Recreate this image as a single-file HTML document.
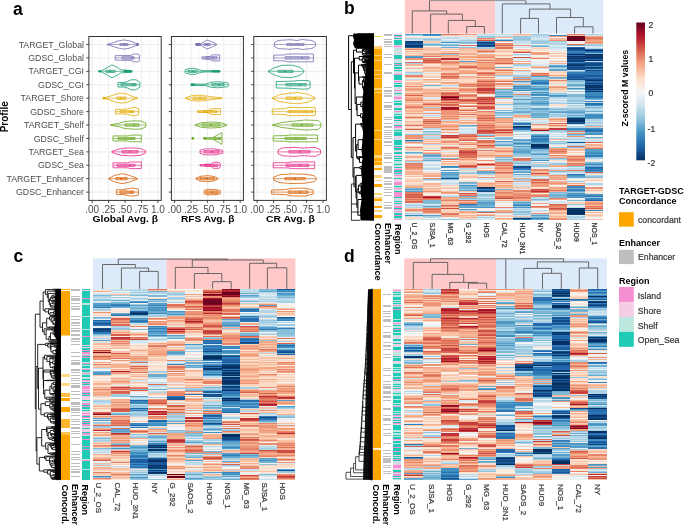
<!DOCTYPE html>
<html><head><meta charset="utf-8"><style>
html,body{margin:0;padding:0;background:#fff;}
body{width:685px;height:526px;position:relative;overflow:hidden;font-family:"Liberation Sans", sans-serif;}
#hm{position:absolute;left:0;top:0;width:685px;height:526px;filter:blur(0.4px);}
#hm div{position:absolute;}
svg{position:absolute;left:0;top:0;filter:blur(0.25px);}
svg text{font-family:"Liberation Sans", sans-serif;}
</style></head><body>
<div id="hm">
<div style="left:404.80px;top:33.60px;width:18.07px;height:186.60px;background:linear-gradient(to bottom,#579fca 0.0px 0.8px,#a2cde2 0.8px 1.6px,#b1d5e7 1.6px 2.4px,#edf2f5 2.4px 3.2px,#fce2d3 3.2px 4.1px,#b1d5e7 4.1px 4.9px,#c1ddec 4.9px 5.7px,#d1e5f0 5.7px 6.5px,#a2cde2 6.5px 7.3px,#0c3e74 7.3px 8.1px,#134b86 8.1px 9.7px,#2166ac 9.7px 10.5px,#134b86 10.5px 11.4px,#053061 11.4px 12.2px,#0c3e74 12.2px 13.0px,#1a5899 13.0px 13.8px,#f6b293 13.8px 14.6px,#f4a582 14.6px 15.4px,#e58268 15.4px 16.2px,#fce2d3 16.2px 17.0px,#f6b293 17.0px 17.8px,#fddbc7 17.8px 18.7px,#fbceb6 18.7px 19.5px,#fce2d3 19.5px 20.3px,#fddbc7 20.3px 21.1px,#f6b293 21.1px 21.9px,#579fca 21.9px 22.7px,#4393c3 22.7px 23.5px,#a2cde2 23.5px 24.3px,#ed9475 24.3px 26.0px,#f7f7f7 26.0px 26.8px,#e4eef4 26.8px 27.6px,#d6604d 27.6px 28.4px,#de715a 28.4px 29.2px,#a2cde2 29.2px 30.0px,#f6b293 30.0px 31.6px,#f7f7f7 31.6px 32.5px,#f4a582 32.5px 33.3px,#fce2d3 33.3px 34.1px,#f6b293 34.1px 34.9px,#edf2f5 34.9px 35.7px,#fae9df 35.7px 36.5px,#fbceb6 36.5px 37.3px,#fddbc7 37.3px 38.1px,#a2cde2 38.1px 38.9px,#c1ddec 38.9px 40.6px,#e4eef4 40.6px 41.4px,#e58268 41.4px 43.0px,#f8c0a4 43.0px 43.8px,#fae9df 43.8px 44.6px,#f8f0eb 44.6px 45.4px,#c1ddec 45.4px 46.2px,#fbceb6 46.2px 47.1px,#fae9df 47.1px 47.9px,#f8c0a4 47.9px 49.5px,#f4a582 49.5px 50.3px,#f6b293 50.3px 51.1px,#fddbc7 51.1px 51.9px,#e58268 51.9px 52.7px,#fbceb6 52.7px 53.5px,#f4a582 53.5px 55.2px,#ed9475 55.2px 56.0px,#f6b293 56.0px 56.8px,#f8c0a4 56.8px 57.6px,#f6b293 57.6px 58.4px,#fddbc7 58.4px 59.2px,#f4a582 59.2px 60.8px,#d6604d 60.8px 61.7px,#f8c0a4 61.7px 62.5px,#e58268 62.5px 63.3px,#f4a582 63.3px 64.9px,#ed9475 64.9px 65.7px,#e58268 65.7px 66.5px,#edf2f5 66.5px 67.3px,#f8c0a4 67.3px 68.1px,#f6b293 68.1px 69.0px,#fddbc7 69.0px 69.8px,#f6b293 69.8px 70.6px,#d1e5f0 70.6px 71.4px,#f6b293 71.4px 72.2px,#e58268 72.2px 73.8px,#f4a582 73.8px 74.6px,#fbceb6 74.6px 75.5px,#f8c0a4 75.5px 76.3px,#f6b293 76.3px 77.9px,#fbceb6 77.9px 78.7px,#f4a582 78.7px 79.5px,#f8c0a4 79.5px 80.3px,#fddbc7 80.3px 81.9px,#f8c0a4 81.9px 82.8px,#de715a 82.8px 83.6px,#f4a582 83.6px 84.4px,#f8c0a4 84.4px 85.2px,#fce2d3 85.2px 86.0px,#fae9df 86.0px 86.8px,#f6b293 86.8px 88.4px,#fddbc7 88.4px 89.2px,#fbceb6 89.2px 90.1px,#f8c0a4 90.1px 90.9px,#de715a 90.9px 91.7px,#fddbc7 91.7px 92.5px,#ed9475 92.5px 93.3px,#fce2d3 93.3px 94.1px,#f8c0a4 94.1px 94.9px,#d6604d 94.9px 95.7px,#daeaf2 95.7px 96.5px,#ed9475 96.5px 97.4px,#fddbc7 97.4px 98.2px,#fae9df 98.2px 99.0px,#e4eef4 99.0px 99.8px,#92c5de 99.8px 100.6px,#c1ddec 100.6px 101.4px,#ed9475 101.4px 104.7px,#fbceb6 104.7px 105.5px,#327db8 105.5px 106.3px,#2a71b2 106.3px 107.1px,#92c5de 107.1px 107.9px,#ed9475 107.9px 108.7px,#f8c0a4 108.7px 109.5px,#e58268 109.5px 110.3px,#f7f7f7 110.3px 111.1px,#edf2f5 111.1px 112.0px,#fddbc7 112.0px 112.8px,#e58268 112.8px 113.6px,#fddbc7 113.6px 114.4px,#fbceb6 114.4px 115.2px,#f8c0a4 115.2px 116.0px,#fddbc7 116.0px 116.8px,#fae9df 116.8px 117.6px,#6aacd0 117.6px 118.5px,#b1d5e7 118.5px 119.3px,#92c5de 119.3px 120.1px,#f8f0eb 120.1px 120.9px,#fddbc7 120.9px 121.7px,#f6b293 121.7px 122.5px,#fbceb6 122.5px 123.3px,#f6b293 123.3px 124.1px,#fce2d3 124.1px 124.9px,#fae9df 124.9px 125.8px,#f6b293 125.8px 127.4px,#a2cde2 127.4px 128.2px,#c1ddec 128.2px 129.0px,#e58268 129.0px 132.2px,#ed9475 132.2px 133.1px,#e58268 133.1px 133.9px,#ed9475 133.9px 134.7px,#f4a582 134.7px 135.5px,#f6b293 135.5px 136.3px,#fbceb6 136.3px 137.1px,#f6b293 137.1px 139.5px,#fbceb6 139.5px 140.4px,#f6b293 140.4px 141.2px,#fce2d3 141.2px 142.0px,#f8c0a4 142.0px 142.8px,#f8f0eb 142.8px 143.6px,#fddbc7 143.6px 144.4px,#fce2d3 144.4px 145.2px,#fbceb6 145.2px 146.8px,#f8c0a4 146.8px 147.7px,#fae9df 147.7px 148.5px,#fce2d3 148.5px 149.3px,#fddbc7 149.3px 150.9px,#f8c0a4 150.9px 151.7px,#f6b293 151.7px 152.5px,#f8c0a4 152.5px 153.3px,#f4a582 153.3px 154.1px,#7eb8d7 154.1px 155.0px,#579fca 155.0px 155.8px,#92c5de 155.8px 156.6px,#a2cde2 156.6px 157.4px,#579fca 157.4px 158.2px,#de715a 158.2px 159.0px,#ed9475 159.0px 159.8px,#cd4e45 159.8px 160.6px,#de715a 160.6px 162.3px,#d6604d 162.3px 163.9px,#ed9475 163.9px 164.7px,#de715a 164.7px 165.5px,#c43c3c 165.5px 166.3px,#ed9475 166.3px 167.1px,#d6604d 167.1px 167.9px,#de715a 167.9px 168.8px,#daeaf2 168.8px 169.6px,#c1ddec 169.6px 171.2px,#a2cde2 171.2px 172.0px,#d1e5f0 172.0px 172.8px,#b1d5e7 172.8px 173.6px,#fddbc7 173.6px 174.4px,#fbceb6 174.4px 175.2px,#ed9475 175.2px 176.1px,#e58268 176.1px 176.9px,#f8c0a4 176.9px 177.7px,#daeaf2 177.7px 178.5px,#d1e5f0 178.5px 179.3px,#b1d5e7 179.3px 180.1px,#c1ddec 180.1px 180.9px,#3a88bd 180.9px 181.7px,#c1ddec 181.7px 182.5px,#f4a582 182.5px 183.4px,#fddbc7 183.4px 185.0px,#d1e5f0 185.0px 186.6px)"></div>
<div style="left:422.85px;top:33.60px;width:18.07px;height:186.60px;background:linear-gradient(to bottom,#3a88bd 0.0px 0.8px,#4393c3 0.8px 1.6px,#e4eef4 1.6px 2.4px,#edf2f5 2.4px 3.2px,#fae9df 3.2px 4.1px,#b1d5e7 4.1px 4.9px,#92c5de 4.9px 5.7px,#b1d5e7 5.7px 6.5px,#d1e5f0 6.5px 7.3px,#fbceb6 7.3px 8.9px,#b1d5e7 8.9px 9.7px,#6aacd0 9.7px 10.5px,#7eb8d7 10.5px 11.4px,#92c5de 11.4px 12.2px,#edf2f5 12.2px 13.0px,#fbceb6 13.0px 13.8px,#f8c0a4 13.8px 14.6px,#f4a582 14.6px 15.4px,#f8c0a4 15.4px 17.0px,#fce2d3 17.0px 17.8px,#fbceb6 17.8px 18.7px,#f6b293 18.7px 19.5px,#f8c0a4 19.5px 20.3px,#ed9475 20.3px 21.1px,#f8c0a4 21.1px 21.9px,#de715a 21.9px 22.7px,#edf2f5 22.7px 23.5px,#f4a582 23.5px 24.3px,#de715a 24.3px 25.2px,#e58268 25.2px 26.0px,#cd4e45 26.0px 26.8px,#de715a 26.8px 27.6px,#f4a582 27.6px 28.4px,#d6604d 28.4px 29.2px,#f6b293 29.2px 30.0px,#fae9df 30.0px 30.8px,#fddbc7 30.8px 32.5px,#ed9475 32.5px 33.3px,#f4a582 33.3px 34.1px,#f6b293 34.1px 34.9px,#fbceb6 34.9px 35.7px,#f8c0a4 35.7px 38.1px,#e4eef4 38.1px 38.9px,#fbceb6 38.9px 39.8px,#fae9df 39.8px 40.6px,#fbceb6 40.6px 41.4px,#fce2d3 41.4px 42.2px,#fbceb6 42.2px 43.8px,#f7f7f7 43.8px 44.6px,#f8c0a4 44.6px 45.4px,#f4a582 45.4px 46.2px,#fbceb6 46.2px 47.9px,#f8c0a4 47.9px 48.7px,#f8f0eb 48.7px 49.5px,#fbceb6 49.5px 51.1px,#6aacd0 51.1px 51.9px,#e4eef4 51.9px 52.7px,#fce2d3 52.7px 53.5px,#fbceb6 53.5px 54.4px,#fddbc7 54.4px 55.2px,#f6b293 55.2px 56.8px,#f8c0a4 56.8px 57.6px,#fbceb6 57.6px 58.4px,#f4a582 58.4px 60.0px,#f6b293 60.0px 60.8px,#f8c0a4 60.8px 61.7px,#f6b293 61.7px 62.5px,#e58268 62.5px 63.3px,#daeaf2 63.3px 64.9px,#fddbc7 64.9px 65.7px,#f4a582 65.7px 66.5px,#f6b293 66.5px 67.3px,#fce2d3 67.3px 68.1px,#f6b293 68.1px 69.0px,#ed9475 69.0px 69.8px,#d6604d 69.8px 70.6px,#f4a582 70.6px 71.4px,#f6b293 71.4px 73.0px,#b1d5e7 73.0px 73.8px,#f4a582 73.8px 74.6px,#f6b293 74.6px 75.5px,#ed9475 75.5px 76.3px,#f4a582 76.3px 77.1px,#fae9df 77.1px 77.9px,#daeaf2 77.9px 78.7px,#ed9475 78.7px 79.5px,#fbceb6 79.5px 80.3px,#e4eef4 80.3px 81.1px,#b1d5e7 81.1px 81.9px,#daeaf2 81.9px 82.8px,#f8c0a4 82.8px 83.6px,#fce2d3 83.6px 85.2px,#e58268 85.2px 86.0px,#ed9475 86.0px 86.8px,#d6604d 86.8px 87.6px,#ed9475 87.6px 89.2px,#de715a 89.2px 90.1px,#f6b293 90.1px 90.9px,#ed9475 90.9px 91.7px,#f4a582 91.7px 92.5px,#edf2f5 92.5px 93.3px,#ed9475 93.3px 94.1px,#c1ddec 94.1px 95.7px,#edf2f5 95.7px 96.5px,#7eb8d7 96.5px 98.2px,#b1d5e7 98.2px 99.8px,#92c5de 99.8px 100.6px,#fce2d3 100.6px 101.4px,#f8c0a4 101.4px 102.2px,#c1ddec 102.2px 103.0px,#b1d5e7 103.0px 103.8px,#c1ddec 103.8px 104.7px,#f6b293 104.7px 105.5px,#fce2d3 105.5px 106.3px,#fddbc7 106.3px 107.1px,#f6b293 107.1px 107.9px,#fce2d3 107.9px 108.7px,#f4a582 108.7px 110.3px,#b1d5e7 110.3px 111.1px,#fce2d3 111.1px 112.8px,#fddbc7 112.8px 113.6px,#f8c0a4 113.6px 114.4px,#d1e5f0 114.4px 115.2px,#fce2d3 115.2px 116.0px,#ed9475 116.0px 116.8px,#f8f0eb 116.8px 117.6px,#f8c0a4 117.6px 118.5px,#ed9475 118.5px 120.1px,#7eb8d7 120.1px 120.9px,#579fca 120.9px 121.7px,#6aacd0 121.7px 122.5px,#b1d5e7 122.5px 123.3px,#c1ddec 123.3px 124.1px,#92c5de 124.1px 124.9px,#a2cde2 124.9px 125.8px,#6aacd0 125.8px 126.6px,#b1d5e7 126.6px 127.4px,#c1ddec 127.4px 128.2px,#edf2f5 128.2px 129.0px,#e4eef4 129.0px 129.8px,#daeaf2 129.8px 130.6px,#c1ddec 130.6px 132.2px,#f7f7f7 132.2px 133.1px,#d1e5f0 133.1px 133.9px,#b1d5e7 133.9px 134.7px,#c1ddec 134.7px 135.5px,#e4eef4 135.5px 136.3px,#edf2f5 136.3px 137.1px,#e4eef4 137.1px 137.9px,#fce2d3 137.9px 138.7px,#f6b293 138.7px 139.5px,#f4a582 139.5px 140.4px,#f8c0a4 140.4px 141.2px,#f4a582 141.2px 142.8px,#edf2f5 142.8px 143.6px,#fbceb6 143.6px 144.4px,#e58268 144.4px 145.2px,#92c5de 145.2px 146.0px,#c1ddec 146.0px 146.8px,#f7f7f7 146.8px 147.7px,#f8f0eb 147.7px 148.5px,#e4eef4 148.5px 149.3px,#f6b293 149.3px 150.9px,#fbceb6 150.9px 151.7px,#f8c0a4 151.7px 152.5px,#fae9df 152.5px 153.3px,#fce2d3 153.3px 154.1px,#f6b293 154.1px 155.0px,#f8c0a4 155.0px 156.6px,#f4a582 156.6px 157.4px,#ed9475 157.4px 158.2px,#fbceb6 158.2px 159.0px,#fce2d3 159.0px 159.8px,#f7f7f7 159.8px 160.6px,#e4eef4 160.6px 161.4px,#fddbc7 161.4px 162.3px,#c43c3c 162.3px 163.1px,#b2182b 163.1px 163.9px,#d6604d 163.9px 164.7px,#e58268 164.7px 165.5px,#a2cde2 165.5px 166.3px,#7eb8d7 166.3px 168.8px,#92c5de 168.8px 170.4px,#d1e5f0 170.4px 171.2px,#c1ddec 171.2px 172.0px,#579fca 172.0px 172.8px,#a2cde2 172.8px 173.6px,#b1d5e7 173.6px 174.4px,#e58268 174.4px 175.2px,#d6604d 175.2px 176.1px,#ed9475 176.1px 176.9px,#de715a 176.9px 177.7px,#ed9475 177.7px 178.5px,#f4a582 178.5px 179.3px,#f6b293 179.3px 180.1px,#edf2f5 180.1px 180.9px,#579fca 180.9px 181.7px,#a2cde2 181.7px 182.5px,#92c5de 182.5px 183.4px,#b1d5e7 183.4px 184.2px,#f8f0eb 184.2px 185.0px,#c1ddec 185.0px 185.8px,#daeaf2 185.8px 186.6px)"></div>
<div style="left:440.89px;top:33.60px;width:18.07px;height:186.60px;background:linear-gradient(to bottom,#e58268 0.0px 0.8px,#f8c0a4 0.8px 1.6px,#f4a582 1.6px 2.4px,#e4eef4 2.4px 3.2px,#c1ddec 3.2px 4.9px,#e4eef4 4.9px 5.7px,#d1e5f0 5.7px 6.5px,#e4eef4 6.5px 7.3px,#b1d5e7 7.3px 8.1px,#4393c3 8.1px 8.9px,#daeaf2 8.9px 9.7px,#92c5de 9.7px 10.5px,#7eb8d7 10.5px 11.4px,#6aacd0 11.4px 12.2px,#daeaf2 12.2px 13.0px,#6aacd0 13.0px 13.8px,#fddbc7 13.8px 14.6px,#fbceb6 14.6px 15.4px,#f8c0a4 15.4px 16.2px,#f7f7f7 16.2px 17.0px,#f6b293 17.0px 17.8px,#fbceb6 17.8px 18.7px,#e58268 18.7px 19.5px,#fae9df 19.5px 20.3px,#92c5de 20.3px 21.1px,#f4a582 21.1px 21.9px,#f6b293 21.9px 22.7px,#f8c0a4 22.7px 23.5px,#ed9475 23.5px 24.3px,#bb2a34 24.3px 26.0px,#fbceb6 26.0px 26.8px,#ed9475 26.8px 27.6px,#d6604d 27.6px 28.4px,#e58268 28.4px 29.2px,#ed9475 29.2px 30.0px,#f6b293 30.0px 30.8px,#f8c0a4 30.8px 31.6px,#fbceb6 31.6px 33.3px,#f8c0a4 33.3px 34.1px,#ed9475 34.1px 34.9px,#f4a582 34.9px 35.7px,#f6b293 35.7px 36.5px,#f8c0a4 36.5px 37.3px,#fbceb6 37.3px 38.9px,#e58268 38.9px 40.6px,#f6b293 40.6px 41.4px,#f4a582 41.4px 42.2px,#d6604d 42.2px 43.0px,#e58268 43.0px 44.6px,#fddbc7 44.6px 46.2px,#fbceb6 46.2px 47.1px,#fce2d3 47.1px 47.9px,#f4a582 47.9px 50.3px,#fddbc7 50.3px 51.1px,#b1d5e7 51.1px 51.9px,#daeaf2 51.9px 52.7px,#fbceb6 52.7px 53.5px,#f6b293 53.5px 54.4px,#f4a582 54.4px 55.2px,#fce2d3 55.2px 56.0px,#f4a582 56.0px 56.8px,#fddbc7 56.8px 58.4px,#e58268 58.4px 59.2px,#d6604d 59.2px 60.0px,#de715a 60.0px 60.8px,#e58268 60.8px 61.7px,#b2182b 61.7px 62.5px,#7a0622 62.5px 63.3px,#67001F 63.3px 64.1px,#c43c3c 64.1px 64.9px,#b2182b 64.9px 65.7px,#de715a 65.7px 66.5px,#e58268 66.5px 67.3px,#f4a582 67.3px 68.1px,#d6604d 68.1px 69.0px,#f4a582 69.0px 69.8px,#d6604d 69.8px 70.6px,#b2182b 70.6px 71.4px,#de715a 71.4px 72.2px,#f6b293 72.2px 73.0px,#9f1228 73.0px 74.6px,#b2182b 74.6px 75.5px,#f6b293 75.5px 76.3px,#ed9475 76.3px 81.1px,#f6b293 81.1px 81.9px,#e58268 81.9px 82.8px,#f6b293 82.8px 83.6px,#de715a 83.6px 84.4px,#e58268 84.4px 85.2px,#f6b293 85.2px 86.0px,#c1ddec 86.0px 86.8px,#f4a582 86.8px 87.6px,#ed9475 87.6px 88.4px,#f6b293 88.4px 89.2px,#fddbc7 89.2px 90.1px,#f6b293 90.1px 90.9px,#f4a582 90.9px 91.7px,#ed9475 91.7px 92.5px,#edf2f5 92.5px 93.3px,#f6b293 93.3px 94.1px,#f8c0a4 94.1px 94.9px,#e58268 94.9px 95.7px,#fbceb6 95.7px 97.4px,#e4eef4 97.4px 98.2px,#f4a582 98.2px 99.0px,#fae9df 99.0px 99.8px,#e4eef4 99.8px 101.4px,#c43c3c 101.4px 102.2px,#cd4e45 102.2px 103.0px,#c43c3c 103.0px 103.8px,#ed9475 103.8px 104.7px,#fae9df 104.7px 105.5px,#e58268 105.5px 106.3px,#f6b293 106.3px 107.1px,#ed9475 107.1px 108.7px,#fbceb6 108.7px 109.5px,#f8c0a4 109.5px 111.1px,#e4eef4 111.1px 112.0px,#f8c0a4 112.0px 112.8px,#de715a 112.8px 113.6px,#e58268 113.6px 115.2px,#f8c0a4 115.2px 116.0px,#fce2d3 116.0px 116.8px,#daeaf2 116.8px 117.6px,#fbceb6 117.6px 118.5px,#fce2d3 118.5px 119.3px,#f8f0eb 119.3px 120.1px,#f8c0a4 120.1px 121.7px,#f4a582 121.7px 122.5px,#3a88bd 122.5px 123.3px,#edf2f5 123.3px 124.1px,#7eb8d7 124.1px 124.9px,#de715a 124.9px 125.8px,#f8f0eb 125.8px 126.6px,#f4a582 126.6px 128.2px,#fce2d3 128.2px 129.0px,#f6b293 129.0px 129.8px,#fbceb6 129.8px 131.4px,#fddbc7 131.4px 132.2px,#3a88bd 132.2px 133.1px,#4393c3 133.1px 133.9px,#edf2f5 133.9px 135.5px,#f8c0a4 135.5px 136.3px,#4393c3 136.3px 137.1px,#edf2f5 137.1px 137.9px,#579fca 137.9px 138.7px,#6aacd0 138.7px 139.5px,#7eb8d7 139.5px 140.4px,#579fca 140.4px 141.2px,#6aacd0 141.2px 142.0px,#7eb8d7 142.0px 142.8px,#579fca 142.8px 143.6px,#6aacd0 143.6px 144.4px,#1a5899 144.4px 145.2px,#7eb8d7 145.2px 146.0px,#daeaf2 146.0px 146.8px,#e4eef4 146.8px 147.7px,#d1e5f0 147.7px 148.5px,#7eb8d7 148.5px 149.3px,#c1ddec 149.3px 150.1px,#d1e5f0 150.1px 150.9px,#fbceb6 150.9px 151.7px,#f8f0eb 151.7px 152.5px,#daeaf2 152.5px 153.3px,#fbceb6 153.3px 154.1px,#f8c0a4 154.1px 155.0px,#fae9df 155.0px 157.4px,#f8c0a4 157.4px 158.2px,#ed9475 158.2px 159.0px,#f4a582 159.0px 159.8px,#f8f0eb 159.8px 160.6px,#ed9475 160.6px 161.4px,#d1e5f0 161.4px 162.3px,#b1d5e7 162.3px 163.1px,#f4a582 163.1px 163.9px,#f6b293 163.9px 164.7px,#f4a582 164.7px 165.5px,#579fca 165.5px 166.3px,#e58268 166.3px 167.1px,#f8c0a4 167.1px 167.9px,#fbceb6 167.9px 168.8px,#f8c0a4 168.8px 169.6px,#f6b293 169.6px 170.4px,#fbceb6 170.4px 171.2px,#d6604d 171.2px 172.0px,#ed9475 172.0px 172.8px,#f8c0a4 172.8px 173.6px,#de715a 173.6px 174.4px,#cd4e45 174.4px 175.2px,#fbceb6 175.2px 176.1px,#fddbc7 176.1px 176.9px,#fbceb6 176.9px 178.5px,#f6b293 178.5px 179.3px,#e58268 179.3px 180.1px,#de715a 180.1px 180.9px,#f6b293 180.9px 181.7px,#f4a582 181.7px 183.4px,#edf2f5 183.4px 185.0px,#92c5de 185.0px 185.8px,#fae9df 185.8px 186.6px)"></div>
<div style="left:458.94px;top:33.60px;width:18.07px;height:186.60px;background:linear-gradient(to bottom,#ed9475 0.0px 0.8px,#e4eef4 0.8px 1.6px,#e58268 1.6px 2.4px,#fbceb6 2.4px 3.2px,#e4eef4 3.2px 4.1px,#d1e5f0 4.1px 5.7px,#a2cde2 5.7px 6.5px,#b1d5e7 6.5px 8.1px,#7eb8d7 8.1px 8.9px,#92c5de 8.9px 9.7px,#edf2f5 9.7px 10.5px,#f7f7f7 10.5px 11.4px,#de715a 11.4px 12.2px,#daeaf2 12.2px 13.0px,#92c5de 13.0px 13.8px,#f6b293 13.8px 14.6px,#fddbc7 14.6px 15.4px,#f8c0a4 15.4px 17.0px,#fbceb6 17.0px 18.7px,#f6b293 18.7px 20.3px,#f4a582 20.3px 21.1px,#fddbc7 21.1px 21.9px,#f4a582 21.9px 24.3px,#fbceb6 24.3px 25.2px,#f6b293 25.2px 26.0px,#fddbc7 26.0px 26.8px,#579fca 26.8px 27.6px,#6aacd0 27.6px 28.4px,#f6b293 28.4px 30.0px,#fbceb6 30.0px 30.8px,#f4a582 30.8px 31.6px,#de715a 31.6px 32.5px,#ed9475 32.5px 33.3px,#d6604d 33.3px 34.1px,#f4a582 34.1px 34.9px,#fddbc7 34.9px 35.7px,#f6b293 35.7px 36.5px,#fbceb6 36.5px 37.3px,#f4a582 37.3px 38.9px,#ed9475 38.9px 39.8px,#fce2d3 39.8px 40.6px,#ed9475 40.6px 41.4px,#e4eef4 41.4px 42.2px,#f4a582 42.2px 43.0px,#f8c0a4 43.0px 44.6px,#fddbc7 44.6px 47.9px,#fbceb6 47.9px 48.7px,#f6b293 48.7px 49.5px,#ed9475 49.5px 50.3px,#de715a 50.3px 51.1px,#ed9475 51.1px 51.9px,#e58268 51.9px 52.7px,#fddbc7 52.7px 53.5px,#f8c0a4 53.5px 54.4px,#f4a582 54.4px 55.2px,#e58268 55.2px 56.0px,#ed9475 56.0px 56.8px,#f4a582 56.8px 57.6px,#f8c0a4 57.6px 58.4px,#f6b293 58.4px 59.2px,#fae9df 59.2px 60.0px,#ed9475 60.0px 60.8px,#de715a 60.8px 61.7px,#e58268 61.7px 62.5px,#de715a 62.5px 63.3px,#f8c0a4 63.3px 64.9px,#d6604d 64.9px 65.7px,#cd4e45 65.7px 66.5px,#f4a582 66.5px 67.3px,#de715a 67.3px 68.1px,#f4a582 68.1px 69.0px,#ed9475 69.0px 69.8px,#f7f7f7 69.8px 70.6px,#f6b293 70.6px 71.4px,#f4a582 71.4px 72.2px,#d6604d 72.2px 73.0px,#fae9df 73.0px 73.8px,#fbceb6 73.8px 74.6px,#f6b293 74.6px 76.3px,#d6604d 76.3px 77.1px,#fddbc7 77.1px 77.9px,#f4a582 77.9px 78.7px,#f8c0a4 78.7px 80.3px,#de715a 80.3px 81.1px,#fddbc7 81.1px 81.9px,#f6b293 81.9px 82.8px,#fbceb6 82.8px 83.6px,#fce2d3 83.6px 84.4px,#fbceb6 84.4px 85.2px,#daeaf2 85.2px 86.0px,#f6b293 86.0px 86.8px,#fddbc7 86.8px 87.6px,#f8c0a4 87.6px 88.4px,#f4a582 88.4px 89.2px,#f6b293 89.2px 90.1px,#fddbc7 90.1px 90.9px,#6aacd0 90.9px 91.7px,#92c5de 91.7px 92.5px,#7eb8d7 92.5px 93.3px,#f8f0eb 93.3px 94.1px,#d1e5f0 94.1px 95.7px,#daeaf2 95.7px 96.5px,#e4eef4 96.5px 97.4px,#daeaf2 97.4px 98.2px,#d1e5f0 98.2px 99.0px,#c1ddec 99.0px 99.8px,#e58268 99.8px 100.6px,#f7f7f7 100.6px 101.4px,#de715a 101.4px 102.2px,#d6604d 102.2px 103.0px,#f4a582 103.0px 103.8px,#ed9475 103.8px 104.7px,#e58268 104.7px 105.5px,#c43c3c 105.5px 106.3px,#d6604d 106.3px 107.1px,#f7f7f7 107.1px 107.9px,#f4a582 107.9px 108.7px,#f6b293 108.7px 109.5px,#f8c0a4 109.5px 110.3px,#e58268 110.3px 111.1px,#fce2d3 111.1px 112.0px,#fbceb6 112.0px 112.8px,#fce2d3 112.8px 113.6px,#f4a582 113.6px 114.4px,#ed9475 114.4px 115.2px,#f4a582 115.2px 116.0px,#de715a 116.0px 116.8px,#cd4e45 116.8px 117.6px,#c43c3c 117.6px 118.5px,#cd4e45 118.5px 119.3px,#d6604d 119.3px 120.9px,#de715a 120.9px 124.1px,#f6b293 124.1px 124.9px,#ed9475 124.9px 125.8px,#f8c0a4 125.8px 127.4px,#fddbc7 127.4px 128.2px,#f8c0a4 128.2px 129.8px,#f6b293 129.8px 130.6px,#f4a582 130.6px 131.4px,#de715a 131.4px 132.2px,#c43c3c 132.2px 133.1px,#e58268 133.1px 133.9px,#b1d5e7 133.9px 134.7px,#c1ddec 134.7px 135.5px,#fddbc7 135.5px 136.3px,#fbceb6 136.3px 137.1px,#daeaf2 137.1px 137.9px,#a2cde2 137.9px 138.7px,#92c5de 138.7px 139.5px,#daeaf2 139.5px 140.4px,#fddbc7 140.4px 142.0px,#f8c0a4 142.0px 143.6px,#d1e5f0 143.6px 144.4px,#fce2d3 144.4px 145.2px,#f7f7f7 145.2px 146.0px,#fae9df 146.0px 146.8px,#fddbc7 146.8px 147.7px,#6aacd0 147.7px 148.5px,#92c5de 148.5px 149.3px,#7eb8d7 149.3px 150.1px,#c1ddec 150.1px 150.9px,#4393c3 150.9px 151.7px,#7eb8d7 151.7px 152.5px,#6aacd0 152.5px 154.1px,#7eb8d7 154.1px 155.0px,#92c5de 155.0px 155.8px,#6aacd0 155.8px 156.6px,#fbceb6 156.6px 157.4px,#f8c0a4 157.4px 158.2px,#e4eef4 158.2px 159.0px,#cd4e45 159.0px 159.8px,#ed9475 159.8px 161.4px,#de715a 161.4px 162.3px,#6aacd0 162.3px 163.1px,#f4a582 163.1px 163.9px,#7eb8d7 163.9px 164.7px,#b1d5e7 164.7px 165.5px,#92c5de 165.5px 166.3px,#de715a 166.3px 167.1px,#f8c0a4 167.1px 167.9px,#ed9475 167.9px 168.8px,#e58268 168.8px 169.6px,#f4a582 169.6px 170.4px,#2a71b2 170.4px 171.2px,#579fca 171.2px 172.0px,#6aacd0 172.0px 172.8px,#579fca 172.8px 173.6px,#4393c3 173.6px 174.4px,#f8f0eb 174.4px 175.2px,#4393c3 175.2px 176.1px,#c1ddec 176.1px 176.9px,#f4a582 176.9px 178.5px,#fddbc7 178.5px 179.3px,#fbceb6 179.3px 180.1px,#fce2d3 180.1px 180.9px,#f6b293 180.9px 181.7px,#fbceb6 181.7px 182.5px,#de715a 182.5px 183.4px,#f6b293 183.4px 184.2px,#fbceb6 184.2px 185.0px,#c1ddec 185.0px 185.8px,#f8c0a4 185.8px 186.6px)"></div>
<div style="left:476.98px;top:33.60px;width:18.07px;height:186.60px;background:linear-gradient(to bottom,#c1ddec 0.0px 0.8px,#d1e5f0 0.8px 1.6px,#7eb8d7 1.6px 2.4px,#92c5de 2.4px 3.2px,#a2cde2 3.2px 4.1px,#e58268 4.1px 4.9px,#f6b293 4.9px 5.7px,#cd4e45 5.7px 6.5px,#ed9475 6.5px 7.3px,#579fca 7.3px 8.1px,#0c3e74 8.1px 8.9px,#1a5899 8.9px 9.7px,#2166ac 9.7px 10.5px,#1a5899 10.5px 11.4px,#0c3e74 11.4px 12.2px,#1a5899 12.2px 13.0px,#a2cde2 13.0px 14.6px,#de715a 14.6px 15.4px,#f6b293 15.4px 16.2px,#f4a582 16.2px 17.0px,#de715a 17.0px 17.8px,#f6b293 17.8px 18.7px,#daeaf2 18.7px 19.5px,#ed9475 19.5px 20.3px,#f6b293 20.3px 21.1px,#f4a582 21.1px 22.7px,#e58268 22.7px 23.5px,#fbceb6 23.5px 25.2px,#f6b293 25.2px 26.0px,#e58268 26.0px 26.8px,#f8c0a4 26.8px 27.6px,#de715a 27.6px 28.4px,#e58268 28.4px 29.2px,#f4a582 29.2px 32.5px,#e58268 32.5px 33.3px,#ed9475 33.3px 34.1px,#e58268 34.1px 34.9px,#f4a582 34.9px 35.7px,#fbceb6 35.7px 36.5px,#f8c0a4 36.5px 37.3px,#fbceb6 37.3px 38.1px,#e58268 38.1px 38.9px,#d6604d 38.9px 39.8px,#ed9475 39.8px 40.6px,#e58268 40.6px 41.4px,#ed9475 41.4px 42.2px,#fddbc7 42.2px 43.0px,#e58268 43.0px 43.8px,#fddbc7 43.8px 44.6px,#f6b293 44.6px 45.4px,#f4a582 45.4px 46.2px,#ed9475 46.2px 47.1px,#d6604d 47.1px 47.9px,#ed9475 47.9px 48.7px,#e58268 48.7px 49.5px,#cd4e45 49.5px 50.3px,#de715a 50.3px 51.1px,#d6604d 51.1px 51.9px,#e58268 51.9px 52.7px,#ed9475 52.7px 53.5px,#c43c3c 53.5px 56.8px,#de715a 56.8px 58.4px,#cd4e45 58.4px 59.2px,#e58268 59.2px 60.0px,#fce2d3 60.0px 60.8px,#f8f0eb 60.8px 61.7px,#fbceb6 61.7px 62.5px,#d6604d 62.5px 63.3px,#cd4e45 63.3px 64.9px,#c43c3c 64.9px 65.7px,#de715a 65.7px 66.5px,#ed9475 66.5px 67.3px,#cd4e45 67.3px 68.1px,#e58268 68.1px 69.0px,#bb2a34 69.0px 69.8px,#ed9475 69.8px 70.6px,#d6604d 70.6px 71.4px,#f4a582 71.4px 72.2px,#d6604d 72.2px 73.0px,#cd4e45 73.0px 74.6px,#ed9475 74.6px 75.5px,#d6604d 75.5px 76.3px,#e4eef4 76.3px 77.1px,#e58268 77.1px 77.9px,#f4a582 77.9px 78.7px,#f6b293 78.7px 79.5px,#d6604d 79.5px 80.3px,#f6b293 80.3px 81.1px,#de715a 81.1px 81.9px,#ed9475 81.9px 82.8px,#e58268 82.8px 83.6px,#f4a582 83.6px 84.4px,#d6604d 84.4px 85.2px,#ed9475 85.2px 86.0px,#de715a 86.0px 86.8px,#f4a582 86.8px 87.6px,#92c5de 87.6px 88.4px,#f6b293 88.4px 89.2px,#ed9475 89.2px 90.1px,#f4a582 90.1px 90.9px,#d6604d 90.9px 91.7px,#ed9475 91.7px 92.5px,#f4a582 92.5px 93.3px,#de715a 93.3px 94.1px,#ed9475 94.1px 94.9px,#e58268 94.9px 95.7px,#cd4e45 95.7px 96.5px,#e58268 96.5px 97.4px,#c43c3c 97.4px 98.2px,#d6604d 98.2px 99.8px,#c1ddec 99.8px 100.6px,#e4eef4 100.6px 101.4px,#7eb8d7 101.4px 102.2px,#e58268 102.2px 103.0px,#fae9df 103.0px 103.8px,#92c5de 103.8px 104.7px,#edf2f5 104.7px 105.5px,#6aacd0 105.5px 106.3px,#de715a 106.3px 108.7px,#f4a582 108.7px 109.5px,#de715a 109.5px 110.3px,#f6b293 110.3px 111.1px,#cd4e45 111.1px 112.0px,#ed9475 112.0px 112.8px,#e58268 112.8px 113.6px,#fce2d3 113.6px 114.4px,#f8c0a4 114.4px 115.2px,#d1e5f0 115.2px 116.0px,#e58268 116.0px 116.8px,#fbceb6 116.8px 117.6px,#f8c0a4 117.6px 118.5px,#f4a582 118.5px 119.3px,#f8c0a4 119.3px 120.9px,#ed9475 120.9px 121.7px,#f6b293 121.7px 123.3px,#fbceb6 123.3px 124.1px,#edf2f5 124.1px 124.9px,#f8f0eb 124.9px 125.8px,#ed9475 125.8px 126.6px,#daeaf2 126.6px 127.4px,#fce2d3 127.4px 128.2px,#f7f7f7 128.2px 129.0px,#ed9475 129.0px 129.8px,#bb2a34 129.8px 130.6px,#b1d5e7 130.6px 131.4px,#ed9475 131.4px 132.2px,#fce2d3 132.2px 133.1px,#d1e5f0 133.1px 133.9px,#fbceb6 133.9px 134.7px,#f8f0eb 134.7px 135.5px,#fbceb6 135.5px 136.3px,#f4a582 136.3px 137.1px,#6aacd0 137.1px 137.9px,#579fca 137.9px 138.7px,#7eb8d7 138.7px 139.5px,#6aacd0 139.5px 140.4px,#b1d5e7 140.4px 141.2px,#fddbc7 141.2px 142.0px,#e4eef4 142.0px 142.8px,#ed9475 142.8px 143.6px,#f8f0eb 143.6px 144.4px,#d1e5f0 144.4px 146.0px,#edf2f5 146.0px 146.8px,#f8f0eb 146.8px 147.7px,#fbceb6 147.7px 148.5px,#f4a582 148.5px 150.1px,#f6b293 150.1px 152.5px,#ed9475 152.5px 153.3px,#053061 153.3px 154.1px,#0c3e74 154.1px 155.0px,#3a88bd 155.0px 155.8px,#1a5899 155.8px 156.6px,#053061 156.6px 157.4px,#134b86 157.4px 158.2px,#c1ddec 158.2px 159.0px,#d1e5f0 159.0px 159.8px,#92c5de 159.8px 160.6px,#d1e5f0 160.6px 161.4px,#92c5de 161.4px 162.3px,#b1d5e7 162.3px 163.1px,#d1e5f0 163.1px 163.9px,#92c5de 163.9px 164.7px,#b1d5e7 164.7px 165.5px,#579fca 165.5px 166.3px,#7eb8d7 166.3px 167.9px,#579fca 167.9px 170.4px,#6aacd0 170.4px 172.0px,#7eb8d7 172.0px 172.8px,#4393c3 172.8px 173.6px,#f6b293 173.6px 174.4px,#fae9df 174.4px 175.2px,#f7f7f7 175.2px 176.1px,#f8f0eb 176.1px 176.9px,#7eb8d7 176.9px 177.7px,#d6604d 177.7px 178.5px,#ed9475 178.5px 179.3px,#fae9df 179.3px 180.1px,#f8c0a4 180.1px 180.9px,#ed9475 180.9px 181.7px,#daeaf2 181.7px 182.5px,#f7f7f7 182.5px 183.4px,#a2cde2 183.4px 184.2px,#daeaf2 184.2px 185.8px,#fce2d3 185.8px 186.6px)"></div>
<div style="left:495.03px;top:33.60px;width:18.07px;height:186.60px;background:linear-gradient(to bottom,#c1ddec 0.0px 0.8px,#daeaf2 0.8px 1.6px,#a2cde2 1.6px 2.4px,#b1d5e7 2.4px 3.2px,#f6b293 3.2px 4.1px,#f7f7f7 4.1px 4.9px,#a2cde2 4.9px 5.7px,#327db8 5.7px 6.5px,#ed9475 6.5px 7.3px,#f8c0a4 7.3px 8.1px,#f7f7f7 8.1px 8.9px,#e58268 8.9px 9.7px,#ed9475 9.7px 10.5px,#e58268 10.5px 11.4px,#d6604d 11.4px 12.2px,#f6b293 12.2px 13.0px,#de715a 13.0px 14.6px,#fbceb6 14.6px 15.4px,#fddbc7 15.4px 16.2px,#fbceb6 16.2px 17.0px,#f8c0a4 17.0px 17.8px,#fddbc7 17.8px 18.7px,#fae9df 18.7px 20.3px,#fddbc7 20.3px 21.1px,#f6b293 21.1px 21.9px,#fddbc7 21.9px 22.7px,#fae9df 22.7px 23.5px,#f4a582 23.5px 24.3px,#e58268 24.3px 25.2px,#ed9475 25.2px 26.8px,#f4a582 26.8px 27.6px,#e58268 27.6px 28.4px,#ed9475 28.4px 29.2px,#d6604d 29.2px 30.0px,#f8c0a4 30.0px 30.8px,#f7f7f7 30.8px 31.6px,#fddbc7 31.6px 32.5px,#92c5de 32.5px 33.3px,#7eb8d7 33.3px 34.1px,#fce2d3 34.1px 34.9px,#f6b293 34.9px 35.7px,#de715a 35.7px 36.5px,#fbceb6 36.5px 38.1px,#f4a582 38.1px 38.9px,#f8c0a4 38.9px 39.8px,#f6b293 39.8px 40.6px,#a2cde2 40.6px 42.2px,#c1ddec 42.2px 43.0px,#edf2f5 43.0px 43.8px,#e4eef4 43.8px 44.6px,#fae9df 44.6px 45.4px,#fbceb6 45.4px 46.2px,#f6b293 46.2px 47.1px,#de715a 47.1px 47.9px,#fae9df 47.9px 48.7px,#ed9475 48.7px 49.5px,#f4a582 49.5px 50.3px,#e58268 50.3px 51.1px,#fbceb6 51.1px 51.9px,#f8c0a4 51.9px 52.7px,#edf2f5 52.7px 53.5px,#daeaf2 53.5px 54.4px,#f6b293 54.4px 55.2px,#6aacd0 55.2px 56.0px,#a2cde2 56.0px 56.8px,#7eb8d7 56.8px 57.6px,#a2cde2 57.6px 58.4px,#6aacd0 58.4px 59.2px,#7eb8d7 59.2px 60.8px,#92c5de 60.8px 61.7px,#4393c3 61.7px 62.5px,#6aacd0 62.5px 63.3px,#7eb8d7 63.3px 64.1px,#f6b293 64.1px 64.9px,#edf2f5 64.9px 65.7px,#daeaf2 65.7px 66.5px,#edf2f5 66.5px 67.3px,#f7f7f7 67.3px 68.1px,#fbceb6 68.1px 69.0px,#fddbc7 69.0px 69.8px,#92c5de 69.8px 70.6px,#c1ddec 70.6px 71.4px,#d1e5f0 71.4px 72.2px,#edf2f5 72.2px 73.0px,#e4eef4 73.0px 73.8px,#fddbc7 73.8px 74.6px,#f8f0eb 74.6px 75.5px,#f7f7f7 75.5px 76.3px,#7eb8d7 76.3px 77.1px,#daeaf2 77.1px 77.9px,#6aacd0 77.9px 78.7px,#92c5de 78.7px 79.5px,#a2cde2 79.5px 80.3px,#92c5de 80.3px 81.1px,#a2cde2 81.1px 81.9px,#e4eef4 81.9px 82.8px,#7eb8d7 82.8px 84.4px,#f4a582 84.4px 86.8px,#f6b293 86.8px 87.6px,#f8c0a4 87.6px 88.4px,#ed9475 88.4px 89.2px,#fbceb6 89.2px 90.1px,#f8c0a4 90.1px 90.9px,#f6b293 90.9px 91.7px,#f4a582 91.7px 92.5px,#ed9475 92.5px 94.1px,#f8c0a4 94.1px 94.9px,#de715a 94.9px 95.7px,#c43c3c 95.7px 96.5px,#f4a582 96.5px 97.4px,#f6b293 97.4px 98.2px,#c43c3c 98.2px 99.0px,#f4a582 99.0px 99.8px,#f6b293 99.8px 100.6px,#b1d5e7 100.6px 101.4px,#f6b293 101.4px 102.2px,#fce2d3 102.2px 103.0px,#92c5de 103.0px 103.8px,#7eb8d7 103.8px 104.7px,#92c5de 104.7px 105.5px,#579fca 105.5px 106.3px,#f8f0eb 106.3px 107.1px,#579fca 107.1px 107.9px,#a2cde2 107.9px 108.7px,#b1d5e7 108.7px 109.5px,#a2cde2 109.5px 110.3px,#7eb8d7 110.3px 111.1px,#579fca 111.1px 112.0px,#d1e5f0 112.0px 112.8px,#fbceb6 112.8px 114.4px,#f6b293 114.4px 115.2px,#f8c0a4 115.2px 116.0px,#f4a582 116.0px 116.8px,#e58268 116.8px 117.6px,#f8c0a4 117.6px 118.5px,#fbceb6 118.5px 120.9px,#ed9475 120.9px 121.7px,#f4a582 121.7px 122.5px,#92c5de 122.5px 123.3px,#7eb8d7 123.3px 124.1px,#c1ddec 124.1px 124.9px,#7eb8d7 124.9px 125.8px,#b1d5e7 125.8px 126.6px,#92c5de 126.6px 127.4px,#a2cde2 127.4px 128.2px,#e58268 128.2px 129.8px,#ed9475 129.8px 130.6px,#e58268 130.6px 131.4px,#de715a 131.4px 132.2px,#f4a582 132.2px 133.1px,#ed9475 133.1px 133.9px,#e58268 133.9px 134.7px,#f4a582 134.7px 135.5px,#de715a 135.5px 136.3px,#f4a582 136.3px 137.1px,#f8c0a4 137.1px 137.9px,#d6604d 137.9px 138.7px,#ed9475 138.7px 139.5px,#e58268 139.5px 140.4px,#f8c0a4 140.4px 142.8px,#f6b293 142.8px 143.6px,#fbceb6 143.6px 144.4px,#fddbc7 144.4px 145.2px,#fbceb6 145.2px 146.0px,#fce2d3 146.0px 146.8px,#d6604d 146.8px 147.7px,#f8c0a4 147.7px 148.5px,#fddbc7 148.5px 149.3px,#f6b293 149.3px 150.1px,#fbceb6 150.1px 150.9px,#f4a582 150.9px 151.7px,#f6b293 151.7px 152.5px,#fbceb6 152.5px 153.3px,#f6b293 153.3px 154.1px,#fbceb6 154.1px 155.0px,#7eb8d7 155.0px 155.8px,#f4a582 155.8px 156.6px,#e4eef4 156.6px 157.4px,#f6b293 157.4px 158.2px,#e58268 158.2px 159.0px,#ed9475 159.0px 159.8px,#f4a582 159.8px 160.6px,#e58268 160.6px 161.4px,#f4a582 161.4px 162.3px,#de715a 162.3px 163.9px,#cd4e45 163.9px 164.7px,#fbceb6 164.7px 165.5px,#f4a582 165.5px 167.1px,#e4eef4 167.1px 167.9px,#fddbc7 167.9px 168.8px,#edf2f5 168.8px 171.2px,#fae9df 171.2px 172.0px,#f7f7f7 172.0px 172.8px,#e58268 172.8px 173.6px,#edf2f5 173.6px 174.4px,#d1e5f0 174.4px 175.2px,#fae9df 175.2px 176.1px,#f6b293 176.1px 176.9px,#f4a582 176.9px 177.7px,#ed9475 177.7px 178.5px,#daeaf2 178.5px 179.3px,#d1e5f0 179.3px 180.1px,#edf2f5 180.1px 180.9px,#fbceb6 180.9px 182.5px,#f4a582 182.5px 183.4px,#edf2f5 183.4px 184.2px,#f4a582 184.2px 185.0px,#f8c0a4 185.0px 185.8px,#f4a582 185.8px 186.6px)"></div>
<div style="left:513.07px;top:33.60px;width:18.07px;height:186.60px;background:linear-gradient(to bottom,#f6b293 0.0px 0.8px,#fddbc7 0.8px 1.6px,#a2cde2 1.6px 2.4px,#92c5de 2.4px 3.2px,#a2cde2 3.2px 4.1px,#92c5de 4.1px 5.7px,#a2cde2 5.7px 6.5px,#6aacd0 6.5px 7.3px,#d1e5f0 7.3px 8.1px,#c1ddec 8.1px 8.9px,#d1e5f0 8.9px 9.7px,#e4eef4 9.7px 10.5px,#c43c3c 10.5px 11.4px,#ed9475 11.4px 12.2px,#e4eef4 12.2px 13.0px,#d1e5f0 13.0px 13.8px,#f7f7f7 13.8px 14.6px,#c1ddec 14.6px 15.4px,#f8c0a4 15.4px 16.2px,#fddbc7 16.2px 17.0px,#f4a582 17.0px 17.8px,#cd4e45 17.8px 18.7px,#edf2f5 18.7px 19.5px,#c1ddec 19.5px 20.3px,#a2cde2 20.3px 21.1px,#d1e5f0 21.1px 21.9px,#edf2f5 21.9px 22.7px,#cd4e45 22.7px 23.5px,#ed9475 23.5px 24.3px,#daeaf2 24.3px 25.2px,#d1e5f0 25.2px 26.0px,#edf2f5 26.0px 26.8px,#f4a582 26.8px 27.6px,#d1e5f0 27.6px 28.4px,#f7f7f7 28.4px 29.2px,#f4a582 29.2px 30.0px,#a2cde2 30.0px 31.6px,#d1e5f0 31.6px 32.5px,#ed9475 32.5px 33.3px,#edf2f5 33.3px 34.1px,#fddbc7 34.1px 34.9px,#f7f7f7 34.9px 35.7px,#f4a582 35.7px 36.5px,#fae9df 36.5px 37.3px,#c1ddec 37.3px 38.1px,#daeaf2 38.1px 38.9px,#fce2d3 38.9px 39.8px,#daeaf2 39.8px 40.6px,#d1e5f0 40.6px 41.4px,#a2cde2 41.4px 43.0px,#ed9475 43.0px 43.8px,#7eb8d7 43.8px 45.4px,#e58268 45.4px 46.2px,#f8c0a4 46.2px 47.1px,#4393c3 47.1px 47.9px,#b1d5e7 47.9px 48.7px,#c1ddec 48.7px 49.5px,#ed9475 49.5px 50.3px,#f6b293 50.3px 51.1px,#7eb8d7 51.1px 51.9px,#4393c3 51.9px 52.7px,#579fca 52.7px 53.5px,#4393c3 53.5px 55.2px,#7eb8d7 55.2px 56.0px,#3a88bd 56.0px 56.8px,#f8f0eb 56.8px 57.6px,#7eb8d7 57.6px 58.4px,#b1d5e7 58.4px 59.2px,#d1e5f0 59.2px 60.0px,#e58268 60.0px 60.8px,#a2cde2 60.8px 61.7px,#92c5de 61.7px 62.5px,#a2cde2 62.5px 63.3px,#c1ddec 63.3px 64.1px,#b1d5e7 64.1px 64.9px,#579fca 64.9px 65.7px,#a2cde2 65.7px 66.5px,#6aacd0 66.5px 67.3px,#b1d5e7 67.3px 68.1px,#92c5de 68.1px 69.0px,#6aacd0 69.0px 69.8px,#7eb8d7 69.8px 70.6px,#b1d5e7 70.6px 72.2px,#a2cde2 72.2px 73.0px,#b1d5e7 73.0px 73.8px,#7eb8d7 73.8px 74.6px,#92c5de 74.6px 75.5px,#7eb8d7 75.5px 76.3px,#a2cde2 76.3px 77.1px,#6aacd0 77.1px 78.7px,#a2cde2 78.7px 79.5px,#579fca 79.5px 80.3px,#b1d5e7 80.3px 81.1px,#f4a582 81.1px 82.8px,#f8c0a4 82.8px 83.6px,#fbceb6 83.6px 84.4px,#daeaf2 84.4px 85.2px,#e4eef4 85.2px 86.0px,#c1ddec 86.0px 86.8px,#e4eef4 86.8px 87.6px,#579fca 87.6px 88.4px,#7eb8d7 88.4px 89.2px,#2a71b2 89.2px 90.1px,#327db8 90.1px 90.9px,#a2cde2 90.9px 91.7px,#053061 91.7px 92.5px,#0c3e74 92.5px 93.3px,#134b86 93.3px 94.1px,#2a71b2 94.1px 95.7px,#92c5de 95.7px 96.5px,#daeaf2 96.5px 97.4px,#a2cde2 97.4px 98.2px,#f7f7f7 98.2px 99.0px,#e4eef4 99.0px 99.8px,#b1d5e7 99.8px 100.6px,#e4eef4 100.6px 101.4px,#f8f0eb 101.4px 102.2px,#d1e5f0 102.2px 103.0px,#edf2f5 103.0px 103.8px,#f8f0eb 103.8px 104.7px,#6aacd0 104.7px 105.5px,#7eb8d7 105.5px 106.3px,#579fca 106.3px 107.1px,#92c5de 107.1px 107.9px,#7eb8d7 107.9px 108.7px,#3a88bd 108.7px 109.5px,#579fca 109.5px 110.3px,#6aacd0 110.3px 111.1px,#b1d5e7 111.1px 112.0px,#579fca 112.0px 112.8px,#92c5de 112.8px 113.6px,#579fca 113.6px 114.4px,#7eb8d7 114.4px 115.2px,#6aacd0 115.2px 116.8px,#579fca 116.8px 118.5px,#4393c3 118.5px 119.3px,#7eb8d7 119.3px 120.1px,#92c5de 120.1px 120.9px,#a2cde2 120.9px 122.5px,#c1ddec 122.5px 123.3px,#f8f0eb 123.3px 124.1px,#de715a 124.1px 125.8px,#e58268 125.8px 126.6px,#b1d5e7 126.6px 127.4px,#a2cde2 127.4px 129.0px,#7eb8d7 129.0px 129.8px,#c1ddec 129.8px 131.4px,#a2cde2 131.4px 132.2px,#134b86 132.2px 133.9px,#2a71b2 133.9px 134.7px,#327db8 134.7px 136.3px,#a2cde2 136.3px 137.1px,#6aacd0 137.1px 137.9px,#579fca 137.9px 138.7px,#e4eef4 138.7px 139.5px,#f8f0eb 139.5px 140.4px,#6aacd0 140.4px 141.2px,#c1ddec 141.2px 142.0px,#b1d5e7 142.0px 142.8px,#d1e5f0 142.8px 143.6px,#a2cde2 143.6px 144.4px,#f4a582 144.4px 145.2px,#92c5de 145.2px 146.0px,#b1d5e7 146.0px 146.8px,#f4a582 146.8px 147.7px,#daeaf2 147.7px 148.5px,#b1d5e7 148.5px 149.3px,#c1ddec 149.3px 150.1px,#d1e5f0 150.1px 150.9px,#fddbc7 150.9px 151.7px,#c1ddec 151.7px 152.5px,#e4eef4 152.5px 153.3px,#f8c0a4 153.3px 154.1px,#fbceb6 154.1px 155.0px,#daeaf2 155.0px 155.8px,#e58268 155.8px 156.6px,#f8c0a4 156.6px 157.4px,#e58268 157.4px 158.2px,#f6b293 158.2px 159.0px,#ed9475 159.0px 161.4px,#e58268 161.4px 162.3px,#ed9475 162.3px 163.1px,#de715a 163.1px 163.9px,#e58268 163.9px 164.7px,#f6b293 164.7px 165.5px,#f4a582 165.5px 166.3px,#ed9475 166.3px 167.1px,#a2cde2 167.1px 167.9px,#579fca 167.9px 168.8px,#7eb8d7 168.8px 169.6px,#92c5de 169.6px 170.4px,#579fca 170.4px 171.2px,#327db8 171.2px 172.0px,#92c5de 172.0px 172.8px,#4393c3 172.8px 173.6px,#92c5de 173.6px 174.4px,#c1ddec 174.4px 175.2px,#a2cde2 175.2px 176.1px,#d1e5f0 176.1px 176.9px,#7eb8d7 176.9px 177.7px,#92c5de 177.7px 178.5px,#7eb8d7 178.5px 179.3px,#b1d5e7 179.3px 180.1px,#92c5de 180.1px 180.9px,#d1e5f0 180.9px 181.7px,#f8c0a4 181.7px 182.5px,#327db8 182.5px 183.4px,#92c5de 183.4px 184.2px,#0c3e74 184.2px 185.0px,#2a71b2 185.0px 185.8px,#7eb8d7 185.8px 186.6px)"></div>
<div style="left:531.12px;top:33.60px;width:18.07px;height:186.60px;background:linear-gradient(to bottom,#a2cde2 0.0px 0.8px,#b1d5e7 0.8px 2.4px,#c1ddec 2.4px 4.1px,#daeaf2 4.1px 4.9px,#d1e5f0 4.9px 5.7px,#b1d5e7 5.7px 7.3px,#92c5de 7.3px 8.1px,#a2cde2 8.1px 8.9px,#92c5de 8.9px 9.7px,#edf2f5 9.7px 10.5px,#f6b293 10.5px 11.4px,#92c5de 11.4px 12.2px,#6aacd0 12.2px 13.0px,#fce2d3 13.0px 13.8px,#fbceb6 13.8px 14.6px,#f6b293 14.6px 15.4px,#fae9df 15.4px 16.2px,#fddbc7 16.2px 17.0px,#f7f7f7 17.0px 17.8px,#f4a582 17.8px 18.7px,#ed9475 18.7px 19.5px,#d6604d 19.5px 20.3px,#f4a582 20.3px 21.1px,#f8f0eb 21.1px 21.9px,#edf2f5 21.9px 22.7px,#fbceb6 22.7px 24.3px,#e58268 24.3px 25.2px,#f8f0eb 25.2px 26.0px,#edf2f5 26.0px 28.4px,#e4eef4 28.4px 29.2px,#f8f0eb 29.2px 30.0px,#daeaf2 30.0px 30.8px,#d1e5f0 30.8px 31.6px,#f8c0a4 31.6px 32.5px,#ed9475 32.5px 34.1px,#d1e5f0 34.1px 34.9px,#f7f7f7 34.9px 35.7px,#edf2f5 35.7px 36.5px,#fbceb6 36.5px 37.3px,#f8f0eb 37.3px 38.1px,#fce2d3 38.1px 38.9px,#de715a 38.9px 39.8px,#ed9475 39.8px 40.6px,#d6604d 40.6px 41.4px,#de715a 41.4px 42.2px,#579fca 42.2px 43.0px,#a2cde2 43.0px 44.6px,#579fca 44.6px 45.4px,#92c5de 45.4px 46.2px,#4393c3 46.2px 47.9px,#327db8 47.9px 48.7px,#2a71b2 48.7px 49.5px,#6aacd0 49.5px 50.3px,#579fca 50.3px 51.1px,#b1d5e7 51.1px 51.9px,#6aacd0 51.9px 52.7px,#7eb8d7 52.7px 53.5px,#579fca 53.5px 54.4px,#4393c3 54.4px 56.0px,#7eb8d7 56.0px 56.8px,#a2cde2 56.8px 57.6px,#7eb8d7 57.6px 58.4px,#4393c3 58.4px 59.2px,#7eb8d7 59.2px 60.0px,#3a88bd 60.0px 60.8px,#4393c3 60.8px 61.7px,#d1e5f0 61.7px 62.5px,#579fca 62.5px 64.1px,#7eb8d7 64.1px 64.9px,#6aacd0 64.9px 65.7px,#92c5de 65.7px 66.5px,#6aacd0 66.5px 69.0px,#4393c3 69.0px 69.8px,#6aacd0 69.8px 70.6px,#92c5de 70.6px 71.4px,#7eb8d7 71.4px 72.2px,#daeaf2 72.2px 73.0px,#c1ddec 73.0px 73.8px,#6aacd0 73.8px 74.6px,#579fca 74.6px 76.3px,#92c5de 76.3px 77.1px,#7eb8d7 77.1px 77.9px,#92c5de 77.9px 78.7px,#6aacd0 78.7px 79.5px,#3a88bd 79.5px 80.3px,#6aacd0 80.3px 81.9px,#7eb8d7 81.9px 82.8px,#6aacd0 82.8px 83.6px,#579fca 83.6px 84.4px,#d1e5f0 84.4px 85.2px,#fbceb6 85.2px 86.0px,#daeaf2 86.0px 87.6px,#7eb8d7 87.6px 88.4px,#c1ddec 88.4px 89.2px,#d1e5f0 89.2px 90.1px,#ed9475 90.1px 90.9px,#fbceb6 90.9px 91.7px,#fae9df 91.7px 92.5px,#f7f7f7 92.5px 93.3px,#fae9df 93.3px 94.1px,#f6b293 94.1px 94.9px,#e58268 94.9px 95.7px,#9f1228 95.7px 96.5px,#92c5de 96.5px 97.4px,#b1d5e7 97.4px 98.2px,#fae9df 98.2px 99.0px,#d1e5f0 99.0px 99.8px,#7eb8d7 99.8px 100.6px,#a2cde2 100.6px 101.4px,#4393c3 101.4px 102.2px,#2a71b2 102.2px 103.0px,#579fca 103.0px 103.8px,#327db8 103.8px 105.5px,#2a71b2 105.5px 106.3px,#327db8 106.3px 107.1px,#3a88bd 107.1px 107.9px,#579fca 107.9px 108.7px,#6aacd0 108.7px 109.5px,#4393c3 109.5px 110.3px,#053061 110.3px 112.8px,#0c3e74 112.8px 113.6px,#053061 113.6px 114.4px,#1a5899 114.4px 115.2px,#7eb8d7 115.2px 116.8px,#92c5de 116.8px 117.6px,#a2cde2 117.6px 118.5px,#b1d5e7 118.5px 119.3px,#7eb8d7 119.3px 120.1px,#4393c3 120.1px 120.9px,#b1d5e7 120.9px 121.7px,#a2cde2 121.7px 122.5px,#579fca 122.5px 123.3px,#b1d5e7 123.3px 124.1px,#7eb8d7 124.1px 124.9px,#a2cde2 124.9px 125.8px,#4393c3 125.8px 126.6px,#7eb8d7 126.6px 127.4px,#edf2f5 127.4px 128.2px,#a2cde2 128.2px 129.0px,#fddbc7 129.0px 129.8px,#a2cde2 129.8px 130.6px,#c1ddec 130.6px 131.4px,#a2cde2 131.4px 132.2px,#92c5de 132.2px 133.1px,#daeaf2 133.1px 133.9px,#f8f0eb 133.9px 134.7px,#ed9475 134.7px 135.5px,#f4a582 135.5px 136.3px,#e58268 136.3px 137.1px,#f8c0a4 137.1px 137.9px,#f6b293 137.9px 138.7px,#cd4e45 138.7px 139.5px,#fce2d3 139.5px 140.4px,#f4a582 140.4px 141.2px,#f6b293 141.2px 142.0px,#c1ddec 142.0px 142.8px,#e4eef4 142.8px 143.6px,#f6b293 143.6px 144.4px,#c1ddec 144.4px 145.2px,#de715a 145.2px 146.0px,#d6604d 146.0px 146.8px,#f6b293 146.8px 147.7px,#d6604d 147.7px 148.5px,#f4a582 148.5px 149.3px,#ed9475 149.3px 150.1px,#f4a582 150.1px 150.9px,#ed9475 150.9px 151.7px,#f4a582 151.7px 152.5px,#f7f7f7 152.5px 153.3px,#fce2d3 153.3px 154.1px,#fddbc7 154.1px 155.0px,#cd4e45 155.0px 155.8px,#d6604d 155.8px 156.6px,#cd4e45 156.6px 157.4px,#bb2a34 157.4px 158.2px,#de715a 158.2px 159.0px,#fae9df 159.0px 159.8px,#f4a582 159.8px 160.6px,#ed9475 160.6px 161.4px,#e58268 161.4px 163.1px,#c1ddec 163.1px 164.7px,#7eb8d7 164.7px 165.5px,#a2cde2 165.5px 166.3px,#b1d5e7 166.3px 167.1px,#e4eef4 167.1px 168.8px,#f4a582 168.8px 169.6px,#cd4e45 169.6px 170.4px,#f8f0eb 170.4px 171.2px,#edf2f5 171.2px 172.0px,#de715a 172.0px 172.8px,#ed9475 172.8px 173.6px,#fae9df 173.6px 174.4px,#f8f0eb 174.4px 175.2px,#f7f7f7 175.2px 176.1px,#c1ddec 176.1px 176.9px,#daeaf2 176.9px 177.7px,#fae9df 177.7px 178.5px,#edf2f5 178.5px 179.3px,#ed9475 179.3px 180.1px,#a2cde2 180.1px 180.9px,#579fca 180.9px 181.7px,#92c5de 181.7px 182.5px,#2166ac 182.5px 183.4px,#6aacd0 183.4px 184.2px,#3a88bd 184.2px 185.0px,#6aacd0 185.0px 185.8px,#ed9475 185.8px 186.6px)"></div>
<div style="left:549.16px;top:33.60px;width:18.07px;height:186.60px;background:linear-gradient(to bottom,#f7f7f7 0.0px 0.8px,#3a88bd 0.8px 2.4px,#ed9475 2.4px 3.2px,#f7f7f7 3.2px 4.1px,#f6b293 4.1px 4.9px,#f8c0a4 4.9px 5.7px,#ed9475 5.7px 6.5px,#c1ddec 6.5px 7.3px,#a2cde2 7.3px 8.1px,#c1ddec 8.1px 8.9px,#b1d5e7 8.9px 11.4px,#daeaf2 11.4px 12.2px,#d1e5f0 12.2px 13.0px,#c1ddec 13.0px 13.8px,#d1e5f0 13.8px 14.6px,#fce2d3 14.6px 15.4px,#daeaf2 15.4px 16.2px,#e4eef4 16.2px 17.0px,#fce2d3 17.0px 17.8px,#fae9df 17.8px 18.7px,#f8c0a4 18.7px 19.5px,#f4a582 19.5px 20.3px,#edf2f5 20.3px 21.1px,#fbceb6 21.1px 22.7px,#f8f0eb 22.7px 23.5px,#7eb8d7 23.5px 24.3px,#fce2d3 24.3px 25.2px,#f7f7f7 25.2px 26.0px,#fae9df 26.0px 26.8px,#f8c0a4 26.8px 27.6px,#fae9df 27.6px 28.4px,#e4eef4 28.4px 29.2px,#f6b293 29.2px 30.0px,#d1e5f0 30.0px 30.8px,#6aacd0 30.8px 31.6px,#4393c3 31.6px 32.5px,#92c5de 32.5px 34.1px,#b1d5e7 34.1px 34.9px,#6aacd0 34.9px 35.7px,#579fca 35.7px 36.5px,#3a88bd 36.5px 37.3px,#fddbc7 37.3px 38.1px,#fbceb6 38.1px 38.9px,#fce2d3 38.9px 39.8px,#fddbc7 39.8px 40.6px,#ed9475 40.6px 41.4px,#f4a582 41.4px 42.2px,#fbceb6 42.2px 43.0px,#6aacd0 43.0px 43.8px,#7eb8d7 43.8px 44.6px,#fce2d3 44.6px 45.4px,#fddbc7 45.4px 46.2px,#e58268 46.2px 47.1px,#fbceb6 47.1px 47.9px,#fddbc7 47.9px 49.5px,#e58268 49.5px 50.3px,#daeaf2 50.3px 51.1px,#fce2d3 51.1px 51.9px,#f6b293 51.9px 52.7px,#ed9475 52.7px 53.5px,#f4a582 53.5px 54.4px,#f8c0a4 54.4px 55.2px,#fbceb6 55.2px 56.8px,#fddbc7 56.8px 57.6px,#f8c0a4 57.6px 58.4px,#d1e5f0 58.4px 59.2px,#92c5de 59.2px 60.0px,#a2cde2 60.0px 60.8px,#4393c3 60.8px 61.7px,#579fca 61.7px 62.5px,#7eb8d7 62.5px 63.3px,#b1d5e7 63.3px 64.1px,#c1ddec 64.1px 64.9px,#daeaf2 64.9px 65.7px,#c1ddec 65.7px 66.5px,#daeaf2 66.5px 68.1px,#c1ddec 68.1px 69.0px,#a2cde2 69.0px 69.8px,#fce2d3 69.8px 70.6px,#f7f7f7 70.6px 71.4px,#fce2d3 71.4px 72.2px,#fae9df 72.2px 73.0px,#d1e5f0 73.0px 73.8px,#a2cde2 73.8px 74.6px,#7eb8d7 74.6px 75.5px,#a2cde2 75.5px 76.3px,#b1d5e7 76.3px 77.1px,#6aacd0 77.1px 77.9px,#579fca 77.9px 78.7px,#c1ddec 78.7px 79.5px,#92c5de 79.5px 81.1px,#b1d5e7 81.1px 81.9px,#92c5de 81.9px 82.8px,#daeaf2 82.8px 83.6px,#d1e5f0 83.6px 84.4px,#f6b293 84.4px 85.2px,#ed9475 85.2px 86.0px,#f8c0a4 86.0px 86.8px,#f6b293 86.8px 88.4px,#f8f0eb 88.4px 89.2px,#d6604d 89.2px 90.1px,#fbceb6 90.1px 90.9px,#e58268 90.9px 91.7px,#f8c0a4 91.7px 92.5px,#fce2d3 92.5px 93.3px,#fddbc7 93.3px 94.1px,#c43c3c 94.1px 95.7px,#92c5de 95.7px 96.5px,#4393c3 96.5px 97.4px,#a2cde2 97.4px 98.2px,#c1ddec 98.2px 99.0px,#edf2f5 99.0px 99.8px,#d1e5f0 99.8px 100.6px,#a2cde2 100.6px 101.4px,#e4eef4 101.4px 102.2px,#c1ddec 102.2px 103.0px,#edf2f5 103.0px 103.8px,#b1d5e7 103.8px 104.7px,#f6b293 104.7px 105.5px,#f4a582 105.5px 106.3px,#edf2f5 106.3px 107.1px,#a2cde2 107.1px 107.9px,#b1d5e7 107.9px 108.7px,#92c5de 108.7px 109.5px,#b1d5e7 109.5px 110.3px,#d1e5f0 110.3px 111.1px,#fae9df 111.1px 112.8px,#a2cde2 112.8px 113.6px,#92c5de 113.6px 114.4px,#f4a582 114.4px 115.2px,#e58268 115.2px 116.0px,#ed9475 116.0px 116.8px,#de715a 116.8px 117.6px,#ed9475 117.6px 118.5px,#f4a582 118.5px 119.3px,#ed9475 119.3px 120.1px,#f8f0eb 120.1px 120.9px,#e58268 120.9px 121.7px,#f8c0a4 121.7px 122.5px,#d6604d 122.5px 123.3px,#f4a582 123.3px 124.1px,#7eb8d7 124.1px 124.9px,#b1d5e7 124.9px 125.8px,#fddbc7 125.8px 126.6px,#c1ddec 126.6px 127.4px,#edf2f5 127.4px 128.2px,#d1e5f0 128.2px 129.0px,#a2cde2 129.0px 129.8px,#92c5de 129.8px 130.6px,#e4eef4 130.6px 131.4px,#f6b293 131.4px 132.2px,#f4a582 132.2px 133.1px,#edf2f5 133.1px 133.9px,#d1e5f0 133.9px 134.7px,#c1ddec 134.7px 135.5px,#daeaf2 135.5px 136.3px,#f4a582 136.3px 137.1px,#7eb8d7 137.1px 137.9px,#c1ddec 137.9px 138.7px,#daeaf2 138.7px 139.5px,#e4eef4 139.5px 140.4px,#c1ddec 140.4px 141.2px,#ed9475 141.2px 142.0px,#f6b293 142.0px 142.8px,#f4a582 142.8px 143.6px,#de715a 143.6px 144.4px,#f4a582 144.4px 146.0px,#daeaf2 146.0px 146.8px,#f6b293 146.8px 147.7px,#f4a582 147.7px 148.5px,#f8c0a4 148.5px 149.3px,#ed9475 149.3px 150.1px,#f6b293 150.1px 150.9px,#f7f7f7 150.9px 151.7px,#fce2d3 151.7px 152.5px,#f4a582 152.5px 155.0px,#f6b293 155.0px 155.8px,#de715a 155.8px 157.4px,#f6b293 157.4px 158.2px,#7eb8d7 158.2px 159.0px,#92c5de 159.0px 159.8px,#7eb8d7 159.8px 161.4px,#6aacd0 161.4px 162.3px,#7eb8d7 162.3px 163.9px,#e58268 163.9px 164.7px,#f4a582 164.7px 166.3px,#f7f7f7 166.3px 167.1px,#daeaf2 167.1px 167.9px,#d1e5f0 167.9px 168.8px,#e4eef4 168.8px 169.6px,#edf2f5 169.6px 170.4px,#d6604d 170.4px 171.2px,#e58268 171.2px 172.8px,#ed9475 172.8px 173.6px,#e58268 173.6px 174.4px,#cd4e45 174.4px 175.2px,#de715a 175.2px 176.1px,#f4a582 176.1px 176.9px,#fddbc7 176.9px 177.7px,#f4a582 177.7px 179.3px,#f6b293 179.3px 180.1px,#fddbc7 180.1px 180.9px,#fbceb6 180.9px 181.7px,#f6b293 181.7px 182.5px,#f4a582 182.5px 183.4px,#fbceb6 183.4px 184.2px,#ed9475 184.2px 185.8px,#f6b293 185.8px 186.6px)"></div>
<div style="left:567.21px;top:33.60px;width:18.07px;height:186.60px;background:linear-gradient(to bottom,#e58268 0.0px 0.8px,#f8c0a4 0.8px 1.6px,#de715a 1.6px 2.4px,#67001F 2.4px 3.2px,#7a0622 3.2px 4.1px,#67001F 4.1px 7.3px,#edf2f5 7.3px 8.1px,#f8f0eb 8.1px 8.9px,#fae9df 8.9px 9.7px,#de715a 9.7px 10.5px,#daeaf2 10.5px 11.4px,#7eb8d7 11.4px 12.2px,#f8f0eb 12.2px 13.0px,#2166ac 13.0px 13.8px,#0c3e74 13.8px 14.6px,#1a5899 14.6px 17.0px,#3a88bd 17.0px 17.8px,#327db8 17.8px 18.7px,#2a71b2 18.7px 19.5px,#327db8 19.5px 20.3px,#053061 20.3px 21.1px,#2a71b2 21.1px 21.9px,#053061 21.9px 22.7px,#134b86 22.7px 23.5px,#1a5899 23.5px 24.3px,#053061 24.3px 25.2px,#1a5899 25.2px 26.0px,#0c3e74 26.0px 26.8px,#134b86 26.8px 27.6px,#2166ac 27.6px 28.4px,#3a88bd 28.4px 29.2px,#1a5899 29.2px 30.0px,#0c3e74 30.0px 30.8px,#053061 30.8px 31.6px,#2166ac 31.6px 32.5px,#053061 32.5px 33.3px,#0c3e74 33.3px 34.1px,#1a5899 34.1px 34.9px,#134b86 34.9px 35.7px,#d1e5f0 35.7px 36.5px,#c1ddec 36.5px 37.3px,#7eb8d7 37.3px 38.1px,#327db8 38.1px 39.8px,#2166ac 39.8px 40.6px,#3a88bd 40.6px 41.4px,#2166ac 41.4px 43.0px,#134b86 43.0px 43.8px,#2a71b2 43.8px 44.6px,#0c3e74 44.6px 45.4px,#134b86 45.4px 46.2px,#7eb8d7 46.2px 47.9px,#b1d5e7 47.9px 49.5px,#92c5de 49.5px 50.3px,#6aacd0 50.3px 51.9px,#92c5de 51.9px 52.7px,#d1e5f0 52.7px 53.5px,#4393c3 53.5px 55.2px,#92c5de 55.2px 56.0px,#f7f7f7 56.0px 56.8px,#a2cde2 56.8px 57.6px,#c1ddec 57.6px 58.4px,#e4eef4 58.4px 59.2px,#edf2f5 59.2px 60.0px,#7eb8d7 60.0px 62.5px,#daeaf2 62.5px 63.3px,#a2cde2 63.3px 64.1px,#b1d5e7 64.1px 64.9px,#a2cde2 64.9px 65.7px,#92c5de 65.7px 66.5px,#579fca 66.5px 67.3px,#92c5de 67.3px 68.1px,#c1ddec 68.1px 69.0px,#7eb8d7 69.0px 69.8px,#e4eef4 69.8px 70.6px,#4393c3 70.6px 71.4px,#a2cde2 71.4px 72.2px,#d1e5f0 72.2px 73.0px,#c1ddec 73.0px 73.8px,#a2cde2 73.8px 75.5px,#579fca 75.5px 76.3px,#7eb8d7 76.3px 77.1px,#6aacd0 77.1px 77.9px,#579fca 77.9px 78.7px,#7eb8d7 78.7px 79.5px,#f8f0eb 79.5px 80.3px,#a2cde2 80.3px 81.1px,#6aacd0 81.1px 81.9px,#92c5de 81.9px 82.8px,#4393c3 82.8px 83.6px,#7eb8d7 83.6px 84.4px,#053061 84.4px 85.2px,#0c3e74 85.2px 86.0px,#053061 86.0px 88.4px,#1a5899 88.4px 89.2px,#134b86 89.2px 90.1px,#c1ddec 90.1px 90.9px,#edf2f5 90.9px 91.7px,#b1d5e7 91.7px 92.5px,#7eb8d7 92.5px 93.3px,#b1d5e7 93.3px 94.1px,#4393c3 94.1px 94.9px,#3a88bd 94.9px 95.7px,#6aacd0 95.7px 96.5px,#ed9475 96.5px 97.4px,#de715a 97.4px 98.2px,#c1ddec 98.2px 99.0px,#ed9475 99.0px 99.8px,#6aacd0 99.8px 100.6px,#7eb8d7 100.6px 101.4px,#92c5de 101.4px 102.2px,#ed9475 102.2px 103.0px,#d1e5f0 103.0px 103.8px,#c1ddec 103.8px 104.7px,#a2cde2 104.7px 105.5px,#d1e5f0 105.5px 106.3px,#daeaf2 106.3px 107.1px,#b1d5e7 107.1px 107.9px,#1a5899 107.9px 108.7px,#c1ddec 108.7px 109.5px,#134b86 109.5px 110.3px,#d1e5f0 110.3px 111.1px,#b1d5e7 111.1px 112.0px,#de715a 112.0px 112.8px,#7eb8d7 112.8px 113.6px,#f6b293 113.6px 114.4px,#fbceb6 114.4px 115.2px,#f6b293 115.2px 116.0px,#f8c0a4 116.0px 116.8px,#f8f0eb 116.8px 117.6px,#fbceb6 117.6px 118.5px,#de715a 118.5px 119.3px,#f8f0eb 119.3px 120.1px,#fce2d3 120.1px 120.9px,#fbceb6 120.9px 121.7px,#de715a 121.7px 123.3px,#f4a582 123.3px 124.1px,#ed9475 124.1px 124.9px,#de715a 124.9px 125.8px,#e58268 125.8px 126.6px,#d6604d 126.6px 127.4px,#f4a582 127.4px 128.2px,#f8c0a4 128.2px 129.0px,#e58268 129.0px 130.6px,#d6604d 130.6px 131.4px,#e58268 131.4px 132.2px,#92c5de 132.2px 133.1px,#d1e5f0 133.1px 133.9px,#b1d5e7 133.9px 134.7px,#c1ddec 134.7px 135.5px,#f8c0a4 135.5px 136.3px,#de715a 136.3px 137.1px,#b1d5e7 137.1px 138.7px,#daeaf2 138.7px 140.4px,#2a71b2 140.4px 141.2px,#4393c3 141.2px 142.0px,#579fca 142.0px 142.8px,#6aacd0 142.8px 143.6px,#579fca 143.6px 144.4px,#daeaf2 144.4px 145.2px,#edf2f5 145.2px 146.0px,#fae9df 146.0px 146.8px,#92c5de 146.8px 147.7px,#edf2f5 147.7px 148.5px,#e4eef4 148.5px 149.3px,#f4a582 149.3px 150.1px,#fddbc7 150.1px 150.9px,#de715a 150.9px 151.7px,#3a88bd 151.7px 152.5px,#4393c3 152.5px 153.3px,#3a88bd 153.3px 154.1px,#6aacd0 154.1px 155.0px,#3a88bd 155.0px 155.8px,#327db8 155.8px 156.6px,#3a88bd 156.6px 157.4px,#6aacd0 157.4px 158.2px,#a2cde2 158.2px 159.0px,#4393c3 159.0px 159.8px,#579fca 159.8px 160.6px,#3a88bd 160.6px 161.4px,#327db8 161.4px 162.3px,#579fca 162.3px 163.1px,#4393c3 163.1px 163.9px,#f8f0eb 163.9px 164.7px,#e4eef4 164.7px 165.5px,#fbceb6 165.5px 166.3px,#7eb8d7 166.3px 167.1px,#edf2f5 167.1px 167.9px,#fbceb6 167.9px 169.6px,#d1e5f0 169.6px 170.4px,#a2cde2 170.4px 171.2px,#d1e5f0 171.2px 172.0px,#f7f7f7 172.0px 172.8px,#c1ddec 172.8px 173.6px,#a2cde2 173.6px 174.4px,#053061 174.4px 175.2px,#0c3e74 175.2px 176.1px,#053061 176.1px 180.1px,#0c3e74 180.1px 180.9px,#daeaf2 180.9px 181.7px,#b1d5e7 181.7px 183.4px,#a2cde2 183.4px 184.2px,#d1e5f0 184.2px 185.0px,#a2cde2 185.0px 185.8px,#b1d5e7 185.8px 186.6px)"></div>
<div style="left:585.25px;top:33.60px;width:18.07px;height:186.60px;background:linear-gradient(to bottom,#b1d5e7 0.0px 0.8px,#d1e5f0 0.8px 1.6px,#f4a582 1.6px 3.2px,#e58268 3.2px 4.1px,#de715a 4.1px 4.9px,#ed9475 4.9px 5.7px,#f4a582 5.7px 6.5px,#f8c0a4 6.5px 7.3px,#f4a582 7.3px 8.1px,#ed9475 8.1px 8.9px,#f4a582 8.9px 9.7px,#b1d5e7 9.7px 10.5px,#c1ddec 10.5px 11.4px,#92c5de 11.4px 12.2px,#daeaf2 12.2px 13.8px,#b1d5e7 13.8px 14.6px,#2166ac 14.6px 16.2px,#053061 16.2px 17.0px,#2166ac 17.0px 17.8px,#327db8 17.8px 18.7px,#7eb8d7 18.7px 19.5px,#0c3e74 19.5px 20.3px,#053061 20.3px 21.1px,#0c3e74 21.1px 22.7px,#053061 22.7px 24.3px,#0c3e74 24.3px 25.2px,#2166ac 25.2px 26.0px,#053061 26.0px 26.8px,#c1ddec 26.8px 27.6px,#0c3e74 27.6px 28.4px,#2166ac 28.4px 29.2px,#134b86 29.2px 31.6px,#3a88bd 31.6px 32.5px,#2166ac 32.5px 33.3px,#0c3e74 33.3px 34.1px,#134b86 34.1px 34.9px,#579fca 34.9px 35.7px,#134b86 35.7px 36.5px,#053061 36.5px 37.3px,#2a71b2 37.3px 40.6px,#134b86 40.6px 41.4px,#1a5899 41.4px 43.0px,#327db8 43.0px 43.8px,#2166ac 43.8px 44.6px,#053061 44.6px 45.4px,#134b86 45.4px 46.2px,#053061 46.2px 47.1px,#2a71b2 47.1px 47.9px,#2166ac 47.9px 48.7px,#134b86 48.7px 49.5px,#0c3e74 49.5px 50.3px,#2166ac 50.3px 51.1px,#053061 51.1px 51.9px,#0c3e74 51.9px 52.7px,#053061 52.7px 53.5px,#2166ac 53.5px 54.4px,#134b86 54.4px 55.2px,#053061 55.2px 56.0px,#2a71b2 56.0px 56.8px,#0c3e74 56.8px 57.6px,#327db8 57.6px 58.4px,#3a88bd 58.4px 61.7px,#2a71b2 61.7px 63.3px,#327db8 63.3px 64.1px,#4393c3 64.1px 64.9px,#7eb8d7 64.9px 65.7px,#e4eef4 65.7px 66.5px,#4393c3 66.5px 67.3px,#327db8 67.3px 68.1px,#c1ddec 68.1px 69.0px,#2a71b2 69.0px 70.6px,#a2cde2 70.6px 71.4px,#4393c3 71.4px 72.2px,#b1d5e7 72.2px 73.0px,#7eb8d7 73.0px 73.8px,#a2cde2 73.8px 74.6px,#c1ddec 74.6px 76.3px,#b1d5e7 76.3px 77.1px,#6aacd0 77.1px 77.9px,#d1e5f0 77.9px 78.7px,#92c5de 78.7px 79.5px,#579fca 79.5px 81.1px,#327db8 81.1px 81.9px,#4393c3 81.9px 82.8px,#3a88bd 82.8px 83.6px,#a2cde2 83.6px 84.4px,#579fca 84.4px 85.2px,#b1d5e7 85.2px 86.8px,#c1ddec 86.8px 87.6px,#92c5de 87.6px 88.4px,#a2cde2 88.4px 89.2px,#b1d5e7 89.2px 90.1px,#d1e5f0 90.1px 90.9px,#92c5de 90.9px 91.7px,#f6b293 91.7px 93.3px,#b1d5e7 93.3px 94.1px,#4393c3 94.1px 94.9px,#327db8 94.9px 95.7px,#2a71b2 95.7px 96.5px,#2166ac 96.5px 97.4px,#2a71b2 97.4px 98.2px,#6aacd0 98.2px 99.0px,#4393c3 99.0px 100.6px,#1a5899 100.6px 101.4px,#f8f0eb 101.4px 103.0px,#6aacd0 103.0px 103.8px,#a2cde2 103.8px 104.7px,#fae9df 104.7px 105.5px,#f8f0eb 105.5px 106.3px,#c1ddec 106.3px 107.1px,#d1e5f0 107.1px 107.9px,#d6604d 107.9px 108.7px,#fae9df 108.7px 109.5px,#f6b293 109.5px 112.0px,#fbceb6 112.0px 112.8px,#f6b293 112.8px 113.6px,#f4a582 113.6px 114.4px,#de715a 114.4px 115.2px,#579fca 115.2px 117.6px,#4393c3 117.6px 118.5px,#6aacd0 118.5px 119.3px,#3a88bd 119.3px 120.1px,#579fca 120.1px 120.9px,#327db8 120.9px 122.5px,#6aacd0 122.5px 123.3px,#92c5de 123.3px 124.1px,#b1d5e7 124.1px 124.9px,#daeaf2 124.9px 125.8px,#fae9df 125.8px 126.6px,#b1d5e7 126.6px 127.4px,#daeaf2 127.4px 128.2px,#7eb8d7 128.2px 129.0px,#6aacd0 129.0px 129.8px,#3a88bd 129.8px 130.6px,#579fca 130.6px 131.4px,#7eb8d7 131.4px 132.2px,#6aacd0 132.2px 133.1px,#2166ac 133.1px 133.9px,#2a71b2 133.9px 134.7px,#3a88bd 134.7px 136.3px,#2a71b2 136.3px 137.1px,#579fca 137.1px 137.9px,#d6604d 137.9px 138.7px,#c1ddec 138.7px 139.5px,#fddbc7 139.5px 140.4px,#fce2d3 140.4px 141.2px,#b1d5e7 141.2px 142.0px,#92c5de 142.0px 142.8px,#7eb8d7 142.8px 143.6px,#b1d5e7 143.6px 144.4px,#fce2d3 144.4px 145.2px,#fddbc7 145.2px 146.0px,#fbceb6 146.0px 146.8px,#f8f0eb 146.8px 147.7px,#edf2f5 147.7px 148.5px,#6aacd0 148.5px 149.3px,#b1d5e7 149.3px 150.9px,#daeaf2 150.9px 151.7px,#f7f7f7 151.7px 153.3px,#ed9475 153.3px 155.0px,#fddbc7 155.0px 155.8px,#f8c0a4 155.8px 156.6px,#fce2d3 156.6px 158.2px,#edf2f5 158.2px 159.0px,#fddbc7 159.0px 159.8px,#579fca 159.8px 160.6px,#ed9475 160.6px 161.4px,#3a88bd 161.4px 162.3px,#327db8 162.3px 163.1px,#92c5de 163.1px 163.9px,#3a88bd 163.9px 165.5px,#327db8 165.5px 166.3px,#2166ac 166.3px 167.1px,#f6b293 167.1px 167.9px,#f4a582 167.9px 168.8px,#ed9475 168.8px 171.2px,#f8c0a4 171.2px 172.0px,#de715a 172.0px 172.8px,#ed9475 172.8px 173.6px,#f8c0a4 173.6px 174.4px,#d6604d 174.4px 175.2px,#f8c0a4 175.2px 176.1px,#3a88bd 176.1px 176.9px,#fae9df 176.9px 177.7px,#f6b293 177.7px 178.5px,#ed9475 178.5px 179.3px,#f8f0eb 179.3px 180.1px,#fbceb6 180.1px 180.9px,#f8c0a4 180.9px 181.7px,#fddbc7 181.7px 182.5px,#f8f0eb 182.5px 183.4px,#edf2f5 183.4px 184.2px,#f7f7f7 184.2px 185.0px,#f8c0a4 185.0px 185.8px,#f6b293 185.8px 186.6px)"></div>
<div style="left:92.90px;top:288.90px;width:18.42px;height:191.00px;background:linear-gradient(to bottom,#d1e5f0 0.0px 0.8px,#fae9df 0.8px 1.7px,#f4a582 1.7px 2.5px,#edf2f5 2.5px 4.2px,#daeaf2 4.2px 5.0px,#c1ddec 5.0px 5.8px,#7eb8d7 5.8px 6.6px,#c1ddec 6.6px 7.5px,#b1d5e7 7.5px 9.1px,#d1e5f0 9.1px 10.0px,#92c5de 10.0px 11.6px,#a2cde2 11.6px 12.5px,#daeaf2 12.5px 13.3px,#d1e5f0 13.3px 14.1px,#579fca 14.1px 15.8px,#4393c3 15.8px 16.6px,#92c5de 16.6px 17.4px,#579fca 17.4px 18.3px,#327db8 18.3px 19.1px,#c1ddec 19.1px 19.9px,#a2cde2 19.9px 20.8px,#b1d5e7 20.8px 21.6px,#f4a582 21.6px 22.4px,#fae9df 22.4px 23.3px,#ed9475 23.3px 24.1px,#fddbc7 24.1px 24.9px,#fae9df 24.9px 25.7px,#fbceb6 25.7px 26.6px,#f8c0a4 26.6px 27.4px,#f7f7f7 27.4px 28.2px,#6aacd0 28.2px 29.1px,#a2cde2 29.1px 29.9px,#e4eef4 29.9px 30.7px,#2166ac 30.7px 32.4px,#3a88bd 32.4px 33.2px,#2a71b2 33.2px 34.0px,#1a5899 34.0px 34.9px,#2166ac 34.9px 35.7px,#2a71b2 35.7px 36.5px,#327db8 36.5px 37.4px,#e4eef4 37.4px 39.0px,#134b86 39.0px 39.9px,#0c3e74 39.9px 40.7px,#134b86 40.7px 43.2px,#327db8 43.2px 44.8px,#7eb8d7 44.8px 45.7px,#a2cde2 45.7px 46.5px,#b1d5e7 46.5px 47.3px,#d1e5f0 47.3px 48.2px,#fddbc7 48.2px 49.0px,#b1d5e7 49.0px 49.8px,#d1e5f0 49.8px 50.7px,#6aacd0 50.7px 51.5px,#579fca 51.5px 52.3px,#fddbc7 52.3px 53.1px,#d1e5f0 53.1px 54.0px,#f8c0a4 54.0px 54.8px,#f6b293 54.8px 55.6px,#f8c0a4 55.6px 56.5px,#fce2d3 56.5px 57.3px,#fbceb6 57.3px 58.1px,#fce2d3 58.1px 59.0px,#f8c0a4 59.0px 59.8px,#fddbc7 59.8px 60.6px,#ed9475 60.6px 61.5px,#c43c3c 61.5px 62.3px,#ed9475 62.3px 63.1px,#7a0622 63.1px 63.9px,#f4a582 63.9px 64.8px,#f8c0a4 64.8px 65.6px,#f4a582 65.6px 66.4px,#f6b293 66.4px 67.3px,#d6604d 67.3px 68.1px,#ed9475 68.1px 70.6px,#f7f7f7 70.6px 72.2px,#edf2f5 72.2px 73.1px,#f4a582 73.1px 73.9px,#fddbc7 73.9px 74.7px,#e58268 74.7px 75.6px,#f6b293 75.6px 76.4px,#f8c0a4 76.4px 77.2px,#fbceb6 77.2px 78.1px,#f6b293 78.1px 78.9px,#c1ddec 78.9px 79.7px,#f7f7f7 79.7px 80.6px,#f8f0eb 80.6px 81.4px,#edf2f5 81.4px 82.2px,#7eb8d7 82.2px 83.0px,#579fca 83.0px 83.9px,#4393c3 83.9px 84.7px,#92c5de 84.7px 85.5px,#579fca 85.5px 86.4px,#f8c0a4 86.4px 87.2px,#f8f0eb 87.2px 88.0px,#fae9df 88.0px 88.9px,#fce2d3 88.9px 90.5px,#f8f0eb 90.5px 91.3px,#fae9df 91.3px 92.2px,#fbceb6 92.2px 93.0px,#fddbc7 93.0px 93.8px,#f6b293 93.8px 94.7px,#f8c0a4 94.7px 95.5px,#f6b293 95.5px 96.3px,#fddbc7 96.3px 97.2px,#fce2d3 97.2px 98.0px,#f4a582 98.0px 98.8px,#f8c0a4 98.8px 99.7px,#f4a582 99.7px 100.5px,#e58268 100.5px 101.3px,#f6b293 101.3px 102.1px,#f8c0a4 102.1px 103.0px,#f4a582 103.0px 103.8px,#f6b293 103.8px 104.6px,#d6604d 104.6px 105.5px,#f4a582 105.5px 106.3px,#f6b293 106.3px 107.1px,#fbceb6 107.1px 108.0px,#daeaf2 108.0px 108.8px,#f8f0eb 108.8px 109.6px,#f6b293 109.6px 110.4px,#fddbc7 110.4px 111.3px,#b1d5e7 111.3px 112.1px,#a2cde2 112.1px 112.9px,#c1ddec 112.9px 114.6px,#d1e5f0 114.6px 115.4px,#daeaf2 115.4px 116.3px,#f8c0a4 116.3px 117.1px,#f6b293 117.1px 117.9px,#fddbc7 117.9px 118.8px,#f8c0a4 118.8px 119.6px,#fce2d3 119.6px 122.1px,#fae9df 122.1px 122.9px,#d6604d 122.9px 123.7px,#c43c3c 123.7px 124.6px,#cd4e45 124.6px 125.4px,#8d0c25 125.4px 126.2px,#fbceb6 126.2px 127.1px,#ed9475 127.1px 127.9px,#f8c0a4 127.9px 128.7px,#f6b293 128.7px 129.5px,#579fca 129.5px 130.4px,#c1ddec 130.4px 131.2px,#579fca 131.2px 132.0px,#fae9df 132.0px 132.9px,#a2cde2 132.9px 133.7px,#4393c3 133.7px 134.5px,#a2cde2 134.5px 135.4px,#f8c0a4 135.4px 136.2px,#de715a 136.2px 137.0px,#92c5de 137.0px 137.9px,#a2cde2 137.9px 138.7px,#f6b293 138.7px 140.3px,#ed9475 140.3px 141.2px,#bb2a34 141.2px 142.0px,#f8f0eb 142.0px 142.8px,#f4a582 142.8px 143.7px,#ed9475 143.7px 144.5px,#fbceb6 144.5px 145.3px,#f6b293 145.3px 146.2px,#f4a582 146.2px 147.0px,#fddbc7 147.0px 147.8px,#b1d5e7 147.8px 148.6px,#ed9475 148.6px 149.5px,#7eb8d7 149.5px 150.3px,#c1ddec 150.3px 151.1px,#a2cde2 151.1px 152.0px,#b1d5e7 152.0px 152.8px,#fbceb6 152.8px 154.5px,#f6b293 154.5px 155.3px,#fddbc7 155.3px 156.1px,#e58268 156.1px 157.0px,#f4a582 157.0px 157.8px,#fbceb6 157.8px 159.4px,#7eb8d7 159.4px 160.3px,#c1ddec 160.3px 161.9px,#daeaf2 161.9px 162.8px,#b1d5e7 162.8px 163.6px,#edf2f5 163.6px 164.4px,#e4eef4 164.4px 165.3px,#f4a582 165.3px 166.1px,#fddbc7 166.1px 167.7px,#f8c0a4 167.7px 168.6px,#fbceb6 168.6px 169.4px,#f4a582 169.4px 170.2px,#ed9475 170.2px 171.1px,#d6604d 171.1px 171.9px,#e4eef4 171.9px 173.6px,#ed9475 173.6px 174.4px,#f8c0a4 174.4px 175.2px,#c1ddec 175.2px 176.1px,#f6b293 176.1px 176.9px,#daeaf2 176.9px 177.7px,#edf2f5 177.7px 178.5px,#f6b293 178.5px 180.2px,#f8c0a4 180.2px 181.0px,#fddbc7 181.0px 181.9px,#fce2d3 181.9px 182.7px,#fbceb6 182.7px 183.5px,#e58268 183.5px 184.4px,#f8c0a4 184.4px 185.2px,#fbceb6 185.2px 186.8px,#3a88bd 186.8px 187.7px,#327db8 187.7px 188.5px,#92c5de 188.5px 189.3px,#e58268 189.3px 190.2px,#f8c0a4 190.2px 191.0px)"></div>
<div style="left:111.30px;top:288.90px;width:18.42px;height:191.00px;background:linear-gradient(to bottom,#d1e5f0 0.0px 0.8px,#b1d5e7 0.8px 1.7px,#edf2f5 1.7px 2.5px,#c1ddec 2.5px 3.3px,#d1e5f0 3.3px 4.2px,#fce2d3 4.2px 5.0px,#f8c0a4 5.0px 5.8px,#a2cde2 5.8px 6.6px,#f8f0eb 6.6px 7.5px,#f7f7f7 7.5px 8.3px,#a2cde2 8.3px 9.1px,#e4eef4 9.1px 10.0px,#d1e5f0 10.0px 10.8px,#6aacd0 10.8px 11.6px,#b1d5e7 11.6px 12.5px,#d1e5f0 12.5px 13.3px,#7eb8d7 13.3px 14.1px,#6aacd0 14.1px 14.9px,#3a88bd 14.9px 15.8px,#2a71b2 15.8px 16.6px,#327db8 16.6px 17.4px,#579fca 17.4px 18.3px,#6aacd0 18.3px 19.1px,#f7f7f7 19.1px 19.9px,#fce2d3 19.9px 20.8px,#f8f0eb 20.8px 22.4px,#fce2d3 22.4px 23.3px,#fae9df 23.3px 24.1px,#6aacd0 24.1px 24.9px,#3a88bd 24.9px 25.7px,#327db8 25.7px 26.6px,#fce2d3 26.6px 27.4px,#fddbc7 27.4px 28.2px,#fbceb6 28.2px 29.1px,#d6604d 29.1px 30.7px,#ed9475 30.7px 31.6px,#e58268 31.6px 32.4px,#ed9475 32.4px 33.2px,#de715a 33.2px 34.0px,#f6b293 34.0px 34.9px,#de715a 34.9px 35.7px,#fae9df 35.7px 36.5px,#d6604d 36.5px 37.4px,#b1d5e7 37.4px 39.0px,#92c5de 39.0px 40.7px,#7eb8d7 40.7px 41.5px,#fbceb6 41.5px 42.4px,#f8c0a4 42.4px 43.2px,#f4a582 43.2px 44.0px,#f8c0a4 44.0px 44.8px,#d6604d 44.8px 45.7px,#b2182b 45.7px 46.5px,#d6604d 46.5px 47.3px,#fae9df 47.3px 48.2px,#bb2a34 48.2px 49.0px,#c43c3c 49.0px 49.8px,#cd4e45 49.8px 50.7px,#bb2a34 50.7px 51.5px,#f8c0a4 51.5px 52.3px,#e58268 52.3px 53.1px,#f6b293 53.1px 54.0px,#e58268 54.0px 54.8px,#f8c0a4 54.8px 55.6px,#fddbc7 55.6px 56.5px,#f4a582 56.5px 57.3px,#fddbc7 57.3px 58.1px,#f8c0a4 58.1px 59.8px,#f8f0eb 59.8px 60.6px,#fae9df 60.6px 61.5px,#f8f0eb 61.5px 62.3px,#f8c0a4 62.3px 63.9px,#d6604d 63.9px 64.8px,#f4a582 64.8px 65.6px,#de715a 65.6px 66.4px,#f4a582 66.4px 67.3px,#ed9475 67.3px 68.1px,#f6b293 68.1px 68.9px,#de715a 68.9px 69.8px,#f8f0eb 69.8px 70.6px,#e58268 70.6px 71.4px,#ed9475 71.4px 72.2px,#fce2d3 72.2px 73.1px,#fae9df 73.1px 73.9px,#fbceb6 73.9px 74.7px,#f6b293 74.7px 75.6px,#fce2d3 75.6px 76.4px,#f6b293 76.4px 78.9px,#fae9df 78.9px 79.7px,#f4a582 79.7px 80.6px,#de715a 80.6px 81.4px,#fbceb6 81.4px 82.2px,#9f1228 82.2px 83.0px,#f4a582 83.0px 83.9px,#ed9475 83.9px 84.7px,#fce2d3 84.7px 85.5px,#fddbc7 85.5px 86.4px,#fce2d3 86.4px 87.2px,#f8f0eb 87.2px 88.0px,#fbceb6 88.0px 88.9px,#f6b293 88.9px 89.7px,#f8c0a4 89.7px 92.2px,#ed9475 92.2px 93.0px,#f6b293 93.0px 93.8px,#f8c0a4 93.8px 94.7px,#f6b293 94.7px 95.5px,#fddbc7 95.5px 96.3px,#daeaf2 96.3px 97.2px,#f6b293 97.2px 98.0px,#c43c3c 98.0px 98.8px,#e58268 98.8px 99.7px,#de715a 99.7px 100.5px,#d6604d 100.5px 101.3px,#f8c0a4 101.3px 102.1px,#d6604d 102.1px 103.8px,#de715a 103.8px 105.5px,#a2cde2 105.5px 108.0px,#f7f7f7 108.0px 109.6px,#f8c0a4 109.6px 110.4px,#f4a582 110.4px 111.3px,#f6b293 111.3px 112.1px,#f8c0a4 112.1px 112.9px,#e58268 112.9px 113.8px,#fbceb6 113.8px 114.6px,#f6b293 114.6px 115.4px,#ed9475 115.4px 116.3px,#f4a582 116.3px 117.1px,#f6b293 117.1px 118.8px,#de715a 118.8px 119.6px,#cd4e45 119.6px 121.2px,#d6604d 121.2px 122.9px,#d1e5f0 122.9px 123.7px,#7eb8d7 123.7px 124.6px,#d1e5f0 124.6px 125.4px,#6aacd0 125.4px 126.2px,#fbceb6 126.2px 127.1px,#e58268 127.1px 127.9px,#f4a582 127.9px 128.7px,#f6b293 128.7px 130.4px,#f4a582 130.4px 131.2px,#de715a 131.2px 132.0px,#e58268 132.0px 132.9px,#de715a 132.9px 135.4px,#e58268 135.4px 136.2px,#de715a 136.2px 137.0px,#c1ddec 137.0px 137.9px,#d1e5f0 137.9px 138.7px,#053061 138.7px 139.5px,#de715a 139.5px 140.3px,#579fca 140.3px 141.2px,#6aacd0 141.2px 142.0px,#579fca 142.0px 142.8px,#7eb8d7 142.8px 143.7px,#a2cde2 143.7px 144.5px,#bb2a34 144.5px 145.3px,#d6604d 145.3px 146.2px,#f4a582 146.2px 147.0px,#f8c0a4 147.0px 147.8px,#f4a582 147.8px 148.6px,#ed9475 148.6px 149.5px,#f4a582 149.5px 150.3px,#f8c0a4 150.3px 151.1px,#ed9475 151.1px 152.0px,#f6b293 152.0px 152.8px,#f4a582 152.8px 153.6px,#f7f7f7 153.6px 154.5px,#92c5de 154.5px 155.3px,#6aacd0 155.3px 156.1px,#cd4e45 156.1px 157.0px,#e58268 157.0px 157.8px,#b1d5e7 157.8px 158.6px,#579fca 158.6px 159.4px,#4393c3 159.4px 160.3px,#b1d5e7 160.3px 161.1px,#f6b293 161.1px 161.9px,#c43c3c 161.9px 162.8px,#ed9475 162.8px 163.6px,#cd4e45 163.6px 164.4px,#e58268 164.4px 165.3px,#fbceb6 165.3px 166.1px,#f4a582 166.1px 166.9px,#fbceb6 166.9px 167.7px,#f8c0a4 167.7px 168.6px,#fddbc7 168.6px 169.4px,#fbceb6 169.4px 170.2px,#fddbc7 170.2px 171.9px,#fbceb6 171.9px 172.7px,#e58268 172.7px 173.6px,#f6b293 173.6px 174.4px,#fce2d3 174.4px 175.2px,#fbceb6 175.2px 176.1px,#f7f7f7 176.1px 176.9px,#c1ddec 176.9px 177.7px,#edf2f5 177.7px 178.5px,#fce2d3 178.5px 179.4px,#f8c0a4 179.4px 181.0px,#fbceb6 181.0px 181.9px,#fae9df 181.9px 182.7px,#fce2d3 182.7px 183.5px,#f8c0a4 183.5px 184.4px,#f6b293 184.4px 185.2px,#e58268 185.2px 186.0px,#f4a582 186.0px 186.8px,#fddbc7 186.8px 187.7px,#f8c0a4 187.7px 188.5px,#f6b293 188.5px 189.3px,#fbceb6 189.3px 190.2px,#fae9df 190.2px 191.0px)"></div>
<div style="left:129.70px;top:288.90px;width:18.42px;height:191.00px;background:linear-gradient(to bottom,#c1ddec 0.0px 0.8px,#a2cde2 0.8px 1.7px,#daeaf2 1.7px 2.5px,#b1d5e7 2.5px 3.3px,#92c5de 3.3px 4.2px,#daeaf2 4.2px 5.0px,#a2cde2 5.0px 5.8px,#7eb8d7 5.8px 6.6px,#a2cde2 6.6px 7.5px,#e4eef4 7.5px 8.3px,#daeaf2 8.3px 9.1px,#a2cde2 9.1px 10.0px,#c1ddec 10.0px 10.8px,#daeaf2 10.8px 11.6px,#b1d5e7 11.6px 12.5px,#579fca 12.5px 13.3px,#327db8 13.3px 14.1px,#f7f7f7 14.1px 14.9px,#a2cde2 14.9px 15.8px,#579fca 15.8px 16.6px,#4393c3 16.6px 17.4px,#92c5de 17.4px 18.3px,#7eb8d7 18.3px 19.1px,#6aacd0 19.1px 19.9px,#92c5de 19.9px 20.8px,#7eb8d7 20.8px 21.6px,#92c5de 21.6px 22.4px,#2166ac 22.4px 23.3px,#134b86 23.3px 24.1px,#053061 24.1px 24.9px,#0c3e74 24.9px 25.7px,#6aacd0 25.7px 26.6px,#4393c3 26.6px 27.4px,#a2cde2 27.4px 28.2px,#b1d5e7 28.2px 29.1px,#4393c3 29.1px 29.9px,#579fca 29.9px 30.7px,#327db8 30.7px 31.6px,#579fca 31.6px 32.4px,#2a71b2 32.4px 33.2px,#4393c3 33.2px 34.0px,#d1e5f0 34.0px 34.9px,#c1ddec 34.9px 35.7px,#92c5de 35.7px 36.5px,#fce2d3 36.5px 37.4px,#e58268 37.4px 38.2px,#f8f0eb 38.2px 39.0px,#fae9df 39.0px 39.9px,#7eb8d7 39.9px 40.7px,#de715a 40.7px 41.5px,#f7f7f7 41.5px 42.4px,#f8f0eb 42.4px 43.2px,#fddbc7 43.2px 44.0px,#f8c0a4 44.0px 44.8px,#ed9475 44.8px 45.7px,#f6b293 45.7px 46.5px,#f8c0a4 46.5px 47.3px,#fae9df 47.3px 48.2px,#de715a 48.2px 49.0px,#e58268 49.0px 49.8px,#cd4e45 49.8px 50.7px,#f8c0a4 50.7px 51.5px,#c1ddec 51.5px 52.3px,#daeaf2 52.3px 53.1px,#d1e5f0 53.1px 54.0px,#e4eef4 54.0px 54.8px,#f8f0eb 54.8px 55.6px,#fbceb6 55.6px 57.3px,#fae9df 57.3px 58.1px,#fce2d3 58.1px 59.8px,#fbceb6 59.8px 60.6px,#fce2d3 60.6px 61.5px,#f4a582 61.5px 62.3px,#fbceb6 62.3px 63.9px,#fae9df 63.9px 64.8px,#f8c0a4 64.8px 65.6px,#ed9475 65.6px 66.4px,#fddbc7 66.4px 67.3px,#ed9475 67.3px 68.1px,#f6b293 68.1px 68.9px,#ed9475 68.9px 69.8px,#f4a582 69.8px 70.6px,#e58268 70.6px 71.4px,#f6b293 71.4px 72.2px,#a2cde2 72.2px 73.1px,#de715a 73.1px 73.9px,#d1e5f0 73.9px 75.6px,#ed9475 75.6px 76.4px,#f8c0a4 76.4px 77.2px,#d6604d 77.2px 78.1px,#f6b293 78.1px 78.9px,#de715a 78.9px 79.7px,#f6b293 79.7px 80.6px,#daeaf2 80.6px 81.4px,#f4a582 81.4px 82.2px,#f8c0a4 82.2px 83.0px,#de715a 83.0px 83.9px,#fae9df 83.9px 85.5px,#f8c0a4 85.5px 86.4px,#fbceb6 86.4px 87.2px,#f6b293 87.2px 88.0px,#fddbc7 88.0px 88.9px,#fae9df 88.9px 89.7px,#fce2d3 89.7px 90.5px,#f8c0a4 90.5px 91.3px,#d1e5f0 91.3px 92.2px,#daeaf2 92.2px 93.0px,#f8c0a4 93.0px 93.8px,#fddbc7 93.8px 95.5px,#f8f0eb 95.5px 96.3px,#fce2d3 96.3px 97.2px,#fddbc7 97.2px 98.0px,#e58268 98.0px 98.8px,#de715a 98.8px 99.7px,#b1d5e7 99.7px 100.5px,#7eb8d7 100.5px 101.3px,#d6604d 101.3px 102.1px,#fddbc7 102.1px 103.0px,#e4eef4 103.0px 103.8px,#f7f7f7 103.8px 104.6px,#daeaf2 104.6px 106.3px,#f7f7f7 106.3px 107.1px,#579fca 107.1px 108.0px,#b1d5e7 108.0px 108.8px,#d1e5f0 108.8px 109.6px,#a2cde2 109.6px 111.3px,#2166ac 111.3px 112.1px,#3a88bd 112.1px 114.6px,#7eb8d7 114.6px 115.4px,#c1ddec 115.4px 116.3px,#92c5de 116.3px 117.9px,#a2cde2 117.9px 118.8px,#2166ac 118.8px 119.6px,#3a88bd 119.6px 120.4px,#579fca 120.4px 121.2px,#327db8 121.2px 122.1px,#92c5de 122.1px 122.9px,#b1d5e7 122.9px 123.7px,#a2cde2 123.7px 124.6px,#7eb8d7 124.6px 125.4px,#92c5de 125.4px 126.2px,#a2cde2 126.2px 127.1px,#c1ddec 127.1px 127.9px,#fddbc7 127.9px 128.7px,#fce2d3 128.7px 129.5px,#edf2f5 129.5px 130.4px,#e4eef4 130.4px 131.2px,#f8f0eb 131.2px 132.0px,#f8c0a4 132.0px 132.9px,#f7f7f7 132.9px 133.7px,#2166ac 133.7px 134.5px,#3a88bd 134.5px 136.2px,#2166ac 136.2px 137.0px,#a2cde2 137.0px 137.9px,#327db8 137.9px 138.7px,#f7f7f7 138.7px 140.3px,#fce2d3 140.3px 141.2px,#ed9475 141.2px 142.0px,#d6604d 142.0px 142.8px,#ed9475 142.8px 143.7px,#b1d5e7 143.7px 144.5px,#fce2d3 144.5px 145.3px,#92c5de 145.3px 146.2px,#c1ddec 146.2px 147.0px,#b1d5e7 147.0px 147.8px,#92c5de 147.8px 148.6px,#f7f7f7 148.6px 149.5px,#f4a582 149.5px 150.3px,#fae9df 150.3px 151.1px,#fddbc7 151.1px 152.0px,#f8f0eb 152.0px 152.8px,#daeaf2 152.8px 153.6px,#fbceb6 153.6px 154.5px,#fae9df 154.5px 155.3px,#fddbc7 155.3px 156.1px,#7eb8d7 156.1px 157.0px,#6aacd0 157.0px 157.8px,#4393c3 157.8px 158.6px,#7eb8d7 158.6px 159.4px,#6aacd0 159.4px 160.3px,#92c5de 160.3px 161.1px,#6aacd0 161.1px 162.8px,#4393c3 162.8px 163.6px,#2a71b2 163.6px 164.4px,#3a88bd 164.4px 165.3px,#579fca 165.3px 166.1px,#327db8 166.1px 166.9px,#2a71b2 166.9px 167.7px,#3a88bd 167.7px 169.4px,#579fca 169.4px 170.2px,#1a5899 170.2px 171.1px,#2166ac 171.1px 171.9px,#1a5899 171.9px 172.7px,#2166ac 172.7px 174.4px,#3a88bd 174.4px 175.2px,#2166ac 175.2px 176.1px,#3a88bd 176.1px 176.9px,#327db8 176.9px 177.7px,#2a71b2 177.7px 179.4px,#92c5de 179.4px 180.2px,#fce2d3 180.2px 181.0px,#a2cde2 181.0px 181.9px,#c1ddec 181.9px 182.7px,#fddbc7 182.7px 183.5px,#92c5de 183.5px 184.4px,#c1ddec 184.4px 185.2px,#579fca 185.2px 186.0px,#92c5de 186.0px 186.8px,#a2cde2 186.8px 188.5px,#4393c3 188.5px 189.3px,#7eb8d7 189.3px 190.2px,#92c5de 190.2px 191.0px)"></div>
<div style="left:148.10px;top:288.90px;width:18.42px;height:191.00px;background:linear-gradient(to bottom,#de715a 0.0px 0.8px,#f8c0a4 0.8px 1.7px,#6aacd0 1.7px 3.3px,#b1d5e7 3.3px 5.0px,#daeaf2 5.0px 5.8px,#7eb8d7 5.8px 6.6px,#6aacd0 6.6px 7.5px,#7eb8d7 7.5px 8.3px,#f7f7f7 8.3px 9.1px,#fddbc7 9.1px 10.0px,#579fca 10.0px 10.8px,#92c5de 10.8px 12.5px,#7eb8d7 12.5px 13.3px,#d1e5f0 13.3px 14.1px,#579fca 14.1px 15.8px,#327db8 15.8px 16.6px,#6aacd0 16.6px 17.4px,#7eb8d7 17.4px 18.3px,#3a88bd 18.3px 19.1px,#579fca 19.1px 19.9px,#4393c3 19.9px 21.6px,#7eb8d7 21.6px 22.4px,#6aacd0 22.4px 24.1px,#3a88bd 24.1px 24.9px,#b1d5e7 24.9px 25.7px,#a2cde2 25.7px 26.6px,#92c5de 26.6px 27.4px,#a2cde2 27.4px 28.2px,#fce2d3 28.2px 29.1px,#e58268 29.1px 29.9px,#f4a582 29.9px 30.7px,#f8f0eb 30.7px 31.6px,#f4a582 31.6px 32.4px,#ed9475 32.4px 33.2px,#f4a582 33.2px 34.0px,#ed9475 34.0px 34.9px,#e58268 34.9px 35.7px,#f6b293 35.7px 36.5px,#fddbc7 36.5px 37.4px,#3a88bd 37.4px 38.2px,#579fca 38.2px 39.0px,#327db8 39.0px 39.9px,#579fca 39.9px 40.7px,#6aacd0 40.7px 41.5px,#579fca 41.5px 42.4px,#3a88bd 42.4px 43.2px,#579fca 43.2px 44.8px,#7eb8d7 44.8px 45.7px,#4393c3 45.7px 46.5px,#3a88bd 46.5px 47.3px,#7eb8d7 47.3px 48.2px,#e4eef4 48.2px 49.0px,#d1e5f0 49.0px 49.8px,#a2cde2 49.8px 50.7px,#c1ddec 50.7px 51.5px,#d1e5f0 51.5px 52.3px,#e4eef4 52.3px 53.1px,#fce2d3 53.1px 54.0px,#f4a582 54.0px 54.8px,#f8c0a4 54.8px 55.6px,#fddbc7 55.6px 56.5px,#e58268 56.5px 57.3px,#de715a 57.3px 58.1px,#f8c0a4 58.1px 59.0px,#f6b293 59.0px 60.6px,#f4a582 60.6px 61.5px,#f6b293 61.5px 62.3px,#f4a582 62.3px 64.8px,#ed9475 64.8px 65.6px,#e58268 65.6px 66.4px,#f6b293 66.4px 67.3px,#f8c0a4 67.3px 68.1px,#fce2d3 68.1px 68.9px,#fbceb6 68.9px 70.6px,#ed9475 70.6px 71.4px,#f8c0a4 71.4px 72.2px,#fae9df 72.2px 73.1px,#fddbc7 73.1px 73.9px,#fae9df 73.9px 74.7px,#edf2f5 74.7px 75.6px,#f6b293 75.6px 76.4px,#fddbc7 76.4px 78.1px,#fce2d3 78.1px 78.9px,#fae9df 78.9px 79.7px,#fce2d3 79.7px 82.2px,#a2cde2 82.2px 83.0px,#b1d5e7 83.0px 83.9px,#fddbc7 83.9px 84.7px,#f7f7f7 84.7px 85.5px,#6aacd0 85.5px 88.0px,#b1d5e7 88.0px 89.7px,#f7f7f7 89.7px 90.5px,#edf2f5 90.5px 92.2px,#e4eef4 92.2px 93.0px,#c1ddec 93.0px 93.8px,#d1e5f0 93.8px 94.7px,#f8c0a4 94.7px 95.5px,#de715a 95.5px 96.3px,#b1d5e7 96.3px 97.2px,#c1ddec 97.2px 98.0px,#daeaf2 98.0px 100.5px,#6aacd0 100.5px 101.3px,#e4eef4 101.3px 102.1px,#c1ddec 102.1px 103.0px,#b1d5e7 103.0px 103.8px,#f8c0a4 103.8px 104.6px,#fbceb6 104.6px 106.3px,#fce2d3 106.3px 107.1px,#f7f7f7 107.1px 108.0px,#a2cde2 108.0px 108.8px,#f8f0eb 108.8px 109.6px,#f4a582 109.6px 110.4px,#ed9475 110.4px 111.3px,#de715a 111.3px 113.8px,#cd4e45 113.8px 114.6px,#fce2d3 114.6px 115.4px,#f4a582 115.4px 116.3px,#f6b293 116.3px 117.1px,#edf2f5 117.1px 117.9px,#f8f0eb 117.9px 118.8px,#e58268 118.8px 119.6px,#f4a582 119.6px 120.4px,#ed9475 120.4px 121.2px,#fce2d3 121.2px 122.1px,#b2182b 122.1px 122.9px,#c43c3c 122.9px 123.7px,#cd4e45 123.7px 124.6px,#c43c3c 124.6px 125.4px,#b2182b 125.4px 126.2px,#fddbc7 126.2px 127.1px,#e58268 127.1px 127.9px,#ed9475 127.9px 130.4px,#fbceb6 130.4px 131.2px,#2166ac 131.2px 132.9px,#579fca 132.9px 133.7px,#327db8 133.7px 134.5px,#4393c3 134.5px 136.2px,#3a88bd 136.2px 137.0px,#daeaf2 137.0px 137.9px,#fbceb6 137.9px 138.7px,#f8f0eb 138.7px 139.5px,#a2cde2 139.5px 140.3px,#ed9475 140.3px 141.2px,#f8c0a4 141.2px 142.0px,#f6b293 142.0px 142.8px,#d1e5f0 142.8px 143.7px,#f4a582 143.7px 144.5px,#d6604d 144.5px 145.3px,#f8c0a4 145.3px 146.2px,#92c5de 146.2px 147.0px,#6aacd0 147.0px 148.6px,#92c5de 148.6px 150.3px,#c1ddec 150.3px 151.1px,#a2cde2 151.1px 152.0px,#579fca 152.0px 152.8px,#a2cde2 152.8px 153.6px,#4393c3 153.6px 154.5px,#327db8 154.5px 155.3px,#3a88bd 155.3px 156.1px,#053061 156.1px 157.0px,#134b86 157.0px 157.8px,#053061 157.8px 158.6px,#2166ac 158.6px 159.4px,#579fca 159.4px 160.3px,#053061 160.3px 161.9px,#6aacd0 161.9px 162.8px,#579fca 162.8px 163.6px,#b1d5e7 163.6px 164.4px,#c1ddec 164.4px 165.3px,#a2cde2 165.3px 166.1px,#b1d5e7 166.1px 166.9px,#c1ddec 166.9px 167.7px,#7eb8d7 167.7px 168.6px,#134b86 168.6px 169.4px,#1a5899 169.4px 170.2px,#134b86 170.2px 171.1px,#053061 171.1px 172.7px,#1a5899 172.7px 173.6px,#134b86 173.6px 174.4px,#1a5899 174.4px 176.1px,#053061 176.1px 176.9px,#134b86 176.9px 177.7px,#053061 177.7px 179.4px,#134b86 179.4px 180.2px,#4393c3 180.2px 181.0px,#0c3e74 181.0px 181.9px,#2a71b2 181.9px 182.7px,#0c3e74 182.7px 183.5px,#053061 183.5px 184.4px,#0c3e74 184.4px 185.2px,#b1d5e7 185.2px 186.8px,#e4eef4 186.8px 187.7px,#c1ddec 187.7px 188.5px,#e4eef4 188.5px 189.3px,#edf2f5 189.3px 190.2px,#92c5de 190.2px 191.0px)"></div>
<div style="left:166.50px;top:288.90px;width:18.42px;height:191.00px;background:linear-gradient(to bottom,#f7f7f7 0.0px 0.8px,#fddbc7 0.8px 1.7px,#f8c0a4 1.7px 2.5px,#d1e5f0 2.5px 3.3px,#b1d5e7 3.3px 4.2px,#a2cde2 4.2px 5.0px,#92c5de 5.0px 5.8px,#c1ddec 5.8px 6.6px,#b1d5e7 6.6px 7.5px,#fae9df 7.5px 8.3px,#a2cde2 8.3px 10.0px,#b1d5e7 10.0px 10.8px,#f8f0eb 10.8px 11.6px,#fddbc7 11.6px 12.5px,#d1e5f0 12.5px 13.3px,#b1d5e7 13.3px 14.1px,#fae9df 14.1px 14.9px,#de715a 14.9px 16.6px,#f6b293 16.6px 17.4px,#e58268 17.4px 18.3px,#ed9475 18.3px 19.1px,#fddbc7 19.1px 20.8px,#f7f7f7 20.8px 21.6px,#3a88bd 21.6px 22.4px,#4393c3 22.4px 23.3px,#6aacd0 23.3px 24.1px,#7eb8d7 24.1px 24.9px,#4393c3 24.9px 25.7px,#92c5de 25.7px 26.6px,#ed9475 26.6px 27.4px,#f4a582 27.4px 29.1px,#ed9475 29.1px 29.9px,#fbceb6 29.9px 30.7px,#ed9475 30.7px 31.6px,#f4a582 31.6px 32.4px,#f6b293 32.4px 33.2px,#fbceb6 33.2px 37.4px,#e4eef4 37.4px 38.2px,#e58268 38.2px 39.0px,#d6604d 39.0px 39.9px,#b2182b 39.9px 40.7px,#c43c3c 40.7px 41.5px,#e58268 41.5px 42.4px,#bb2a34 42.4px 43.2px,#de715a 43.2px 44.0px,#e58268 44.0px 44.8px,#fae9df 44.8px 45.7px,#daeaf2 45.7px 46.5px,#579fca 46.5px 47.3px,#92c5de 47.3px 49.0px,#6aacd0 49.0px 49.8px,#edf2f5 49.8px 50.7px,#f8f0eb 50.7px 51.5px,#edf2f5 51.5px 52.3px,#f8c0a4 52.3px 54.0px,#f6b293 54.0px 54.8px,#e58268 54.8px 55.6px,#fbceb6 55.6px 56.5px,#ed9475 56.5px 57.3px,#edf2f5 57.3px 58.1px,#f8c0a4 58.1px 59.0px,#fddbc7 59.0px 59.8px,#f8c0a4 59.8px 60.6px,#f6b293 60.6px 61.5px,#ed9475 61.5px 62.3px,#6aacd0 62.3px 63.1px,#579fca 63.1px 64.8px,#7eb8d7 64.8px 65.6px,#92c5de 65.6px 66.4px,#c1ddec 66.4px 67.3px,#fae9df 67.3px 68.9px,#e4eef4 68.9px 69.8px,#edf2f5 69.8px 71.4px,#e58268 71.4px 72.2px,#c1ddec 72.2px 73.1px,#daeaf2 73.1px 73.9px,#c1ddec 73.9px 74.7px,#327db8 74.7px 75.6px,#f6b293 75.6px 76.4px,#fbceb6 76.4px 77.2px,#de715a 77.2px 78.9px,#ed9475 78.9px 81.4px,#fbceb6 81.4px 82.2px,#de715a 82.2px 83.0px,#edf2f5 83.0px 83.9px,#ed9475 83.9px 84.7px,#f7f7f7 84.7px 85.5px,#f8c0a4 85.5px 86.4px,#f4a582 86.4px 87.2px,#fddbc7 87.2px 88.0px,#f8c0a4 88.0px 89.7px,#f6b293 89.7px 91.3px,#f8c0a4 91.3px 93.0px,#fbceb6 93.0px 93.8px,#e4eef4 93.8px 94.7px,#fae9df 94.7px 95.5px,#f8c0a4 95.5px 96.3px,#fddbc7 96.3px 97.2px,#e4eef4 97.2px 98.0px,#fbceb6 98.0px 98.8px,#92c5de 98.8px 99.7px,#6aacd0 99.7px 100.5px,#fae9df 100.5px 102.1px,#ed9475 102.1px 103.8px,#e58268 103.8px 104.6px,#ed9475 104.6px 105.5px,#e58268 105.5px 107.1px,#327db8 107.1px 108.0px,#1a5899 108.0px 111.3px,#f8c0a4 111.3px 112.1px,#e4eef4 112.1px 112.9px,#fddbc7 112.9px 113.8px,#f8c0a4 113.8px 114.6px,#fbceb6 114.6px 115.4px,#daeaf2 115.4px 116.3px,#d6604d 116.3px 117.9px,#f6b293 117.9px 119.6px,#de715a 119.6px 120.4px,#d6604d 120.4px 121.2px,#f4a582 121.2px 122.1px,#f6b293 122.1px 122.9px,#de715a 122.9px 123.7px,#92c5de 123.7px 124.6px,#b1d5e7 124.6px 125.4px,#f6b293 125.4px 126.2px,#a2cde2 126.2px 127.1px,#92c5de 127.1px 127.9px,#a2cde2 127.9px 128.7px,#b1d5e7 128.7px 129.5px,#c1ddec 129.5px 131.2px,#92c5de 131.2px 132.0px,#6aacd0 132.0px 132.9px,#fddbc7 132.9px 133.7px,#fbceb6 133.7px 134.5px,#579fca 134.5px 135.4px,#fce2d3 135.4px 136.2px,#fae9df 136.2px 137.0px,#e4eef4 137.0px 137.9px,#edf2f5 137.9px 138.7px,#f7f7f7 138.7px 141.2px,#7eb8d7 141.2px 142.0px,#a2cde2 142.0px 142.8px,#92c5de 142.8px 143.7px,#a2cde2 143.7px 144.5px,#f4a582 144.5px 147.0px,#f6b293 147.0px 148.6px,#f4a582 148.6px 149.5px,#f6b293 149.5px 150.3px,#cd4e45 150.3px 151.1px,#bb2a34 151.1px 152.0px,#c43c3c 152.0px 152.8px,#cd4e45 152.8px 153.6px,#d6604d 153.6px 154.5px,#f8c0a4 154.5px 155.3px,#f6b293 155.3px 157.0px,#fce2d3 157.0px 157.8px,#ed9475 157.8px 158.6px,#fce2d3 158.6px 159.4px,#fbceb6 159.4px 160.3px,#f6b293 160.3px 161.1px,#e58268 161.1px 161.9px,#f4a582 161.9px 162.8px,#f8c0a4 162.8px 163.6px,#f6b293 163.6px 164.4px,#fddbc7 164.4px 165.3px,#fbceb6 165.3px 166.1px,#e58268 166.1px 166.9px,#f4a582 166.9px 167.7px,#fddbc7 167.7px 168.6px,#f4a582 168.6px 171.1px,#f8c0a4 171.1px 172.7px,#fddbc7 172.7px 173.6px,#f8f0eb 173.6px 174.4px,#fce2d3 174.4px 175.2px,#f8f0eb 175.2px 176.1px,#fce2d3 176.1px 176.9px,#ed9475 176.9px 177.7px,#f8c0a4 177.7px 178.5px,#f6b293 178.5px 179.4px,#ed9475 179.4px 180.2px,#fbceb6 180.2px 181.0px,#f8f0eb 181.0px 181.9px,#fbceb6 181.9px 182.7px,#fae9df 182.7px 183.5px,#fce2d3 183.5px 184.4px,#fae9df 184.4px 185.2px,#67001F 185.2px 186.0px,#f6b293 186.0px 186.8px,#67001F 186.8px 187.7px,#8d0c25 187.7px 188.5px,#67001F 188.5px 189.3px,#fbceb6 189.3px 190.2px,#f6b293 190.2px 191.0px)"></div>
<div style="left:184.90px;top:288.90px;width:18.42px;height:191.00px;background:linear-gradient(to bottom,#f7f7f7 0.0px 0.8px,#fce2d3 0.8px 1.7px,#fae9df 1.7px 2.5px,#edf2f5 2.5px 3.3px,#f7f7f7 3.3px 4.2px,#e4eef4 4.2px 5.0px,#f4a582 5.0px 5.8px,#fce2d3 5.8px 7.5px,#f8c0a4 7.5px 8.3px,#e4eef4 8.3px 9.1px,#fbceb6 9.1px 10.0px,#f6b293 10.0px 10.8px,#e58268 10.8px 11.6px,#d6604d 11.6px 12.5px,#cd4e45 12.5px 13.3px,#d6604d 13.3px 14.1px,#e58268 14.1px 14.9px,#f4a582 14.9px 15.8px,#f6b293 15.8px 16.6px,#e58268 16.6px 17.4px,#d6604d 17.4px 18.3px,#e58268 18.3px 19.1px,#f4a582 19.1px 19.9px,#de715a 19.9px 20.8px,#fae9df 20.8px 21.6px,#e58268 21.6px 22.4px,#ed9475 22.4px 24.9px,#e58268 24.9px 25.7px,#f6b293 25.7px 28.2px,#e58268 28.2px 29.1px,#de715a 29.1px 29.9px,#cd4e45 29.9px 30.7px,#de715a 30.7px 31.6px,#bb2a34 31.6px 32.4px,#b2182b 32.4px 33.2px,#cd4e45 33.2px 34.0px,#e58268 34.0px 34.9px,#f6b293 34.9px 36.5px,#f8c0a4 36.5px 38.2px,#de715a 38.2px 39.0px,#ed9475 39.0px 39.9px,#d6604d 39.9px 40.7px,#cd4e45 40.7px 41.5px,#fbceb6 41.5px 42.4px,#f6b293 42.4px 44.0px,#fce2d3 44.0px 44.8px,#fddbc7 44.8px 46.5px,#fce2d3 46.5px 47.3px,#f7f7f7 47.3px 48.2px,#f6b293 48.2px 49.0px,#ed9475 49.0px 49.8px,#e58268 49.8px 50.7px,#de715a 50.7px 51.5px,#ed9475 51.5px 52.3px,#fae9df 52.3px 53.1px,#fbceb6 53.1px 54.0px,#fce2d3 54.0px 54.8px,#4393c3 54.8px 56.5px,#b1d5e7 56.5px 57.3px,#c1ddec 57.3px 58.1px,#92c5de 58.1px 59.0px,#a2cde2 59.0px 59.8px,#c1ddec 59.8px 60.6px,#6aacd0 60.6px 61.5px,#f7f7f7 61.5px 62.3px,#a2cde2 62.3px 63.1px,#f8f0eb 63.1px 63.9px,#f7f7f7 63.9px 64.8px,#fce2d3 64.8px 65.6px,#edf2f5 65.6px 66.4px,#f8f0eb 66.4px 67.3px,#edf2f5 67.3px 68.1px,#fae9df 68.1px 68.9px,#c1ddec 68.9px 69.8px,#fce2d3 69.8px 70.6px,#b1d5e7 70.6px 71.4px,#7eb8d7 71.4px 72.2px,#fbceb6 72.2px 73.1px,#6aacd0 73.1px 74.7px,#d1e5f0 74.7px 75.6px,#7eb8d7 75.6px 76.4px,#579fca 76.4px 77.2px,#7eb8d7 77.2px 78.1px,#6aacd0 78.1px 78.9px,#edf2f5 78.9px 79.7px,#fae9df 79.7px 80.6px,#f8f0eb 80.6px 81.4px,#f6b293 81.4px 82.2px,#f8c0a4 82.2px 83.0px,#fddbc7 83.0px 84.7px,#fbceb6 84.7px 85.5px,#fddbc7 85.5px 86.4px,#fce2d3 86.4px 87.2px,#fbceb6 87.2px 89.7px,#f6b293 89.7px 90.5px,#de715a 90.5px 91.3px,#f4a582 91.3px 92.2px,#fddbc7 92.2px 93.0px,#f4a582 93.0px 93.8px,#fddbc7 93.8px 94.7px,#fbceb6 94.7px 95.5px,#fddbc7 95.5px 96.3px,#f6b293 96.3px 97.2px,#fbceb6 97.2px 98.0px,#f6b293 98.0px 98.8px,#a2cde2 98.8px 99.7px,#b1d5e7 99.7px 100.5px,#92c5de 100.5px 101.3px,#7eb8d7 101.3px 102.1px,#e58268 102.1px 103.0px,#fce2d3 103.0px 103.8px,#f6b293 103.8px 104.6px,#c1ddec 104.6px 105.5px,#2a71b2 105.5px 106.3px,#f8f0eb 106.3px 107.1px,#f6b293 107.1px 108.0px,#edf2f5 108.0px 108.8px,#f6b293 108.8px 110.4px,#ed9475 110.4px 111.3px,#f6b293 111.3px 112.9px,#fae9df 112.9px 113.8px,#fbceb6 113.8px 114.6px,#e4eef4 114.6px 115.4px,#fbceb6 115.4px 116.3px,#f6b293 116.3px 117.1px,#fbceb6 117.1px 117.9px,#f8c0a4 117.9px 118.8px,#f6b293 118.8px 119.6px,#f7f7f7 119.6px 120.4px,#daeaf2 120.4px 121.2px,#f4a582 121.2px 122.1px,#daeaf2 122.1px 122.9px,#fddbc7 122.9px 123.7px,#ed9475 123.7px 124.6px,#f6b293 124.6px 125.4px,#f7f7f7 125.4px 126.2px,#fbceb6 126.2px 127.1px,#e4eef4 127.1px 127.9px,#c43c3c 127.9px 129.5px,#bb2a34 129.5px 130.4px,#f8c0a4 130.4px 131.2px,#c43c3c 131.2px 132.9px,#f8c0a4 132.9px 133.7px,#f4a582 133.7px 134.5px,#ed9475 134.5px 135.4px,#f4a582 135.4px 136.2px,#e58268 136.2px 137.0px,#f4a582 137.0px 137.9px,#f8c0a4 137.9px 138.7px,#ed9475 138.7px 139.5px,#f8c0a4 139.5px 141.2px,#f6b293 141.2px 142.0px,#7eb8d7 142.0px 142.8px,#ed9475 142.8px 143.7px,#6aacd0 143.7px 144.5px,#7eb8d7 144.5px 145.3px,#92c5de 145.3px 146.2px,#7eb8d7 146.2px 147.0px,#a2cde2 147.0px 147.8px,#d1e5f0 147.8px 148.6px,#a2cde2 148.6px 150.3px,#e4eef4 150.3px 151.1px,#a2cde2 151.1px 152.0px,#92c5de 152.0px 152.8px,#579fca 152.8px 153.6px,#92c5de 153.6px 154.5px,#c1ddec 154.5px 156.1px,#f4a582 156.1px 157.0px,#d6604d 157.0px 157.8px,#ed9475 157.8px 159.4px,#f4a582 159.4px 160.3px,#e58268 160.3px 161.1px,#d6604d 161.1px 161.9px,#de715a 161.9px 162.8px,#ed9475 162.8px 163.6px,#c1ddec 163.6px 164.4px,#7eb8d7 164.4px 165.3px,#d1e5f0 165.3px 166.1px,#92c5de 166.1px 167.7px,#6aacd0 167.7px 168.6px,#edf2f5 168.6px 169.4px,#fddbc7 169.4px 170.2px,#f6b293 170.2px 171.1px,#579fca 171.1px 171.9px,#d1e5f0 171.9px 172.7px,#b1d5e7 172.7px 173.6px,#daeaf2 173.6px 174.4px,#c1ddec 174.4px 176.1px,#fce2d3 176.1px 176.9px,#fae9df 176.9px 177.7px,#e58268 177.7px 178.5px,#f4a582 178.5px 179.4px,#f8f0eb 179.4px 180.2px,#d1e5f0 180.2px 181.0px,#fddbc7 181.0px 181.9px,#f8c0a4 181.9px 182.7px,#f6b293 182.7px 183.5px,#a2cde2 183.5px 185.2px,#6aacd0 185.2px 186.0px,#a2cde2 186.0px 186.8px,#c1ddec 186.8px 187.7px,#b1d5e7 187.7px 188.5px,#a2cde2 188.5px 189.3px,#579fca 189.3px 190.2px,#7eb8d7 190.2px 191.0px)"></div>
<div style="left:203.30px;top:288.90px;width:18.42px;height:191.00px;background:linear-gradient(to bottom,#f8c0a4 0.0px 0.8px,#de715a 0.8px 1.7px,#d6604d 1.7px 2.5px,#67001F 2.5px 3.3px,#bb2a34 3.3px 4.2px,#e58268 4.2px 5.0px,#67001F 5.0px 5.8px,#9f1228 5.8px 6.6px,#bb2a34 6.6px 7.5px,#ed9475 7.5px 8.3px,#e58268 8.3px 9.1px,#b2182b 9.1px 10.0px,#67001F 10.0px 10.8px,#7a0622 10.8px 11.6px,#9f1228 11.6px 12.5px,#67001F 12.5px 13.3px,#7a0622 13.3px 14.1px,#67001F 14.1px 14.9px,#7a0622 14.9px 15.8px,#bb2a34 15.8px 16.6px,#de715a 16.6px 17.4px,#cd4e45 17.4px 18.3px,#8d0c25 18.3px 19.1px,#b2182b 19.1px 20.8px,#8d0c25 20.8px 21.6px,#7a0622 21.6px 22.4px,#e58268 22.4px 23.3px,#de715a 23.3px 24.1px,#bb2a34 24.1px 24.9px,#ed9475 24.9px 25.7px,#e58268 25.7px 26.6px,#d6604d 26.6px 27.4px,#f4a582 27.4px 28.2px,#e58268 28.2px 29.1px,#ed9475 29.1px 29.9px,#f4a582 29.9px 30.7px,#f8c0a4 30.7px 31.6px,#ed9475 31.6px 32.4px,#f8c0a4 32.4px 33.2px,#f4a582 33.2px 34.0px,#ed9475 34.0px 34.9px,#e58268 34.9px 35.7px,#d6604d 35.7px 37.4px,#cd4e45 37.4px 38.2px,#e58268 38.2px 39.0px,#f6b293 39.0px 40.7px,#f4a582 40.7px 41.5px,#cd4e45 41.5px 42.4px,#c43c3c 42.4px 44.0px,#cd4e45 44.0px 44.8px,#ed9475 44.8px 45.7px,#e58268 45.7px 46.5px,#fddbc7 46.5px 47.3px,#de715a 47.3px 48.2px,#a2cde2 48.2px 49.0px,#7eb8d7 49.0px 49.8px,#ed9475 49.8px 50.7px,#2166ac 50.7px 51.5px,#2a71b2 51.5px 53.1px,#327db8 53.1px 54.0px,#2166ac 54.0px 54.8px,#daeaf2 54.8px 55.6px,#579fca 55.6px 56.5px,#3a88bd 56.5px 57.3px,#2a71b2 57.3px 58.1px,#3a88bd 58.1px 59.0px,#327db8 59.0px 59.8px,#2166ac 59.8px 60.6px,#3a88bd 60.6px 61.5px,#327db8 61.5px 62.3px,#134b86 62.3px 63.1px,#4393c3 63.1px 64.8px,#7eb8d7 64.8px 65.6px,#2166ac 65.6px 66.4px,#134b86 66.4px 67.3px,#053061 67.3px 69.8px,#134b86 69.8px 70.6px,#1a5899 70.6px 71.4px,#3a88bd 71.4px 72.2px,#daeaf2 72.2px 73.1px,#327db8 73.1px 73.9px,#92c5de 73.9px 74.7px,#4393c3 74.7px 75.6px,#7eb8d7 75.6px 76.4px,#327db8 76.4px 77.2px,#0c3e74 77.2px 78.1px,#2a71b2 78.1px 78.9px,#053061 78.9px 79.7px,#0c3e74 79.7px 81.4px,#327db8 81.4px 82.2px,#579fca 82.2px 83.0px,#4393c3 83.0px 83.9px,#579fca 83.9px 84.7px,#4393c3 84.7px 85.5px,#2a71b2 85.5px 86.4px,#579fca 86.4px 87.2px,#c1ddec 87.2px 88.9px,#daeaf2 88.9px 89.7px,#f8f0eb 89.7px 90.5px,#f6b293 90.5px 92.2px,#e58268 92.2px 94.7px,#f6b293 94.7px 95.5px,#fae9df 95.5px 96.3px,#f8c0a4 96.3px 97.2px,#c1ddec 97.2px 98.0px,#7eb8d7 98.0px 98.8px,#a2cde2 98.8px 99.7px,#b1d5e7 99.7px 101.3px,#6aacd0 101.3px 102.1px,#2166ac 102.1px 103.0px,#1a5899 103.0px 103.8px,#a2cde2 103.8px 104.6px,#134b86 104.6px 106.3px,#1a5899 106.3px 107.1px,#134b86 107.1px 108.0px,#daeaf2 108.0px 108.8px,#92c5de 108.8px 109.6px,#b1d5e7 109.6px 110.4px,#d1e5f0 110.4px 111.3px,#fbceb6 111.3px 112.1px,#b1d5e7 112.1px 113.8px,#c1ddec 113.8px 114.6px,#d1e5f0 114.6px 115.4px,#c1ddec 115.4px 116.3px,#6aacd0 116.3px 117.1px,#a2cde2 117.1px 117.9px,#6aacd0 117.9px 118.8px,#7eb8d7 118.8px 119.6px,#92c5de 119.6px 120.4px,#fbceb6 120.4px 121.2px,#7eb8d7 121.2px 122.1px,#de715a 122.1px 122.9px,#f6b293 122.9px 123.7px,#de715a 123.7px 124.6px,#579fca 124.6px 126.2px,#1a5899 126.2px 127.1px,#2166ac 127.1px 127.9px,#579fca 127.9px 128.7px,#4393c3 128.7px 129.5px,#2a71b2 129.5px 130.4px,#92c5de 130.4px 131.2px,#4393c3 131.2px 132.0px,#579fca 132.0px 133.7px,#134b86 133.7px 135.4px,#2a71b2 135.4px 136.2px,#92c5de 136.2px 137.0px,#b1d5e7 137.0px 137.9px,#c1ddec 137.9px 138.7px,#579fca 138.7px 139.5px,#7eb8d7 139.5px 140.3px,#579fca 140.3px 141.2px,#92c5de 141.2px 142.0px,#e4eef4 142.0px 142.8px,#4393c3 142.8px 143.7px,#fce2d3 143.7px 145.3px,#f8c0a4 145.3px 146.2px,#f4a582 146.2px 147.0px,#f6b293 147.0px 148.6px,#de715a 148.6px 149.5px,#ed9475 149.5px 150.3px,#b1d5e7 150.3px 151.1px,#a2cde2 151.1px 152.0px,#daeaf2 152.0px 152.8px,#7eb8d7 152.8px 153.6px,#2a71b2 153.6px 154.5px,#7eb8d7 154.5px 155.3px,#f6b293 155.3px 156.1px,#fce2d3 156.1px 157.0px,#c1ddec 157.0px 157.8px,#daeaf2 157.8px 158.6px,#92c5de 158.6px 159.4px,#f8f0eb 159.4px 160.3px,#c1ddec 160.3px 161.1px,#f7f7f7 161.1px 161.9px,#6aacd0 161.9px 162.8px,#ed9475 162.8px 164.4px,#7eb8d7 164.4px 165.3px,#f6b293 165.3px 166.1px,#d1e5f0 166.1px 166.9px,#ed9475 166.9px 167.7px,#d6604d 167.7px 168.6px,#e58268 168.6px 169.4px,#cd4e45 169.4px 170.2px,#e58268 170.2px 171.1px,#e4eef4 171.1px 171.9px,#f8c0a4 171.9px 172.7px,#f7f7f7 172.7px 173.6px,#fce2d3 173.6px 174.4px,#f8c0a4 174.4px 175.2px,#ed9475 175.2px 176.1px,#fbceb6 176.1px 177.7px,#ed9475 177.7px 178.5px,#f4a582 178.5px 179.4px,#fbceb6 179.4px 180.2px,#f8c0a4 180.2px 181.0px,#f4a582 181.0px 181.9px,#fddbc7 181.9px 182.7px,#f8c0a4 182.7px 183.5px,#579fca 183.5px 184.4px,#d1e5f0 184.4px 185.2px,#f6b293 185.2px 186.0px,#fbceb6 186.0px 186.8px,#a2cde2 186.8px 187.7px,#92c5de 187.7px 188.5px,#7eb8d7 188.5px 189.3px,#a2cde2 189.3px 190.2px,#92c5de 190.2px 191.0px)"></div>
<div style="left:221.70px;top:288.90px;width:18.42px;height:191.00px;background:linear-gradient(to bottom,#8d0c25 0.0px 0.8px,#bb2a34 0.8px 1.7px,#b2182b 1.7px 2.5px,#bb2a34 2.5px 3.3px,#67001F 3.3px 5.8px,#b2182b 5.8px 6.6px,#9f1228 6.6px 7.5px,#8d0c25 7.5px 8.3px,#e58268 8.3px 9.1px,#f6b293 9.1px 10.0px,#ed9475 10.0px 11.6px,#cd4e45 11.6px 12.5px,#e58268 12.5px 13.3px,#de715a 13.3px 14.1px,#c43c3c 14.1px 14.9px,#d6604d 14.9px 15.8px,#ed9475 15.8px 17.4px,#f4a582 17.4px 18.3px,#fbceb6 18.3px 19.1px,#f6b293 19.1px 19.9px,#e58268 19.9px 20.8px,#de715a 20.8px 21.6px,#ed9475 21.6px 22.4px,#e58268 22.4px 23.3px,#f6b293 23.3px 24.1px,#d6604d 24.1px 24.9px,#de715a 24.9px 25.7px,#f7f7f7 25.7px 26.6px,#ed9475 26.6px 27.4px,#f8c0a4 27.4px 28.2px,#cd4e45 28.2px 29.1px,#e58268 29.1px 29.9px,#579fca 29.9px 30.7px,#a2cde2 30.7px 31.6px,#7eb8d7 31.6px 32.4px,#a2cde2 32.4px 33.2px,#579fca 33.2px 34.0px,#6aacd0 34.0px 34.9px,#579fca 34.9px 36.5px,#4393c3 36.5px 37.4px,#6aacd0 37.4px 38.2px,#f6b293 38.2px 39.0px,#92c5de 39.0px 39.9px,#f8c0a4 39.9px 40.7px,#f7f7f7 40.7px 41.5px,#fce2d3 41.5px 42.4px,#fae9df 42.4px 43.2px,#fbceb6 43.2px 44.0px,#f8c0a4 44.0px 44.8px,#f4a582 44.8px 45.7px,#ed9475 45.7px 48.2px,#e58268 48.2px 49.8px,#ed9475 49.8px 50.7px,#c43c3c 50.7px 51.5px,#f4a582 51.5px 53.1px,#f6b293 53.1px 54.0px,#e58268 54.0px 55.6px,#c1ddec 55.6px 56.5px,#e4eef4 56.5px 57.3px,#327db8 57.3px 58.1px,#4393c3 58.1px 59.0px,#327db8 59.0px 59.8px,#e4eef4 59.8px 60.6px,#579fca 60.6px 61.5px,#4393c3 61.5px 62.3px,#3a88bd 62.3px 63.1px,#4393c3 63.1px 63.9px,#579fca 63.9px 64.8px,#e4eef4 64.8px 65.6px,#579fca 65.6px 66.4px,#2a71b2 66.4px 67.3px,#134b86 67.3px 68.1px,#327db8 68.1px 69.8px,#2166ac 69.8px 73.1px,#1a5899 73.1px 73.9px,#4393c3 73.9px 74.7px,#134b86 74.7px 75.6px,#053061 75.6px 76.4px,#0c3e74 76.4px 77.2px,#053061 77.2px 78.9px,#0c3e74 78.9px 79.7px,#2a71b2 79.7px 80.6px,#2166ac 80.6px 81.4px,#053061 81.4px 82.2px,#2166ac 82.2px 83.0px,#0c3e74 83.0px 83.9px,#053061 83.9px 85.5px,#134b86 85.5px 86.4px,#053061 86.4px 87.2px,#6aacd0 87.2px 88.0px,#053061 88.0px 90.5px,#1a5899 90.5px 91.3px,#053061 91.3px 95.5px,#134b86 95.5px 96.3px,#579fca 96.3px 97.2px,#053061 97.2px 98.0px,#134b86 98.0px 98.8px,#2166ac 98.8px 99.7px,#134b86 99.7px 100.5px,#1a5899 100.5px 101.3px,#053061 101.3px 102.1px,#327db8 102.1px 103.8px,#2a71b2 103.8px 104.6px,#4393c3 104.6px 105.5px,#3a88bd 105.5px 107.1px,#6aacd0 107.1px 108.0px,#4393c3 108.0px 108.8px,#053061 108.8px 109.6px,#134b86 109.6px 111.3px,#053061 111.3px 112.1px,#327db8 112.1px 112.9px,#3a88bd 112.9px 113.8px,#327db8 113.8px 114.6px,#2a71b2 114.6px 115.4px,#4393c3 115.4px 116.3px,#579fca 116.3px 117.1px,#3a88bd 117.1px 117.9px,#d1e5f0 117.9px 118.8px,#4393c3 118.8px 119.6px,#1a5899 119.6px 120.4px,#3a88bd 120.4px 121.2px,#327db8 121.2px 122.1px,#3a88bd 122.1px 122.9px,#2166ac 122.9px 123.7px,#e4eef4 123.7px 124.6px,#f7f7f7 124.6px 125.4px,#fddbc7 125.4px 126.2px,#f8f0eb 126.2px 127.1px,#d1e5f0 127.1px 127.9px,#b1d5e7 127.9px 128.7px,#daeaf2 128.7px 129.5px,#a2cde2 129.5px 130.4px,#f7f7f7 130.4px 131.2px,#fae9df 131.2px 132.0px,#ed9475 132.0px 132.9px,#de715a 132.9px 133.7px,#f8c0a4 133.7px 135.4px,#cd4e45 135.4px 136.2px,#edf2f5 136.2px 137.0px,#ed9475 137.0px 137.9px,#edf2f5 137.9px 138.7px,#fddbc7 138.7px 139.5px,#de715a 139.5px 140.3px,#b1d5e7 140.3px 141.2px,#92c5de 141.2px 142.0px,#e58268 142.0px 142.8px,#f6b293 142.8px 143.7px,#daeaf2 143.7px 144.5px,#b1d5e7 144.5px 145.3px,#053061 145.3px 147.8px,#134b86 147.8px 148.6px,#053061 148.6px 149.5px,#134b86 149.5px 151.1px,#2a71b2 151.1px 152.0px,#4393c3 152.0px 152.8px,#6aacd0 152.8px 154.5px,#579fca 154.5px 155.3px,#7eb8d7 155.3px 157.0px,#579fca 157.0px 157.8px,#3a88bd 157.8px 158.6px,#92c5de 158.6px 159.4px,#579fca 159.4px 160.3px,#c1ddec 160.3px 161.1px,#f6b293 161.1px 162.8px,#fbceb6 162.8px 163.6px,#327db8 163.6px 164.4px,#579fca 164.4px 165.3px,#4393c3 165.3px 166.1px,#327db8 166.1px 166.9px,#579fca 166.9px 167.7px,#6aacd0 167.7px 168.6px,#92c5de 168.6px 169.4px,#a2cde2 169.4px 170.2px,#b1d5e7 170.2px 171.1px,#c1ddec 171.1px 171.9px,#6aacd0 171.9px 172.7px,#ed9475 172.7px 173.6px,#f8c0a4 173.6px 174.4px,#d1e5f0 174.4px 175.2px,#d6604d 175.2px 176.1px,#a2cde2 176.1px 176.9px,#c1ddec 176.9px 177.7px,#daeaf2 177.7px 178.5px,#f7f7f7 178.5px 179.4px,#edf2f5 179.4px 180.2px,#f8c0a4 180.2px 181.0px,#b1d5e7 181.0px 181.9px,#f6b293 181.9px 182.7px,#daeaf2 182.7px 183.5px,#3a88bd 183.5px 184.4px,#4393c3 184.4px 186.0px,#92c5de 186.0px 186.8px,#579fca 186.8px 187.7px,#327db8 187.7px 188.5px,#d1e5f0 188.5px 189.3px,#a2cde2 189.3px 190.2px,#6aacd0 190.2px 191.0px)"></div>
<div style="left:240.10px;top:288.90px;width:18.42px;height:191.00px;background:linear-gradient(to bottom,#c1ddec 0.0px 1.7px,#b1d5e7 1.7px 2.5px,#d1e5f0 2.5px 3.3px,#c1ddec 3.3px 4.2px,#6aacd0 4.2px 5.0px,#d1e5f0 5.0px 5.8px,#579fca 5.8px 6.6px,#a2cde2 6.6px 7.5px,#7eb8d7 7.5px 8.3px,#a2cde2 8.3px 9.1px,#daeaf2 9.1px 10.8px,#b1d5e7 10.8px 11.6px,#c1ddec 11.6px 12.5px,#7eb8d7 12.5px 13.3px,#fce2d3 13.3px 14.1px,#b1d5e7 14.1px 14.9px,#fbceb6 14.9px 15.8px,#f8f0eb 15.8px 16.6px,#fae9df 16.6px 17.4px,#fddbc7 17.4px 18.3px,#f8c0a4 18.3px 19.1px,#6aacd0 19.1px 19.9px,#2166ac 19.9px 20.8px,#327db8 20.8px 21.6px,#2a71b2 21.6px 22.4px,#327db8 22.4px 23.3px,#f7f7f7 23.3px 24.1px,#b1d5e7 24.1px 24.9px,#daeaf2 24.9px 25.7px,#b1d5e7 25.7px 26.6px,#e4eef4 26.6px 27.4px,#327db8 27.4px 28.2px,#579fca 28.2px 29.1px,#2a71b2 29.1px 29.9px,#2166ac 29.9px 30.7px,#2a71b2 30.7px 31.6px,#053061 31.6px 32.4px,#2a71b2 32.4px 33.2px,#f8f0eb 33.2px 34.0px,#f4a582 34.0px 34.9px,#f6b293 34.9px 35.7px,#daeaf2 35.7px 36.5px,#e4eef4 36.5px 37.4px,#cd4e45 37.4px 38.2px,#e58268 38.2px 39.0px,#ed9475 39.0px 39.9px,#e58268 39.9px 40.7px,#f8c0a4 40.7px 41.5px,#ed9475 41.5px 42.4px,#de715a 42.4px 43.2px,#c1ddec 43.2px 44.0px,#7eb8d7 44.0px 45.7px,#579fca 45.7px 46.5px,#6aacd0 46.5px 47.3px,#d6604d 47.3px 48.2px,#ed9475 48.2px 49.0px,#327db8 49.0px 49.8px,#2166ac 49.8px 50.7px,#1a5899 50.7px 51.5px,#327db8 51.5px 53.1px,#134b86 53.1px 54.0px,#1a5899 54.0px 54.8px,#fbceb6 54.8px 55.6px,#e58268 55.6px 56.5px,#f6b293 56.5px 57.3px,#ed9475 57.3px 58.1px,#f6b293 58.1px 59.0px,#ed9475 59.0px 59.8px,#f6b293 59.8px 60.6px,#f8c0a4 60.6px 61.5px,#fce2d3 61.5px 62.3px,#f6b293 62.3px 63.1px,#fbceb6 63.1px 63.9px,#f6b293 63.9px 64.8px,#f4a582 64.8px 65.6px,#e58268 65.6px 66.4px,#ed9475 66.4px 67.3px,#f6b293 67.3px 68.1px,#fddbc7 68.1px 69.8px,#f8c0a4 69.8px 70.6px,#fce2d3 70.6px 72.2px,#fbceb6 72.2px 73.1px,#f4a582 73.1px 73.9px,#fddbc7 73.9px 74.7px,#fbceb6 74.7px 75.6px,#e58268 75.6px 76.4px,#f6b293 76.4px 77.2px,#f8c0a4 77.2px 78.9px,#f4a582 78.9px 79.7px,#ed9475 79.7px 80.6px,#f4a582 80.6px 82.2px,#f6b293 82.2px 83.9px,#f8c0a4 83.9px 84.7px,#f6b293 84.7px 85.5px,#fbceb6 85.5px 86.4px,#f6b293 86.4px 87.2px,#f4a582 87.2px 88.0px,#f8c0a4 88.0px 88.9px,#fbceb6 88.9px 89.7px,#fddbc7 89.7px 90.5px,#f6b293 90.5px 91.3px,#f4a582 91.3px 93.0px,#f6b293 93.0px 93.8px,#ed9475 93.8px 94.7px,#fddbc7 94.7px 95.5px,#fbceb6 95.5px 96.3px,#fddbc7 96.3px 98.0px,#a2cde2 98.0px 98.8px,#b1d5e7 98.8px 99.7px,#f4a582 99.7px 100.5px,#f8c0a4 100.5px 101.3px,#ed9475 101.3px 102.1px,#e58268 102.1px 103.0px,#d6604d 103.0px 103.8px,#fbceb6 103.8px 104.6px,#f6b293 104.6px 106.3px,#f8c0a4 106.3px 108.0px,#fddbc7 108.0px 109.6px,#579fca 109.6px 110.4px,#a2cde2 110.4px 111.3px,#2166ac 111.3px 112.1px,#2a71b2 112.1px 112.9px,#6aacd0 112.9px 113.8px,#3a88bd 113.8px 114.6px,#b1d5e7 114.6px 115.4px,#3a88bd 115.4px 116.3px,#579fca 116.3px 117.1px,#3a88bd 117.1px 117.9px,#327db8 117.9px 118.8px,#c1ddec 118.8px 119.6px,#f8f0eb 119.6px 120.4px,#f8c0a4 120.4px 121.2px,#c1ddec 121.2px 122.1px,#a2cde2 122.1px 122.9px,#fce2d3 122.9px 123.7px,#cd4e45 123.7px 124.6px,#a2cde2 124.6px 125.4px,#fddbc7 125.4px 126.2px,#fce2d3 126.2px 127.1px,#fbceb6 127.1px 127.9px,#fce2d3 127.9px 128.7px,#f7f7f7 128.7px 129.5px,#c43c3c 129.5px 130.4px,#bb2a34 130.4px 131.2px,#cd4e45 131.2px 132.0px,#ed9475 132.0px 132.9px,#fddbc7 132.9px 133.7px,#f6b293 133.7px 135.4px,#f8c0a4 135.4px 136.2px,#de715a 136.2px 137.0px,#ed9475 137.0px 137.9px,#fddbc7 137.9px 138.7px,#fbceb6 138.7px 139.5px,#fce2d3 139.5px 140.3px,#f6b293 140.3px 141.2px,#fbceb6 141.2px 142.8px,#fddbc7 142.8px 143.7px,#fbceb6 143.7px 144.5px,#f4a582 144.5px 146.2px,#f8c0a4 146.2px 147.0px,#fddbc7 147.0px 147.8px,#de715a 147.8px 149.5px,#f4a582 149.5px 150.3px,#cd4e45 150.3px 151.1px,#d6604d 151.1px 152.0px,#f6b293 152.0px 152.8px,#ed9475 152.8px 153.6px,#f4a582 153.6px 154.5px,#ed9475 154.5px 155.3px,#f6b293 155.3px 156.1px,#f4a582 156.1px 157.0px,#ed9475 157.0px 159.4px,#e58268 159.4px 161.1px,#ed9475 161.1px 161.9px,#f6b293 161.9px 162.8px,#ed9475 162.8px 163.6px,#f6b293 163.6px 164.4px,#cd4e45 164.4px 165.3px,#7eb8d7 165.3px 166.1px,#579fca 166.1px 166.9px,#7eb8d7 166.9px 168.6px,#fddbc7 168.6px 169.4px,#f8c0a4 169.4px 170.2px,#f6b293 170.2px 171.1px,#f8c0a4 171.1px 172.7px,#fce2d3 172.7px 173.6px,#f6b293 173.6px 175.2px,#fddbc7 175.2px 176.1px,#f8c0a4 176.1px 176.9px,#ed9475 176.9px 177.7px,#e58268 177.7px 178.5px,#ed9475 178.5px 179.4px,#e58268 179.4px 180.2px,#d1e5f0 180.2px 181.0px,#c1ddec 181.0px 181.9px,#f8c0a4 181.9px 182.7px,#a2cde2 182.7px 183.5px,#f8f0eb 183.5px 184.4px,#edf2f5 184.4px 185.2px,#fce2d3 185.2px 186.0px,#cd4e45 186.0px 186.8px,#e58268 186.8px 187.7px,#fae9df 187.7px 188.5px,#f6b293 188.5px 189.3px,#d6604d 189.3px 190.2px,#e58268 190.2px 191.0px)"></div>
<div style="left:258.50px;top:288.90px;width:18.42px;height:191.00px;background:linear-gradient(to bottom,#7eb8d7 0.0px 1.7px,#6aacd0 1.7px 2.5px,#a2cde2 2.5px 3.3px,#b1d5e7 3.3px 4.2px,#d1e5f0 4.2px 5.8px,#daeaf2 5.8px 6.6px,#c1ddec 6.6px 9.1px,#d1e5f0 9.1px 10.0px,#b1d5e7 10.0px 10.8px,#c1ddec 10.8px 11.6px,#92c5de 11.6px 12.5px,#b1d5e7 12.5px 13.3px,#daeaf2 13.3px 14.1px,#fbceb6 14.1px 14.9px,#ed9475 14.9px 15.8px,#579fca 15.8px 16.6px,#daeaf2 16.6px 17.4px,#de715a 17.4px 18.3px,#f6b293 18.3px 19.1px,#f8c0a4 19.1px 19.9px,#daeaf2 19.9px 20.8px,#b1d5e7 20.8px 21.6px,#92c5de 21.6px 22.4px,#b1d5e7 22.4px 24.1px,#fce2d3 24.1px 24.9px,#d1e5f0 24.9px 25.7px,#b1d5e7 25.7px 26.6px,#a2cde2 26.6px 27.4px,#92c5de 27.4px 28.2px,#b1d5e7 28.2px 29.1px,#fae9df 29.1px 29.9px,#c1ddec 29.9px 30.7px,#92c5de 30.7px 32.4px,#b1d5e7 32.4px 33.2px,#92c5de 33.2px 34.0px,#c1ddec 34.0px 34.9px,#b1d5e7 34.9px 36.5px,#d1e5f0 36.5px 37.4px,#92c5de 37.4px 38.2px,#579fca 38.2px 39.9px,#2a71b2 39.9px 40.7px,#4393c3 40.7px 41.5px,#92c5de 41.5px 43.2px,#f7f7f7 43.2px 44.0px,#c1ddec 44.0px 44.8px,#a2cde2 44.8px 45.7px,#f8c0a4 45.7px 46.5px,#f8f0eb 46.5px 47.3px,#fbceb6 47.3px 48.2px,#f8c0a4 48.2px 49.0px,#fce2d3 49.0px 49.8px,#f6b293 49.8px 50.7px,#d6604d 50.7px 51.5px,#92c5de 51.5px 52.3px,#f4a582 52.3px 54.0px,#f8c0a4 54.0px 54.8px,#f4a582 54.8px 56.5px,#f8c0a4 56.5px 58.1px,#f4a582 58.1px 59.0px,#fbceb6 59.0px 59.8px,#de715a 59.8px 60.6px,#fddbc7 60.6px 61.5px,#ed9475 61.5px 62.3px,#f4a582 62.3px 63.1px,#c1ddec 63.1px 63.9px,#f8c0a4 63.9px 64.8px,#fae9df 64.8px 65.6px,#fce2d3 65.6px 66.4px,#d1e5f0 66.4px 67.3px,#fce2d3 67.3px 68.1px,#f8c0a4 68.1px 69.8px,#fddbc7 69.8px 70.6px,#fbceb6 70.6px 71.4px,#f8c0a4 71.4px 72.2px,#fce2d3 72.2px 73.1px,#f6b293 73.1px 73.9px,#fbceb6 73.9px 74.7px,#f8c0a4 74.7px 75.6px,#f4a582 75.6px 76.4px,#fbceb6 76.4px 77.2px,#fddbc7 77.2px 78.1px,#f4a582 78.1px 79.7px,#f8c0a4 79.7px 80.6px,#fbceb6 80.6px 81.4px,#f8c0a4 81.4px 82.2px,#fce2d3 82.2px 83.0px,#fbceb6 83.0px 83.9px,#fce2d3 83.9px 84.7px,#ed9475 84.7px 85.5px,#e58268 85.5px 86.4px,#f6b293 86.4px 87.2px,#fbceb6 87.2px 88.0px,#fddbc7 88.0px 88.9px,#fce2d3 88.9px 89.7px,#d1e5f0 89.7px 90.5px,#f4a582 90.5px 91.3px,#fddbc7 91.3px 92.2px,#f8c0a4 92.2px 93.0px,#fddbc7 93.0px 94.7px,#fbceb6 94.7px 95.5px,#fddbc7 95.5px 97.2px,#fbceb6 97.2px 98.0px,#ed9475 98.0px 98.8px,#fce2d3 98.8px 99.7px,#fbceb6 99.7px 100.5px,#d1e5f0 100.5px 101.3px,#f4a582 101.3px 102.1px,#ed9475 102.1px 103.0px,#f4a582 103.0px 103.8px,#d6604d 103.8px 104.6px,#cd4e45 104.6px 105.5px,#f4a582 105.5px 106.3px,#ed9475 106.3px 107.1px,#bb2a34 107.1px 108.0px,#d6604d 108.0px 108.8px,#de715a 108.8px 109.6px,#c43c3c 109.6px 110.4px,#e58268 110.4px 111.3px,#de715a 111.3px 112.1px,#cd4e45 112.1px 112.9px,#e58268 112.9px 113.8px,#d6604d 113.8px 114.6px,#cd4e45 114.6px 115.4px,#9f1228 115.4px 116.3px,#c43c3c 116.3px 117.1px,#daeaf2 117.1px 117.9px,#f8c0a4 117.9px 119.6px,#e58268 119.6px 120.4px,#d1e5f0 120.4px 121.2px,#ed9475 121.2px 122.1px,#fddbc7 122.1px 122.9px,#f8c0a4 122.9px 123.7px,#a2cde2 123.7px 125.4px,#c1ddec 125.4px 126.2px,#d1e5f0 126.2px 127.1px,#327db8 127.1px 127.9px,#134b86 127.9px 128.7px,#1a5899 128.7px 129.5px,#2166ac 129.5px 130.4px,#2a71b2 130.4px 131.2px,#579fca 131.2px 132.0px,#6aacd0 132.0px 132.9px,#b1d5e7 132.9px 133.7px,#a2cde2 133.7px 134.5px,#e58268 134.5px 135.4px,#f6b293 135.4px 136.2px,#ed9475 136.2px 138.7px,#f4a582 138.7px 140.3px,#f6b293 140.3px 141.2px,#ed9475 141.2px 142.0px,#f4a582 142.0px 143.7px,#f6b293 143.7px 144.5px,#f8c0a4 144.5px 145.3px,#fddbc7 145.3px 146.2px,#f6b293 146.2px 147.8px,#f8c0a4 147.8px 149.5px,#fbceb6 149.5px 150.3px,#f6b293 150.3px 151.1px,#e58268 151.1px 152.0px,#f8c0a4 152.0px 152.8px,#edf2f5 152.8px 153.6px,#e58268 153.6px 154.5px,#ed9475 154.5px 155.3px,#e58268 155.3px 156.1px,#edf2f5 156.1px 157.0px,#b1d5e7 157.0px 157.8px,#c1ddec 157.8px 158.6px,#92c5de 158.6px 159.4px,#a2cde2 159.4px 160.3px,#b1d5e7 160.3px 161.1px,#cd4e45 161.1px 161.9px,#e58268 161.9px 162.8px,#ed9475 162.8px 164.4px,#f6b293 164.4px 165.3px,#f4a582 165.3px 166.1px,#ed9475 166.1px 166.9px,#e58268 166.9px 167.7px,#fddbc7 167.7px 168.6px,#7eb8d7 168.6px 169.4px,#579fca 169.4px 170.2px,#6aacd0 170.2px 171.1px,#4393c3 171.1px 171.9px,#6aacd0 171.9px 172.7px,#7eb8d7 172.7px 173.6px,#ed9475 173.6px 174.4px,#edf2f5 174.4px 175.2px,#92c5de 175.2px 176.1px,#fbceb6 176.1px 176.9px,#fae9df 176.9px 177.7px,#f8c0a4 177.7px 178.5px,#fddbc7 178.5px 179.4px,#fce2d3 179.4px 181.9px,#f8c0a4 181.9px 182.7px,#7eb8d7 182.7px 183.5px,#fae9df 183.5px 184.4px,#fce2d3 184.4px 185.2px,#7eb8d7 185.2px 186.0px,#c1ddec 186.0px 186.8px,#daeaf2 186.8px 187.7px,#92c5de 187.7px 188.5px,#f8f0eb 188.5px 189.3px,#edf2f5 189.3px 190.2px,#c1ddec 190.2px 191.0px)"></div>
<div style="left:276.90px;top:288.90px;width:18.42px;height:191.00px;background:linear-gradient(to bottom,#1a5899 0.0px 0.8px,#4393c3 0.8px 1.7px,#3a88bd 1.7px 2.5px,#4393c3 2.5px 3.3px,#92c5de 3.3px 4.2px,#4393c3 4.2px 5.0px,#579fca 5.0px 5.8px,#6aacd0 5.8px 6.6px,#fbceb6 6.6px 7.5px,#92c5de 7.5px 8.3px,#7eb8d7 8.3px 9.1px,#b1d5e7 9.1px 10.0px,#c1ddec 10.0px 11.6px,#a2cde2 11.6px 13.3px,#b1d5e7 13.3px 14.1px,#edf2f5 14.1px 14.9px,#f8f0eb 14.9px 16.6px,#fddbc7 16.6px 17.4px,#f8f0eb 17.4px 19.1px,#f8c0a4 19.1px 19.9px,#ed9475 19.9px 20.8px,#f7f7f7 20.8px 21.6px,#f8c0a4 21.6px 22.4px,#ed9475 22.4px 23.3px,#fbceb6 23.3px 24.1px,#f8c0a4 24.1px 25.7px,#fddbc7 25.7px 26.6px,#f8c0a4 26.6px 27.4px,#f7f7f7 27.4px 28.2px,#1a5899 28.2px 29.1px,#327db8 29.1px 29.9px,#4393c3 29.9px 30.7px,#3a88bd 30.7px 32.4px,#e4eef4 32.4px 33.2px,#b1d5e7 33.2px 34.0px,#f7f7f7 34.0px 34.9px,#a2cde2 34.9px 35.7px,#7eb8d7 35.7px 36.5px,#92c5de 36.5px 37.4px,#f7f7f7 37.4px 38.2px,#92c5de 38.2px 39.0px,#327db8 39.0px 39.9px,#7eb8d7 39.9px 40.7px,#6aacd0 40.7px 41.5px,#92c5de 41.5px 42.4px,#7eb8d7 42.4px 43.2px,#92c5de 43.2px 44.0px,#7eb8d7 44.0px 44.8px,#92c5de 44.8px 45.7px,#327db8 45.7px 46.5px,#92c5de 46.5px 47.3px,#a2cde2 47.3px 48.2px,#fae9df 48.2px 49.0px,#de715a 49.0px 49.8px,#edf2f5 49.8px 50.7px,#f8f0eb 50.7px 51.5px,#fddbc7 51.5px 52.3px,#b1d5e7 52.3px 53.1px,#fce2d3 53.1px 54.0px,#d6604d 54.0px 54.8px,#579fca 54.8px 55.6px,#4393c3 55.6px 56.5px,#2a71b2 56.5px 57.3px,#327db8 57.3px 58.1px,#4393c3 58.1px 59.0px,#a2cde2 59.0px 59.8px,#6aacd0 59.8px 60.6px,#4393c3 60.6px 61.5px,#2a71b2 61.5px 62.3px,#1a5899 62.3px 63.1px,#134b86 63.1px 63.9px,#6aacd0 63.9px 64.8px,#2166ac 64.8px 65.6px,#327db8 65.6px 66.4px,#fbceb6 66.4px 67.3px,#fddbc7 67.3px 68.1px,#fbceb6 68.1px 68.9px,#f6b293 68.9px 69.8px,#fce2d3 69.8px 70.6px,#fbceb6 70.6px 71.4px,#fddbc7 71.4px 72.2px,#fce2d3 72.2px 73.1px,#e58268 73.1px 73.9px,#f4a582 73.9px 74.7px,#ed9475 74.7px 75.6px,#f8c0a4 75.6px 76.4px,#f8f0eb 76.4px 77.2px,#f4a582 77.2px 78.9px,#fbceb6 78.9px 79.7px,#e58268 79.7px 80.6px,#f4a582 80.6px 81.4px,#f6b293 81.4px 82.2px,#e58268 82.2px 83.0px,#f4a582 83.0px 83.9px,#f8f0eb 83.9px 84.7px,#fce2d3 84.7px 85.5px,#fbceb6 85.5px 86.4px,#fae9df 86.4px 87.2px,#fddbc7 87.2px 88.0px,#fbceb6 88.0px 88.9px,#fae9df 88.9px 89.7px,#fddbc7 89.7px 90.5px,#fbceb6 90.5px 91.3px,#fddbc7 91.3px 93.0px,#edf2f5 93.0px 93.8px,#fddbc7 93.8px 94.7px,#f8f0eb 94.7px 95.5px,#f8c0a4 95.5px 96.3px,#f6b293 96.3px 97.2px,#e58268 97.2px 98.0px,#f8c0a4 98.0px 98.8px,#ed9475 98.8px 99.7px,#f6b293 99.7px 100.5px,#f4a582 100.5px 101.3px,#ed9475 101.3px 102.1px,#e58268 102.1px 103.0px,#f4a582 103.0px 104.6px,#f8c0a4 104.6px 105.5px,#fddbc7 105.5px 106.3px,#f6b293 106.3px 107.1px,#e58268 107.1px 108.0px,#bb2a34 108.0px 108.8px,#c43c3c 108.8px 109.6px,#ed9475 109.6px 110.4px,#f8c0a4 110.4px 111.3px,#579fca 111.3px 112.1px,#f4a582 112.1px 113.8px,#ed9475 113.8px 114.6px,#f8c0a4 114.6px 116.3px,#f7f7f7 116.3px 117.1px,#579fca 117.1px 117.9px,#7eb8d7 117.9px 118.8px,#a2cde2 118.8px 120.4px,#fce2d3 120.4px 121.2px,#fbceb6 121.2px 122.1px,#fddbc7 122.1px 124.6px,#f6b293 124.6px 126.2px,#a2cde2 126.2px 127.1px,#92c5de 127.1px 127.9px,#7eb8d7 127.9px 128.7px,#fce2d3 128.7px 129.5px,#e4eef4 129.5px 130.4px,#fae9df 130.4px 131.2px,#edf2f5 131.2px 132.9px,#fae9df 132.9px 133.7px,#f8c0a4 133.7px 135.4px,#daeaf2 135.4px 136.2px,#ed9475 136.2px 137.0px,#fbceb6 137.0px 137.9px,#fce2d3 137.9px 138.7px,#f6b293 138.7px 139.5px,#ed9475 139.5px 140.3px,#f4a582 140.3px 141.2px,#f8c0a4 141.2px 142.0px,#e58268 142.0px 142.8px,#de715a 142.8px 143.7px,#c43c3c 143.7px 144.5px,#bb2a34 144.5px 145.3px,#f4a582 145.3px 146.2px,#f6b293 146.2px 148.6px,#fbceb6 148.6px 149.5px,#fce2d3 149.5px 151.1px,#f8c0a4 151.1px 152.8px,#f6b293 152.8px 153.6px,#ed9475 153.6px 154.5px,#e58268 154.5px 155.3px,#ed9475 155.3px 156.1px,#e58268 156.1px 157.0px,#f4a582 157.0px 157.8px,#de715a 157.8px 158.6px,#fae9df 158.6px 159.4px,#f6b293 159.4px 161.1px,#cd4e45 161.1px 163.6px,#c43c3c 163.6px 164.4px,#f4a582 164.4px 166.1px,#e58268 166.1px 166.9px,#f6b293 166.9px 167.7px,#fce2d3 167.7px 168.6px,#f8c0a4 168.6px 170.2px,#de715a 170.2px 171.1px,#f4a582 171.1px 171.9px,#f8f0eb 171.9px 172.7px,#ed9475 172.7px 173.6px,#fce2d3 173.6px 174.4px,#daeaf2 174.4px 175.2px,#fbceb6 175.2px 176.1px,#fce2d3 176.1px 176.9px,#fddbc7 176.9px 177.7px,#fae9df 177.7px 178.5px,#fce2d3 178.5px 179.4px,#f7f7f7 179.4px 180.2px,#579fca 180.2px 181.0px,#1a5899 181.0px 181.9px,#92c5de 181.9px 182.7px,#c1ddec 182.7px 183.5px,#a2cde2 183.5px 184.4px,#fce2d3 184.4px 185.2px,#ed9475 185.2px 186.0px,#de715a 186.0px 186.8px,#c43c3c 186.8px 188.5px,#cd4e45 188.5px 189.3px,#e58268 189.3px 190.2px,#f6b293 190.2px 191.0px)"></div>
<div style="left:404.20px;top:288.90px;width:18.44px;height:191.30px;background:linear-gradient(to bottom,#ed9475 0.0px 0.8px,#fddbc7 0.8px 1.7px,#f8c0a4 1.7px 2.5px,#cd4e45 2.5px 3.3px,#ed9475 3.3px 4.2px,#f8f0eb 4.2px 5.0px,#f8c0a4 5.0px 5.8px,#f6b293 5.8px 6.7px,#f4a582 6.7px 9.1px,#fbceb6 9.1px 10.0px,#f6b293 10.0px 10.8px,#e58268 10.8px 11.6px,#ed9475 11.6px 12.5px,#f6b293 12.5px 13.3px,#de715a 13.3px 14.1px,#f8c0a4 14.1px 15.0px,#fbceb6 15.0px 15.8px,#fae9df 15.8px 16.6px,#f7f7f7 16.6px 17.5px,#f8f0eb 17.5px 18.3px,#e58268 18.3px 19.1px,#edf2f5 19.1px 20.0px,#fddbc7 20.0px 20.8px,#f8c0a4 20.8px 21.6px,#fce2d3 21.6px 22.5px,#fae9df 22.5px 23.3px,#fce2d3 23.3px 24.1px,#f6b293 24.1px 25.0px,#e58268 25.0px 25.8px,#d6604d 25.8px 26.6px,#6aacd0 26.6px 27.4px,#fddbc7 27.4px 28.3px,#fbceb6 28.3px 29.1px,#f4a582 29.1px 29.9px,#daeaf2 29.9px 30.8px,#fddbc7 30.8px 31.6px,#92c5de 31.6px 32.4px,#f8f0eb 32.4px 33.3px,#92c5de 33.3px 34.1px,#6aacd0 34.1px 34.9px,#4393c3 34.9px 35.8px,#7eb8d7 35.8px 36.6px,#f6b293 36.6px 37.4px,#b1d5e7 37.4px 38.3px,#c1ddec 38.3px 39.1px,#b1d5e7 39.1px 40.8px,#fddbc7 40.8px 41.6px,#c1ddec 41.6px 43.3px,#f7f7f7 43.3px 44.1px,#f8f0eb 44.1px 45.7px,#f7f7f7 45.7px 47.4px,#fddbc7 47.4px 49.1px,#fae9df 49.1px 49.9px,#fbceb6 49.9px 50.7px,#f6b293 50.7px 51.6px,#f8c0a4 51.6px 53.2px,#de715a 53.2px 54.1px,#e58268 54.1px 54.9px,#b1d5e7 54.9px 55.7px,#579fca 55.7px 56.6px,#7eb8d7 56.6px 58.2px,#2166ac 58.2px 59.9px,#6aacd0 59.9px 60.7px,#3a88bd 60.7px 61.5px,#1a5899 61.5px 62.4px,#3a88bd 62.4px 63.2px,#c1ddec 63.2px 64.0px,#fce2d3 64.0px 64.9px,#a2cde2 64.9px 65.7px,#7eb8d7 65.7px 66.5px,#a2cde2 66.5px 67.4px,#0c3e74 67.4px 68.2px,#053061 68.2px 69.0px,#92c5de 69.0px 69.9px,#fddbc7 69.9px 70.7px,#7eb8d7 70.7px 71.5px,#92c5de 71.5px 72.4px,#b1d5e7 72.4px 73.2px,#7eb8d7 73.2px 74.9px,#fbceb6 74.9px 75.7px,#e58268 75.7px 76.5px,#ed9475 76.5px 77.4px,#f4a582 77.4px 78.2px,#de715a 78.2px 79.0px,#f8c0a4 79.0px 79.8px,#fae9df 79.8px 80.7px,#f6b293 80.7px 81.5px,#fbceb6 81.5px 82.3px,#fddbc7 82.3px 83.2px,#de715a 83.2px 84.0px,#e58268 84.0px 84.8px,#f8c0a4 84.8px 85.7px,#fddbc7 85.7px 86.5px,#fbceb6 86.5px 87.3px,#f6b293 87.3px 88.2px,#ed9475 88.2px 89.0px,#d1e5f0 89.0px 89.8px,#f8c0a4 89.8px 90.7px,#fbceb6 90.7px 91.5px,#f8c0a4 91.5px 92.3px,#f6b293 92.3px 93.2px,#ed9475 93.2px 94.0px,#f8c0a4 94.0px 94.8px,#f4a582 94.8px 95.7px,#fae9df 95.7px 96.5px,#f8c0a4 96.5px 97.3px,#fae9df 97.3px 98.1px,#f6b293 98.1px 99.8px,#fae9df 99.8px 100.6px,#fbceb6 100.6px 101.5px,#f8f0eb 101.5px 102.3px,#b1d5e7 102.3px 103.1px,#edf2f5 103.1px 104.0px,#c1ddec 104.0px 104.8px,#f7f7f7 104.8px 105.6px,#e58268 105.6px 106.5px,#fbceb6 106.5px 107.3px,#f6b293 107.3px 108.1px,#f8c0a4 108.1px 109.0px,#e58268 109.0px 109.8px,#ed9475 109.8px 110.6px,#f4a582 110.6px 111.5px,#fbceb6 111.5px 112.3px,#f6b293 112.3px 113.1px,#f4a582 113.1px 113.9px,#ed9475 113.9px 114.8px,#daeaf2 114.8px 115.6px,#f8f0eb 115.6px 116.4px,#edf2f5 116.4px 117.3px,#e58268 117.3px 118.1px,#ed9475 118.1px 118.9px,#fddbc7 118.9px 119.8px,#f7f7f7 119.8px 120.6px,#edf2f5 120.6px 121.4px,#b1d5e7 121.4px 122.3px,#c1ddec 122.3px 123.1px,#fbceb6 123.1px 123.9px,#e4eef4 123.9px 124.8px,#d1e5f0 124.8px 126.4px,#f6b293 126.4px 127.3px,#f4a582 127.3px 128.1px,#f8c0a4 128.1px 128.9px,#f8f0eb 128.9px 129.8px,#f7f7f7 129.8px 130.6px,#e58268 130.6px 131.4px,#f8c0a4 131.4px 132.2px,#ed9475 132.2px 133.1px,#fce2d3 133.1px 133.9px,#daeaf2 133.9px 134.7px,#327db8 134.7px 135.6px,#92c5de 135.6px 136.4px,#fbceb6 136.4px 137.2px,#fae9df 137.2px 138.1px,#f8f0eb 138.1px 138.9px,#f6b293 138.9px 139.7px,#fae9df 139.7px 140.6px,#fddbc7 140.6px 141.4px,#f8c0a4 141.4px 142.2px,#fae9df 142.2px 143.1px,#f6b293 143.1px 143.9px,#ed9475 143.9px 144.7px,#fddbc7 144.7px 145.6px,#f8c0a4 145.6px 147.2px,#fddbc7 147.2px 148.0px,#f6b293 148.0px 148.9px,#d1e5f0 148.9px 150.5px,#e4eef4 150.5px 151.4px,#f6b293 151.4px 152.2px,#fce2d3 152.2px 153.0px,#fae9df 153.0px 153.9px,#f8c0a4 153.9px 154.7px,#6aacd0 154.7px 155.5px,#2a71b2 155.5px 156.4px,#92c5de 156.4px 157.2px,#d6604d 157.2px 158.0px,#daeaf2 158.0px 158.9px,#e4eef4 158.9px 159.7px,#92c5de 159.7px 160.5px,#d1e5f0 160.5px 161.4px,#fbceb6 161.4px 162.2px,#fddbc7 162.2px 163.0px,#f7f7f7 163.0px 163.9px,#daeaf2 163.9px 164.7px,#fae9df 164.7px 165.5px,#fddbc7 165.5px 166.3px,#f6b293 166.3px 167.2px,#fddbc7 167.2px 168.0px,#1a5899 168.0px 168.8px,#4393c3 168.8px 169.7px,#3a88bd 169.7px 170.5px,#ed9475 170.5px 172.2px,#f6b293 172.2px 173.0px,#e58268 173.0px 173.8px,#f6b293 173.8px 176.3px,#ed9475 176.3px 177.2px,#f8c0a4 177.2px 178.0px,#f4a582 178.0px 178.8px,#b1d5e7 178.8px 179.7px,#92c5de 179.7px 180.5px,#c1ddec 180.5px 181.3px,#f6b293 181.3px 182.2px,#f4a582 182.2px 183.0px,#ed9475 183.0px 183.8px,#579fca 183.8px 184.6px,#f8c0a4 184.6px 185.5px,#e58268 185.5px 186.3px,#c43c3c 186.3px 187.1px,#fddbc7 187.1px 188.0px,#f8c0a4 188.0px 188.8px,#579fca 188.8px 189.6px,#7eb8d7 189.6px 190.5px,#6aacd0 190.5px 191.3px)"></div>
<div style="left:422.62px;top:288.90px;width:18.44px;height:191.30px;background:linear-gradient(to bottom,#a2cde2 0.0px 0.8px,#d1e5f0 0.8px 2.5px,#edf2f5 2.5px 3.3px,#b1d5e7 3.3px 4.2px,#92c5de 4.2px 5.0px,#daeaf2 5.0px 5.8px,#ed9475 5.8px 6.7px,#f4a582 6.7px 7.5px,#e58268 7.5px 8.3px,#f6b293 8.3px 9.1px,#ed9475 9.1px 10.0px,#fbceb6 10.0px 10.8px,#ed9475 10.8px 11.6px,#f4a582 11.6px 12.5px,#f8c0a4 12.5px 13.3px,#f4a582 13.3px 14.1px,#ed9475 14.1px 16.6px,#e58268 16.6px 17.5px,#f6b293 17.5px 18.3px,#fddbc7 18.3px 19.1px,#fbceb6 19.1px 20.0px,#fddbc7 20.0px 20.8px,#f8c0a4 20.8px 21.6px,#ed9475 21.6px 22.5px,#f8c0a4 22.5px 23.3px,#f6b293 23.3px 24.1px,#f4a582 24.1px 25.0px,#7eb8d7 25.0px 25.8px,#92c5de 25.8px 26.6px,#fddbc7 26.6px 27.4px,#7eb8d7 27.4px 28.3px,#6aacd0 28.3px 29.1px,#fbceb6 29.1px 29.9px,#f8c0a4 29.9px 30.8px,#f4a582 30.8px 31.6px,#f6b293 31.6px 32.4px,#fddbc7 32.4px 33.3px,#f7f7f7 33.3px 35.8px,#e4eef4 35.8px 36.6px,#edf2f5 36.6px 37.4px,#e4eef4 37.4px 38.3px,#fbceb6 38.3px 39.1px,#f6b293 39.1px 39.9px,#fbceb6 39.9px 40.8px,#f4a582 40.8px 41.6px,#fbceb6 41.6px 42.4px,#fddbc7 42.4px 44.1px,#f4a582 44.1px 44.9px,#f8c0a4 44.9px 46.6px,#e58268 46.6px 47.4px,#f4a582 47.4px 48.2px,#de715a 48.2px 49.1px,#d6604d 49.1px 49.9px,#cd4e45 49.9px 50.7px,#e58268 50.7px 51.6px,#f6b293 51.6px 52.4px,#f4a582 52.4px 53.2px,#e58268 53.2px 54.1px,#de715a 54.1px 54.9px,#f6b293 54.9px 55.7px,#f4a582 55.7px 56.6px,#de715a 56.6px 58.2px,#e58268 58.2px 59.9px,#f8f0eb 59.9px 60.7px,#f4a582 60.7px 61.5px,#fddbc7 61.5px 62.4px,#d6604d 62.4px 63.2px,#e58268 63.2px 64.0px,#ed9475 64.0px 64.9px,#f4a582 64.9px 65.7px,#edf2f5 65.7px 66.5px,#e4eef4 66.5px 67.4px,#a2cde2 67.4px 68.2px,#edf2f5 68.2px 69.0px,#ed9475 69.0px 69.9px,#c1ddec 69.9px 70.7px,#f7f7f7 70.7px 71.5px,#e4eef4 71.5px 73.2px,#b1d5e7 73.2px 74.0px,#f8f0eb 74.0px 74.9px,#ed9475 74.9px 75.7px,#fbceb6 75.7px 76.5px,#ed9475 76.5px 77.4px,#f8f0eb 77.4px 78.2px,#f4a582 78.2px 79.0px,#f6b293 79.0px 80.7px,#fddbc7 80.7px 81.5px,#f8c0a4 81.5px 83.2px,#ed9475 83.2px 84.0px,#f8c0a4 84.0px 84.8px,#e58268 84.8px 85.7px,#f8c0a4 85.7px 86.5px,#de715a 86.5px 87.3px,#e58268 87.3px 88.2px,#f6b293 88.2px 89.0px,#f8c0a4 89.0px 89.8px,#f4a582 89.8px 90.7px,#d6604d 90.7px 91.5px,#ed9475 91.5px 93.2px,#f8c0a4 93.2px 94.0px,#fddbc7 94.0px 94.8px,#fbceb6 94.8px 95.7px,#c1ddec 95.7px 97.3px,#ed9475 97.3px 98.1px,#f6b293 98.1px 99.0px,#f8c0a4 99.0px 99.8px,#f4a582 99.8px 100.6px,#f6b293 100.6px 101.5px,#f4a582 101.5px 102.3px,#ed9475 102.3px 103.1px,#de715a 103.1px 104.0px,#daeaf2 104.0px 104.8px,#de715a 104.8px 105.6px,#f8c0a4 105.6px 107.3px,#f6b293 107.3px 108.1px,#fbceb6 108.1px 109.0px,#fae9df 109.0px 109.8px,#fddbc7 109.8px 110.6px,#fbceb6 110.6px 111.5px,#a2cde2 111.5px 112.3px,#f4a582 112.3px 113.1px,#f8c0a4 113.1px 113.9px,#d1e5f0 113.9px 114.8px,#92c5de 114.8px 115.6px,#d1e5f0 115.6px 116.4px,#92c5de 116.4px 117.3px,#f6b293 117.3px 118.1px,#ed9475 118.1px 118.9px,#f6b293 118.9px 119.8px,#f4a582 119.8px 120.6px,#e58268 120.6px 121.4px,#f4a582 121.4px 122.3px,#f6b293 122.3px 123.1px,#de715a 123.1px 123.9px,#f8c0a4 123.9px 124.8px,#e58268 124.8px 125.6px,#f8c0a4 125.6px 126.4px,#f4a582 126.4px 127.3px,#f7f7f7 127.3px 128.1px,#f8c0a4 128.1px 128.9px,#fddbc7 128.9px 130.6px,#f4a582 130.6px 131.4px,#fae9df 131.4px 132.2px,#fbceb6 132.2px 133.1px,#fce2d3 133.1px 133.9px,#fae9df 133.9px 134.7px,#f6b293 134.7px 136.4px,#f8c0a4 136.4px 137.2px,#fae9df 137.2px 138.1px,#e4eef4 138.1px 138.9px,#fce2d3 138.9px 139.7px,#f6b293 139.7px 140.6px,#edf2f5 140.6px 141.4px,#ed9475 141.4px 142.2px,#e4eef4 142.2px 143.1px,#92c5de 143.1px 143.9px,#daeaf2 143.9px 144.7px,#edf2f5 144.7px 145.6px,#daeaf2 145.6px 146.4px,#92c5de 146.4px 147.2px,#a2cde2 147.2px 148.0px,#e58268 148.0px 148.9px,#daeaf2 148.9px 149.7px,#f8f0eb 149.7px 150.5px,#fce2d3 150.5px 153.0px,#f8c0a4 153.0px 153.9px,#f6b293 153.9px 154.7px,#f8c0a4 154.7px 155.5px,#ed9475 155.5px 156.4px,#e58268 156.4px 157.2px,#d6604d 157.2px 158.0px,#fce2d3 158.0px 158.9px,#fae9df 158.9px 159.7px,#fce2d3 159.7px 160.5px,#f8c0a4 160.5px 161.4px,#fbceb6 161.4px 162.2px,#e58268 162.2px 163.0px,#de715a 163.0px 163.9px,#f6b293 163.9px 164.7px,#f7f7f7 164.7px 165.5px,#f8f0eb 165.5px 166.3px,#b1d5e7 166.3px 167.2px,#edf2f5 167.2px 168.0px,#fce2d3 168.0px 168.8px,#fbceb6 168.8px 169.7px,#e58268 169.7px 170.5px,#f6b293 170.5px 171.3px,#fce2d3 171.3px 172.2px,#f6b293 172.2px 173.0px,#fddbc7 173.0px 173.8px,#fce2d3 173.8px 174.7px,#b1d5e7 174.7px 175.5px,#f6b293 175.5px 176.3px,#ed9475 176.3px 177.2px,#a2cde2 177.2px 178.0px,#f4a582 178.0px 179.7px,#ed9475 179.7px 180.5px,#d1e5f0 180.5px 181.3px,#c1ddec 181.3px 182.2px,#6aacd0 182.2px 183.0px,#c1ddec 183.0px 183.8px,#7eb8d7 183.8px 184.6px,#a2cde2 184.6px 186.3px,#7eb8d7 186.3px 188.0px,#6aacd0 188.0px 189.6px,#7eb8d7 189.6px 190.5px,#92c5de 190.5px 191.3px)"></div>
<div style="left:441.04px;top:288.90px;width:18.44px;height:191.30px;background:linear-gradient(to bottom,#c43c3c 0.0px 1.7px,#de715a 1.7px 2.5px,#d6604d 2.5px 3.3px,#bb2a34 3.3px 4.2px,#d6604d 4.2px 5.0px,#ed9475 5.0px 5.8px,#f6b293 5.8px 6.7px,#ed9475 6.7px 7.5px,#e58268 7.5px 9.1px,#f6b293 9.1px 10.0px,#ed9475 10.0px 10.8px,#f6b293 10.8px 11.6px,#fce2d3 11.6px 12.5px,#e58268 12.5px 13.3px,#fbceb6 13.3px 14.1px,#f8c0a4 14.1px 15.8px,#fae9df 15.8px 16.6px,#fbceb6 16.6px 17.5px,#fce2d3 17.5px 18.3px,#c1ddec 18.3px 19.1px,#c43c3c 19.1px 20.0px,#b2182b 20.0px 22.5px,#c43c3c 22.5px 25.0px,#e58268 25.0px 25.8px,#d6604d 25.8px 26.6px,#cd4e45 26.6px 27.4px,#ed9475 27.4px 28.3px,#d6604d 28.3px 29.1px,#b2182b 29.1px 29.9px,#d6604d 29.9px 30.8px,#cd4e45 30.8px 32.4px,#d6604d 32.4px 33.3px,#de715a 33.3px 34.1px,#cd4e45 34.1px 34.9px,#de715a 34.9px 36.6px,#cd4e45 36.6px 37.4px,#ed9475 37.4px 38.3px,#cd4e45 38.3px 39.1px,#de715a 39.1px 39.9px,#ed9475 39.9px 40.8px,#de715a 40.8px 41.6px,#e58268 41.6px 42.4px,#ed9475 42.4px 43.3px,#f8c0a4 43.3px 46.6px,#fce2d3 46.6px 48.2px,#edf2f5 48.2px 49.1px,#ed9475 49.1px 50.7px,#de715a 50.7px 51.6px,#d6604d 51.6px 52.4px,#de715a 52.4px 53.2px,#e58268 53.2px 54.1px,#de715a 54.1px 54.9px,#ed9475 54.9px 55.7px,#cd4e45 55.7px 57.4px,#ed9475 57.4px 58.2px,#e58268 58.2px 59.1px,#c43c3c 59.1px 59.9px,#cd4e45 59.9px 61.5px,#c43c3c 61.5px 62.4px,#d6604d 62.4px 63.2px,#de715a 63.2px 64.0px,#fbceb6 64.0px 65.7px,#f6b293 65.7px 66.5px,#d6604d 66.5px 67.4px,#c43c3c 67.4px 68.2px,#d6604d 68.2px 69.0px,#b2182b 69.0px 69.9px,#bb2a34 69.9px 70.7px,#d6604d 70.7px 71.5px,#c43c3c 71.5px 72.4px,#9f1228 72.4px 73.2px,#e58268 73.2px 74.0px,#f4a582 74.0px 74.9px,#ed9475 74.9px 76.5px,#fbceb6 76.5px 77.4px,#fddbc7 77.4px 78.2px,#f8c0a4 78.2px 79.0px,#f6b293 79.0px 80.7px,#ed9475 80.7px 81.5px,#f4a582 81.5px 82.3px,#f6b293 82.3px 83.2px,#f7f7f7 83.2px 84.0px,#fae9df 84.0px 84.8px,#fddbc7 84.8px 85.7px,#fbceb6 85.7px 86.5px,#f8c0a4 86.5px 87.3px,#fce2d3 87.3px 88.2px,#fbceb6 88.2px 89.8px,#fddbc7 89.8px 90.7px,#ed9475 90.7px 91.5px,#f8c0a4 91.5px 92.3px,#a2cde2 92.3px 93.2px,#fce2d3 93.2px 94.0px,#f8c0a4 94.0px 95.7px,#f4a582 95.7px 96.5px,#ed9475 96.5px 97.3px,#e58268 97.3px 98.1px,#ed9475 98.1px 99.0px,#de715a 99.0px 99.8px,#d6604d 99.8px 100.6px,#fce2d3 100.6px 101.5px,#e58268 101.5px 102.3px,#f4a582 102.3px 103.1px,#f8c0a4 103.1px 104.8px,#e4eef4 104.8px 105.6px,#ed9475 105.6px 107.3px,#f4a582 107.3px 108.1px,#ed9475 108.1px 109.0px,#f6b293 109.0px 109.8px,#fbceb6 109.8px 110.6px,#fce2d3 110.6px 111.5px,#ed9475 111.5px 112.3px,#f6b293 112.3px 113.1px,#f4a582 113.1px 113.9px,#ed9475 113.9px 114.8px,#f4a582 114.8px 115.6px,#b2182b 115.6px 116.4px,#8d0c25 116.4px 117.3px,#9f1228 117.3px 118.1px,#e58268 118.1px 118.9px,#d6604d 118.9px 119.8px,#9f1228 119.8px 121.4px,#b2182b 121.4px 122.3px,#8d0c25 122.3px 123.1px,#cd4e45 123.1px 123.9px,#de715a 123.9px 124.8px,#f8f0eb 124.8px 125.6px,#ed9475 125.6px 126.4px,#fbceb6 126.4px 127.3px,#f4a582 127.3px 129.8px,#f6b293 129.8px 130.6px,#f4a582 130.6px 131.4px,#c43c3c 131.4px 132.2px,#d6604d 132.2px 133.9px,#de715a 133.9px 134.7px,#e58268 134.7px 135.6px,#d1e5f0 135.6px 137.2px,#e4eef4 137.2px 138.1px,#edf2f5 138.1px 138.9px,#ed9475 138.9px 139.7px,#d6604d 139.7px 141.4px,#ed9475 141.4px 142.2px,#e58268 142.2px 143.1px,#f8f0eb 143.1px 143.9px,#bb2a34 143.9px 144.7px,#c43c3c 144.7px 145.6px,#7a0622 145.6px 146.4px,#bb2a34 146.4px 147.2px,#e58268 147.2px 148.0px,#ed9475 148.0px 148.9px,#e58268 148.9px 149.7px,#de715a 149.7px 150.5px,#c43c3c 150.5px 152.2px,#de715a 152.2px 153.9px,#ed9475 153.9px 154.7px,#e58268 154.7px 155.5px,#fddbc7 155.5px 156.4px,#de715a 156.4px 157.2px,#e58268 157.2px 158.0px,#f6b293 158.0px 159.7px,#e58268 159.7px 160.5px,#ed9475 160.5px 162.2px,#f6b293 162.2px 163.9px,#8d0c25 163.9px 164.7px,#cd4e45 164.7px 165.5px,#d6604d 165.5px 166.3px,#f6b293 166.3px 167.2px,#f8c0a4 167.2px 168.8px,#f6b293 168.8px 169.7px,#e58268 169.7px 171.3px,#fbceb6 171.3px 172.2px,#d1e5f0 172.2px 173.0px,#c1ddec 173.0px 173.8px,#a2cde2 173.8px 174.7px,#f4a582 174.7px 175.5px,#f6b293 175.5px 176.3px,#fbceb6 176.3px 177.2px,#f8c0a4 177.2px 178.0px,#f6b293 178.0px 178.8px,#4393c3 178.8px 179.7px,#327db8 179.7px 180.5px,#3a88bd 180.5px 181.3px,#4393c3 181.3px 182.2px,#3a88bd 182.2px 183.0px,#2a71b2 183.0px 183.8px,#4393c3 183.8px 184.6px,#b1d5e7 184.6px 185.5px,#3a88bd 185.5px 186.3px,#2a71b2 186.3px 187.1px,#2166ac 187.1px 188.0px,#4393c3 188.0px 188.8px,#134b86 188.8px 189.6px,#1a5899 189.6px 190.5px,#2a71b2 190.5px 191.3px)"></div>
<div style="left:459.45px;top:288.90px;width:18.44px;height:191.30px;background:linear-gradient(to bottom,#f8f0eb 0.0px 0.8px,#fce2d3 0.8px 1.7px,#fbceb6 1.7px 2.5px,#fce2d3 2.5px 3.3px,#fbceb6 3.3px 4.2px,#f8c0a4 4.2px 5.0px,#f6b293 5.0px 5.8px,#fddbc7 5.8px 6.7px,#f8c0a4 6.7px 7.5px,#fce2d3 7.5px 8.3px,#daeaf2 8.3px 9.1px,#f4a582 9.1px 10.0px,#f8c0a4 10.0px 10.8px,#d6604d 10.8px 12.5px,#de715a 12.5px 13.3px,#c43c3c 13.3px 14.1px,#bb2a34 14.1px 15.8px,#f8c0a4 15.8px 16.6px,#fbceb6 16.6px 17.5px,#ed9475 17.5px 18.3px,#f6b293 18.3px 19.1px,#ed9475 19.1px 20.0px,#d1e5f0 20.0px 20.8px,#d6604d 20.8px 22.5px,#b2182b 22.5px 23.3px,#d6604d 23.3px 25.0px,#de715a 25.0px 25.8px,#e58268 25.8px 26.6px,#ed9475 26.6px 27.4px,#fbceb6 27.4px 28.3px,#fddbc7 28.3px 29.1px,#bb2a34 29.1px 29.9px,#d6604d 29.9px 30.8px,#ed9475 30.8px 31.6px,#d6604d 31.6px 32.4px,#de715a 32.4px 33.3px,#f4a582 33.3px 34.1px,#c43c3c 34.1px 34.9px,#f8f0eb 34.9px 35.8px,#f8c0a4 35.8px 36.6px,#f8f0eb 36.6px 37.4px,#b2182b 37.4px 38.3px,#c43c3c 38.3px 39.1px,#de715a 39.1px 39.9px,#f4a582 39.9px 40.8px,#f8c0a4 40.8px 41.6px,#fce2d3 41.6px 42.4px,#ed9475 42.4px 43.3px,#f6b293 43.3px 44.1px,#f4a582 44.1px 44.9px,#f8c0a4 44.9px 45.7px,#f6b293 45.7px 46.6px,#fbceb6 46.6px 47.4px,#f6b293 47.4px 48.2px,#ed9475 48.2px 49.1px,#daeaf2 49.1px 49.9px,#de715a 49.9px 50.7px,#d1e5f0 50.7px 51.6px,#fddbc7 51.6px 52.4px,#fbceb6 52.4px 53.2px,#f8c0a4 53.2px 54.9px,#6aacd0 54.9px 55.7px,#fae9df 55.7px 56.6px,#d6604d 56.6px 57.4px,#ed9475 57.4px 58.2px,#f6b293 58.2px 60.7px,#f8c0a4 60.7px 61.5px,#e58268 61.5px 62.4px,#ed9475 62.4px 63.2px,#d6604d 63.2px 64.0px,#e58268 64.0px 64.9px,#fae9df 64.9px 65.7px,#fce2d3 65.7px 66.5px,#de715a 66.5px 67.4px,#f6b293 67.4px 68.2px,#fce2d3 68.2px 69.0px,#f4a582 69.0px 69.9px,#f8f0eb 69.9px 70.7px,#d6604d 70.7px 72.4px,#ed9475 72.4px 73.2px,#de715a 73.2px 74.0px,#ed9475 74.0px 74.9px,#fae9df 74.9px 75.7px,#f8c0a4 75.7px 76.5px,#f6b293 76.5px 77.4px,#fbceb6 77.4px 78.2px,#f4a582 78.2px 79.0px,#92c5de 79.0px 79.8px,#f8c0a4 79.8px 80.7px,#ed9475 80.7px 81.5px,#fbceb6 81.5px 82.3px,#fddbc7 82.3px 83.2px,#f4a582 83.2px 84.0px,#f6b293 84.0px 84.8px,#f8c0a4 84.8px 85.7px,#c1ddec 85.7px 86.5px,#f7f7f7 86.5px 87.3px,#fbceb6 87.3px 89.0px,#fddbc7 89.0px 89.8px,#fbceb6 89.8px 91.5px,#7eb8d7 91.5px 92.3px,#a2cde2 92.3px 93.2px,#fae9df 93.2px 94.0px,#fbceb6 94.0px 94.8px,#f6b293 94.8px 95.7px,#a2cde2 95.7px 96.5px,#f4a582 96.5px 97.3px,#ed9475 97.3px 98.1px,#f4a582 98.1px 99.0px,#f8c0a4 99.0px 99.8px,#ed9475 99.8px 100.6px,#f4a582 100.6px 102.3px,#fce2d3 102.3px 103.1px,#fddbc7 103.1px 104.0px,#fce2d3 104.0px 104.8px,#fbceb6 104.8px 105.6px,#fce2d3 105.6px 107.3px,#fddbc7 107.3px 108.1px,#fbceb6 108.1px 109.0px,#f6b293 109.0px 109.8px,#de715a 109.8px 110.6px,#f8c0a4 110.6px 111.5px,#daeaf2 111.5px 113.1px,#f7f7f7 113.1px 113.9px,#ed9475 113.9px 114.8px,#de715a 114.8px 115.6px,#fbceb6 115.6px 116.4px,#ed9475 116.4px 117.3px,#f8c0a4 117.3px 118.1px,#d1e5f0 118.1px 118.9px,#f8c0a4 118.9px 119.8px,#c43c3c 119.8px 120.6px,#7a0622 120.6px 121.4px,#e58268 121.4px 122.3px,#cd4e45 122.3px 123.1px,#fce2d3 123.1px 123.9px,#f4a582 123.9px 124.8px,#ed9475 124.8px 125.6px,#e58268 125.6px 126.4px,#fae9df 126.4px 127.3px,#f8f0eb 127.3px 128.1px,#f7f7f7 128.1px 128.9px,#e4eef4 128.9px 129.8px,#fddbc7 129.8px 130.6px,#f4a582 130.6px 131.4px,#f8c0a4 131.4px 132.2px,#f6b293 132.2px 133.1px,#c43c3c 133.1px 135.6px,#de715a 135.6px 137.2px,#e58268 137.2px 138.9px,#bb2a34 138.9px 139.7px,#c43c3c 139.7px 140.6px,#8d0c25 140.6px 141.4px,#9f1228 141.4px 142.2px,#c43c3c 142.2px 143.1px,#fae9df 143.1px 143.9px,#e4eef4 143.9px 144.7px,#f7f7f7 144.7px 145.6px,#fae9df 145.6px 146.4px,#edf2f5 146.4px 147.2px,#fddbc7 147.2px 148.9px,#f4a582 148.9px 149.7px,#ed9475 149.7px 151.4px,#e58268 151.4px 152.2px,#f7f7f7 152.2px 153.0px,#f8c0a4 153.0px 153.9px,#ed9475 153.9px 154.7px,#f6b293 154.7px 155.5px,#f8c0a4 155.5px 156.4px,#fbceb6 156.4px 157.2px,#fae9df 157.2px 158.9px,#6aacd0 158.9px 159.7px,#f8c0a4 159.7px 161.4px,#fddbc7 161.4px 162.2px,#f8f0eb 162.2px 163.0px,#fae9df 163.0px 163.9px,#f7f7f7 163.9px 164.7px,#edf2f5 164.7px 165.5px,#fbceb6 165.5px 166.3px,#e58268 166.3px 167.2px,#f6b293 167.2px 168.0px,#b2182b 168.0px 168.8px,#c43c3c 168.8px 169.7px,#d6604d 169.7px 170.5px,#ed9475 170.5px 171.3px,#de715a 171.3px 172.2px,#f8c0a4 172.2px 173.0px,#e58268 173.0px 173.8px,#f4a582 173.8px 174.7px,#e58268 174.7px 175.5px,#fbceb6 175.5px 176.3px,#de715a 176.3px 178.0px,#ed9475 178.0px 178.8px,#e58268 178.8px 179.7px,#d6604d 179.7px 180.5px,#f4a582 180.5px 181.3px,#ed9475 181.3px 182.2px,#e58268 182.2px 183.0px,#fce2d3 183.0px 184.6px,#edf2f5 184.6px 185.5px,#c1ddec 185.5px 186.3px,#daeaf2 186.3px 187.1px,#c1ddec 187.1px 188.0px,#e4eef4 188.0px 188.8px,#c1ddec 188.8px 189.6px,#4393c3 189.6px 190.5px,#579fca 190.5px 191.3px)"></div>
<div style="left:477.87px;top:288.90px;width:18.44px;height:191.30px;background:linear-gradient(to bottom,#ed9475 0.0px 0.8px,#fce2d3 0.8px 1.7px,#ed9475 1.7px 2.5px,#fce2d3 2.5px 3.3px,#e58268 3.3px 4.2px,#daeaf2 4.2px 5.0px,#f7f7f7 5.0px 5.8px,#daeaf2 5.8px 6.7px,#de715a 6.7px 7.5px,#ed9475 7.5px 8.3px,#fce2d3 8.3px 9.1px,#e58268 9.1px 10.0px,#f6b293 10.0px 10.8px,#f8f0eb 10.8px 11.6px,#fbceb6 11.6px 12.5px,#de715a 12.5px 13.3px,#fddbc7 13.3px 14.1px,#d6604d 14.1px 15.0px,#edf2f5 15.0px 15.8px,#e58268 15.8px 16.6px,#f6b293 16.6px 18.3px,#ed9475 18.3px 19.1px,#fce2d3 19.1px 20.0px,#b2182b 20.0px 20.8px,#9f1228 20.8px 21.6px,#8d0c25 21.6px 22.5px,#c43c3c 22.5px 23.3px,#b2182b 23.3px 24.1px,#cd4e45 24.1px 25.0px,#de715a 25.0px 25.8px,#e58268 25.8px 26.6px,#ed9475 26.6px 27.4px,#de715a 27.4px 28.3px,#c43c3c 28.3px 29.1px,#e58268 29.1px 29.9px,#d6604d 29.9px 30.8px,#e58268 30.8px 31.6px,#ed9475 31.6px 32.4px,#e58268 32.4px 33.3px,#d6604d 33.3px 34.1px,#ed9475 34.1px 34.9px,#e58268 34.9px 35.8px,#de715a 35.8px 36.6px,#b2182b 36.6px 37.4px,#d6604d 37.4px 38.3px,#e58268 38.3px 39.1px,#f8c0a4 39.1px 39.9px,#ed9475 39.9px 40.8px,#cd4e45 40.8px 41.6px,#c43c3c 41.6px 42.4px,#cd4e45 42.4px 43.3px,#e58268 43.3px 44.9px,#d6604d 44.9px 45.7px,#cd4e45 45.7px 46.6px,#e58268 46.6px 47.4px,#f4a582 47.4px 48.2px,#de715a 48.2px 49.9px,#f4a582 49.9px 50.7px,#e58268 50.7px 51.6px,#ed9475 51.6px 52.4px,#e58268 52.4px 53.2px,#d6604d 53.2px 54.1px,#e58268 54.1px 54.9px,#ed9475 54.9px 55.7px,#f4a582 55.7px 56.6px,#d6604d 56.6px 57.4px,#ed9475 57.4px 58.2px,#d6604d 58.2px 59.1px,#bb2a34 59.1px 60.7px,#c43c3c 60.7px 61.5px,#8d0c25 61.5px 62.4px,#cd4e45 62.4px 63.2px,#ed9475 63.2px 64.0px,#f4a582 64.0px 64.9px,#ed9475 64.9px 66.5px,#fbceb6 66.5px 67.4px,#b2182b 67.4px 68.2px,#c43c3c 68.2px 69.0px,#b2182b 69.0px 71.5px,#d6604d 71.5px 72.4px,#b2182b 72.4px 73.2px,#cd4e45 73.2px 74.0px,#c43c3c 74.0px 74.9px,#f6b293 74.9px 75.7px,#ed9475 75.7px 77.4px,#f6b293 77.4px 78.2px,#fbceb6 78.2px 79.0px,#f6b293 79.0px 79.8px,#f4a582 79.8px 80.7px,#e58268 80.7px 81.5px,#fbceb6 81.5px 82.3px,#f4a582 82.3px 83.2px,#ed9475 83.2px 84.0px,#f4a582 84.0px 84.8px,#e58268 84.8px 85.7px,#ed9475 85.7px 86.5px,#f4a582 86.5px 87.3px,#e4eef4 87.3px 88.2px,#f8c0a4 88.2px 89.0px,#ed9475 89.0px 90.7px,#e58268 90.7px 91.5px,#d6604d 91.5px 92.3px,#e58268 92.3px 93.2px,#f4a582 93.2px 94.0px,#f6b293 94.0px 94.8px,#fddbc7 94.8px 96.5px,#fbceb6 96.5px 97.3px,#6aacd0 97.3px 98.1px,#fce2d3 98.1px 99.0px,#579fca 99.0px 99.8px,#3a88bd 99.8px 100.6px,#fbceb6 100.6px 101.5px,#f8c0a4 101.5px 102.3px,#fddbc7 102.3px 103.1px,#f6b293 103.1px 104.0px,#f8c0a4 104.0px 104.8px,#f4a582 104.8px 105.6px,#f7f7f7 105.6px 106.5px,#e58268 106.5px 107.3px,#cd4e45 107.3px 108.1px,#f4a582 108.1px 109.0px,#ed9475 109.0px 109.8px,#f4a582 109.8px 111.5px,#cd4e45 111.5px 112.3px,#c43c3c 112.3px 113.9px,#de715a 113.9px 114.8px,#e58268 114.8px 115.6px,#e4eef4 115.6px 116.4px,#e58268 116.4px 117.3px,#ed9475 117.3px 118.1px,#f6b293 118.1px 118.9px,#fbceb6 118.9px 119.8px,#f6b293 119.8px 120.6px,#f4a582 120.6px 121.4px,#fddbc7 121.4px 122.3px,#de715a 122.3px 123.1px,#f6b293 123.1px 123.9px,#fbceb6 123.9px 124.8px,#d1e5f0 124.8px 125.6px,#fbceb6 125.6px 126.4px,#f8c0a4 126.4px 127.3px,#fae9df 127.3px 128.1px,#e58268 128.1px 129.8px,#de715a 129.8px 130.6px,#d6604d 130.6px 131.4px,#f4a582 131.4px 132.2px,#de715a 132.2px 133.1px,#f6b293 133.1px 133.9px,#d6604d 133.9px 134.7px,#cd4e45 134.7px 135.6px,#c43c3c 135.6px 136.4px,#bb2a34 136.4px 137.2px,#de715a 137.2px 138.1px,#c43c3c 138.1px 138.9px,#fbceb6 138.9px 139.7px,#fae9df 139.7px 140.6px,#f8f0eb 140.6px 142.2px,#e58268 142.2px 143.1px,#f8c0a4 143.1px 143.9px,#e58268 143.9px 144.7px,#ed9475 144.7px 145.6px,#f4a582 145.6px 146.4px,#d6604d 146.4px 148.0px,#de715a 148.0px 148.9px,#fae9df 148.9px 149.7px,#f6b293 149.7px 150.5px,#edf2f5 150.5px 151.4px,#fbceb6 151.4px 152.2px,#fce2d3 152.2px 153.0px,#fbceb6 153.0px 153.9px,#f8c0a4 153.9px 154.7px,#ed9475 154.7px 155.5px,#de715a 155.5px 156.4px,#cd4e45 156.4px 158.0px,#f8c0a4 158.0px 158.9px,#fce2d3 158.9px 159.7px,#b1d5e7 159.7px 160.5px,#ed9475 160.5px 161.4px,#f4a582 161.4px 162.2px,#de715a 162.2px 163.0px,#e58268 163.0px 163.9px,#cd4e45 163.9px 164.7px,#e58268 164.7px 165.5px,#ed9475 165.5px 166.3px,#de715a 166.3px 167.2px,#f4a582 167.2px 168.0px,#7eb8d7 168.0px 169.7px,#6aacd0 169.7px 170.5px,#579fca 170.5px 171.3px,#fce2d3 171.3px 172.2px,#6aacd0 172.2px 173.8px,#fce2d3 173.8px 174.7px,#d1e5f0 174.7px 175.5px,#fce2d3 175.5px 176.3px,#ed9475 176.3px 178.0px,#fbceb6 178.0px 178.8px,#fddbc7 178.8px 179.7px,#fbceb6 179.7px 180.5px,#a2cde2 180.5px 181.3px,#b1d5e7 181.3px 182.2px,#92c5de 182.2px 183.0px,#fce2d3 183.0px 183.8px,#fbceb6 183.8px 184.6px,#579fca 184.6px 185.5px,#f8c0a4 185.5px 186.3px,#fbceb6 186.3px 188.0px,#fddbc7 188.0px 188.8px,#ed9475 188.8px 189.6px,#f8c0a4 189.6px 190.5px,#f4a582 190.5px 191.3px)"></div>
<div style="left:496.29px;top:288.90px;width:18.44px;height:191.30px;background:linear-gradient(to bottom,#ed9475 0.0px 0.8px,#edf2f5 0.8px 1.7px,#e4eef4 1.7px 2.5px,#f4a582 2.5px 3.3px,#fddbc7 3.3px 4.2px,#f6b293 4.2px 5.0px,#f4a582 5.0px 6.7px,#fddbc7 6.7px 7.5px,#f8c0a4 7.5px 9.1px,#f6b293 9.1px 10.0px,#fddbc7 10.0px 10.8px,#b1d5e7 10.8px 11.6px,#fae9df 11.6px 12.5px,#fce2d3 12.5px 13.3px,#6aacd0 13.3px 14.1px,#579fca 14.1px 15.0px,#f8c0a4 15.0px 15.8px,#fae9df 15.8px 16.6px,#7eb8d7 16.6px 17.5px,#6aacd0 17.5px 18.3px,#a2cde2 18.3px 19.1px,#4393c3 19.1px 20.0px,#92c5de 20.0px 20.8px,#d1e5f0 20.8px 21.6px,#c1ddec 21.6px 22.5px,#b1d5e7 22.5px 23.3px,#a2cde2 23.3px 24.1px,#6aacd0 24.1px 25.0px,#a2cde2 25.0px 26.6px,#c1ddec 26.6px 27.4px,#7eb8d7 27.4px 28.3px,#d1e5f0 28.3px 29.1px,#92c5de 29.1px 31.6px,#6aacd0 31.6px 32.4px,#579fca 32.4px 33.3px,#4393c3 33.3px 34.1px,#579fca 34.1px 34.9px,#6aacd0 34.9px 35.8px,#7eb8d7 35.8px 36.6px,#a2cde2 36.6px 37.4px,#6aacd0 37.4px 38.3px,#b1d5e7 38.3px 39.1px,#92c5de 39.1px 39.9px,#b1d5e7 39.9px 41.6px,#3a88bd 41.6px 42.4px,#579fca 42.4px 43.3px,#6aacd0 43.3px 44.1px,#7eb8d7 44.1px 45.7px,#4393c3 45.7px 46.6px,#579fca 46.6px 47.4px,#3a88bd 47.4px 48.2px,#d1e5f0 48.2px 49.1px,#92c5de 49.1px 51.6px,#a2cde2 51.6px 52.4px,#7eb8d7 52.4px 54.1px,#579fca 54.1px 54.9px,#7eb8d7 54.9px 55.7px,#4393c3 55.7px 56.6px,#327db8 56.6px 57.4px,#92c5de 57.4px 58.2px,#7eb8d7 58.2px 59.9px,#6aacd0 59.9px 60.7px,#fce2d3 60.7px 61.5px,#c1ddec 61.5px 62.4px,#7eb8d7 62.4px 64.0px,#fae9df 64.0px 64.9px,#c1ddec 64.9px 65.7px,#a2cde2 65.7px 66.5px,#6aacd0 66.5px 67.4px,#d1e5f0 67.4px 68.2px,#92c5de 68.2px 69.0px,#daeaf2 69.0px 69.9px,#b1d5e7 69.9px 70.7px,#a2cde2 70.7px 71.5px,#fddbc7 71.5px 72.4px,#f7f7f7 72.4px 73.2px,#fce2d3 73.2px 74.9px,#f6b293 74.9px 75.7px,#f8f0eb 75.7px 76.5px,#fae9df 76.5px 78.2px,#92c5de 78.2px 79.0px,#fddbc7 79.0px 79.8px,#fae9df 79.8px 80.7px,#fce2d3 80.7px 81.5px,#c1ddec 81.5px 82.3px,#fddbc7 82.3px 83.2px,#fae9df 83.2px 84.0px,#b1d5e7 84.0px 84.8px,#f8c0a4 84.8px 85.7px,#92c5de 85.7px 86.5px,#f4a582 86.5px 87.3px,#e58268 87.3px 88.2px,#fbceb6 88.2px 89.0px,#e58268 89.0px 89.8px,#f6b293 89.8px 90.7px,#f7f7f7 90.7px 91.5px,#c1ddec 91.5px 92.3px,#f8f0eb 92.3px 93.2px,#92c5de 93.2px 94.0px,#fae9df 94.0px 94.8px,#b1d5e7 94.8px 95.7px,#f8f0eb 95.7px 96.5px,#fae9df 96.5px 97.3px,#de715a 97.3px 99.0px,#e58268 99.0px 99.8px,#f8c0a4 99.8px 100.6px,#fae9df 100.6px 101.5px,#ed9475 101.5px 102.3px,#f4a582 102.3px 103.1px,#f8c0a4 103.1px 104.0px,#fbceb6 104.0px 104.8px,#f6b293 104.8px 105.6px,#fbceb6 105.6px 106.5px,#f8c0a4 106.5px 107.3px,#fbceb6 107.3px 108.1px,#c1ddec 108.1px 109.0px,#d1e5f0 109.0px 109.8px,#daeaf2 109.8px 110.6px,#b1d5e7 110.6px 111.5px,#92c5de 111.5px 113.1px,#3a88bd 113.1px 113.9px,#579fca 113.9px 114.8px,#3a88bd 114.8px 115.6px,#4393c3 115.6px 116.4px,#3a88bd 116.4px 118.9px,#6aacd0 118.9px 119.8px,#579fca 119.8px 120.6px,#4393c3 120.6px 121.4px,#2a71b2 121.4px 122.3px,#327db8 122.3px 123.1px,#edf2f5 123.1px 123.9px,#f7f7f7 123.9px 124.8px,#a2cde2 124.8px 125.6px,#daeaf2 125.6px 126.4px,#6aacd0 126.4px 127.3px,#edf2f5 127.3px 128.9px,#f8f0eb 128.9px 129.8px,#c1ddec 129.8px 130.6px,#edf2f5 130.6px 131.4px,#c1ddec 131.4px 132.2px,#d1e5f0 132.2px 133.1px,#92c5de 133.1px 133.9px,#a2cde2 133.9px 134.7px,#92c5de 134.7px 135.6px,#0c3e74 135.6px 136.4px,#1a5899 136.4px 137.2px,#134b86 137.2px 138.1px,#2166ac 138.1px 139.7px,#1a5899 139.7px 140.6px,#2166ac 140.6px 141.4px,#053061 141.4px 142.2px,#b1d5e7 142.2px 143.1px,#7eb8d7 143.1px 143.9px,#2a71b2 143.9px 144.7px,#327db8 144.7px 146.4px,#3a88bd 146.4px 147.2px,#2a71b2 147.2px 149.7px,#f8c0a4 149.7px 150.5px,#f4a582 150.5px 151.4px,#ed9475 151.4px 152.2px,#f4a582 152.2px 153.0px,#f6b293 153.0px 153.9px,#ed9475 153.9px 154.7px,#fae9df 154.7px 155.5px,#fbceb6 155.5px 156.4px,#f4a582 156.4px 157.2px,#fae9df 157.2px 158.0px,#fddbc7 158.0px 158.9px,#f6b293 158.9px 159.7px,#3a88bd 159.7px 160.5px,#2a71b2 160.5px 161.4px,#2166ac 161.4px 163.0px,#327db8 163.0px 163.9px,#d1e5f0 163.9px 164.7px,#daeaf2 164.7px 165.5px,#a2cde2 165.5px 166.3px,#b1d5e7 166.3px 168.0px,#1a5899 168.0px 168.8px,#053061 168.8px 169.7px,#1a5899 169.7px 171.3px,#134b86 171.3px 172.2px,#0c3e74 172.2px 173.0px,#2166ac 173.0px 173.8px,#134b86 173.8px 174.7px,#2166ac 174.7px 175.5px,#053061 175.5px 176.3px,#a2cde2 176.3px 178.0px,#d1e5f0 178.0px 179.7px,#c1ddec 179.7px 180.5px,#fae9df 180.5px 183.0px,#f8f0eb 183.0px 183.8px,#fce2d3 183.8px 184.6px,#fae9df 184.6px 185.5px,#f8c0a4 185.5px 186.3px,#ed9475 186.3px 187.1px,#92c5de 187.1px 188.0px,#3a88bd 188.0px 188.8px,#f6b293 188.8px 189.6px,#327db8 189.6px 190.5px,#f6b293 190.5px 191.3px)"></div>
<div style="left:514.71px;top:288.90px;width:18.44px;height:191.30px;background:linear-gradient(to bottom,#f6b293 0.0px 0.8px,#fbceb6 0.8px 1.7px,#f4a582 1.7px 2.5px,#f6b293 2.5px 3.3px,#f8c0a4 3.3px 4.2px,#ed9475 4.2px 5.0px,#f8c0a4 5.0px 6.7px,#fddbc7 6.7px 7.5px,#f6b293 7.5px 9.1px,#f8c0a4 9.1px 10.0px,#f6b293 10.0px 10.8px,#f8c0a4 10.8px 14.1px,#de715a 14.1px 15.0px,#f6b293 15.0px 15.8px,#d6604d 15.8px 16.6px,#e58268 16.6px 17.5px,#de715a 17.5px 18.3px,#ed9475 18.3px 19.1px,#c43c3c 19.1px 20.0px,#92c5de 20.0px 20.8px,#c1ddec 20.8px 21.6px,#6aacd0 21.6px 23.3px,#579fca 23.3px 24.1px,#f8f0eb 24.1px 25.0px,#a2cde2 25.0px 25.8px,#f7f7f7 25.8px 26.6px,#b1d5e7 26.6px 28.3px,#a2cde2 28.3px 29.1px,#c1ddec 29.1px 29.9px,#b1d5e7 29.9px 30.8px,#7eb8d7 30.8px 31.6px,#edf2f5 31.6px 32.4px,#6aacd0 32.4px 33.3px,#a2cde2 33.3px 34.1px,#b1d5e7 34.1px 34.9px,#fce2d3 34.9px 35.8px,#4393c3 35.8px 36.6px,#a2cde2 36.6px 38.3px,#6aacd0 38.3px 41.6px,#579fca 41.6px 42.4px,#3a88bd 42.4px 43.3px,#327db8 43.3px 44.1px,#6aacd0 44.1px 44.9px,#edf2f5 44.9px 45.7px,#7eb8d7 45.7px 46.6px,#d1e5f0 46.6px 47.4px,#a2cde2 47.4px 48.2px,#e58268 48.2px 49.1px,#579fca 49.1px 51.6px,#7eb8d7 51.6px 52.4px,#6aacd0 52.4px 53.2px,#e4eef4 53.2px 54.1px,#f7f7f7 54.1px 54.9px,#c1ddec 54.9px 55.7px,#daeaf2 55.7px 56.6px,#d1e5f0 56.6px 57.4px,#92c5de 57.4px 58.2px,#a2cde2 58.2px 59.1px,#c1ddec 59.1px 59.9px,#92c5de 59.9px 60.7px,#fae9df 60.7px 61.5px,#a2cde2 61.5px 63.2px,#b1d5e7 63.2px 64.0px,#92c5de 64.0px 64.9px,#b1d5e7 64.9px 65.7px,#a2cde2 65.7px 66.5px,#fce2d3 66.5px 67.4px,#7eb8d7 67.4px 68.2px,#fddbc7 68.2px 69.0px,#fae9df 69.0px 69.9px,#edf2f5 69.9px 70.7px,#f7f7f7 70.7px 71.5px,#e4eef4 71.5px 72.4px,#ed9475 72.4px 73.2px,#fddbc7 73.2px 74.0px,#d6604d 74.0px 74.9px,#1a5899 74.9px 75.7px,#2a71b2 75.7px 76.5px,#134b86 76.5px 77.4px,#0c3e74 77.4px 78.2px,#053061 78.2px 79.0px,#2166ac 79.0px 79.8px,#134b86 79.8px 81.5px,#1a5899 81.5px 82.3px,#a2cde2 82.3px 83.2px,#92c5de 83.2px 84.0px,#4393c3 84.0px 84.8px,#6aacd0 84.8px 85.7px,#7eb8d7 85.7px 86.5px,#579fca 86.5px 87.3px,#f8c0a4 87.3px 88.2px,#fddbc7 88.2px 89.0px,#f8c0a4 89.0px 90.7px,#e58268 90.7px 91.5px,#f6b293 91.5px 92.3px,#f8c0a4 92.3px 94.0px,#fddbc7 94.0px 94.8px,#f4a582 94.8px 95.7px,#de715a 95.7px 96.5px,#f8c0a4 96.5px 97.3px,#f6b293 97.3px 98.1px,#fddbc7 98.1px 99.0px,#fbceb6 99.0px 99.8px,#fddbc7 99.8px 100.6px,#f6b293 100.6px 101.5px,#fddbc7 101.5px 102.3px,#edf2f5 102.3px 103.1px,#e4eef4 103.1px 104.0px,#d6604d 104.0px 104.8px,#ed9475 104.8px 105.6px,#f6b293 105.6px 106.5px,#f8c0a4 106.5px 109.0px,#de715a 109.0px 110.6px,#e58268 110.6px 111.5px,#de715a 111.5px 112.3px,#f4a582 112.3px 113.1px,#3a88bd 113.1px 113.9px,#4393c3 113.9px 114.8px,#3a88bd 114.8px 115.6px,#579fca 115.6px 116.4px,#4393c3 116.4px 117.3px,#b1d5e7 117.3px 118.1px,#d1e5f0 118.1px 118.9px,#6aacd0 118.9px 119.8px,#edf2f5 119.8px 120.6px,#daeaf2 120.6px 121.4px,#a2cde2 121.4px 122.3px,#d6604d 122.3px 123.1px,#de715a 123.1px 123.9px,#d6604d 123.9px 124.8px,#f4a582 124.8px 125.6px,#f6b293 125.6px 126.4px,#fbceb6 126.4px 127.3px,#e58268 127.3px 128.1px,#fddbc7 128.1px 128.9px,#f4a582 128.9px 129.8px,#6aacd0 129.8px 130.6px,#3a88bd 130.6px 131.4px,#c1ddec 131.4px 132.2px,#a2cde2 132.2px 133.1px,#b2182b 133.1px 133.9px,#f6b293 133.9px 134.7px,#fddbc7 134.7px 138.1px,#fae9df 138.1px 138.9px,#f8f0eb 138.9px 139.7px,#fae9df 139.7px 140.6px,#fbceb6 140.6px 142.2px,#f7f7f7 142.2px 143.1px,#fae9df 143.1px 143.9px,#fddbc7 143.9px 144.7px,#ed9475 144.7px 145.6px,#f4a582 145.6px 146.4px,#ed9475 146.4px 147.2px,#f4a582 147.2px 148.9px,#fbceb6 148.9px 149.7px,#f4a582 149.7px 150.5px,#f6b293 150.5px 151.4px,#d1e5f0 151.4px 152.2px,#b1d5e7 152.2px 153.0px,#7eb8d7 153.0px 153.9px,#b1d5e7 153.9px 155.5px,#f7f7f7 155.5px 156.4px,#e4eef4 156.4px 157.2px,#fbceb6 157.2px 158.0px,#edf2f5 158.0px 158.9px,#f7f7f7 158.9px 159.7px,#f4a582 159.7px 160.5px,#f6b293 160.5px 161.4px,#e4eef4 161.4px 162.2px,#f6b293 162.2px 163.0px,#7eb8d7 163.0px 163.9px,#327db8 163.9px 164.7px,#a2cde2 164.7px 166.3px,#579fca 166.3px 167.2px,#f8c0a4 167.2px 168.0px,#fae9df 168.0px 168.8px,#f7f7f7 168.8px 169.7px,#edf2f5 169.7px 171.3px,#fae9df 171.3px 172.2px,#f7f7f7 172.2px 173.0px,#fce2d3 173.0px 173.8px,#fbceb6 173.8px 174.7px,#f4a582 174.7px 175.5px,#e58268 175.5px 176.3px,#cd4e45 176.3px 177.2px,#e58268 177.2px 178.0px,#c43c3c 178.0px 178.8px,#c1ddec 178.8px 179.7px,#92c5de 179.7px 180.5px,#a2cde2 180.5px 182.2px,#92c5de 182.2px 183.8px,#d1e5f0 183.8px 184.6px,#92c5de 184.6px 185.5px,#b1d5e7 185.5px 186.3px,#f8c0a4 186.3px 187.1px,#f7f7f7 187.1px 188.0px,#fbceb6 188.0px 188.8px,#f8c0a4 188.8px 189.6px,#fce2d3 189.6px 190.5px,#f8c0a4 190.5px 191.3px)"></div>
<div style="left:533.13px;top:288.90px;width:18.44px;height:191.30px;background:linear-gradient(to bottom,#b1d5e7 0.0px 1.7px,#7eb8d7 1.7px 2.5px,#b1d5e7 2.5px 3.3px,#daeaf2 3.3px 4.2px,#c1ddec 4.2px 5.0px,#7eb8d7 5.0px 5.8px,#92c5de 5.8px 6.7px,#2166ac 6.7px 7.5px,#b1d5e7 7.5px 8.3px,#2a71b2 8.3px 9.1px,#327db8 9.1px 10.0px,#2166ac 10.0px 10.8px,#2a71b2 10.8px 11.6px,#3a88bd 11.6px 12.5px,#4393c3 12.5px 14.1px,#579fca 14.1px 15.0px,#7eb8d7 15.0px 15.8px,#a2cde2 15.8px 16.6px,#b1d5e7 16.6px 18.3px,#a2cde2 18.3px 19.1px,#579fca 19.1px 20.8px,#92c5de 20.8px 21.6px,#6aacd0 21.6px 22.5px,#7eb8d7 22.5px 24.1px,#6aacd0 24.1px 25.0px,#d1e5f0 25.0px 25.8px,#6aacd0 25.8px 26.6px,#c1ddec 26.6px 27.4px,#92c5de 27.4px 28.3px,#c1ddec 28.3px 29.1px,#7eb8d7 29.1px 29.9px,#a2cde2 29.9px 30.8px,#c1ddec 30.8px 32.4px,#b1d5e7 32.4px 33.3px,#a2cde2 33.3px 34.1px,#2a71b2 34.1px 34.9px,#2166ac 34.9px 35.8px,#2a71b2 35.8px 36.6px,#3a88bd 36.6px 37.4px,#6aacd0 37.4px 38.3px,#4393c3 38.3px 39.1px,#2166ac 39.1px 39.9px,#4393c3 39.9px 40.8px,#7eb8d7 40.8px 41.6px,#3a88bd 41.6px 42.4px,#579fca 42.4px 43.3px,#3a88bd 43.3px 44.9px,#6aacd0 44.9px 45.7px,#4393c3 45.7px 46.6px,#92c5de 46.6px 48.2px,#b1d5e7 48.2px 49.1px,#92c5de 49.1px 49.9px,#c1ddec 49.9px 50.7px,#7eb8d7 50.7px 51.6px,#6aacd0 51.6px 52.4px,#edf2f5 52.4px 53.2px,#b1d5e7 53.2px 54.1px,#daeaf2 54.1px 54.9px,#d1e5f0 54.9px 55.7px,#b1d5e7 55.7px 57.4px,#daeaf2 57.4px 58.2px,#fce2d3 58.2px 59.1px,#f8f0eb 59.1px 59.9px,#d1e5f0 59.9px 60.7px,#e4eef4 60.7px 61.5px,#3a88bd 61.5px 62.4px,#2166ac 62.4px 63.2px,#daeaf2 63.2px 64.0px,#2166ac 64.0px 64.9px,#3a88bd 64.9px 65.7px,#327db8 65.7px 66.5px,#4393c3 66.5px 67.4px,#b1d5e7 67.4px 68.2px,#c1ddec 68.2px 69.0px,#daeaf2 69.0px 69.9px,#a2cde2 69.9px 71.5px,#b1d5e7 71.5px 72.4px,#92c5de 72.4px 73.2px,#1a5899 73.2px 74.9px,#2166ac 74.9px 75.7px,#3a88bd 75.7px 76.5px,#053061 76.5px 77.4px,#7eb8d7 77.4px 78.2px,#2a71b2 78.2px 79.0px,#327db8 79.0px 79.8px,#2166ac 79.8px 80.7px,#134b86 80.7px 81.5px,#2166ac 81.5px 82.3px,#327db8 82.3px 83.2px,#2a71b2 83.2px 84.0px,#327db8 84.0px 85.7px,#7eb8d7 85.7px 86.5px,#4393c3 86.5px 87.3px,#7eb8d7 87.3px 88.2px,#6aacd0 88.2px 89.8px,#ed9475 89.8px 90.7px,#fce2d3 90.7px 91.5px,#92c5de 91.5px 92.3px,#f6b293 92.3px 93.2px,#92c5de 93.2px 94.0px,#ed9475 94.0px 94.8px,#a2cde2 94.8px 95.7px,#d1e5f0 95.7px 96.5px,#2a71b2 96.5px 97.3px,#134b86 97.3px 98.1px,#327db8 98.1px 99.8px,#2a71b2 99.8px 100.6px,#1a5899 100.6px 101.5px,#053061 101.5px 102.3px,#134b86 102.3px 103.1px,#2a71b2 103.1px 104.0px,#0c3e74 104.0px 104.8px,#2166ac 104.8px 105.6px,#2a71b2 105.6px 106.5px,#053061 106.5px 107.3px,#1a5899 107.3px 108.1px,#7eb8d7 108.1px 109.0px,#b1d5e7 109.0px 109.8px,#e4eef4 109.8px 110.6px,#d1e5f0 110.6px 111.5px,#b1d5e7 111.5px 112.3px,#c1ddec 112.3px 113.1px,#d1e5f0 113.1px 113.9px,#f7f7f7 113.9px 115.6px,#c1ddec 115.6px 116.4px,#e4eef4 116.4px 117.3px,#d1e5f0 117.3px 119.8px,#edf2f5 119.8px 120.6px,#d1e5f0 120.6px 121.4px,#c1ddec 121.4px 122.3px,#e4eef4 122.3px 123.1px,#edf2f5 123.1px 123.9px,#f4a582 123.9px 124.8px,#edf2f5 124.8px 125.6px,#f6b293 125.6px 126.4px,#7eb8d7 126.4px 127.3px,#2a71b2 127.3px 128.1px,#7eb8d7 128.1px 129.8px,#a2cde2 129.8px 130.6px,#6aacd0 130.6px 131.4px,#bb2a34 131.4px 132.2px,#cd4e45 132.2px 133.1px,#7a0622 133.1px 133.9px,#9f1228 133.9px 134.7px,#c43c3c 134.7px 135.6px,#b1d5e7 135.6px 136.4px,#6aacd0 136.4px 137.2px,#b1d5e7 137.2px 138.1px,#92c5de 138.1px 138.9px,#7eb8d7 138.9px 139.7px,#b1d5e7 139.7px 140.6px,#6aacd0 140.6px 141.4px,#b1d5e7 141.4px 142.2px,#a2cde2 142.2px 143.1px,#b1d5e7 143.1px 143.9px,#7eb8d7 143.9px 144.7px,#92c5de 144.7px 145.6px,#c1ddec 145.6px 146.4px,#f7f7f7 146.4px 147.2px,#6aacd0 147.2px 148.0px,#c1ddec 148.0px 148.9px,#daeaf2 148.9px 149.7px,#ed9475 149.7px 150.5px,#de715a 150.5px 151.4px,#b1d5e7 151.4px 152.2px,#c43c3c 152.2px 153.0px,#f6b293 153.0px 153.9px,#fbceb6 153.9px 154.7px,#ed9475 154.7px 155.5px,#de715a 155.5px 156.4px,#f6b293 156.4px 157.2px,#fbceb6 157.2px 158.0px,#7eb8d7 158.0px 159.7px,#a2cde2 159.7px 160.5px,#053061 160.5px 163.0px,#1a5899 163.0px 163.9px,#053061 163.9px 165.5px,#b1d5e7 165.5px 166.3px,#c1ddec 166.3px 168.0px,#a2cde2 168.0px 168.8px,#6aacd0 168.8px 169.7px,#c1ddec 169.7px 170.5px,#b1d5e7 170.5px 171.3px,#fbceb6 171.3px 172.2px,#f8c0a4 172.2px 173.0px,#fbceb6 173.0px 173.8px,#f8c0a4 173.8px 174.7px,#f4a582 174.7px 175.5px,#ed9475 175.5px 177.2px,#92c5de 177.2px 178.0px,#b1d5e7 178.0px 178.8px,#e58268 178.8px 179.7px,#f8c0a4 179.7px 180.5px,#c1ddec 180.5px 181.3px,#daeaf2 181.3px 182.2px,#a2cde2 182.2px 183.8px,#7eb8d7 183.8px 184.6px,#a2cde2 184.6px 185.5px,#f6b293 185.5px 187.1px,#ed9475 187.1px 188.0px,#f4a582 188.0px 188.8px,#fddbc7 188.8px 189.6px,#f6b293 189.6px 190.5px,#f8c0a4 190.5px 191.3px)"></div>
<div style="left:551.55px;top:288.90px;width:18.44px;height:191.30px;background:linear-gradient(to bottom,#134b86 0.0px 0.8px,#2166ac 0.8px 1.7px,#0c3e74 1.7px 2.5px,#053061 2.5px 3.3px,#134b86 3.3px 4.2px,#053061 4.2px 5.0px,#1a5899 5.0px 5.8px,#053061 5.8px 6.7px,#1a5899 6.7px 7.5px,#134b86 7.5px 8.3px,#b1d5e7 8.3px 9.1px,#6aacd0 9.1px 10.0px,#053061 10.0px 10.8px,#579fca 10.8px 11.6px,#1a5899 11.6px 12.5px,#327db8 12.5px 13.3px,#c1ddec 13.3px 14.1px,#1a5899 14.1px 15.0px,#3a88bd 15.0px 15.8px,#053061 15.8px 16.6px,#0c3e74 16.6px 17.5px,#053061 17.5px 19.1px,#2a71b2 19.1px 20.0px,#4393c3 20.0px 20.8px,#92c5de 20.8px 21.6px,#4393c3 21.6px 22.5px,#92c5de 22.5px 23.3px,#6aacd0 23.3px 25.0px,#7eb8d7 25.0px 25.8px,#3a88bd 25.8px 26.6px,#92c5de 26.6px 27.4px,#a2cde2 27.4px 28.3px,#1a5899 28.3px 29.9px,#2a71b2 29.9px 30.8px,#134b86 30.8px 31.6px,#2166ac 31.6px 32.4px,#134b86 32.4px 33.3px,#2a71b2 33.3px 34.1px,#134b86 34.1px 34.9px,#2166ac 34.9px 35.8px,#579fca 35.8px 36.6px,#c1ddec 36.6px 37.4px,#4393c3 37.4px 38.3px,#3a88bd 38.3px 39.1px,#579fca 39.1px 40.8px,#a2cde2 40.8px 41.6px,#6aacd0 41.6px 43.3px,#053061 43.3px 44.1px,#134b86 44.1px 44.9px,#053061 44.9px 45.7px,#2a71b2 45.7px 46.6px,#92c5de 46.6px 47.4px,#2166ac 47.4px 49.1px,#2a71b2 49.1px 49.9px,#134b86 49.9px 50.7px,#2166ac 50.7px 51.6px,#053061 51.6px 55.7px,#327db8 55.7px 56.6px,#134b86 56.6px 57.4px,#2a71b2 57.4px 58.2px,#2166ac 58.2px 59.1px,#1a5899 59.1px 60.7px,#2166ac 60.7px 61.5px,#7eb8d7 61.5px 62.4px,#134b86 62.4px 63.2px,#053061 63.2px 64.0px,#134b86 64.0px 64.9px,#2166ac 64.9px 66.5px,#053061 66.5px 67.4px,#327db8 67.4px 68.2px,#4393c3 68.2px 69.0px,#3a88bd 69.0px 69.9px,#92c5de 69.9px 70.7px,#4393c3 70.7px 72.4px,#6aacd0 72.4px 73.2px,#1a5899 73.2px 74.0px,#134b86 74.0px 75.7px,#2a71b2 75.7px 76.5px,#1a5899 76.5px 77.4px,#2166ac 77.4px 79.8px,#2a71b2 79.8px 80.7px,#2166ac 80.7px 81.5px,#053061 81.5px 82.3px,#134b86 82.3px 83.2px,#a2cde2 83.2px 84.0px,#053061 84.0px 84.8px,#4393c3 84.8px 85.7px,#134b86 85.7px 86.5px,#0c3e74 86.5px 87.3px,#053061 87.3px 89.8px,#2166ac 89.8px 90.7px,#053061 90.7px 92.3px,#1a5899 92.3px 93.2px,#0c3e74 93.2px 94.0px,#053061 94.0px 96.5px,#0c3e74 96.5px 98.1px,#053061 98.1px 99.0px,#134b86 99.0px 99.8px,#053061 99.8px 102.3px,#6aacd0 102.3px 103.1px,#7eb8d7 103.1px 105.6px,#3a88bd 105.6px 106.5px,#f8c0a4 106.5px 108.1px,#579fca 108.1px 109.0px,#3a88bd 109.0px 109.8px,#c1ddec 109.8px 110.6px,#7eb8d7 110.6px 111.5px,#579fca 111.5px 112.3px,#ed9475 112.3px 113.1px,#f8f0eb 113.1px 115.6px,#edf2f5 115.6px 116.4px,#f7f7f7 116.4px 117.3px,#edf2f5 117.3px 118.1px,#f8c0a4 118.1px 118.9px,#e4eef4 118.9px 119.8px,#d1e5f0 119.8px 120.6px,#f7f7f7 120.6px 121.4px,#4393c3 121.4px 122.3px,#1a5899 122.3px 123.1px,#2166ac 123.1px 123.9px,#134b86 123.9px 124.8px,#a2cde2 124.8px 125.6px,#0c3e74 125.6px 127.3px,#053061 127.3px 128.1px,#0c3e74 128.1px 128.9px,#1a5899 128.9px 129.8px,#6aacd0 129.8px 130.6px,#7eb8d7 130.6px 131.4px,#327db8 131.4px 132.2px,#3a88bd 132.2px 133.1px,#6aacd0 133.1px 133.9px,#579fca 133.9px 134.7px,#6aacd0 134.7px 135.6px,#a2cde2 135.6px 136.4px,#4393c3 136.4px 137.2px,#92c5de 137.2px 138.1px,#7eb8d7 138.1px 138.9px,#92c5de 138.9px 139.7px,#b1d5e7 139.7px 140.6px,#d1e5f0 140.6px 141.4px,#c1ddec 141.4px 142.2px,#d6604d 142.2px 143.1px,#ed9475 143.1px 143.9px,#b1d5e7 143.9px 144.7px,#f4a582 144.7px 145.6px,#f8c0a4 145.6px 146.4px,#cd4e45 146.4px 147.2px,#c1ddec 147.2px 148.9px,#a2cde2 148.9px 149.7px,#92c5de 149.7px 150.5px,#c1ddec 150.5px 151.4px,#327db8 151.4px 152.2px,#3a88bd 152.2px 153.0px,#7eb8d7 153.0px 153.9px,#3a88bd 153.9px 154.7px,#6aacd0 154.7px 156.4px,#4393c3 156.4px 157.2px,#3a88bd 157.2px 158.0px,#fbceb6 158.0px 158.9px,#579fca 158.9px 159.7px,#f7f7f7 159.7px 160.5px,#92c5de 160.5px 162.2px,#e4eef4 162.2px 163.0px,#6aacd0 163.0px 163.9px,#c1ddec 163.9px 164.7px,#6aacd0 164.7px 165.5px,#579fca 165.5px 167.2px,#7eb8d7 167.2px 168.0px,#6aacd0 168.0px 168.8px,#3a88bd 168.8px 169.7px,#134b86 169.7px 170.5px,#2166ac 170.5px 171.3px,#134b86 171.3px 172.2px,#053061 172.2px 174.7px,#edf2f5 174.7px 175.5px,#c43c3c 175.5px 176.3px,#c1ddec 176.3px 177.2px,#ed9475 177.2px 178.0px,#f4a582 178.0px 178.8px,#ed9475 178.8px 179.7px,#f4a582 179.7px 180.5px,#2166ac 180.5px 182.2px,#2a71b2 182.2px 183.0px,#1a5899 183.0px 183.8px,#327db8 183.8px 184.6px,#4393c3 184.6px 185.5px,#fddbc7 185.5px 186.3px,#fae9df 186.3px 187.1px,#f8f0eb 187.1px 188.8px,#fae9df 188.8px 189.6px,#fce2d3 189.6px 190.5px,#edf2f5 190.5px 191.3px)"></div>
<div style="left:569.96px;top:288.90px;width:18.44px;height:191.30px;background:linear-gradient(to bottom,#f6b293 0.0px 0.8px,#e58268 0.8px 1.7px,#f4a582 1.7px 2.5px,#f8f0eb 2.5px 3.3px,#fce2d3 3.3px 4.2px,#fae9df 4.2px 5.0px,#f7f7f7 5.0px 5.8px,#fae9df 5.8px 6.7px,#f8c0a4 6.7px 7.5px,#fddbc7 7.5px 8.3px,#fbceb6 8.3px 10.0px,#2a71b2 10.0px 10.8px,#4393c3 10.8px 11.6px,#de715a 11.6px 12.5px,#fce2d3 12.5px 13.3px,#f7f7f7 13.3px 14.1px,#fae9df 14.1px 15.0px,#fce2d3 15.0px 15.8px,#f7f7f7 15.8px 16.6px,#6aacd0 16.6px 17.5px,#a2cde2 17.5px 18.3px,#6aacd0 18.3px 19.1px,#fddbc7 19.1px 20.0px,#7eb8d7 20.0px 20.8px,#6aacd0 20.8px 22.5px,#7eb8d7 22.5px 23.3px,#f8c0a4 23.3px 24.1px,#b1d5e7 24.1px 25.0px,#6aacd0 25.0px 25.8px,#ed9475 25.8px 26.6px,#fce2d3 26.6px 27.4px,#ed9475 27.4px 28.3px,#a2cde2 28.3px 29.1px,#fddbc7 29.1px 29.9px,#f8c0a4 29.9px 30.8px,#fbceb6 30.8px 31.6px,#ed9475 31.6px 32.4px,#f8c0a4 32.4px 33.3px,#fbceb6 33.3px 34.1px,#f6b293 34.1px 34.9px,#ed9475 34.9px 35.8px,#f6b293 35.8px 36.6px,#fbceb6 36.6px 37.4px,#ed9475 37.4px 38.3px,#fbceb6 38.3px 39.1px,#edf2f5 39.1px 39.9px,#fae9df 39.9px 40.8px,#f7f7f7 40.8px 41.6px,#fddbc7 41.6px 42.4px,#f6b293 42.4px 43.3px,#e58268 43.3px 44.1px,#f4a582 44.1px 44.9px,#fae9df 44.9px 45.7px,#f6b293 45.7px 46.6px,#ed9475 46.6px 47.4px,#f6b293 47.4px 48.2px,#d1e5f0 48.2px 49.1px,#fddbc7 49.1px 49.9px,#f8f0eb 49.9px 50.7px,#f4a582 50.7px 51.6px,#fce2d3 51.6px 52.4px,#fae9df 52.4px 53.2px,#f8f0eb 53.2px 54.1px,#fbceb6 54.1px 54.9px,#f8c0a4 54.9px 56.6px,#f4a582 56.6px 57.4px,#fddbc7 57.4px 58.2px,#f8c0a4 58.2px 59.1px,#ed9475 59.1px 59.9px,#f6b293 59.9px 60.7px,#ed9475 60.7px 61.5px,#de715a 61.5px 62.4px,#e58268 62.4px 63.2px,#de715a 63.2px 64.0px,#b2182b 64.0px 64.9px,#c43c3c 64.9px 65.7px,#d6604d 65.7px 66.5px,#f6b293 66.5px 67.4px,#d1e5f0 67.4px 68.2px,#fae9df 68.2px 69.0px,#f7f7f7 69.0px 69.9px,#e4eef4 69.9px 70.7px,#7eb8d7 70.7px 71.5px,#a2cde2 71.5px 72.4px,#b1d5e7 72.4px 73.2px,#e58268 73.2px 74.0px,#ed9475 74.0px 74.9px,#f6b293 74.9px 75.7px,#f4a582 75.7px 76.5px,#ed9475 76.5px 77.4px,#de715a 77.4px 78.2px,#f4a582 78.2px 79.0px,#f6b293 79.0px 79.8px,#fce2d3 79.8px 80.7px,#fbceb6 80.7px 81.5px,#ed9475 81.5px 82.3px,#e4eef4 82.3px 83.2px,#fbceb6 83.2px 84.0px,#fddbc7 84.0px 86.5px,#f8c0a4 86.5px 87.3px,#fddbc7 87.3px 88.2px,#92c5de 88.2px 89.0px,#fce2d3 89.0px 89.8px,#fddbc7 89.8px 91.5px,#fae9df 91.5px 92.3px,#f4a582 92.3px 93.2px,#fbceb6 93.2px 94.0px,#fce2d3 94.0px 94.8px,#f6b293 94.8px 95.7px,#e58268 95.7px 96.5px,#ed9475 96.5px 97.3px,#f6b293 97.3px 98.1px,#f4a582 98.1px 99.0px,#e58268 99.0px 99.8px,#f4a582 99.8px 100.6px,#e58268 100.6px 101.5px,#d6604d 101.5px 102.3px,#cd4e45 102.3px 103.1px,#c43c3c 103.1px 104.0px,#cd4e45 104.0px 104.8px,#fddbc7 104.8px 105.6px,#fae9df 105.6px 106.5px,#92c5de 106.5px 107.3px,#fbceb6 107.3px 109.0px,#edf2f5 109.0px 109.8px,#fae9df 109.8px 110.6px,#fbceb6 110.6px 111.5px,#f6b293 111.5px 112.3px,#e58268 112.3px 113.1px,#d6604d 113.1px 114.8px,#9f1228 114.8px 115.6px,#cd4e45 115.6px 116.4px,#ed9475 116.4px 117.3px,#fbceb6 117.3px 118.1px,#f4a582 118.1px 118.9px,#134b86 118.9px 119.8px,#4393c3 119.8px 121.4px,#7eb8d7 121.4px 122.3px,#f4a582 122.3px 123.1px,#fce2d3 123.1px 123.9px,#f6b293 123.9px 124.8px,#fbceb6 124.8px 125.6px,#edf2f5 125.6px 126.4px,#fddbc7 126.4px 127.3px,#fbceb6 127.3px 128.1px,#f6b293 128.1px 128.9px,#f7f7f7 128.9px 129.8px,#f8c0a4 129.8px 132.2px,#f4a582 132.2px 133.1px,#e58268 133.1px 133.9px,#fbceb6 133.9px 134.7px,#f6b293 134.7px 135.6px,#cd4e45 135.6px 136.4px,#c43c3c 136.4px 137.2px,#7a0622 137.2px 138.1px,#bb2a34 138.1px 138.9px,#7a0622 138.9px 139.7px,#f4a582 139.7px 140.6px,#f6b293 140.6px 141.4px,#ed9475 141.4px 142.2px,#92c5de 142.2px 143.1px,#c1ddec 143.1px 143.9px,#6aacd0 143.9px 144.7px,#d1e5f0 144.7px 145.6px,#92c5de 145.6px 146.4px,#7eb8d7 146.4px 147.2px,#b1d5e7 147.2px 148.9px,#c1ddec 148.9px 149.7px,#579fca 149.7px 150.5px,#a2cde2 150.5px 151.4px,#c1ddec 151.4px 152.2px,#92c5de 152.2px 153.0px,#f8f0eb 153.0px 153.9px,#4393c3 153.9px 154.7px,#579fca 154.7px 156.4px,#6aacd0 156.4px 157.2px,#579fca 157.2px 158.9px,#e4eef4 158.9px 159.7px,#f6b293 159.7px 160.5px,#a2cde2 160.5px 161.4px,#f6b293 161.4px 162.2px,#d6604d 162.2px 163.0px,#de715a 163.0px 163.9px,#ed9475 163.9px 164.7px,#fbceb6 164.7px 165.5px,#f6b293 165.5px 166.3px,#f4a582 166.3px 167.2px,#e58268 167.2px 168.0px,#ed9475 168.0px 168.8px,#d6604d 168.8px 169.7px,#fbceb6 169.7px 170.5px,#fddbc7 170.5px 171.3px,#fce2d3 171.3px 172.2px,#f8c0a4 172.2px 173.0px,#fce2d3 173.0px 173.8px,#fbceb6 173.8px 174.7px,#f8c0a4 174.7px 175.5px,#fbceb6 175.5px 176.3px,#e58268 176.3px 178.0px,#de715a 178.0px 178.8px,#e58268 178.8px 179.7px,#f4a582 179.7px 180.5px,#fae9df 180.5px 181.3px,#fce2d3 181.3px 182.2px,#e58268 182.2px 183.0px,#f7f7f7 183.0px 183.8px,#fce2d3 183.8px 184.6px,#edf2f5 184.6px 185.5px,#f8c0a4 185.5px 186.3px,#e4eef4 186.3px 187.1px,#d1e5f0 187.1px 188.0px,#f7f7f7 188.0px 188.8px,#edf2f5 188.8px 189.6px,#579fca 189.6px 190.5px,#edf2f5 190.5px 191.3px)"></div>
<div style="left:588.38px;top:288.90px;width:18.44px;height:191.30px;background:linear-gradient(to bottom,#2166ac 0.0px 0.8px,#327db8 0.8px 1.7px,#579fca 1.7px 2.5px,#327db8 2.5px 3.3px,#2a71b2 3.3px 4.2px,#3a88bd 4.2px 5.0px,#6aacd0 5.0px 5.8px,#3a88bd 5.8px 6.7px,#0c3e74 6.7px 7.5px,#053061 7.5px 8.3px,#2a71b2 8.3px 9.1px,#4393c3 9.1px 10.0px,#1a5899 10.0px 10.8px,#92c5de 10.8px 11.6px,#134b86 11.6px 12.5px,#0c3e74 12.5px 13.3px,#053061 13.3px 14.1px,#327db8 14.1px 15.0px,#1a5899 15.0px 15.8px,#0c3e74 15.8px 17.5px,#2a71b2 17.5px 18.3px,#3a88bd 18.3px 19.1px,#a2cde2 19.1px 20.0px,#92c5de 20.0px 20.8px,#b1d5e7 20.8px 22.5px,#d1e5f0 22.5px 23.3px,#c1ddec 23.3px 24.1px,#d1e5f0 24.1px 25.8px,#a2cde2 25.8px 26.6px,#2a71b2 26.6px 27.4px,#4393c3 27.4px 28.3px,#327db8 28.3px 29.1px,#2a71b2 29.1px 29.9px,#6aacd0 29.9px 30.8px,#327db8 30.8px 31.6px,#2a71b2 31.6px 32.4px,#1a5899 32.4px 34.1px,#7eb8d7 34.1px 34.9px,#f8f0eb 34.9px 35.8px,#7eb8d7 35.8px 36.6px,#6aacd0 36.6px 38.3px,#92c5de 38.3px 39.9px,#b1d5e7 39.9px 42.4px,#fae9df 42.4px 43.3px,#6aacd0 43.3px 44.1px,#a2cde2 44.1px 44.9px,#c1ddec 44.9px 45.7px,#daeaf2 45.7px 46.6px,#7eb8d7 46.6px 47.4px,#579fca 47.4px 48.2px,#053061 48.2px 49.1px,#2166ac 49.1px 49.9px,#053061 49.9px 51.6px,#0c3e74 51.6px 52.4px,#053061 52.4px 53.2px,#1a5899 53.2px 54.1px,#4393c3 54.1px 54.9px,#6aacd0 54.9px 55.7px,#579fca 55.7px 57.4px,#327db8 57.4px 58.2px,#a2cde2 58.2px 59.9px,#3a88bd 59.9px 60.7px,#a2cde2 60.7px 61.5px,#fce2d3 61.5px 62.4px,#e4eef4 62.4px 63.2px,#daeaf2 63.2px 64.0px,#d6604d 64.0px 64.9px,#edf2f5 64.9px 65.7px,#daeaf2 65.7px 66.5px,#fae9df 66.5px 67.4px,#e4eef4 67.4px 68.2px,#ed9475 68.2px 69.0px,#daeaf2 69.0px 69.9px,#f6b293 69.9px 70.7px,#fae9df 70.7px 71.5px,#e4eef4 71.5px 72.4px,#fae9df 72.4px 73.2px,#2166ac 73.2px 74.0px,#3a88bd 74.0px 74.9px,#c1ddec 74.9px 75.7px,#d1e5f0 75.7px 76.5px,#7eb8d7 76.5px 77.4px,#6aacd0 77.4px 78.2px,#daeaf2 78.2px 79.0px,#c1ddec 79.0px 79.8px,#edf2f5 79.8px 80.7px,#e4eef4 80.7px 81.5px,#92c5de 81.5px 82.3px,#b1d5e7 82.3px 83.2px,#7eb8d7 83.2px 84.0px,#c1ddec 84.0px 84.8px,#92c5de 84.8px 86.5px,#6aacd0 86.5px 87.3px,#fce2d3 87.3px 89.0px,#b1d5e7 89.0px 89.8px,#7eb8d7 89.8px 90.7px,#fce2d3 90.7px 91.5px,#f8f0eb 91.5px 92.3px,#edf2f5 92.3px 93.2px,#327db8 93.2px 94.0px,#fae9df 94.0px 94.8px,#f8c0a4 94.8px 95.7px,#fce2d3 95.7px 96.5px,#f6b293 96.5px 97.3px,#f8c0a4 97.3px 98.1px,#f6b293 98.1px 99.0px,#c1ddec 99.0px 99.8px,#fce2d3 99.8px 100.6px,#c1ddec 100.6px 101.5px,#b1d5e7 101.5px 102.3px,#a2cde2 102.3px 103.1px,#b1d5e7 103.1px 104.8px,#053061 104.8px 105.6px,#0c3e74 105.6px 106.5px,#1a5899 106.5px 107.3px,#053061 107.3px 108.1px,#2166ac 108.1px 109.0px,#134b86 109.0px 109.8px,#92c5de 109.8px 111.5px,#7eb8d7 111.5px 112.3px,#c1ddec 112.3px 113.1px,#6aacd0 113.1px 113.9px,#7eb8d7 113.9px 114.8px,#4393c3 114.8px 115.6px,#c1ddec 115.6px 116.4px,#d1e5f0 116.4px 117.3px,#92c5de 117.3px 118.1px,#6aacd0 118.1px 118.9px,#053061 118.9px 119.8px,#2166ac 119.8px 120.6px,#579fca 120.6px 121.4px,#2a71b2 121.4px 122.3px,#2166ac 122.3px 123.1px,#327db8 123.1px 123.9px,#2a71b2 123.9px 124.8px,#2166ac 124.8px 125.6px,#3a88bd 125.6px 126.4px,#053061 126.4px 127.3px,#0c3e74 127.3px 128.1px,#134b86 128.1px 128.9px,#0c3e74 128.9px 129.8px,#053061 129.8px 130.6px,#0c3e74 130.6px 131.4px,#f7f7f7 131.4px 132.2px,#a2cde2 132.2px 133.1px,#c1ddec 133.1px 133.9px,#579fca 133.9px 134.7px,#4393c3 134.7px 135.6px,#579fca 135.6px 137.2px,#b1d5e7 137.2px 138.1px,#92c5de 138.1px 138.9px,#a2cde2 138.9px 139.7px,#c1ddec 139.7px 140.6px,#a2cde2 140.6px 142.2px,#053061 142.2px 143.9px,#2a71b2 143.9px 144.7px,#327db8 144.7px 145.6px,#0c3e74 145.6px 146.4px,#134b86 146.4px 148.0px,#053061 148.0px 149.7px,#2a71b2 149.7px 150.5px,#3a88bd 150.5px 151.4px,#4393c3 151.4px 152.2px,#2166ac 152.2px 153.0px,#1a5899 153.0px 153.9px,#2a71b2 153.9px 154.7px,#4393c3 154.7px 155.5px,#134b86 155.5px 156.4px,#4393c3 156.4px 157.2px,#6aacd0 157.2px 158.0px,#2a71b2 158.0px 159.7px,#fae9df 159.7px 160.5px,#fddbc7 160.5px 161.4px,#fbceb6 161.4px 162.2px,#f8c0a4 162.2px 163.9px,#fce2d3 163.9px 164.7px,#fbceb6 164.7px 165.5px,#e58268 165.5px 167.2px,#f6b293 167.2px 168.8px,#ed9475 168.8px 169.7px,#fddbc7 169.7px 170.5px,#ed9475 170.5px 171.3px,#edf2f5 171.3px 172.2px,#fddbc7 172.2px 173.0px,#f8f0eb 173.0px 173.8px,#fce2d3 173.8px 174.7px,#edf2f5 174.7px 175.5px,#4393c3 175.5px 176.3px,#6aacd0 176.3px 177.2px,#f6b293 177.2px 178.0px,#579fca 178.0px 178.8px,#f4a582 178.8px 179.7px,#92c5de 179.7px 180.5px,#c1ddec 180.5px 181.3px,#daeaf2 181.3px 182.2px,#a2cde2 182.2px 183.0px,#6aacd0 183.0px 183.8px,#f8c0a4 183.8px 184.6px,#f4a582 184.6px 185.5px,#bb2a34 185.5px 186.3px,#f8f0eb 186.3px 187.1px,#c43c3c 187.1px 188.0px,#de715a 188.0px 188.8px,#cd4e45 188.8px 189.6px,#f8f0eb 189.6px 190.5px,#f8c0a4 190.5px 191.3px)"></div>
<div style="left:374.20px;top:33.60px;width:8.00px;height:186.60px;background:linear-gradient(to bottom,#fff 0.0px 1.9px,#F5D050 1.9px 3.1px,#fff 3.1px 12.4px,#FFD27A 12.4px 14.9px,#FFA500 14.9px 21.1px,#FFD27A 21.1px 22.4px,#FFA500 22.4px 25.5px,#FFD27A 25.5px 27.4px,#FFA500 27.4px 35.5px,#FFD27A 35.5px 37.3px,#FFA500 37.3px 40.4px,#FFD27A 40.4px 41.1px,#FFA500 41.1px 44.2px,#FFD27A 44.2px 45.4px,#FFA500 45.4px 54.1px,#FFD27A 54.1px 56.0px,#FFA500 56.0px 57.8px,#FFD27A 57.8px 59.1px,#FFA500 59.1px 96.4px,#FFD27A 96.4px 97.0px,#FFA500 97.0px 102.6px,#FFD27A 102.6px 103.3px,#FFA500 103.3px 104.5px,#FFD27A 104.5px 106.4px,#FFA500 106.4px 121.3px,#FFD27A 121.3px 123.8px,#FFA500 123.8px 126.9px,#FFD27A 126.9px 128.1px,#FFA500 128.1px 131.2px,#FFE9C0 131.2px 134.4px,#FFA500 134.4px 136.2px,#fff 136.2px 140.6px,#FFD27A 140.6px 143.7px,#fff 143.7px 145.5px,#FFD27A 145.5px 147.4px,#fff 147.4px 149.9px,#FFA500 149.9px 153.0px,#fff 153.0px 158.6px,#FFD27A 158.6px 161.1px,#fff 161.1px 163.0px,#FFD27A 163.0px 164.8px,#FFA500 164.8px 166.7px,#FFF4E0 166.7px 172.3px,#FFA500 172.3px 174.2px,#fff 174.2px 176.0px,#FFD27A 176.0px 177.9px,#fff 177.9px 181.0px,#FFA500 181.0px 183.5px,#FFF4E0 183.5px 186.6px)"></div>
<div style="left:383.80px;top:33.60px;width:8.20px;height:186.60px;background:linear-gradient(to bottom,#BEBEBE 0.0px 0.6px,#ffffff 0.6px 1.2px,#BEBEBE 1.2px 1.9px,#ffffff 1.9px 2.5px,#BEBEBE 2.5px 3.1px,#ffffff 3.1px 5.0px,#BEBEBE 5.0px 5.6px,#ffffff 5.6px 6.8px,#BEBEBE 6.8px 7.5px,#ffffff 7.5px 8.1px,#BEBEBE 8.1px 8.7px,#ffffff 8.7px 10.0px,#BEBEBE 10.0px 11.2px,#ffffff 11.2px 12.4px,#BEBEBE 12.4px 13.1px,#ffffff 13.1px 13.7px,#BEBEBE 13.7px 14.3px,#ffffff 14.3px 19.9px,#BEBEBE 19.9px 20.5px,#ffffff 20.5px 23.0px,#BEBEBE 23.0px 23.6px,#ffffff 23.6px 25.5px,#BEBEBE 25.5px 26.1px,#ffffff 26.1px 29.9px,#BEBEBE 29.9px 30.5px,#ffffff 30.5px 37.9px,#BEBEBE 37.9px 38.6px,#ffffff 38.6px 39.2px,#BEBEBE 39.2px 39.8px,#ffffff 39.8px 41.7px,#BEBEBE 41.7px 42.3px,#ffffff 42.3px 43.5px,#BEBEBE 43.5px 44.2px,#ffffff 44.2px 44.8px,#BEBEBE 44.8px 45.4px,#ffffff 45.4px 48.5px,#BEBEBE 48.5px 49.1px,#ffffff 49.1px 49.8px,#BEBEBE 49.8px 50.4px,#ffffff 50.4px 52.9px,#BEBEBE 52.9px 53.5px,#ffffff 53.5px 56.0px,#BEBEBE 56.0px 56.6px,#ffffff 56.6px 57.2px,#BEBEBE 57.2px 57.8px,#ffffff 57.8px 59.1px,#BEBEBE 59.1px 59.7px,#ffffff 59.7px 61.0px,#BEBEBE 61.0px 61.6px,#ffffff 61.6px 62.2px,#BEBEBE 62.2px 62.8px,#ffffff 62.8px 64.7px,#BEBEBE 64.7px 65.3px,#ffffff 65.3px 67.8px,#BEBEBE 67.8px 69.0px,#ffffff 69.0px 70.9px,#BEBEBE 70.9px 71.5px,#ffffff 71.5px 72.2px,#BEBEBE 72.2px 72.8px,#ffffff 72.8px 73.4px,#BEBEBE 73.4px 74.0px,#ffffff 74.0px 75.3px,#BEBEBE 75.3px 75.9px,#ffffff 75.9px 76.5px,#BEBEBE 76.5px 77.1px,#ffffff 77.1px 77.8px,#BEBEBE 77.8px 78.4px,#ffffff 78.4px 79.6px,#BEBEBE 79.6px 80.2px,#ffffff 80.2px 81.5px,#BEBEBE 81.5px 82.1px,#ffffff 82.1px 83.3px,#BEBEBE 83.3px 84.0px,#ffffff 84.0px 85.2px,#BEBEBE 85.2px 85.8px,#ffffff 85.8px 86.5px,#BEBEBE 86.5px 87.1px,#ffffff 87.1px 87.7px,#BEBEBE 87.7px 88.3px,#ffffff 88.3px 88.9px,#BEBEBE 88.9px 89.6px,#ffffff 89.6px 90.8px,#BEBEBE 90.8px 91.4px,#ffffff 91.4px 92.1px,#BEBEBE 92.1px 92.7px,#ffffff 92.7px 93.3px,#BEBEBE 93.3px 93.9px,#ffffff 93.9px 94.5px,#BEBEBE 94.5px 95.2px,#ffffff 95.2px 96.4px,#BEBEBE 96.4px 97.0px,#ffffff 97.0px 98.3px,#BEBEBE 98.3px 98.9px,#ffffff 98.9px 100.1px,#BEBEBE 100.1px 100.8px,#ffffff 100.8px 102.0px,#BEBEBE 102.0px 102.6px,#ffffff 102.6px 103.9px,#BEBEBE 103.9px 104.5px,#ffffff 104.5px 105.7px,#BEBEBE 105.7px 106.4px,#ffffff 106.4px 107.0px,#BEBEBE 107.0px 107.6px,#ffffff 107.6px 108.2px,#BEBEBE 108.2px 108.8px,#ffffff 108.8px 109.5px,#BEBEBE 109.5px 110.1px,#ffffff 110.1px 111.3px,#BEBEBE 111.3px 112.0px,#ffffff 112.0px 112.6px,#BEBEBE 112.6px 113.2px,#ffffff 113.2px 113.8px,#BEBEBE 113.8px 114.4px,#ffffff 114.4px 115.7px,#BEBEBE 115.7px 116.3px,#ffffff 116.3px 119.4px,#BEBEBE 119.4px 120.0px,#ffffff 120.0px 121.3px,#BEBEBE 121.3px 121.9px,#ffffff 121.9px 123.2px,#BEBEBE 123.2px 123.8px,#ffffff 123.8px 124.4px,#BEBEBE 124.4px 125.0px,#ffffff 125.0px 125.6px,#BEBEBE 125.6px 126.3px,#ffffff 126.3px 128.1px,#BEBEBE 128.1px 128.8px,#ffffff 128.8px 130.6px,#BEBEBE 130.6px 131.2px,#ffffff 131.2px 131.9px,#BEBEBE 131.9px 132.5px,#ffffff 132.5px 133.1px,#BEBEBE 133.1px 133.7px,#ffffff 133.7px 134.4px,#BEBEBE 134.4px 135.6px,#ffffff 135.6px 136.2px,#BEBEBE 136.2px 137.5px,#ffffff 137.5px 138.1px,#BEBEBE 138.1px 138.7px,#ffffff 138.7px 140.6px,#BEBEBE 140.6px 141.2px,#ffffff 141.2px 141.8px,#BEBEBE 141.8px 142.4px,#ffffff 142.4px 143.1px,#BEBEBE 143.1px 143.7px,#ffffff 143.7px 144.3px,#BEBEBE 144.3px 144.9px,#ffffff 144.9px 147.4px,#BEBEBE 147.4px 148.0px,#ffffff 148.0px 149.3px,#BEBEBE 149.3px 150.5px,#ffffff 150.5px 151.8px,#BEBEBE 151.8px 152.4px,#ffffff 152.4px 153.0px,#BEBEBE 153.0px 153.6px,#ffffff 153.6px 154.9px,#BEBEBE 154.9px 155.5px,#ffffff 155.5px 156.7px,#BEBEBE 156.7px 157.4px,#ffffff 157.4px 158.0px,#BEBEBE 158.0px 158.6px,#ffffff 158.6px 160.5px,#BEBEBE 160.5px 161.7px,#ffffff 161.7px 167.9px,#BEBEBE 167.9px 168.6px,#ffffff 168.6px 171.1px,#BEBEBE 171.1px 171.7px,#ffffff 171.7px 172.9px,#BEBEBE 172.9px 173.5px,#ffffff 173.5px 174.2px,#BEBEBE 174.2px 174.8px,#ffffff 174.8px 176.6px,#BEBEBE 176.6px 177.3px,#ffffff 177.3px 178.5px,#BEBEBE 178.5px 179.1px,#ffffff 179.1px 179.8px,#BEBEBE 179.8px 180.4px,#ffffff 180.4px 181.6px,#BEBEBE 181.6px 182.2px,#ffffff 182.2px 184.7px,#BEBEBE 184.7px 185.4px,#ffffff 185.4px 186.6px)"></div>
<div style="left:393.90px;top:33.60px;width:8.30px;height:186.60px;background:linear-gradient(to bottom,#F5CDE4 0.0px 1.2px,#1FCBB5 1.2px 1.9px,#F58FD2 1.9px 2.5px,#F5CDE4 2.5px 3.1px,#BDE6DF 3.1px 3.7px,#1FCBB5 3.7px 5.0px,#F5CDE4 5.0px 5.6px,#1FCBB5 5.6px 7.5px,#F58FD2 7.5px 8.1px,#1FCBB5 8.1px 10.6px,#F5CDE4 10.6px 12.4px,#F58FD2 12.4px 13.1px,#F5CDE4 13.1px 13.7px,#1FCBB5 13.7px 14.3px,#BDE6DF 14.3px 15.6px,#F58FD2 15.6px 16.2px,#BDE6DF 16.2px 16.8px,#1FCBB5 16.8px 17.4px,#F5CDE4 17.4px 18.0px,#BDE6DF 18.0px 19.9px,#F5CDE4 19.9px 20.5px,#BDE6DF 20.5px 21.1px,#1FCBB5 21.1px 23.6px,#F5CDE4 23.6px 24.3px,#1FCBB5 24.3px 24.9px,#F5CDE4 24.9px 25.5px,#1FCBB5 25.5px 26.1px,#BDE6DF 26.1px 26.7px,#1FCBB5 26.7px 27.4px,#BDE6DF 27.4px 28.0px,#F5CDE4 28.0px 28.6px,#BDE6DF 28.6px 29.2px,#1FCBB5 29.2px 29.9px,#F58FD2 29.9px 30.5px,#1FCBB5 30.5px 32.3px,#BDE6DF 32.3px 33.0px,#1FCBB5 33.0px 33.6px,#BDE6DF 33.6px 34.2px,#1FCBB5 34.2px 34.8px,#F5CDE4 34.8px 35.5px,#1FCBB5 35.5px 37.3px,#BDE6DF 37.3px 37.9px,#F5CDE4 37.9px 38.6px,#1FCBB5 38.6px 39.2px,#BDE6DF 39.2px 39.8px,#1FCBB5 39.8px 40.4px,#F58FD2 40.4px 41.1px,#1FCBB5 41.1px 41.7px,#F5CDE4 41.7px 42.3px,#1FCBB5 42.3px 43.5px,#BDE6DF 43.5px 44.2px,#1FCBB5 44.2px 44.8px,#BDE6DF 44.8px 45.4px,#1FCBB5 45.4px 46.0px,#F5CDE4 46.0px 46.6px,#1FCBB5 46.6px 47.3px,#F58FD2 47.3px 47.9px,#F5CDE4 47.9px 48.5px,#1FCBB5 48.5px 49.8px,#F5CDE4 49.8px 50.4px,#BDE6DF 50.4px 51.0px,#1FCBB5 51.0px 51.6px,#F5CDE4 51.6px 52.2px,#1FCBB5 52.2px 52.9px,#F5CDE4 52.9px 53.5px,#1FCBB5 53.5px 54.1px,#BDE6DF 54.1px 54.7px,#1FCBB5 54.7px 55.4px,#F5CDE4 55.4px 56.0px,#F58FD2 56.0px 57.2px,#BDE6DF 57.2px 57.8px,#F5CDE4 57.8px 58.5px,#F58FD2 58.5px 59.1px,#1FCBB5 59.1px 59.7px,#F58FD2 59.7px 60.3px,#BDE6DF 60.3px 62.2px,#F5CDE4 62.2px 63.4px,#F58FD2 63.4px 64.7px,#1FCBB5 64.7px 65.3px,#F5CDE4 65.3px 65.9px,#BDE6DF 65.9px 66.6px,#1FCBB5 66.6px 67.8px,#F5CDE4 67.8px 68.4px,#BDE6DF 68.4px 69.0px,#1FCBB5 69.0px 70.9px,#BDE6DF 70.9px 71.5px,#1FCBB5 71.5px 72.2px,#F5CDE4 72.2px 72.8px,#1FCBB5 72.8px 73.4px,#F5CDE4 73.4px 74.0px,#1FCBB5 74.0px 74.6px,#BDE6DF 74.6px 75.3px,#1FCBB5 75.3px 75.9px,#BDE6DF 75.9px 76.5px,#1FCBB5 76.5px 77.1px,#F58FD2 77.1px 77.8px,#BDE6DF 77.8px 80.2px,#1FCBB5 80.2px 80.9px,#BDE6DF 80.9px 81.5px,#F58FD2 81.5px 82.1px,#1FCBB5 82.1px 85.2px,#F5CDE4 85.2px 85.8px,#1FCBB5 85.8px 87.1px,#F5CDE4 87.1px 87.7px,#F58FD2 87.7px 88.3px,#BDE6DF 88.3px 90.2px,#F5CDE4 90.2px 90.8px,#BDE6DF 90.8px 91.4px,#1FCBB5 91.4px 92.1px,#F58FD2 92.1px 92.7px,#F5CDE4 92.7px 93.3px,#F58FD2 93.3px 93.9px,#F5CDE4 93.9px 95.2px,#BDE6DF 95.2px 95.8px,#F58FD2 95.8px 96.4px,#1FCBB5 96.4px 97.0px,#BDE6DF 97.0px 97.7px,#1FCBB5 97.7px 99.5px,#F58FD2 99.5px 100.1px,#1FCBB5 100.1px 100.8px,#F58FD2 100.8px 101.4px,#1FCBB5 101.4px 102.0px,#F5CDE4 102.0px 102.6px,#1FCBB5 102.6px 103.3px,#F5CDE4 103.3px 103.9px,#BDE6DF 103.9px 104.5px,#1FCBB5 104.5px 105.1px,#F5CDE4 105.1px 106.4px,#1FCBB5 106.4px 109.5px,#BDE6DF 109.5px 110.1px,#1FCBB5 110.1px 110.7px,#BDE6DF 110.7px 112.0px,#1FCBB5 112.0px 112.6px,#F5CDE4 112.6px 113.2px,#F58FD2 113.2px 113.8px,#BDE6DF 113.8px 114.4px,#1FCBB5 114.4px 115.7px,#BDE6DF 115.7px 116.9px,#F5CDE4 116.9px 117.6px,#BDE6DF 117.6px 118.2px,#1FCBB5 118.2px 120.0px,#F5CDE4 120.0px 120.7px,#1FCBB5 120.7px 121.3px,#F5CDE4 121.3px 121.9px,#1FCBB5 121.9px 123.2px,#F5CDE4 123.2px 123.8px,#1FCBB5 123.8px 125.0px,#BDE6DF 125.0px 125.6px,#1FCBB5 125.6px 126.9px,#BDE6DF 126.9px 128.8px,#F58FD2 128.8px 129.4px,#BDE6DF 129.4px 130.0px,#1FCBB5 130.0px 130.6px,#F5CDE4 130.6px 131.2px,#BDE6DF 131.2px 131.9px,#F5CDE4 131.9px 132.5px,#F58FD2 132.5px 133.1px,#1FCBB5 133.1px 133.7px,#F58FD2 133.7px 134.4px,#F5CDE4 134.4px 135.0px,#F58FD2 135.0px 136.2px,#1FCBB5 136.2px 137.5px,#BDE6DF 137.5px 138.1px,#F58FD2 138.1px 138.7px,#F5CDE4 138.7px 139.3px,#1FCBB5 139.3px 139.9px,#BDE6DF 139.9px 140.6px,#F5CDE4 140.6px 141.2px,#F58FD2 141.2px 141.8px,#1FCBB5 141.8px 142.4px,#F5CDE4 142.4px 143.7px,#1FCBB5 143.7px 144.9px,#F5CDE4 144.9px 145.5px,#F58FD2 145.5px 146.2px,#F5CDE4 146.2px 146.8px,#1FCBB5 146.8px 147.4px,#F5CDE4 147.4px 148.0px,#F58FD2 148.0px 150.5px,#BDE6DF 150.5px 151.8px,#F58FD2 151.8px 152.4px,#1FCBB5 152.4px 153.0px,#BDE6DF 153.0px 153.6px,#F5CDE4 153.6px 154.3px,#F58FD2 154.3px 154.9px,#F5CDE4 154.9px 156.1px,#BDE6DF 156.1px 156.7px,#1FCBB5 156.7px 158.0px,#F58FD2 158.0px 158.6px,#1FCBB5 158.6px 159.2px,#F58FD2 159.2px 160.5px,#1FCBB5 160.5px 161.1px,#F58FD2 161.1px 161.7px,#1FCBB5 161.7px 162.3px,#F58FD2 162.3px 163.0px,#1FCBB5 163.0px 163.6px,#F58FD2 163.6px 164.2px,#F5CDE4 164.2px 164.8px,#BDE6DF 164.8px 165.5px,#F5CDE4 165.5px 166.1px,#BDE6DF 166.1px 167.3px,#1FCBB5 167.3px 167.9px,#F5CDE4 167.9px 168.6px,#F58FD2 168.6px 169.2px,#1FCBB5 169.2px 169.8px,#BDE6DF 169.8px 170.4px,#F5CDE4 170.4px 171.1px,#BDE6DF 171.1px 171.7px,#F58FD2 171.7px 174.2px,#1FCBB5 174.2px 174.8px,#F5CDE4 174.8px 175.4px,#F58FD2 175.4px 176.0px,#BDE6DF 176.0px 176.6px,#F58FD2 176.6px 177.9px,#F5CDE4 177.9px 178.5px,#F58FD2 178.5px 179.1px,#1FCBB5 179.1px 179.8px,#F5CDE4 179.8px 180.4px,#1FCBB5 180.4px 181.0px,#F58FD2 181.0px 181.6px,#F5CDE4 181.6px 182.2px,#1FCBB5 182.2px 184.1px,#BDE6DF 184.1px 184.7px,#F58FD2 184.7px 186.0px,#F5CDE4 186.0px 186.6px)"></div>
<div style="left:61.00px;top:288.90px;width:8.50px;height:191.00px;background:linear-gradient(to bottom,#FFA500 0.0px 1.3px,#fff 1.3px 1.9px,#FFA500 1.9px 30.6px,#FFF0D0 30.6px 31.2px,#FFA500 31.2px 46.5px,#FFD27A 46.5px 47.1px,#fff 47.1px 70.7px,#FFA500 70.7px 71.3px,#fff 71.3px 85.3px,#FFD98A 85.3px 87.9px,#fff 87.9px 94.2px,#FFD98A 94.2px 97.4px,#fff 97.4px 103.8px,#FFBC45 103.8px 107.6px,#fff 107.6px 109.5px,#FFA500 109.5px 112.1px,#fff 112.1px 117.8px,#FFA500 117.8px 122.9px,#fff 122.9px 129.9px,#FFB52E 129.9px 139.4px,#fff 139.4px 142.6px,#FFC44F 142.6px 146.4px,#FFA500 146.4px 191.0px)"></div>
<div style="left:71.40px;top:288.90px;width:8.60px;height:191.00px;background:linear-gradient(to bottom,#BEBEBE 0.0px 0.6px,#ffffff 0.6px 1.3px,#BEBEBE 1.3px 1.9px,#ffffff 1.9px 2.5px,#BEBEBE 2.5px 3.2px,#ffffff 3.2px 4.5px,#BEBEBE 4.5px 5.1px,#ffffff 5.1px 5.7px,#BEBEBE 5.7px 6.4px,#ffffff 6.4px 7.0px,#BEBEBE 7.0px 7.6px,#ffffff 7.6px 8.9px,#BEBEBE 8.9px 9.6px,#ffffff 9.6px 10.2px,#BEBEBE 10.2px 12.1px,#ffffff 12.1px 12.7px,#BEBEBE 12.7px 13.4px,#ffffff 13.4px 14.0px,#BEBEBE 14.0px 14.6px,#ffffff 14.6px 16.6px,#BEBEBE 16.6px 18.5px,#ffffff 18.5px 19.1px,#BEBEBE 19.1px 19.7px,#ffffff 19.7px 20.4px,#BEBEBE 20.4px 21.0px,#ffffff 21.0px 21.6px,#BEBEBE 21.6px 22.3px,#ffffff 22.3px 23.6px,#BEBEBE 23.6px 24.2px,#ffffff 24.2px 27.4px,#BEBEBE 27.4px 28.0px,#ffffff 28.0px 28.7px,#BEBEBE 28.7px 29.3px,#ffffff 29.3px 29.9px,#BEBEBE 29.9px 30.6px,#ffffff 30.6px 31.8px,#BEBEBE 31.8px 32.5px,#ffffff 32.5px 33.1px,#BEBEBE 33.1px 33.7px,#ffffff 33.7px 34.4px,#BEBEBE 34.4px 35.0px,#ffffff 35.0px 36.3px,#BEBEBE 36.3px 36.9px,#ffffff 36.9px 37.6px,#BEBEBE 37.6px 38.2px,#ffffff 38.2px 39.5px,#BEBEBE 39.5px 40.1px,#ffffff 40.1px 40.7px,#BEBEBE 40.7px 42.7px,#ffffff 42.7px 45.2px,#BEBEBE 45.2px 45.8px,#ffffff 45.8px 46.5px,#BEBEBE 46.5px 47.1px,#ffffff 47.1px 47.8px,#BEBEBE 47.8px 48.4px,#ffffff 48.4px 49.0px,#BEBEBE 49.0px 49.7px,#ffffff 49.7px 50.3px,#BEBEBE 50.3px 50.9px,#ffffff 50.9px 52.2px,#BEBEBE 52.2px 52.8px,#ffffff 52.8px 55.4px,#BEBEBE 55.4px 56.0px,#ffffff 56.0px 61.8px,#BEBEBE 61.8px 62.4px,#ffffff 62.4px 63.0px,#BEBEBE 63.0px 63.7px,#ffffff 63.7px 66.9px,#BEBEBE 66.9px 68.1px,#ffffff 68.1px 68.8px,#BEBEBE 68.8px 69.4px,#ffffff 69.4px 71.3px,#BEBEBE 71.3px 71.9px,#ffffff 71.9px 73.2px,#BEBEBE 73.2px 73.9px,#ffffff 73.9px 74.5px,#BEBEBE 74.5px 75.8px,#ffffff 75.8px 77.7px,#BEBEBE 77.7px 78.3px,#ffffff 78.3px 80.2px,#BEBEBE 80.2px 80.9px,#ffffff 80.9px 81.5px,#BEBEBE 81.5px 82.1px,#ffffff 82.1px 83.4px,#BEBEBE 83.4px 84.0px,#ffffff 84.0px 86.0px,#BEBEBE 86.0px 86.6px,#ffffff 86.6px 89.1px,#BEBEBE 89.1px 90.4px,#ffffff 90.4px 91.0px,#BEBEBE 91.0px 91.7px,#ffffff 91.7px 94.2px,#BEBEBE 94.2px 94.9px,#ffffff 94.9px 96.1px,#BEBEBE 96.1px 96.8px,#ffffff 96.8px 97.4px,#BEBEBE 97.4px 98.7px,#ffffff 98.7px 100.6px,#BEBEBE 100.6px 101.2px,#ffffff 101.2px 101.9px,#BEBEBE 101.9px 103.1px,#ffffff 103.1px 103.8px,#BEBEBE 103.8px 104.4px,#ffffff 104.4px 105.1px,#BEBEBE 105.1px 105.7px,#ffffff 105.7px 109.5px,#BEBEBE 109.5px 110.1px,#ffffff 110.1px 113.3px,#BEBEBE 113.3px 114.6px,#ffffff 114.6px 115.2px,#BEBEBE 115.2px 115.9px,#ffffff 115.9px 117.1px,#BEBEBE 117.1px 117.8px,#ffffff 117.8px 119.1px,#BEBEBE 119.1px 119.7px,#ffffff 119.7px 120.3px,#BEBEBE 120.3px 121.6px,#ffffff 121.6px 123.5px,#BEBEBE 123.5px 124.2px,#ffffff 124.2px 124.8px,#BEBEBE 124.8px 125.4px,#ffffff 125.4px 126.1px,#BEBEBE 126.1px 126.7px,#ffffff 126.7px 128.6px,#BEBEBE 128.6px 129.2px,#ffffff 129.2px 130.5px,#BEBEBE 130.5px 131.2px,#ffffff 131.2px 132.4px,#BEBEBE 132.4px 133.1px,#ffffff 133.1px 133.7px,#BEBEBE 133.7px 134.3px,#ffffff 134.3px 135.0px,#BEBEBE 135.0px 135.6px,#ffffff 135.6px 136.9px,#BEBEBE 136.9px 137.5px,#ffffff 137.5px 138.2px,#BEBEBE 138.2px 138.8px,#ffffff 138.8px 139.4px,#BEBEBE 139.4px 140.1px,#ffffff 140.1px 140.7px,#BEBEBE 140.7px 141.3px,#ffffff 141.3px 142.0px,#BEBEBE 142.0px 142.6px,#ffffff 142.6px 144.5px,#BEBEBE 144.5px 145.2px,#ffffff 145.2px 145.8px,#BEBEBE 145.8px 146.4px,#ffffff 146.4px 148.3px,#BEBEBE 148.3px 149.0px,#ffffff 149.0px 149.6px,#BEBEBE 149.6px 150.3px,#ffffff 150.3px 152.8px,#BEBEBE 152.8px 153.4px,#ffffff 153.4px 154.7px,#BEBEBE 154.7px 156.0px,#ffffff 156.0px 157.9px,#BEBEBE 157.9px 158.5px,#ffffff 158.5px 162.4px,#BEBEBE 162.4px 163.0px,#ffffff 163.0px 163.6px,#BEBEBE 163.6px 164.3px,#ffffff 164.3px 164.9px,#BEBEBE 164.9px 166.2px,#ffffff 166.2px 166.8px,#BEBEBE 166.8px 167.4px,#ffffff 167.4px 168.1px,#BEBEBE 168.1px 168.7px,#ffffff 168.7px 170.0px,#BEBEBE 170.0px 170.6px,#ffffff 170.6px 173.8px,#BEBEBE 173.8px 175.1px,#ffffff 175.1px 177.0px,#BEBEBE 177.0px 177.6px,#ffffff 177.6px 180.2px,#BEBEBE 180.2px 180.8px,#ffffff 180.8px 182.1px,#BEBEBE 182.1px 182.7px,#ffffff 182.7px 183.4px,#BEBEBE 183.4px 184.0px,#ffffff 184.0px 184.6px,#BEBEBE 184.6px 185.3px,#ffffff 185.3px 185.9px,#BEBEBE 185.9px 186.5px,#ffffff 186.5px 187.2px,#BEBEBE 187.2px 187.8px,#ffffff 187.8px 191.0px)"></div>
<div style="left:81.90px;top:288.90px;width:8.00px;height:191.00px;background:linear-gradient(to bottom,#1FCBB5 0.0px 1.3px,#F5CDE4 1.3px 1.9px,#1FCBB5 1.9px 8.9px,#F58FD2 8.9px 9.6px,#1FCBB5 9.6px 10.8px,#F58FD2 10.8px 11.5px,#1FCBB5 11.5px 14.0px,#BDE6DF 14.0px 14.6px,#1FCBB5 14.6px 15.3px,#BDE6DF 15.3px 15.9px,#1FCBB5 15.9px 27.4px,#BDE6DF 27.4px 28.0px,#1FCBB5 28.0px 40.1px,#BDE6DF 40.1px 40.7px,#1FCBB5 40.7px 45.8px,#F58FD2 45.8px 46.5px,#1FCBB5 46.5px 47.1px,#F58FD2 47.1px 47.8px,#1FCBB5 47.8px 54.8px,#BDE6DF 54.8px 55.4px,#1FCBB5 55.4px 56.0px,#F5CDE4 56.0px 56.7px,#1FCBB5 56.7px 57.9px,#F5CDE4 57.9px 58.6px,#F58FD2 58.6px 59.2px,#1FCBB5 59.2px 59.8px,#F5CDE4 59.8px 60.5px,#1FCBB5 60.5px 61.1px,#F58FD2 61.1px 61.8px,#BDE6DF 61.8px 62.4px,#1FCBB5 62.4px 63.0px,#F58FD2 63.0px 64.9px,#BDE6DF 64.9px 65.6px,#F5CDE4 65.6px 66.2px,#F58FD2 66.2px 67.5px,#1FCBB5 67.5px 68.1px,#F58FD2 68.1px 68.8px,#1FCBB5 68.8px 72.6px,#F58FD2 72.6px 73.2px,#BDE6DF 73.2px 73.9px,#1FCBB5 73.9px 74.5px,#F58FD2 74.5px 75.1px,#1FCBB5 75.1px 76.4px,#BDE6DF 76.4px 77.0px,#1FCBB5 77.0px 77.7px,#F5CDE4 77.7px 78.3px,#1FCBB5 78.3px 78.9px,#BDE6DF 78.9px 79.6px,#1FCBB5 79.6px 80.2px,#F58FD2 80.2px 81.5px,#1FCBB5 81.5px 83.4px,#BDE6DF 83.4px 84.0px,#F58FD2 84.0px 84.7px,#F5CDE4 84.7px 85.3px,#BDE6DF 85.3px 86.0px,#1FCBB5 86.0px 86.6px,#F58FD2 86.6px 87.2px,#1FCBB5 87.2px 88.5px,#BDE6DF 88.5px 89.8px,#1FCBB5 89.8px 91.0px,#F58FD2 91.0px 91.7px,#1FCBB5 91.7px 92.3px,#F5CDE4 92.3px 93.0px,#1FCBB5 93.0px 94.2px,#F58FD2 94.2px 94.9px,#1FCBB5 94.9px 96.1px,#BDE6DF 96.1px 96.8px,#F58FD2 96.8px 98.7px,#1FCBB5 98.7px 99.3px,#F58FD2 99.3px 100.0px,#F5CDE4 100.0px 100.6px,#1FCBB5 100.6px 101.2px,#F58FD2 101.2px 102.5px,#F5CDE4 102.5px 103.1px,#F58FD2 103.1px 103.8px,#1FCBB5 103.8px 105.1px,#F58FD2 105.1px 105.7px,#F5CDE4 105.7px 106.3px,#1FCBB5 106.3px 107.0px,#F5CDE4 107.0px 107.6px,#1FCBB5 107.6px 108.2px,#F5CDE4 108.2px 108.9px,#1FCBB5 108.9px 109.5px,#F5CDE4 109.5px 110.8px,#1FCBB5 110.8px 112.1px,#F5CDE4 112.1px 112.7px,#F58FD2 112.7px 113.3px,#BDE6DF 113.3px 114.0px,#F58FD2 114.0px 114.6px,#F5CDE4 114.6px 115.2px,#F58FD2 115.2px 115.9px,#BDE6DF 115.9px 116.5px,#1FCBB5 116.5px 117.1px,#F58FD2 117.1px 117.8px,#1FCBB5 117.8px 120.3px,#BDE6DF 120.3px 121.0px,#1FCBB5 121.0px 121.6px,#F58FD2 121.6px 122.2px,#F5CDE4 122.2px 122.9px,#BDE6DF 122.9px 123.5px,#F5CDE4 123.5px 124.2px,#F58FD2 124.2px 124.8px,#1FCBB5 124.8px 125.4px,#F5CDE4 125.4px 126.1px,#F58FD2 126.1px 127.3px,#1FCBB5 127.3px 128.0px,#F58FD2 128.0px 128.6px,#F5CDE4 128.6px 130.5px,#1FCBB5 130.5px 131.2px,#F5CDE4 131.2px 132.4px,#1FCBB5 132.4px 133.1px,#F58FD2 133.1px 134.3px,#1FCBB5 134.3px 135.0px,#F58FD2 135.0px 135.6px,#1FCBB5 135.6px 136.2px,#F58FD2 136.2px 136.9px,#F5CDE4 136.9px 137.5px,#BDE6DF 137.5px 138.2px,#F5CDE4 138.2px 139.4px,#1FCBB5 139.4px 140.1px,#F5CDE4 140.1px 140.7px,#F58FD2 140.7px 141.3px,#F5CDE4 141.3px 142.6px,#1FCBB5 142.6px 143.9px,#F5CDE4 143.9px 144.5px,#F58FD2 144.5px 145.8px,#1FCBB5 145.8px 146.4px,#BDE6DF 146.4px 147.1px,#1FCBB5 147.1px 149.6px,#BDE6DF 149.6px 150.3px,#F58FD2 150.3px 150.9px,#1FCBB5 150.9px 152.8px,#F58FD2 152.8px 153.4px,#1FCBB5 153.4px 156.6px,#BDE6DF 156.6px 157.3px,#F58FD2 157.3px 157.9px,#1FCBB5 157.9px 160.4px,#F58FD2 160.4px 161.1px,#1FCBB5 161.1px 170.0px,#BDE6DF 170.0px 170.6px,#1FCBB5 170.6px 171.3px,#F58FD2 171.3px 171.9px,#1FCBB5 171.9px 180.2px,#BDE6DF 180.2px 180.8px,#1FCBB5 180.8px 191.0px)"></div>
<div style="left:372.50px;top:288.90px;width:8.50px;height:191.30px;background:linear-gradient(to bottom,#FFA500 0.0px 159.4px,#FFF0CC 159.4px 160.7px,#FFA500 160.7px 191.3px)"></div>
<div style="left:383.00px;top:288.90px;width:8.00px;height:191.30px;background:linear-gradient(to bottom,#ffffff 0.0px 2.6px,#BEBEBE 2.6px 3.2px,#ffffff 3.2px 5.1px,#BEBEBE 5.1px 5.7px,#ffffff 5.7px 9.6px,#BEBEBE 9.6px 10.2px,#ffffff 10.2px 10.8px,#BEBEBE 10.8px 11.5px,#ffffff 11.5px 15.9px,#BEBEBE 15.9px 16.6px,#ffffff 16.6px 17.2px,#BEBEBE 17.2px 17.9px,#ffffff 17.9px 22.3px,#BEBEBE 22.3px 23.0px,#ffffff 23.0px 24.2px,#BEBEBE 24.2px 24.9px,#ffffff 24.9px 27.4px,#BEBEBE 27.4px 28.1px,#ffffff 28.1px 30.0px,#BEBEBE 30.0px 30.6px,#ffffff 30.6px 31.2px,#BEBEBE 31.2px 31.9px,#ffffff 31.9px 32.5px,#BEBEBE 32.5px 33.2px,#ffffff 33.2px 37.0px,#BEBEBE 37.0px 37.6px,#ffffff 37.6px 42.7px,#BEBEBE 42.7px 44.0px,#ffffff 44.0px 44.6px,#BEBEBE 44.6px 45.3px,#ffffff 45.3px 46.5px,#BEBEBE 46.5px 47.8px,#ffffff 47.8px 48.5px,#BEBEBE 48.5px 49.1px,#ffffff 49.1px 52.9px,#BEBEBE 52.9px 54.2px,#ffffff 54.2px 56.1px,#BEBEBE 56.1px 56.8px,#ffffff 56.8px 57.4px,#BEBEBE 57.4px 58.0px,#ffffff 58.0px 59.9px,#BEBEBE 59.9px 60.6px,#ffffff 60.6px 61.9px,#BEBEBE 61.9px 62.5px,#ffffff 62.5px 65.0px,#BEBEBE 65.0px 65.7px,#ffffff 65.7px 68.2px,#BEBEBE 68.2px 68.9px,#ffffff 68.9px 70.8px,#BEBEBE 70.8px 71.4px,#ffffff 71.4px 72.7px,#BEBEBE 72.7px 73.3px,#ffffff 73.3px 77.8px,#BEBEBE 77.8px 78.4px,#ffffff 78.4px 79.1px,#BEBEBE 79.1px 79.7px,#ffffff 79.7px 81.0px,#BEBEBE 81.0px 81.6px,#ffffff 81.6px 82.9px,#BEBEBE 82.9px 83.5px,#ffffff 83.5px 86.1px,#BEBEBE 86.1px 86.7px,#ffffff 86.7px 88.6px,#BEBEBE 88.6px 89.3px,#ffffff 89.3px 92.5px,#BEBEBE 92.5px 93.1px,#ffffff 93.1px 95.0px,#BEBEBE 95.0px 95.7px,#ffffff 95.7px 96.9px,#BEBEBE 96.9px 97.6px,#ffffff 97.6px 98.2px,#BEBEBE 98.2px 98.8px,#ffffff 98.8px 99.5px,#BEBEBE 99.5px 100.1px,#ffffff 100.1px 102.0px,#BEBEBE 102.0px 102.7px,#ffffff 102.7px 103.3px,#BEBEBE 103.3px 104.6px,#ffffff 104.6px 107.1px,#BEBEBE 107.1px 107.8px,#ffffff 107.8px 108.4px,#BEBEBE 108.4px 109.0px,#ffffff 109.0px 109.7px,#BEBEBE 109.7px 110.3px,#ffffff 110.3px 111.0px,#BEBEBE 111.0px 112.2px,#ffffff 112.2px 116.7px,#BEBEBE 116.7px 117.3px,#ffffff 117.3px 119.2px,#BEBEBE 119.2px 119.9px,#ffffff 119.9px 120.5px,#BEBEBE 120.5px 121.2px,#ffffff 121.2px 121.8px,#BEBEBE 121.8px 122.4px,#ffffff 122.4px 123.7px,#BEBEBE 123.7px 124.3px,#ffffff 124.3px 126.3px,#BEBEBE 126.3px 126.9px,#ffffff 126.9px 129.4px,#BEBEBE 129.4px 130.7px,#ffffff 130.7px 131.4px,#BEBEBE 131.4px 132.0px,#ffffff 132.0px 132.6px,#BEBEBE 132.6px 133.3px,#ffffff 133.3px 135.2px,#BEBEBE 135.2px 135.8px,#ffffff 135.8px 137.7px,#BEBEBE 137.7px 138.4px,#ffffff 138.4px 140.3px,#BEBEBE 140.3px 140.9px,#ffffff 140.9px 142.8px,#BEBEBE 142.8px 143.5px,#ffffff 143.5px 144.1px,#BEBEBE 144.1px 144.8px,#ffffff 144.8px 146.0px,#BEBEBE 146.0px 146.7px,#ffffff 146.7px 151.8px,#BEBEBE 151.8px 152.4px,#ffffff 152.4px 154.3px,#BEBEBE 154.3px 155.0px,#ffffff 155.0px 161.3px,#BEBEBE 161.3px 162.0px,#ffffff 162.0px 163.9px,#BEBEBE 163.9px 165.2px,#ffffff 165.2px 165.8px,#BEBEBE 165.8px 166.4px,#ffffff 166.4px 167.1px,#BEBEBE 167.1px 167.7px,#ffffff 167.7px 169.0px,#BEBEBE 169.0px 169.6px,#ffffff 169.6px 170.3px,#BEBEBE 170.3px 170.9px,#ffffff 170.9px 171.5px,#BEBEBE 171.5px 172.8px,#ffffff 172.8px 173.4px,#BEBEBE 173.4px 174.1px,#ffffff 174.1px 176.0px,#BEBEBE 176.0px 176.6px,#ffffff 176.6px 178.5px,#BEBEBE 178.5px 179.2px,#ffffff 179.2px 179.8px,#BEBEBE 179.8px 180.5px,#ffffff 180.5px 182.4px,#BEBEBE 182.4px 183.0px,#ffffff 183.0px 184.3px,#BEBEBE 184.3px 184.9px,#ffffff 184.9px 185.6px,#BEBEBE 185.6px 186.2px,#ffffff 186.2px 186.8px,#BEBEBE 186.8px 187.5px,#ffffff 187.5px 191.3px)"></div>
<div style="left:392.90px;top:288.90px;width:8.50px;height:191.30px;background:linear-gradient(to bottom,#F5CDE4 0.0px 0.6px,#F58FD2 0.6px 1.9px,#BDE6DF 1.9px 2.6px,#1FCBB5 2.6px 3.8px,#BDE6DF 3.8px 4.5px,#1FCBB5 4.5px 6.4px,#BDE6DF 6.4px 7.7px,#1FCBB5 7.7px 9.6px,#F58FD2 9.6px 10.2px,#1FCBB5 10.2px 10.8px,#BDE6DF 10.8px 12.1px,#1FCBB5 12.1px 13.4px,#BDE6DF 13.4px 14.0px,#1FCBB5 14.0px 14.7px,#BDE6DF 14.7px 15.9px,#F58FD2 15.9px 16.6px,#1FCBB5 16.6px 17.2px,#BDE6DF 17.2px 17.9px,#1FCBB5 17.9px 20.4px,#F58FD2 20.4px 21.0px,#1FCBB5 21.0px 30.0px,#BDE6DF 30.0px 30.6px,#1FCBB5 30.6px 33.2px,#F5CDE4 33.2px 33.8px,#1FCBB5 33.8px 34.4px,#F58FD2 34.4px 35.1px,#BDE6DF 35.1px 35.7px,#1FCBB5 35.7px 37.0px,#BDE6DF 37.0px 38.9px,#1FCBB5 38.9px 40.2px,#F58FD2 40.2px 40.8px,#1FCBB5 40.8px 42.7px,#BDE6DF 42.7px 44.0px,#1FCBB5 44.0px 45.9px,#BDE6DF 45.9px 47.2px,#F5CDE4 47.2px 48.5px,#BDE6DF 48.5px 49.1px,#F5CDE4 49.1px 50.4px,#1FCBB5 50.4px 52.3px,#BDE6DF 52.3px 52.9px,#F5CDE4 52.9px 53.6px,#BDE6DF 53.6px 54.2px,#1FCBB5 54.2px 55.5px,#F5CDE4 55.5px 56.8px,#1FCBB5 56.8px 57.4px,#BDE6DF 57.4px 58.0px,#1FCBB5 58.0px 58.7px,#F5CDE4 58.7px 59.3px,#1FCBB5 59.3px 60.6px,#BDE6DF 60.6px 61.2px,#F5CDE4 61.2px 61.9px,#1FCBB5 61.9px 62.5px,#F5CDE4 62.5px 63.1px,#BDE6DF 63.1px 63.8px,#1FCBB5 63.8px 64.4px,#BDE6DF 64.4px 65.7px,#1FCBB5 65.7px 66.3px,#F5CDE4 66.3px 67.0px,#1FCBB5 67.0px 68.2px,#BDE6DF 68.2px 69.5px,#1FCBB5 69.5px 72.1px,#F5CDE4 72.1px 72.7px,#BDE6DF 72.7px 73.3px,#F5CDE4 73.3px 74.0px,#BDE6DF 74.0px 75.2px,#1FCBB5 75.2px 75.9px,#BDE6DF 75.9px 76.5px,#1FCBB5 76.5px 77.8px,#F5CDE4 77.8px 78.4px,#BDE6DF 78.4px 79.1px,#1FCBB5 79.1px 80.3px,#BDE6DF 80.3px 81.0px,#1FCBB5 81.0px 82.3px,#BDE6DF 82.3px 83.5px,#F5CDE4 83.5px 84.2px,#1FCBB5 84.2px 86.7px,#F58FD2 86.7px 87.4px,#BDE6DF 87.4px 88.0px,#1FCBB5 88.0px 89.9px,#F5CDE4 89.9px 90.5px,#F58FD2 90.5px 91.2px,#1FCBB5 91.2px 91.8px,#BDE6DF 91.8px 92.5px,#F5CDE4 92.5px 93.1px,#BDE6DF 93.1px 93.7px,#1FCBB5 93.7px 94.4px,#BDE6DF 94.4px 95.0px,#1FCBB5 95.0px 95.7px,#F5CDE4 95.7px 96.3px,#BDE6DF 96.3px 96.9px,#1FCBB5 96.9px 98.2px,#F5CDE4 98.2px 98.8px,#1FCBB5 98.8px 100.1px,#F5CDE4 100.1px 100.8px,#BDE6DF 100.8px 101.4px,#F5CDE4 101.4px 102.0px,#BDE6DF 102.0px 103.9px,#1FCBB5 103.9px 105.2px,#BDE6DF 105.2px 105.9px,#1FCBB5 105.9px 106.5px,#BDE6DF 106.5px 107.1px,#1FCBB5 107.1px 110.3px,#BDE6DF 110.3px 111.0px,#1FCBB5 111.0px 114.1px,#BDE6DF 114.1px 114.8px,#F5CDE4 114.8px 115.4px,#1FCBB5 115.4px 116.1px,#BDE6DF 116.1px 116.7px,#1FCBB5 116.7px 117.3px,#F58FD2 117.3px 118.0px,#1FCBB5 118.0px 122.4px,#BDE6DF 122.4px 123.1px,#1FCBB5 123.1px 123.7px,#BDE6DF 123.7px 125.0px,#1FCBB5 125.0px 126.3px,#F58FD2 126.3px 126.9px,#BDE6DF 126.9px 127.5px,#F5CDE4 127.5px 128.2px,#1FCBB5 128.2px 128.8px,#F5CDE4 128.8px 129.4px,#F58FD2 129.4px 130.1px,#BDE6DF 130.1px 130.7px,#F5CDE4 130.7px 131.4px,#1FCBB5 131.4px 132.0px,#F5CDE4 132.0px 132.6px,#1FCBB5 132.6px 134.5px,#F58FD2 134.5px 135.2px,#F5CDE4 135.2px 135.8px,#BDE6DF 135.8px 136.5px,#1FCBB5 136.5px 137.7px,#F5CDE4 137.7px 138.4px,#1FCBB5 138.4px 140.9px,#BDE6DF 140.9px 141.6px,#1FCBB5 141.6px 142.2px,#BDE6DF 142.2px 142.8px,#1FCBB5 142.8px 144.1px,#BDE6DF 144.1px 144.8px,#1FCBB5 144.8px 145.4px,#BDE6DF 145.4px 146.0px,#1FCBB5 146.0px 147.3px,#BDE6DF 147.3px 147.9px,#1FCBB5 147.9px 150.5px,#F58FD2 150.5px 151.1px,#F5CDE4 151.1px 151.8px,#F58FD2 151.8px 152.4px,#1FCBB5 152.4px 153.7px,#BDE6DF 153.7px 155.0px,#1FCBB5 155.0px 155.6px,#BDE6DF 155.6px 156.2px,#1FCBB5 156.2px 156.9px,#F58FD2 156.9px 157.5px,#1FCBB5 157.5px 158.1px,#F58FD2 158.1px 158.8px,#1FCBB5 158.8px 162.0px,#F58FD2 162.0px 162.6px,#BDE6DF 162.6px 163.2px,#1FCBB5 163.2px 163.9px,#F58FD2 163.9px 164.5px,#1FCBB5 164.5px 166.4px,#F5CDE4 166.4px 167.1px,#1FCBB5 167.1px 167.7px,#F58FD2 167.7px 168.3px,#BDE6DF 168.3px 169.0px,#1FCBB5 169.0px 169.6px,#F58FD2 169.6px 170.9px,#1FCBB5 170.9px 172.2px,#BDE6DF 172.2px 172.8px,#F58FD2 172.8px 173.4px,#F5CDE4 173.4px 174.1px,#BDE6DF 174.1px 174.7px,#1FCBB5 174.7px 175.4px,#F5CDE4 175.4px 176.0px,#F58FD2 176.0px 176.6px,#1FCBB5 176.6px 177.3px,#F58FD2 177.3px 177.9px,#1FCBB5 177.9px 178.5px,#F58FD2 178.5px 179.2px,#F5CDE4 179.2px 179.8px,#1FCBB5 179.8px 180.5px,#F5CDE4 180.5px 181.1px,#1FCBB5 181.1px 183.0px,#F58FD2 183.0px 183.6px,#F5CDE4 183.6px 184.3px,#BDE6DF 184.3px 184.9px,#F58FD2 184.9px 187.5px,#1FCBB5 187.5px 188.1px,#F5CDE4 188.1px 188.7px,#1FCBB5 188.7px 190.0px,#BDE6DF 190.0px 191.3px)"></div>
</div>
<svg width="685" height="526" viewBox="0 0 685 526">
<text x="13.00" y="14.60" font-size="17.5" font-weight="700" fill="#000" text-anchor="start">a</text>
<text x="344.00" y="14.30" font-size="17.5" font-weight="700" fill="#000" text-anchor="start">b</text>
<text x="13.40" y="261.70" font-size="17.5" font-weight="700" fill="#000" text-anchor="start">c</text>
<text x="344.00" y="261.70" font-size="17.5" font-weight="700" fill="#000" text-anchor="start">d</text>
<rect x="88.90" y="36.50" width="72.30" height="163.90" fill="#fff"/>
<line x1="100.40" y1="36.50" x2="100.40" y2="200.40" stroke="#F4F4F4" stroke-width="0.6"/>
<line x1="116.83" y1="36.50" x2="116.83" y2="200.40" stroke="#F4F4F4" stroke-width="0.6"/>
<line x1="133.27" y1="36.50" x2="133.27" y2="200.40" stroke="#F4F4F4" stroke-width="0.6"/>
<line x1="149.70" y1="36.50" x2="149.70" y2="200.40" stroke="#F4F4F4" stroke-width="0.6"/>
<line x1="92.19" y1="36.50" x2="92.19" y2="200.40" stroke="#EBEBEB" stroke-width="0.9"/>
<line x1="108.62" y1="36.50" x2="108.62" y2="200.40" stroke="#EBEBEB" stroke-width="0.9"/>
<line x1="125.05" y1="36.50" x2="125.05" y2="200.40" stroke="#EBEBEB" stroke-width="0.9"/>
<line x1="141.48" y1="36.50" x2="141.48" y2="200.40" stroke="#EBEBEB" stroke-width="0.9"/>
<line x1="157.91" y1="36.50" x2="157.91" y2="200.40" stroke="#EBEBEB" stroke-width="0.9"/>
<line x1="88.90" y1="44.50" x2="161.20" y2="44.50" stroke="#EBEBEB" stroke-width="0.9"/>
<line x1="88.90" y1="57.92" x2="161.20" y2="57.92" stroke="#EBEBEB" stroke-width="0.9"/>
<line x1="88.90" y1="71.34" x2="161.20" y2="71.34" stroke="#EBEBEB" stroke-width="0.9"/>
<line x1="88.90" y1="84.76" x2="161.20" y2="84.76" stroke="#EBEBEB" stroke-width="0.9"/>
<line x1="88.90" y1="98.18" x2="161.20" y2="98.18" stroke="#EBEBEB" stroke-width="0.9"/>
<line x1="88.90" y1="111.60" x2="161.20" y2="111.60" stroke="#EBEBEB" stroke-width="0.9"/>
<line x1="88.90" y1="125.02" x2="161.20" y2="125.02" stroke="#EBEBEB" stroke-width="0.9"/>
<line x1="88.90" y1="138.44" x2="161.20" y2="138.44" stroke="#EBEBEB" stroke-width="0.9"/>
<line x1="88.90" y1="151.86" x2="161.20" y2="151.86" stroke="#EBEBEB" stroke-width="0.9"/>
<line x1="88.90" y1="165.28" x2="161.20" y2="165.28" stroke="#EBEBEB" stroke-width="0.9"/>
<line x1="88.90" y1="178.70" x2="161.20" y2="178.70" stroke="#EBEBEB" stroke-width="0.9"/>
<line x1="88.90" y1="192.12" x2="161.20" y2="192.12" stroke="#EBEBEB" stroke-width="0.9"/>
<rect x="171.40" y="36.50" width="72.00" height="163.90" fill="#fff"/>
<line x1="182.85" y1="36.50" x2="182.85" y2="200.40" stroke="#F4F4F4" stroke-width="0.6"/>
<line x1="199.22" y1="36.50" x2="199.22" y2="200.40" stroke="#F4F4F4" stroke-width="0.6"/>
<line x1="215.58" y1="36.50" x2="215.58" y2="200.40" stroke="#F4F4F4" stroke-width="0.6"/>
<line x1="231.95" y1="36.50" x2="231.95" y2="200.40" stroke="#F4F4F4" stroke-width="0.6"/>
<line x1="174.67" y1="36.50" x2="174.67" y2="200.40" stroke="#EBEBEB" stroke-width="0.9"/>
<line x1="191.04" y1="36.50" x2="191.04" y2="200.40" stroke="#EBEBEB" stroke-width="0.9"/>
<line x1="207.40" y1="36.50" x2="207.40" y2="200.40" stroke="#EBEBEB" stroke-width="0.9"/>
<line x1="223.76" y1="36.50" x2="223.76" y2="200.40" stroke="#EBEBEB" stroke-width="0.9"/>
<line x1="240.13" y1="36.50" x2="240.13" y2="200.40" stroke="#EBEBEB" stroke-width="0.9"/>
<line x1="171.40" y1="44.50" x2="243.40" y2="44.50" stroke="#EBEBEB" stroke-width="0.9"/>
<line x1="171.40" y1="57.92" x2="243.40" y2="57.92" stroke="#EBEBEB" stroke-width="0.9"/>
<line x1="171.40" y1="71.34" x2="243.40" y2="71.34" stroke="#EBEBEB" stroke-width="0.9"/>
<line x1="171.40" y1="84.76" x2="243.40" y2="84.76" stroke="#EBEBEB" stroke-width="0.9"/>
<line x1="171.40" y1="98.18" x2="243.40" y2="98.18" stroke="#EBEBEB" stroke-width="0.9"/>
<line x1="171.40" y1="111.60" x2="243.40" y2="111.60" stroke="#EBEBEB" stroke-width="0.9"/>
<line x1="171.40" y1="125.02" x2="243.40" y2="125.02" stroke="#EBEBEB" stroke-width="0.9"/>
<line x1="171.40" y1="138.44" x2="243.40" y2="138.44" stroke="#EBEBEB" stroke-width="0.9"/>
<line x1="171.40" y1="151.86" x2="243.40" y2="151.86" stroke="#EBEBEB" stroke-width="0.9"/>
<line x1="171.40" y1="165.28" x2="243.40" y2="165.28" stroke="#EBEBEB" stroke-width="0.9"/>
<line x1="171.40" y1="178.70" x2="243.40" y2="178.70" stroke="#EBEBEB" stroke-width="0.9"/>
<line x1="171.40" y1="192.12" x2="243.40" y2="192.12" stroke="#EBEBEB" stroke-width="0.9"/>
<rect x="253.80" y="36.50" width="72.60" height="163.90" fill="#fff"/>
<line x1="265.35" y1="36.50" x2="265.35" y2="200.40" stroke="#F4F4F4" stroke-width="0.6"/>
<line x1="281.85" y1="36.50" x2="281.85" y2="200.40" stroke="#F4F4F4" stroke-width="0.6"/>
<line x1="298.35" y1="36.50" x2="298.35" y2="200.40" stroke="#F4F4F4" stroke-width="0.6"/>
<line x1="314.85" y1="36.50" x2="314.85" y2="200.40" stroke="#F4F4F4" stroke-width="0.6"/>
<line x1="257.10" y1="36.50" x2="257.10" y2="200.40" stroke="#EBEBEB" stroke-width="0.9"/>
<line x1="273.60" y1="36.50" x2="273.60" y2="200.40" stroke="#EBEBEB" stroke-width="0.9"/>
<line x1="290.10" y1="36.50" x2="290.10" y2="200.40" stroke="#EBEBEB" stroke-width="0.9"/>
<line x1="306.60" y1="36.50" x2="306.60" y2="200.40" stroke="#EBEBEB" stroke-width="0.9"/>
<line x1="323.10" y1="36.50" x2="323.10" y2="200.40" stroke="#EBEBEB" stroke-width="0.9"/>
<line x1="253.80" y1="44.50" x2="326.40" y2="44.50" stroke="#EBEBEB" stroke-width="0.9"/>
<line x1="253.80" y1="57.92" x2="326.40" y2="57.92" stroke="#EBEBEB" stroke-width="0.9"/>
<line x1="253.80" y1="71.34" x2="326.40" y2="71.34" stroke="#EBEBEB" stroke-width="0.9"/>
<line x1="253.80" y1="84.76" x2="326.40" y2="84.76" stroke="#EBEBEB" stroke-width="0.9"/>
<line x1="253.80" y1="98.18" x2="326.40" y2="98.18" stroke="#EBEBEB" stroke-width="0.9"/>
<line x1="253.80" y1="111.60" x2="326.40" y2="111.60" stroke="#EBEBEB" stroke-width="0.9"/>
<line x1="253.80" y1="125.02" x2="326.40" y2="125.02" stroke="#EBEBEB" stroke-width="0.9"/>
<line x1="253.80" y1="138.44" x2="326.40" y2="138.44" stroke="#EBEBEB" stroke-width="0.9"/>
<line x1="253.80" y1="151.86" x2="326.40" y2="151.86" stroke="#EBEBEB" stroke-width="0.9"/>
<line x1="253.80" y1="165.28" x2="326.40" y2="165.28" stroke="#EBEBEB" stroke-width="0.9"/>
<line x1="253.80" y1="178.70" x2="326.40" y2="178.70" stroke="#EBEBEB" stroke-width="0.9"/>
<line x1="253.80" y1="192.12" x2="326.40" y2="192.12" stroke="#EBEBEB" stroke-width="0.9"/>
<path d="M106.9,44.50 L112.0,43.00 L118.0,41.00 L124.0,39.90 L130.0,41.00 L135.0,43.00 L138.8,44.20 L138.8,44.80 L135.0,46.00 L130.0,48.00 L124.0,49.10 L118.0,48.00 L112.0,46.00 L106.9,44.50Z" fill="none" stroke="#7570B3" stroke-width="0.8" stroke-linejoin="round"/>
<line x1="106.90" y1="44.50" x2="138.80" y2="44.50" stroke="#7570B3" stroke-width="0.6"/>
<rect x="120.0" y="43.30" width="8.0" height="2.4" fill="#7570B3" fill-opacity="0.35" stroke="#7570B3" stroke-width="0.6"/>
<circle cx="124.5" cy="44.50" r="0.9" fill="#7570B3"/>
<circle cx="137.5" cy="44.50" r="1.4" fill="#7570B3"/>
<path d="M115.2,55.72 L125.0,55.52 L131.0,55.52 L133.0,54.12 L138.0,53.92 L139.4,54.92 L139.4,60.92 L138.0,61.92 L133.0,61.72 L131.0,60.32 L125.0,60.32 L115.2,60.12Z" fill="none" stroke="#7570B3" stroke-width="0.8" stroke-linejoin="round"/>
<line x1="115.20" y1="57.92" x2="139.40" y2="57.92" stroke="#7570B3" stroke-width="0.6"/>
<rect x="122.0" y="56.72" width="12.0" height="2.4" fill="#7570B3" fill-opacity="0.35" stroke="#7570B3" stroke-width="0.6"/>
<circle cx="132.0" cy="57.92" r="0.9" fill="#7570B3"/>
<path d="M101.0,70.94 L106.0,68.34 L112.0,64.84 L117.0,67.34 L121.0,69.84 L131.0,70.54 L131.0,72.14 L121.0,72.84 L117.0,75.34 L112.0,77.84 L106.0,74.34 L101.0,71.74Z" fill="none" stroke="#1B9E77" stroke-width="0.8" stroke-linejoin="round"/>
<line x1="101.00" y1="71.34" x2="131.00" y2="71.34" stroke="#1B9E77" stroke-width="0.6"/>
<rect x="106.0" y="70.14" width="9.0" height="2.4" fill="#1B9E77" fill-opacity="0.35" stroke="#1B9E77" stroke-width="0.6"/>
<circle cx="110.0" cy="71.34" r="0.9" fill="#1B9E77"/>
<circle cx="99.6" cy="71.34" r="1.4" fill="#1B9E77"/>
<circle cx="125.0" cy="71.34" r="1.4" fill="#1B9E77"/>
<circle cx="126.5" cy="71.34" r="1.4" fill="#1B9E77"/>
<circle cx="128.0" cy="71.34" r="1.4" fill="#1B9E77"/>
<circle cx="129.5" cy="71.34" r="1.4" fill="#1B9E77"/>
<circle cx="131.0" cy="71.34" r="1.4" fill="#1B9E77"/>
<path d="M118.0,82.46 L125.0,82.46 L128.0,81.26 L131.0,79.76 L136.0,79.76 L139.9,82.26 L139.9,87.26 L136.0,89.76 L131.0,89.76 L128.0,88.26 L125.0,87.06 L118.0,87.06Z" fill="none" stroke="#1B9E77" stroke-width="0.8" stroke-linejoin="round"/>
<line x1="118.00" y1="84.76" x2="139.90" y2="84.76" stroke="#1B9E77" stroke-width="0.6"/>
<rect x="121.0" y="83.56" width="15.0" height="2.4" fill="#1B9E77" fill-opacity="0.35" stroke="#1B9E77" stroke-width="0.6"/>
<circle cx="133.5" cy="84.76" r="0.9" fill="#1B9E77"/>
<path d="M104.5,97.88 L110.0,96.18 L116.0,94.18 L121.5,93.18 L127.0,94.18 L133.0,96.68 L137.2,97.68 L137.2,98.68 L133.0,99.68 L127.0,102.18 L121.5,103.18 L116.0,102.18 L110.0,100.18 L104.5,98.48Z" fill="none" stroke="#E6AB02" stroke-width="0.8" stroke-linejoin="round"/>
<line x1="104.50" y1="98.18" x2="137.20" y2="98.18" stroke="#E6AB02" stroke-width="0.6"/>
<rect x="117.0" y="96.98" width="9.0" height="2.4" fill="#E6AB02" fill-opacity="0.35" stroke="#E6AB02" stroke-width="0.6"/>
<circle cx="121.0" cy="98.18" r="0.9" fill="#E6AB02"/>
<circle cx="104.0" cy="98.18" r="1.4" fill="#E6AB02"/>
<path d="M115.5,109.40 L126.0,109.20 L130.0,108.10 L135.0,107.60 L138.8,108.60 L138.8,114.60 L135.0,115.60 L130.0,115.10 L126.0,114.00 L115.5,113.80Z" fill="none" stroke="#E6AB02" stroke-width="0.8" stroke-linejoin="round"/>
<line x1="115.50" y1="111.60" x2="138.80" y2="111.60" stroke="#E6AB02" stroke-width="0.6"/>
<rect x="120.0" y="110.40" width="14.0" height="2.4" fill="#E6AB02" fill-opacity="0.35" stroke="#E6AB02" stroke-width="0.6"/>
<circle cx="131.0" cy="111.60" r="0.9" fill="#E6AB02"/>
<path d="M110.6,124.72 L118.0,123.52 L125.0,121.52 L134.0,120.82 L141.0,121.02 L145.8,123.02 L145.8,127.02 L141.0,129.02 L134.0,129.22 L125.0,128.52 L118.0,126.52 L110.6,125.32Z" fill="none" stroke="#66A61E" stroke-width="0.8" stroke-linejoin="round"/>
<line x1="110.60" y1="125.02" x2="145.80" y2="125.02" stroke="#66A61E" stroke-width="0.6"/>
<rect x="125.0" y="123.82" width="14.0" height="2.4" fill="#66A61E" fill-opacity="0.35" stroke="#66A61E" stroke-width="0.6"/>
<circle cx="134.0" cy="125.02" r="0.9" fill="#66A61E"/>
<path d="M113.0,135.94 L128.0,135.94 L130.0,135.14 L141.3,135.14 L141.3,141.74 L130.0,141.74 L128.0,140.94 L113.0,140.94Z" fill="none" stroke="#66A61E" stroke-width="0.8" stroke-linejoin="round"/>
<line x1="113.00" y1="138.44" x2="141.30" y2="138.44" stroke="#66A61E" stroke-width="0.6"/>
<rect x="118.0" y="137.24" width="17.0" height="2.4" fill="#66A61E" fill-opacity="0.35" stroke="#66A61E" stroke-width="0.6"/>
<circle cx="131.0" cy="138.44" r="0.9" fill="#66A61E"/>
<path d="M111.9,151.36 L116.0,149.86 L122.0,148.36 L130.0,147.86 L140.0,148.36 L145.8,150.86 L145.8,152.86 L140.0,155.36 L130.0,155.86 L122.0,155.36 L116.0,153.86 L111.9,152.36Z" fill="none" stroke="#E7298A" stroke-width="0.8" stroke-linejoin="round"/>
<line x1="111.90" y1="151.86" x2="145.80" y2="151.86" stroke="#E7298A" stroke-width="0.6"/>
<rect x="122.0" y="150.66" width="16.0" height="2.4" fill="#E7298A" fill-opacity="0.35" stroke="#E7298A" stroke-width="0.6"/>
<circle cx="130.0" cy="151.86" r="0.9" fill="#E7298A"/>
<path d="M113.0,162.78 L128.0,162.78 L130.0,161.98 L141.3,161.98 L141.3,168.58 L130.0,168.58 L128.0,167.78 L113.0,167.78Z" fill="none" stroke="#E7298A" stroke-width="0.8" stroke-linejoin="round"/>
<line x1="113.00" y1="165.28" x2="141.30" y2="165.28" stroke="#E7298A" stroke-width="0.6"/>
<rect x="117.0" y="164.08" width="18.0" height="2.4" fill="#E7298A" fill-opacity="0.35" stroke="#E7298A" stroke-width="0.6"/>
<circle cx="130.0" cy="165.28" r="0.9" fill="#E7298A"/>
<path d="M108.7,178.40 L114.0,175.70 L122.0,173.70 L129.0,175.20 L134.0,177.20 L137.3,178.30 L137.3,179.10 L134.0,180.20 L129.0,182.20 L122.0,183.70 L114.0,181.70 L108.7,179.00Z" fill="none" stroke="#D95F02" stroke-width="0.8" stroke-linejoin="round"/>
<line x1="108.70" y1="178.70" x2="137.30" y2="178.70" stroke="#D95F02" stroke-width="0.6"/>
<rect x="116.0" y="177.50" width="11.0" height="2.4" fill="#D95F02" fill-opacity="0.35" stroke="#D95F02" stroke-width="0.6"/>
<circle cx="121.0" cy="178.70" r="0.9" fill="#D95F02"/>
<path d="M116.3,189.82 L124.0,189.62 L128.0,188.62 L133.0,188.12 L138.4,189.12 L138.4,195.12 L133.0,196.12 L128.0,195.62 L124.0,194.62 L116.3,194.42Z" fill="none" stroke="#D95F02" stroke-width="0.8" stroke-linejoin="round"/>
<line x1="116.30" y1="192.12" x2="138.40" y2="192.12" stroke="#D95F02" stroke-width="0.6"/>
<rect x="120.0" y="190.92" width="14.0" height="2.4" fill="#D95F02" fill-opacity="0.35" stroke="#D95F02" stroke-width="0.6"/>
<circle cx="131.0" cy="192.12" r="0.9" fill="#D95F02"/>
<path d="M200.0,44.00 L203.0,42.50 L207.0,40.00 L211.0,41.50 L216.5,44.00 L216.5,45.00 L211.0,47.50 L207.0,49.00 L203.0,46.50 L200.0,45.00Z" fill="none" stroke="#7570B3" stroke-width="0.8" stroke-linejoin="round"/>
<line x1="200.00" y1="44.50" x2="216.50" y2="44.50" stroke="#7570B3" stroke-width="0.6"/>
<rect x="204.0" y="43.30" width="6.0" height="2.4" fill="#7570B3" fill-opacity="0.35" stroke="#7570B3" stroke-width="0.6"/>
<circle cx="207.0" cy="44.50" r="0.9" fill="#7570B3"/>
<circle cx="196.6" cy="44.50" r="1.4" fill="#7570B3"/>
<circle cx="198.0" cy="44.50" r="1.4" fill="#7570B3"/>
<circle cx="199.5" cy="44.50" r="1.4" fill="#7570B3"/>
<path d="M202.0,56.92 L210.0,56.62 L211.7,54.92 L219.7,54.92 L219.7,60.92 L211.7,60.92 L210.0,59.22 L202.0,58.92Z" fill="none" stroke="#7570B3" stroke-width="0.8" stroke-linejoin="round"/>
<line x1="202.00" y1="57.92" x2="219.70" y2="57.92" stroke="#7570B3" stroke-width="0.6"/>
<rect x="206.0" y="56.72" width="11.0" height="2.4" fill="#7570B3" fill-opacity="0.35" stroke="#7570B3" stroke-width="0.6"/>
<circle cx="213.0" cy="57.92" r="0.9" fill="#7570B3"/>
<path d="M185.0,69.84 L190.0,68.34 L195.0,68.34 L200.0,70.14 L205.0,70.74 L212.0,70.74 L212.0,71.94 L205.0,71.94 L200.0,72.54 L195.0,74.34 L190.0,74.34 L185.0,72.84Z" fill="none" stroke="#1B9E77" stroke-width="0.8" stroke-linejoin="round"/>
<line x1="185.00" y1="71.34" x2="212.00" y2="71.34" stroke="#1B9E77" stroke-width="0.6"/>
<rect x="188.0" y="70.14" width="9.0" height="2.4" fill="#1B9E77" fill-opacity="0.35" stroke="#1B9E77" stroke-width="0.6"/>
<circle cx="193.0" cy="71.34" r="0.9" fill="#1B9E77"/>
<circle cx="213.0" cy="71.34" r="1.4" fill="#1B9E77"/>
<circle cx="214.5" cy="71.34" r="1.4" fill="#1B9E77"/>
<circle cx="216.0" cy="71.34" r="1.4" fill="#1B9E77"/>
<circle cx="217.5" cy="71.34" r="1.4" fill="#1B9E77"/>
<circle cx="219.0" cy="71.34" r="1.4" fill="#1B9E77"/>
<path d="M193.0,84.16 L205.0,84.16 L211.0,82.26 L218.0,81.76 L227.7,82.76 L228.5,84.26 L228.5,85.26 L227.7,86.76 L218.0,87.76 L211.0,87.26 L205.0,85.36 L193.0,85.36Z" fill="none" stroke="#1B9E77" stroke-width="0.8" stroke-linejoin="round"/>
<line x1="193.00" y1="84.76" x2="228.50" y2="84.76" stroke="#1B9E77" stroke-width="0.6"/>
<rect x="212.0" y="83.56" width="12.0" height="2.4" fill="#1B9E77" fill-opacity="0.35" stroke="#1B9E77" stroke-width="0.6"/>
<circle cx="219.0" cy="84.76" r="0.9" fill="#1B9E77"/>
<circle cx="191.8" cy="84.76" r="1.4" fill="#1B9E77"/>
<circle cx="193.5" cy="84.76" r="1.4" fill="#1B9E77"/>
<path d="M185.4,97.88 L192.0,95.68 L200.0,95.18 L208.0,96.18 L215.0,97.18 L222.1,97.88 L222.1,98.48 L215.0,99.18 L208.0,100.18 L200.0,101.18 L192.0,100.68 L185.4,98.48Z" fill="none" stroke="#E6AB02" stroke-width="0.8" stroke-linejoin="round"/>
<line x1="185.40" y1="98.18" x2="222.10" y2="98.18" stroke="#E6AB02" stroke-width="0.6"/>
<rect x="193.0" y="96.98" width="13.0" height="2.4" fill="#E6AB02" fill-opacity="0.35" stroke="#E6AB02" stroke-width="0.6"/>
<circle cx="200.0" cy="98.18" r="0.9" fill="#E6AB02"/>
<path d="M197.4,110.80 L208.0,110.60 L211.7,108.60 L220.5,108.60 L220.5,114.60 L211.7,114.60 L208.0,112.60 L197.4,112.40Z" fill="none" stroke="#E6AB02" stroke-width="0.8" stroke-linejoin="round"/>
<line x1="197.40" y1="111.60" x2="220.50" y2="111.60" stroke="#E6AB02" stroke-width="0.6"/>
<rect x="204.0" y="110.40" width="13.0" height="2.4" fill="#E6AB02" fill-opacity="0.35" stroke="#E6AB02" stroke-width="0.6"/>
<circle cx="212.0" cy="111.60" r="0.9" fill="#E6AB02"/>
<path d="M195.2,124.72 L201.0,122.82 L210.0,122.02 L220.0,122.52 L226.7,124.72 L226.7,125.32 L220.0,127.52 L210.0,128.02 L201.0,127.22 L195.2,125.32Z" fill="none" stroke="#66A61E" stroke-width="0.8" stroke-linejoin="round"/>
<line x1="195.20" y1="125.02" x2="226.70" y2="125.02" stroke="#66A61E" stroke-width="0.6"/>
<rect x="202.0" y="123.82" width="18.0" height="2.4" fill="#66A61E" fill-opacity="0.35" stroke="#66A61E" stroke-width="0.6"/>
<circle cx="211.0" cy="125.02" r="0.9" fill="#66A61E"/>
<path d="M205.0,137.84 L213.0,137.44 L217.0,135.44 L221.9,132.44 L222.0,137.94 L222.0,138.94 L221.9,144.44 L217.0,141.44 L213.0,139.44 L205.0,139.04Z" fill="none" stroke="#66A61E" stroke-width="0.8" stroke-linejoin="round"/>
<line x1="205.00" y1="138.44" x2="222.00" y2="138.44" stroke="#66A61E" stroke-width="0.6"/>
<rect x="214.0" y="137.24" width="7.0" height="2.4" fill="#66A61E" fill-opacity="0.35" stroke="#66A61E" stroke-width="0.6"/>
<circle cx="219.0" cy="138.44" r="0.9" fill="#66A61E"/>
<circle cx="192.8" cy="138.44" r="1.4" fill="#66A61E"/>
<circle cx="204.6" cy="138.44" r="1.4" fill="#66A61E"/>
<path d="M200.0,150.36 L205.0,148.86 L214.0,148.86 L222.7,150.36 L222.7,153.36 L214.0,154.86 L205.0,154.86 L200.0,153.36Z" fill="none" stroke="#E7298A" stroke-width="0.8" stroke-linejoin="round"/>
<line x1="200.00" y1="151.86" x2="222.70" y2="151.86" stroke="#E7298A" stroke-width="0.6"/>
<rect x="204.0" y="150.66" width="15.0" height="2.4" fill="#E7298A" fill-opacity="0.35" stroke="#E7298A" stroke-width="0.6"/>
<circle cx="212.0" cy="151.86" r="0.9" fill="#E7298A"/>
<path d="M200.0,164.58 L211.0,164.48 L213.0,162.28 L219.0,162.28 L220.3,163.28 L220.3,167.28 L219.0,168.28 L213.0,168.28 L211.0,166.08 L200.0,165.98Z" fill="none" stroke="#E7298A" stroke-width="0.8" stroke-linejoin="round"/>
<line x1="200.00" y1="165.28" x2="220.30" y2="165.28" stroke="#E7298A" stroke-width="0.6"/>
<rect x="205.0" y="164.08" width="13.0" height="2.4" fill="#E7298A" fill-opacity="0.35" stroke="#E7298A" stroke-width="0.6"/>
<circle cx="214.0" cy="165.28" r="0.9" fill="#E7298A"/>
<path d="M196.0,178.20 L201.0,176.20 L208.0,175.70 L214.0,176.50 L217.9,178.20 L217.9,179.20 L214.0,180.90 L208.0,181.70 L201.0,181.20 L196.0,179.20Z" fill="none" stroke="#D95F02" stroke-width="0.8" stroke-linejoin="round"/>
<line x1="196.00" y1="178.70" x2="217.90" y2="178.70" stroke="#D95F02" stroke-width="0.6"/>
<rect x="200.0" y="177.50" width="14.0" height="2.4" fill="#D95F02" fill-opacity="0.35" stroke="#D95F02" stroke-width="0.6"/>
<circle cx="207.0" cy="178.70" r="0.9" fill="#D95F02"/>
<path d="M204.1,190.32 L208.0,189.32 L214.0,189.52 L220.3,190.32 L220.3,193.92 L214.0,194.72 L208.0,194.92 L204.1,193.92Z" fill="none" stroke="#D95F02" stroke-width="0.8" stroke-linejoin="round"/>
<line x1="204.10" y1="192.12" x2="220.30" y2="192.12" stroke="#D95F02" stroke-width="0.6"/>
<rect x="206.0" y="190.92" width="12.0" height="2.4" fill="#D95F02" fill-opacity="0.35" stroke="#D95F02" stroke-width="0.6"/>
<circle cx="212.0" cy="192.12" r="0.9" fill="#D95F02"/>
<path d="M274.6,42.50 L278.0,40.50 L290.0,39.70 L297.0,40.50 L302.0,39.50 L312.0,40.50 L315.6,43.00 L315.6,46.00 L312.0,48.50 L302.0,49.50 L297.0,48.50 L290.0,49.30 L278.0,48.50 L274.6,46.50Z" fill="none" stroke="#7570B3" stroke-width="0.8" stroke-linejoin="round"/>
<line x1="274.60" y1="44.50" x2="315.60" y2="44.50" stroke="#7570B3" stroke-width="0.6"/>
<rect x="287.0" y="43.30" width="17.0" height="2.4" fill="#7570B3" fill-opacity="0.35" stroke="#7570B3" stroke-width="0.6"/>
<circle cx="298.0" cy="44.50" r="0.9" fill="#7570B3"/>
<path d="M273.8,55.12 L285.0,54.92 L287.0,54.02 L313.4,54.02 L313.4,61.82 L287.0,61.82 L285.0,60.92 L273.8,60.72Z" fill="none" stroke="#7570B3" stroke-width="0.8" stroke-linejoin="round"/>
<line x1="273.80" y1="57.92" x2="313.40" y2="57.92" stroke="#7570B3" stroke-width="0.6"/>
<rect x="285.0" y="56.72" width="24.0" height="2.4" fill="#7570B3" fill-opacity="0.35" stroke="#7570B3" stroke-width="0.6"/>
<circle cx="302.0" cy="57.92" r="0.9" fill="#7570B3"/>
<path d="M268.2,71.14 L274.0,67.84 L282.0,65.34 L292.0,65.14 L300.0,67.34 L303.8,70.34 L303.8,72.34 L300.0,75.34 L292.0,77.54 L282.0,77.34 L274.0,74.84 L268.2,71.54Z" fill="none" stroke="#1B9E77" stroke-width="0.8" stroke-linejoin="round"/>
<line x1="268.20" y1="71.34" x2="303.80" y2="71.34" stroke="#1B9E77" stroke-width="0.6"/>
<rect x="278.0" y="70.14" width="15.0" height="2.4" fill="#1B9E77" fill-opacity="0.35" stroke="#1B9E77" stroke-width="0.6"/>
<circle cx="285.0" cy="71.34" r="0.9" fill="#1B9E77"/>
<path d="M276.2,81.56 L290.0,81.26 L300.0,80.46 L308.0,80.46 L310.2,81.76 L310.2,87.76 L308.0,89.06 L300.0,89.06 L290.0,88.26 L276.2,87.96Z" fill="none" stroke="#1B9E77" stroke-width="0.8" stroke-linejoin="round"/>
<line x1="276.20" y1="84.76" x2="310.20" y2="84.76" stroke="#1B9E77" stroke-width="0.6"/>
<rect x="286.0" y="83.56" width="20.0" height="2.4" fill="#1B9E77" fill-opacity="0.35" stroke="#1B9E77" stroke-width="0.6"/>
<circle cx="300.0" cy="84.76" r="0.9" fill="#1B9E77"/>
<path d="M272.2,97.88 L280.0,94.68 L290.0,93.18 L298.0,92.58 L308.0,94.18 L315.0,97.68 L315.0,98.68 L308.0,102.18 L298.0,103.78 L290.0,103.18 L280.0,101.68 L272.2,98.48Z" fill="none" stroke="#E6AB02" stroke-width="0.8" stroke-linejoin="round"/>
<line x1="272.20" y1="98.18" x2="315.00" y2="98.18" stroke="#E6AB02" stroke-width="0.6"/>
<rect x="286.0" y="96.98" width="16.0" height="2.4" fill="#E6AB02" fill-opacity="0.35" stroke="#E6AB02" stroke-width="0.6"/>
<circle cx="295.0" cy="98.18" r="0.9" fill="#E6AB02"/>
<path d="M272.2,109.10 L285.0,108.60 L288.0,107.60 L315.0,107.60 L315.5,109.60 L315.5,113.60 L315.0,115.60 L288.0,115.60 L285.0,114.60 L272.2,114.10Z" fill="none" stroke="#E6AB02" stroke-width="0.8" stroke-linejoin="round"/>
<line x1="272.20" y1="111.60" x2="315.50" y2="111.60" stroke="#E6AB02" stroke-width="0.6"/>
<rect x="288.0" y="110.40" width="25.0" height="2.4" fill="#E6AB02" fill-opacity="0.35" stroke="#E6AB02" stroke-width="0.6"/>
<circle cx="305.0" cy="111.60" r="0.9" fill="#E6AB02"/>
<path d="M272.4,124.82 L282.0,122.52 L295.0,121.02 L305.0,120.02 L318.0,120.52 L320.9,123.02 L320.9,127.02 L318.0,129.52 L305.0,130.02 L295.0,129.02 L282.0,127.52 L272.4,125.22Z" fill="none" stroke="#66A61E" stroke-width="0.8" stroke-linejoin="round"/>
<line x1="272.40" y1="125.02" x2="320.90" y2="125.02" stroke="#66A61E" stroke-width="0.6"/>
<rect x="292.0" y="123.82" width="21.0" height="2.4" fill="#66A61E" fill-opacity="0.35" stroke="#66A61E" stroke-width="0.6"/>
<circle cx="302.0" cy="125.02" r="0.9" fill="#66A61E"/>
<path d="M273.2,135.84 L285.0,135.64 L290.0,135.04 L317.6,135.04 L317.6,141.84 L290.0,141.84 L285.0,141.24 L273.2,141.04Z" fill="none" stroke="#66A61E" stroke-width="0.8" stroke-linejoin="round"/>
<line x1="273.20" y1="138.44" x2="317.60" y2="138.44" stroke="#66A61E" stroke-width="0.6"/>
<rect x="285.0" y="137.24" width="21.0" height="2.4" fill="#66A61E" fill-opacity="0.35" stroke="#66A61E" stroke-width="0.6"/>
<circle cx="296.0" cy="138.44" r="0.9" fill="#66A61E"/>
<path d="M278.0,149.86 L283.0,147.86 L295.0,147.36 L303.0,148.06 L315.0,147.36 L320.5,149.86 L320.5,153.86 L315.0,156.36 L303.0,155.66 L295.0,156.36 L283.0,155.86 L278.0,153.86Z" fill="none" stroke="#E7298A" stroke-width="0.8" stroke-linejoin="round"/>
<line x1="278.00" y1="151.86" x2="320.50" y2="151.86" stroke="#E7298A" stroke-width="0.6"/>
<rect x="289.0" y="150.66" width="21.0" height="2.4" fill="#E7298A" fill-opacity="0.35" stroke="#E7298A" stroke-width="0.6"/>
<circle cx="300.0" cy="151.86" r="0.9" fill="#E7298A"/>
<path d="M273.2,162.78 L288.0,162.68 L292.0,161.88 L314.7,161.88 L314.7,168.68 L292.0,168.68 L288.0,167.88 L273.2,167.78Z" fill="none" stroke="#E7298A" stroke-width="0.8" stroke-linejoin="round"/>
<line x1="273.20" y1="165.28" x2="314.70" y2="165.28" stroke="#E7298A" stroke-width="0.6"/>
<rect x="286.0" y="164.08" width="23.0" height="2.4" fill="#E7298A" fill-opacity="0.35" stroke="#E7298A" stroke-width="0.6"/>
<circle cx="300.0" cy="165.28" r="0.9" fill="#E7298A"/>
<path d="M273.7,177.20 L280.0,174.70 L292.0,173.90 L305.0,174.20 L314.0,175.70 L316.3,177.70 L316.3,179.70 L314.0,181.70 L305.0,183.20 L292.0,183.50 L280.0,182.70 L273.7,180.20Z" fill="none" stroke="#D95F02" stroke-width="0.8" stroke-linejoin="round"/>
<line x1="273.70" y1="178.70" x2="316.30" y2="178.70" stroke="#D95F02" stroke-width="0.6"/>
<rect x="285.0" y="177.50" width="20.0" height="2.4" fill="#D95F02" fill-opacity="0.35" stroke="#D95F02" stroke-width="0.6"/>
<circle cx="295.0" cy="178.70" r="0.9" fill="#D95F02"/>
<path d="M271.6,190.12 L285.0,189.62 L292.0,188.32 L305.0,188.12 L313.1,190.12 L313.1,194.12 L305.0,196.12 L292.0,195.92 L285.0,194.62 L271.6,194.12Z" fill="none" stroke="#D95F02" stroke-width="0.8" stroke-linejoin="round"/>
<line x1="271.60" y1="192.12" x2="313.10" y2="192.12" stroke="#D95F02" stroke-width="0.6"/>
<rect x="288.0" y="190.92" width="20.0" height="2.4" fill="#D95F02" fill-opacity="0.35" stroke="#D95F02" stroke-width="0.6"/>
<circle cx="300.0" cy="192.12" r="0.9" fill="#D95F02"/>
<rect x="88.90" y="36.50" width="72.30" height="163.90" fill="none" stroke="#333333" stroke-width="1"/>
<line x1="86.30" y1="44.50" x2="88.90" y2="44.50" stroke="#333333" stroke-width="0.9"/>
<line x1="86.30" y1="57.92" x2="88.90" y2="57.92" stroke="#333333" stroke-width="0.9"/>
<line x1="86.30" y1="71.34" x2="88.90" y2="71.34" stroke="#333333" stroke-width="0.9"/>
<line x1="86.30" y1="84.76" x2="88.90" y2="84.76" stroke="#333333" stroke-width="0.9"/>
<line x1="86.30" y1="98.18" x2="88.90" y2="98.18" stroke="#333333" stroke-width="0.9"/>
<line x1="86.30" y1="111.60" x2="88.90" y2="111.60" stroke="#333333" stroke-width="0.9"/>
<line x1="86.30" y1="125.02" x2="88.90" y2="125.02" stroke="#333333" stroke-width="0.9"/>
<line x1="86.30" y1="138.44" x2="88.90" y2="138.44" stroke="#333333" stroke-width="0.9"/>
<line x1="86.30" y1="151.86" x2="88.90" y2="151.86" stroke="#333333" stroke-width="0.9"/>
<line x1="86.30" y1="165.28" x2="88.90" y2="165.28" stroke="#333333" stroke-width="0.9"/>
<line x1="86.30" y1="178.70" x2="88.90" y2="178.70" stroke="#333333" stroke-width="0.9"/>
<line x1="86.30" y1="192.12" x2="88.90" y2="192.12" stroke="#333333" stroke-width="0.9"/>
<line x1="92.19" y1="200.40" x2="92.19" y2="203.00" stroke="#333333" stroke-width="0.9"/>
<text x="92.19" y="212.60" font-size="10" font-weight="400" fill="#4D4D4D" text-anchor="middle">.00</text>
<line x1="108.62" y1="200.40" x2="108.62" y2="203.00" stroke="#333333" stroke-width="0.9"/>
<text x="108.62" y="212.60" font-size="10" font-weight="400" fill="#4D4D4D" text-anchor="middle">.25</text>
<line x1="125.05" y1="200.40" x2="125.05" y2="203.00" stroke="#333333" stroke-width="0.9"/>
<text x="125.05" y="212.60" font-size="10" font-weight="400" fill="#4D4D4D" text-anchor="middle">.50</text>
<line x1="141.48" y1="200.40" x2="141.48" y2="203.00" stroke="#333333" stroke-width="0.9"/>
<text x="141.48" y="212.60" font-size="10" font-weight="400" fill="#4D4D4D" text-anchor="middle">.75</text>
<line x1="157.91" y1="200.40" x2="157.91" y2="203.00" stroke="#333333" stroke-width="0.9"/>
<text x="157.91" y="212.60" font-size="10" font-weight="400" fill="#4D4D4D" text-anchor="middle">1.0</text>
<text x="125.35" y="222.00" font-size="9.8" font-weight="700" fill="#000" text-anchor="middle" textLength="65.5" lengthAdjust="spacingAndGlyphs">Global Avg. β</text>
<rect x="171.40" y="36.50" width="72.00" height="163.90" fill="none" stroke="#333333" stroke-width="1"/>
<line x1="168.80" y1="44.50" x2="171.40" y2="44.50" stroke="#333333" stroke-width="0.9"/>
<line x1="168.80" y1="57.92" x2="171.40" y2="57.92" stroke="#333333" stroke-width="0.9"/>
<line x1="168.80" y1="71.34" x2="171.40" y2="71.34" stroke="#333333" stroke-width="0.9"/>
<line x1="168.80" y1="84.76" x2="171.40" y2="84.76" stroke="#333333" stroke-width="0.9"/>
<line x1="168.80" y1="98.18" x2="171.40" y2="98.18" stroke="#333333" stroke-width="0.9"/>
<line x1="168.80" y1="111.60" x2="171.40" y2="111.60" stroke="#333333" stroke-width="0.9"/>
<line x1="168.80" y1="125.02" x2="171.40" y2="125.02" stroke="#333333" stroke-width="0.9"/>
<line x1="168.80" y1="138.44" x2="171.40" y2="138.44" stroke="#333333" stroke-width="0.9"/>
<line x1="168.80" y1="151.86" x2="171.40" y2="151.86" stroke="#333333" stroke-width="0.9"/>
<line x1="168.80" y1="165.28" x2="171.40" y2="165.28" stroke="#333333" stroke-width="0.9"/>
<line x1="168.80" y1="178.70" x2="171.40" y2="178.70" stroke="#333333" stroke-width="0.9"/>
<line x1="168.80" y1="192.12" x2="171.40" y2="192.12" stroke="#333333" stroke-width="0.9"/>
<line x1="174.67" y1="200.40" x2="174.67" y2="203.00" stroke="#333333" stroke-width="0.9"/>
<text x="174.67" y="212.60" font-size="10" font-weight="400" fill="#4D4D4D" text-anchor="middle">.00</text>
<line x1="191.04" y1="200.40" x2="191.04" y2="203.00" stroke="#333333" stroke-width="0.9"/>
<text x="191.04" y="212.60" font-size="10" font-weight="400" fill="#4D4D4D" text-anchor="middle">.25</text>
<line x1="207.40" y1="200.40" x2="207.40" y2="203.00" stroke="#333333" stroke-width="0.9"/>
<text x="207.40" y="212.60" font-size="10" font-weight="400" fill="#4D4D4D" text-anchor="middle">.50</text>
<line x1="223.76" y1="200.40" x2="223.76" y2="203.00" stroke="#333333" stroke-width="0.9"/>
<text x="223.76" y="212.60" font-size="10" font-weight="400" fill="#4D4D4D" text-anchor="middle">.75</text>
<line x1="240.13" y1="200.40" x2="240.13" y2="203.00" stroke="#333333" stroke-width="0.9"/>
<text x="240.13" y="212.60" font-size="10" font-weight="400" fill="#4D4D4D" text-anchor="middle">1.0</text>
<text x="207.70" y="222.00" font-size="9.8" font-weight="700" fill="#000" text-anchor="middle" textLength="53.3" lengthAdjust="spacingAndGlyphs">RFS Avg. β</text>
<rect x="253.80" y="36.50" width="72.60" height="163.90" fill="none" stroke="#333333" stroke-width="1"/>
<line x1="251.20" y1="44.50" x2="253.80" y2="44.50" stroke="#333333" stroke-width="0.9"/>
<line x1="251.20" y1="57.92" x2="253.80" y2="57.92" stroke="#333333" stroke-width="0.9"/>
<line x1="251.20" y1="71.34" x2="253.80" y2="71.34" stroke="#333333" stroke-width="0.9"/>
<line x1="251.20" y1="84.76" x2="253.80" y2="84.76" stroke="#333333" stroke-width="0.9"/>
<line x1="251.20" y1="98.18" x2="253.80" y2="98.18" stroke="#333333" stroke-width="0.9"/>
<line x1="251.20" y1="111.60" x2="253.80" y2="111.60" stroke="#333333" stroke-width="0.9"/>
<line x1="251.20" y1="125.02" x2="253.80" y2="125.02" stroke="#333333" stroke-width="0.9"/>
<line x1="251.20" y1="138.44" x2="253.80" y2="138.44" stroke="#333333" stroke-width="0.9"/>
<line x1="251.20" y1="151.86" x2="253.80" y2="151.86" stroke="#333333" stroke-width="0.9"/>
<line x1="251.20" y1="165.28" x2="253.80" y2="165.28" stroke="#333333" stroke-width="0.9"/>
<line x1="251.20" y1="178.70" x2="253.80" y2="178.70" stroke="#333333" stroke-width="0.9"/>
<line x1="251.20" y1="192.12" x2="253.80" y2="192.12" stroke="#333333" stroke-width="0.9"/>
<line x1="257.10" y1="200.40" x2="257.10" y2="203.00" stroke="#333333" stroke-width="0.9"/>
<text x="257.10" y="212.60" font-size="10" font-weight="400" fill="#4D4D4D" text-anchor="middle">.00</text>
<line x1="273.60" y1="200.40" x2="273.60" y2="203.00" stroke="#333333" stroke-width="0.9"/>
<text x="273.60" y="212.60" font-size="10" font-weight="400" fill="#4D4D4D" text-anchor="middle">.25</text>
<line x1="290.10" y1="200.40" x2="290.10" y2="203.00" stroke="#333333" stroke-width="0.9"/>
<text x="290.10" y="212.60" font-size="10" font-weight="400" fill="#4D4D4D" text-anchor="middle">.50</text>
<line x1="306.60" y1="200.40" x2="306.60" y2="203.00" stroke="#333333" stroke-width="0.9"/>
<text x="306.60" y="212.60" font-size="10" font-weight="400" fill="#4D4D4D" text-anchor="middle">.75</text>
<line x1="323.10" y1="200.40" x2="323.10" y2="203.00" stroke="#333333" stroke-width="0.9"/>
<text x="323.10" y="212.60" font-size="10" font-weight="400" fill="#4D4D4D" text-anchor="middle">1.0</text>
<text x="290.40" y="222.00" font-size="9.8" font-weight="700" fill="#000" text-anchor="middle" textLength="48.6" lengthAdjust="spacingAndGlyphs">CR Avg. β</text>
<text x="84.00" y="47.60" font-size="8.8" font-weight="400" fill="#4D4D4D" text-anchor="end">TARGET_Global</text>
<text x="84.00" y="61.02" font-size="8.8" font-weight="400" fill="#4D4D4D" text-anchor="end">GDSC_Global</text>
<text x="84.00" y="74.44" font-size="8.8" font-weight="400" fill="#4D4D4D" text-anchor="end">TARGET_CGI</text>
<text x="84.00" y="87.86" font-size="8.8" font-weight="400" fill="#4D4D4D" text-anchor="end">GDSC_CGI</text>
<text x="84.00" y="101.28" font-size="8.8" font-weight="400" fill="#4D4D4D" text-anchor="end">TARGET_Shore</text>
<text x="84.00" y="114.70" font-size="8.8" font-weight="400" fill="#4D4D4D" text-anchor="end">GDSC_Shore</text>
<text x="84.00" y="128.12" font-size="8.8" font-weight="400" fill="#4D4D4D" text-anchor="end">TARGET_Shelf</text>
<text x="84.00" y="141.54" font-size="8.8" font-weight="400" fill="#4D4D4D" text-anchor="end">GDSC_Shelf</text>
<text x="84.00" y="154.96" font-size="8.8" font-weight="400" fill="#4D4D4D" text-anchor="end">TARGET_Sea</text>
<text x="84.00" y="168.38" font-size="8.8" font-weight="400" fill="#4D4D4D" text-anchor="end">GDSC_Sea</text>
<text x="84.00" y="181.80" font-size="8.8" font-weight="400" fill="#4D4D4D" text-anchor="end">TARGET_Enhancer</text>
<text x="84.00" y="195.22" font-size="8.8" font-weight="400" fill="#4D4D4D" text-anchor="end">GDSC_Enhancer</text>
<text x="8.00" y="116.80" font-size="10" font-weight="700" fill="#000" text-anchor="middle" transform="rotate(-90 8.00 116.80)">Profile</text>
<rect x="404.80" y="0.00" width="90.50" height="33.60" fill="#FFC8C9"/>
<rect x="495.30" y="0.00" width="108.00" height="33.60" fill="#DDEAFA"/>
<line x1="429.50" y1="0.60" x2="525.90" y2="0.60" stroke="#8a8a8a" stroke-width="0.9"/>
<path d="M429.5,0.6V10.9M412.3,10.9H446.7M412.3,10.9V33.6M446.7,10.9V14.1M430.6,14.1H462.4M430.6,14.1V33.6M462.4,14.1V20.4M448.3,20.4H475.3M448.3,20.4V33.6M475.3,20.4V26.5M466.7,26.5H484.4M466.7,26.5V33.6M484.4,26.5V33.6M525.9,0.6V3.9M502.3,3.9H550.0M502.3,3.9V33.6M550.0,3.9V9.1M529.4,9.1H570.6M529.4,9.1V18.4M520.6,18.4H538.5M520.6,18.4V33.6M538.5,18.4V33.6M570.6,9.1V17.5M556.5,17.5H583.3M556.5,17.5V33.6M583.3,17.5V26.8M574.6,26.8H593.0M574.6,26.8V33.6M593.0,26.8V33.6" fill="none" stroke="#5a5a5a" stroke-width="0.9"/>
<rect x="92.90" y="258.40" width="73.50" height="30.50" fill="#DDEAFA"/>
<rect x="166.40" y="258.40" width="128.90" height="30.50" fill="#FFC8C9"/>
<path d="M118.3,259.1H227.5M118.3,259.1V264.5M102.5,264.5H135.4M102.5,264.5V288.9M135.4,264.5V268.0M121.4,268.0H148.6M121.4,268.0V288.9M148.6,268.0V271.4M139.6,271.4H158.2M139.6,271.4V288.9M158.2,271.4V288.9M227.5,259.1V260.0M192.3,260.0H263.3M192.3,260.0V267.4M175.3,267.4H208.0M175.3,267.4V288.9M208.0,267.4V273.5M194.4,273.5H221.8M194.4,273.5V288.9M221.8,273.5V281.7M212.6,281.7H231.2M212.6,281.7V288.9M231.2,281.7V288.9M263.3,260.0V263.3M249.6,263.3H276.6M249.6,263.3V288.9M276.6,263.3V267.8M267.4,267.8H286.8M267.4,267.8V288.9M286.8,267.8V288.9" fill="none" stroke="#5a5a5a" stroke-width="0.9"/>
<rect x="404.20" y="258.40" width="92.10" height="30.50" fill="#FFC8C9"/>
<rect x="496.30" y="258.40" width="110.50" height="30.50" fill="#DDEAFA"/>
<path d="M430.5,258.8H563.6M430.5,258.8V262.4M413.3,262.4H447.7M413.3,262.4V288.9M447.7,262.4V274.4M432.1,274.4H463.7M432.1,274.4V288.9M463.7,274.4V282.4M449.8,282.4H477.5M449.8,282.4V288.9M477.5,282.4V283.2M468.5,283.2H486.7M468.5,283.2V288.9M486.7,283.2V288.9M505.8,258.8V288.9M563.6,258.8V261.9M537.3,261.9H588.6M537.3,261.9V268.4M523.8,268.4H551.6M523.8,268.4V288.9M551.6,268.4V273.3M542.5,273.3H561.3M542.5,273.3V288.9M561.3,273.3V288.9M588.6,261.9V268.0M579.3,268.0H597.7M579.3,268.0V288.9M597.7,268.0V288.9" fill="none" stroke="#5a5a5a" stroke-width="0.9"/>
<path d="M374.0,33.5 L353.5,33.5 L352.8,36.0 L354.0,40.0 L353.0,44.0 L355.0,48.2 L369.0,48.6 L371.5,52.0 L368.0,60.0 L366.0,70.0 L364.5,80.0 L363.5,90.0 L362.5,100.0 L363.0,110.0 L362.0,120.0 L363.5,130.0 L362.5,140.0 L361.5,150.0 L362.5,160.0 L361.0,170.0 L362.0,180.0 L360.5,190.0 L361.5,200.0 L360.0,210.0 L360.5,220.6 L374.0,220.6Z" fill="#000"/>
<path d="M374.0,35.0h-2.6v0.4h2.6M374.0,34.6h-3.7v0.5h1.0M374.0,34.3h-5.4v0.6h1.8M374.0,35.7h-9.0v0.4h9.0M368.6,34.6h-4.0v1.3h0.4M374.0,37.1h-6.3v0.4h6.3M374.0,36.8h-7.1v0.5h0.8M374.0,36.4h-9.9v0.6h2.8M374.0,37.8h-0.8v0.4h0.8M374.0,38.6h-2.4v0.4h2.4M373.2,38.0h-3.2v0.7h1.6M374.0,39.6h-1.0v0.4h1.0M374.0,39.3h-4.3v0.5h3.3M370.0,38.4h-2.0v1.2h1.7M374.0,41.1h-0.1v0.4h0.1M374.0,40.7h-0.6v0.5h0.5M374.0,40.4h-4.5v0.6h3.9M374.0,42.1h-1.9v0.4h1.9M374.0,41.8h-6.0v0.5h4.2M369.5,40.7h-2.4v1.4h0.8M374.0,43.2h-3.2v0.4h3.2M374.0,42.9h-7.4v0.5h4.1M367.1,41.4h-1.6v1.8h1.1M368.0,39.0h-2.6v3.3h0.1M374.0,43.9h-3.9v0.4h3.9M374.0,45.4h-1.6v0.4h1.6M374.0,45.0h-4.4v0.5h2.7M374.0,44.7h-5.1v0.6h0.7M370.1,44.1h-3.2v0.9h2.0M374.0,46.4h-1.2v0.4h1.2M374.0,46.1h-2.5v0.5h1.3M374.0,47.5h-3.2v0.4h3.2M374.0,47.2h-5.9v0.5h2.7M371.5,46.4h-4.9v1.1h1.5M366.9,44.5h-2.4v2.4h2.1M365.4,40.6h-1.6v5.1h0.7M364.1,36.7h-0.5v6.4h0.2M364.6,35.2h-1.9v4.7h0.9M374.0,33.9h-16.4v3.7h5.1M374.0,49.0h-0.3v0.4h0.3M374.0,48.6h-10.2v0.5h9.9M374.0,49.7h-5.6v0.4h5.6M374.0,50.7h-3.2v0.4h3.2M374.0,50.4h-6.6v0.5h3.4M374.0,51.5h-5.4v0.4h5.4M374.0,52.5h-5.0v0.4h5.0M374.0,52.2h-7.2v0.5h2.2M368.6,51.6h-2.6v0.8h0.8M367.4,50.7h-2.3v1.4h0.9M368.4,49.8h-4.8v1.5h1.5M363.8,48.9h-0.8v1.7h0.5M374.0,54.0h-1.8v0.4h1.8M374.0,53.6h-3.8v0.5h2.0M374.0,53.3h-9.7v0.6h5.8M374.0,54.7h-2.9v0.4h2.9M374.0,55.8h-2.2v0.4h2.2M374.0,55.4h-6.8v0.5h4.5M371.1,54.9h-6.8v0.8h2.9M364.3,53.6h-1.5v1.7h1.4M363.0,49.7h-0.6v4.7h0.4M374.0,48.2h-17.5v3.8h5.9M374.0,56.8h-5.0v0.4h5.0M374.0,58.3h-4.8v0.4h4.8M374.0,57.9h-5.2v0.5h0.4M374.0,57.6h-8.7v0.6h3.5M374.0,59.3h-2.3v0.4h2.3M374.0,59.0h-2.8v0.5h0.5M374.0,60.4h-7.7v0.4h7.7M374.0,60.1h-8.7v0.5h0.9M371.2,59.3h-6.3v1.1h0.5M365.3,57.9h-1.1v1.9h0.7M369.0,57.0h-5.7v1.8h0.9M374.0,61.1h-10.2v0.4h10.2M374.0,62.6h-2.9v0.4h2.9M374.0,63.6h-1.3v0.4h1.3M374.0,63.3h-3.4v0.5h2.1M371.1,62.7h-4.8v0.8h4.3M374.0,62.2h-9.4v0.9h1.6M374.0,61.9h-10.6v0.8h1.3M363.8,61.3h-1.2v1.0h0.8M363.3,57.9h-1.0v3.9h0.3M374.0,56.5h-14.8v3.4h3.0M374.0,65.1h-3.3v0.4h3.3M374.0,64.7h-9.5v0.5h6.1M374.0,66.2h-7.0v0.4h7.0M374.0,67.2h-0.9v0.4h0.9M374.0,66.9h-4.1v0.5h3.2M374.0,68.3h-4.6v0.4h4.6M374.0,67.9h-5.4v0.5h0.8M369.9,67.1h-5.0v1.1h3.8M374.0,69.7h-0.5v0.4h0.5M374.0,69.4h-3.5v0.5h3.0M374.0,70.5h-1.5v0.4h1.5M374.0,71.5h-2.6v0.4h2.6M374.0,71.2h-4.3v0.5h1.7M372.5,70.6h-4.5v0.8h1.7M370.5,69.6h-3.6v1.4h1.1M374.0,72.2h-2.8v0.4h2.8M374.0,73.3h-1.2v0.4h1.2M374.0,74.0h-1.5v0.4h1.5M372.8,73.5h-2.5v0.7h2.2M374.0,73.0h-5.1v0.9h1.4M371.2,72.4h-3.3v1.0h1.0M374.0,75.1h-1.3v0.4h1.3M374.0,74.8h-3.7v0.5h2.4M374.0,75.8h-3.7v0.4h3.7M370.3,75.0h-3.6v1.0h3.5M367.9,72.9h-1.9v2.6h0.7M366.9,70.3h-2.0v3.9h1.1M374.0,69.0h-9.5v3.3h0.4M364.8,67.7h-0.9v3.0h0.5M367.0,66.3h-3.4v2.8h0.3M374.0,65.8h-11.1v2.0h0.7M364.5,65.0h-1.8v1.8h0.2M374.0,64.4h-12.5v1.5h1.3M374.0,76.5h-8.3v0.4h8.3M374.0,77.6h-4.0v0.4h4.0M374.0,77.3h-9.0v0.5h4.9M365.7,76.7h-3.1v0.8h2.4M374.0,78.3h-2.1v0.4h2.1M374.0,79.8h-1.9v0.4h1.9M374.0,79.4h-3.0v0.5h1.1M374.0,79.1h-7.0v0.6h4.0M371.9,78.5h-6.5v0.9h1.6M374.0,81.2h-1.9v0.4h1.9M374.0,80.8h-7.6v0.5h5.7M374.0,80.5h-8.1v0.6h0.5M374.0,81.9h-3.6v0.4h3.6M374.0,83.0h-3.4v0.4h3.4M374.0,82.6h-6.4v0.5h3.0M370.4,82.1h-3.7v0.8h0.9M374.0,84.1h-1.9v0.4h1.9M374.0,84.8h-0.7v0.4h0.7M374.0,85.5h-3.0v0.4h3.0M373.3,85.0h-3.3v0.7h1.1M372.1,84.3h-4.3v1.1h2.1M374.0,83.7h-8.4v1.1h2.2M366.7,82.5h-2.0v1.7h0.9M365.9,80.8h-1.5v2.6h0.3M365.4,78.9h-1.9v3.1h1.0M374.0,86.9h-1.1v0.4h1.1M374.0,86.6h-5.3v0.5h4.2M374.0,86.2h-9.0v0.6h3.7M374.0,88.4h-1.7v0.4h1.7M374.0,88.0h-3.9v0.5h2.2M374.0,89.8h-0.8v0.4h0.8M374.0,89.4h-3.3v0.5h2.6M374.0,89.1h-4.2v0.6h0.8M370.1,88.3h-2.8v1.1h2.6M374.0,90.5h-6.3v0.4h6.3M374.0,91.6h-0.0v0.4h0.0M374.0,92.3h-1.1v0.4h1.1M374.0,91.8h-2.4v0.7h1.3M374.0,91.2h-2.9v0.9h0.5M374.0,93.0h-1.4v0.4h1.4M374.0,93.7h-1.5v0.4h1.5M374.0,94.8h-0.5v0.4h0.5M374.0,94.5h-3.1v0.5h2.6M372.5,93.9h-2.8v0.8h1.2M372.6,93.2h-4.3v1.1h1.5M371.1,91.7h-4.1v2.1h1.3M367.7,90.7h-2.6v2.0h1.9M367.3,88.8h-2.8v2.9h0.6M374.0,87.7h-10.5v2.6h0.9M365.0,86.5h-1.8v2.4h0.3M363.4,80.5h-0.8v7.2h0.6M362.6,77.1h-3.6v7.0h3.6M361.5,65.1h-3.0v15.5h0.5M374.0,95.5h-8.0v0.4h8.0M374.0,96.3h-1.8v0.4h1.8M374.0,97.0h-0.6v0.4h0.6M374.0,97.7h-2.5v0.4h2.5M374.0,98.4h-0.4v0.4h0.4M374.0,99.1h-2.4v0.4h2.4M373.6,98.6h-3.3v0.7h1.2M371.5,97.9h-2.2v1.1h1.1M373.4,97.2h-7.3v1.3h3.2M374.0,100.2h-5.3v0.4h5.3M374.0,99.8h-8.4v0.5h3.1M366.1,97.8h-0.8v2.3h0.3M374.0,101.3h-6.5v0.4h6.5M374.0,100.9h-8.8v0.5h2.4M365.3,98.9h-1.3v2.2h1.2M372.2,96.4h-8.5v3.6h0.3M366.0,95.7h-2.7v2.5h0.5M374.0,102.0h-3.1v0.4h3.1M374.0,102.7h-8.2v0.4h8.2M374.0,104.1h-0.7v0.4h0.7M374.0,103.8h-3.9v0.5h3.2M374.0,103.4h-6.8v0.6h2.9M374.0,105.2h-3.2v0.4h3.2M374.0,105.9h-4.7v0.4h4.7M370.8,105.4h-3.0v0.7h1.5M374.0,104.9h-7.5v0.9h1.4M367.2,103.7h-1.7v1.6h1.0M365.8,102.9h-1.6v1.6h1.3M374.0,107.0h-0.7v0.4h0.7M374.0,106.7h-7.8v0.5h7.2M374.0,108.4h-0.4v0.4h0.4M374.0,108.1h-4.1v0.5h3.7M374.0,107.7h-5.5v0.6h1.4M374.0,109.2h-8.4v0.4h8.4M368.5,108.0h-3.7v1.3h0.9M366.2,106.9h-1.8v1.8h0.4M374.0,109.9h-1.6v0.4h1.6M374.0,110.6h-1.7v0.4h1.7M372.4,110.1h-4.7v0.7h4.6M374.0,111.7h-6.2v0.4h6.2M374.0,113.1h-2.6v0.4h2.6M374.0,112.7h-4.9v0.5h2.3M374.0,112.4h-6.9v0.6h2.0M367.8,111.8h-2.0v0.9h1.4M374.0,111.3h-9.3v1.0h1.1M367.7,110.4h-4.7v1.4h1.6M364.4,107.8h-1.3v3.3h0.0M364.2,103.7h-1.5v5.7h0.3M370.9,102.2h-10.1v4.4h1.9M374.0,114.2h-4.6v0.4h4.6M374.0,114.9h-0.4v0.4h0.4M374.0,115.6h-3.1v0.4h3.1M373.6,115.1h-5.6v0.7h2.9M369.4,114.4h-2.6v1.1h1.3M374.0,116.7h-3.9v0.4h3.9M374.0,116.3h-7.9v0.5h4.0M366.7,114.9h-1.5v1.7h0.8M374.0,117.4h-5.9v0.4h5.9M374.0,118.5h-5.0v0.4h5.0M374.0,118.1h-6.4v0.5h1.4M368.1,117.6h-3.9v0.8h3.4M374.0,119.9h-6.6v0.4h6.6M374.0,119.6h-7.8v0.5h1.2M374.0,120.6h-2.2v0.4h2.2M374.0,121.7h-0.1v0.4h0.1M374.0,121.3h-2.7v0.5h2.6M371.8,120.8h-2.1v0.8h1.5M374.0,122.8h-3.3v0.4h3.3M374.0,122.4h-6.2v0.5h2.9M369.8,121.2h-3.9v1.5h1.9M366.2,119.8h-2.3v2.1h2.0M374.0,119.2h-10.5v1.7h0.5M364.2,118.0h-1.4v2.1h0.6M365.2,115.7h-2.6v3.3h0.2M374.0,113.8h-13.4v3.6h2.0M360.8,104.4h-3.7v11.2h3.4M363.3,97.0h-7.0v13.0h0.9M358.6,72.9h-3.5v30.6h1.2M359.2,58.2h-4.7v30.0h0.5M356.5,50.2h-3.0v23.0h1.0M374.0,125.3h-3.5v0.4h3.5M374.0,124.9h-4.8v0.5h1.3M374.0,126.0h-3.4v0.4h3.4M374.0,127.1h-0.6v0.4h0.6M374.0,126.7h-4.4v0.5h3.8M370.6,126.2h-2.6v0.8h1.6M369.2,125.2h-3.2v1.4h1.9M374.0,127.8h-5.8v0.4h5.8M374.0,128.5h-0.0v0.4h0.0M374.0,129.2h-0.9v0.4h0.9M374.0,128.7h-7.3v0.7h6.4M368.2,128.0h-3.6v1.1h2.1M366.0,125.9h-2.3v2.6h0.9M374.0,130.3h-3.3v0.4h3.3M374.0,129.9h-8.9v0.5h5.6M374.0,131.4h-1.3v0.4h1.3M374.0,131.0h-4.2v0.5h2.8M374.0,132.1h-5.3v0.4h5.3M369.8,131.3h-4.1v1.0h2.9M374.0,132.8h-5.5v0.4h5.5M374.0,133.9h-0.8v0.4h0.8M374.0,134.6h-1.0v0.4h1.0M373.2,134.1h-2.1v0.7h1.9M374.0,133.5h-5.3v0.9h2.3M374.0,135.7h-0.2v0.4h0.2M374.0,136.8h0.0v0.4h0.0M374.0,136.4h-1.4v0.5h1.4M373.8,135.9h-1.9v0.8h0.6M374.0,137.5h-0.1v0.4h0.1M374.0,138.2h-1.8v0.4h1.8M373.9,137.7h-3.5v0.7h1.8M371.9,136.3h-3.7v1.7h2.2M374.0,135.3h-6.8v1.8h1.0M368.7,134.0h-2.4v2.3h0.8M368.5,133.0h-3.8v2.1h1.7M365.7,131.8h-1.5v2.3h0.5M365.1,130.2h-1.6v2.7h0.7M363.7,127.2h-0.4v4.4h0.2M374.0,124.6h-11.1v4.8h0.4M374.0,124.2h-12.2v2.8h1.2M374.0,123.9h-12.9v1.7h0.7M374.0,123.5h-13.6v1.2h0.7M374.0,140.0h-2.0v0.4h2.0M374.0,139.6h-4.3v0.5h2.3M374.0,141.8h-1.0v0.4h1.0M374.0,141.4h-4.4v0.5h3.4M374.0,141.1h-5.6v0.6h1.3M374.0,140.7h-6.6v0.7h1.0M369.7,139.9h-3.1v1.1h0.7M374.0,142.8h-0.8v0.4h0.8M374.0,143.6h-0.9v0.4h0.9M373.2,143.0h-4.6v0.7h4.6M374.0,145.0h-1.2v0.4h1.2M374.0,144.6h-4.4v0.5h3.3M374.0,144.3h-5.6v0.6h1.1M368.6,143.4h-2.6v1.2h2.5M374.0,142.5h-8.8v1.5h0.7M366.6,140.5h-2.6v2.8h1.2M374.0,139.3h-10.8v2.6h0.8M374.0,138.9h-11.2v1.7h0.4M374.0,146.8h-1.1v0.4h1.1M374.0,146.4h-3.5v0.5h2.4M374.0,146.1h-5.3v0.6h1.7M374.0,145.7h-8.2v0.7h3.0M374.0,148.2h-4.5v0.4h4.5M374.0,147.9h-7.5v0.5h3.0M374.0,147.5h-10.1v0.6h2.6M365.8,146.1h-2.6v1.8h0.7M374.0,148.9h-6.9v0.4h6.9M374.0,150.0h-0.2v0.4h0.2M374.0,149.7h-1.4v0.5h1.2M374.0,151.1h-0.4v0.4h0.4M374.0,150.7h-4.7v0.5h4.3M372.6,149.9h-4.5v1.1h1.1M374.0,152.2h-2.1v0.4h2.1M374.0,151.8h-6.5v0.5h4.4M368.2,150.5h-2.1v1.6h1.4M367.1,149.1h-2.6v2.2h1.6M374.0,153.6h-2.7v0.4h2.7M374.0,153.2h-5.1v0.5h2.4M374.0,152.9h-9.1v0.6h4.0M374.0,155.0h-0.3v0.4h0.3M374.0,156.1h-5.2v0.4h5.2M374.0,155.7h-7.0v0.5h1.8M373.7,155.2h-7.3v0.8h0.5M374.0,154.7h-9.2v0.9h1.7M374.0,154.3h-10.3v0.8h1.1M364.9,153.2h-1.8v1.5h0.6M364.5,150.2h-1.7v3.8h0.2M363.2,146.9h-0.5v5.1h0.2M362.8,139.7h-4.7v9.8h4.6M374.0,157.9h-5.9v0.4h5.9M374.0,159.3h-0.3v0.4h0.3M374.0,159.0h-0.5v0.5h0.3M374.0,158.6h-5.7v0.6h5.2M374.0,160.4h-0.3v0.4h0.3M374.0,160.1h-6.4v0.5h6.1M368.3,158.9h-1.0v1.4h0.3M368.1,158.1h-3.7v1.5h2.9M374.0,161.1h-2.0v0.4h2.0M374.0,161.8h-2.0v0.4h2.0M372.0,161.3h-5.8v0.7h5.8M374.0,162.6h-8.6v0.4h8.6M366.2,161.7h-2.3v1.1h1.5M364.4,158.9h-0.6v3.3h0.0M374.0,163.3h-4.7v0.4h4.7M374.0,164.0h-7.2v0.4h7.2M369.3,163.5h-4.5v0.7h2.0M374.0,165.8h-1.8v0.4h1.8M374.0,165.4h-3.4v0.5h1.6M374.0,165.1h-4.5v0.6h1.1M374.0,164.7h-9.9v0.7h5.4M364.9,163.8h-1.5v1.2h0.8M363.9,160.5h-1.3v3.9h0.8M374.0,157.5h-14.5v4.9h3.0M374.0,157.2h-15.2v2.8h0.7M374.0,156.8h-16.6v1.8h1.4M358.1,144.6h-1.4v13.1h0.7M360.4,124.1h-4.8v27.1h1.1M374.0,166.5h-10.4v0.4h10.4M374.0,167.6h-1.1v0.4h1.1M374.0,167.2h-5.8v0.5h4.7M374.0,168.7h-1.7v0.4h1.7M374.0,168.3h-7.9v0.5h6.1M374.0,169.4h-4.1v0.4h4.1M374.0,170.1h-7.7v0.4h7.7M369.9,169.5h-5.0v0.7h1.4M374.0,171.5h-2.3v0.4h2.3M374.0,171.2h-5.5v0.5h3.2M374.0,170.8h-7.8v0.6h2.3M374.0,172.2h-2.8v0.4h2.8M374.0,173.3h-2.0v0.4h2.0M374.0,173.0h-3.1v0.5h1.0M371.2,172.4h-3.7v0.8h3.5M374.0,174.0h-7.6v0.4h7.6M367.5,172.8h-3.2v1.4h2.1M366.2,171.1h-2.1v2.4h0.2M364.9,169.9h-1.4v2.4h0.6M366.1,168.6h-3.1v2.5h0.5M368.2,167.5h-5.6v2.3h0.4M363.6,166.7h-3.7v2.0h2.6M374.0,175.8h-3.0v0.4h3.0M374.0,175.5h-8.6v0.5h5.6M374.0,178.0h-1.2v0.4h1.2M374.0,177.6h-1.5v0.5h0.3M374.0,177.3h-5.7v0.6h4.2M374.0,179.0h-1.4v0.4h1.4M374.0,178.7h-3.5v0.5h2.1M374.0,180.1h-0.7v0.4h0.7M374.0,179.8h-3.8v0.5h3.1M370.5,179.0h-2.9v1.1h2.6M368.3,177.6h-1.5v1.9h0.8M374.0,176.9h-8.3v1.6h1.1M374.0,180.8h-2.3v0.4h2.3M374.0,182.6h-0.2v0.4h0.2M374.0,182.3h-1.6v0.5h1.4M374.0,181.9h-4.9v0.6h3.2M374.0,181.6h-6.7v0.7h1.8M371.7,181.0h-6.5v0.9h2.1M365.7,177.7h-0.7v3.7h0.3M374.0,176.5h-10.0v3.0h0.9M365.4,175.7h-2.0v2.3h0.6M374.0,175.1h-11.3v1.8h0.7M374.0,174.7h-12.0v1.3h0.7M374.0,184.1h-4.0v0.4h4.0M374.0,183.7h-10.3v0.5h6.3M374.0,183.3h-10.9v0.6h0.6M374.0,185.5h-3.2v0.4h3.2M374.0,185.1h-4.5v0.5h1.3M374.0,184.8h-6.9v0.6h2.4M374.0,186.6h-4.6v0.4h4.6M374.0,187.3h-0.9v0.4h0.9M374.0,189.1h-0.5v0.4h0.5M374.0,188.7h-2.3v0.5h1.8M374.0,188.4h-3.8v0.6h1.5M374.0,188.0h-4.8v0.7h1.0M373.1,187.5h-5.9v0.9h2.0M369.4,186.7h-3.3v1.2h1.0M374.0,186.2h-8.5v1.1h0.6M374.0,189.8h-4.9v0.4h4.9M374.0,191.2h-0.6v0.4h0.6M374.0,190.9h-4.8v0.5h4.2M374.0,190.5h-8.2v0.6h3.3M369.1,190.0h-4.5v0.9h1.3M365.5,186.8h-1.5v3.6h0.5M367.1,185.1h-4.4v3.5h1.3M363.1,183.7h-3.0v3.2h2.5M374.0,192.3h-7.3v0.4h7.3M374.0,193.4h-2.7v0.4h2.7M374.0,193.0h-6.2v0.5h3.5M374.0,194.5h-2.5v0.4h2.5M374.0,194.1h-7.7v0.5h5.2M367.8,193.3h-2.7v1.1h1.2M374.0,195.2h-1.6v0.4h1.6M374.0,196.2h-2.4v0.4h2.4M374.0,195.9h-5.2v0.5h2.7M372.4,195.4h-4.0v0.8h0.4M374.0,197.3h-2.6v0.4h2.6M374.0,197.0h-5.8v0.5h3.1M368.4,195.8h-4.2v1.5h4.0M365.1,193.8h-1.8v2.7h0.9M366.7,192.5h-5.4v2.7h2.1M374.0,191.9h-14.3v1.9h1.6M360.2,185.2h-1.8v7.6h1.4M374.0,198.0h-6.4v0.4h6.4M374.0,199.1h-4.6v0.4h4.6M374.0,198.8h-5.5v0.5h0.9M374.0,199.8h-2.8v0.4h2.8M374.0,200.5h-1.6v0.4h1.6M374.0,201.3h-1.1v0.4h1.1M374.0,202.3h-0.5v0.4h0.5M374.0,202.0h-2.2v0.5h1.7M372.9,201.4h-3.9v0.8h2.7M372.4,200.7h-5.9v1.1h2.5M371.2,200.0h-5.7v1.3h1.1M374.0,203.8h-1.7v0.4h1.7M374.0,203.4h-5.0v0.5h3.3M374.0,203.1h-5.9v0.6h0.9M374.0,204.8h-4.2v0.4h4.2M374.0,204.5h-6.7v0.5h2.5M374.0,205.6h-3.6v0.4h3.6M374.0,206.3h-1.0v0.4h1.0M374.0,207.0h-2.9v0.4h2.9M373.0,206.5h-3.8v0.7h1.8M370.4,205.7h-4.0v1.1h2.8M367.3,204.8h-1.7v1.5h0.8M368.1,203.4h-3.7v2.2h1.3M365.5,200.6h-1.3v3.8h0.2M368.5,199.0h-5.3v3.5h1.0M367.6,198.2h-4.6v2.6h0.2M374.0,208.1h-0.1v0.4h0.1M374.0,209.5h-2.1v0.4h2.1M374.0,209.1h-2.5v0.5h0.3M374.0,208.8h-5.2v0.6h2.7M373.9,208.3h-6.2v0.9h1.1M374.0,207.7h-7.4v1.0h1.1M374.0,210.9h-0.2v0.4h0.2M374.0,210.6h-2.6v0.5h2.4M374.0,210.2h-3.7v0.6h1.2M374.0,211.7h-6.1v0.4h6.1M370.3,210.5h-4.4v1.3h2.0M366.6,208.2h-1.8v3.0h1.1M374.0,213.1h-2.2v0.4h2.2M374.0,212.7h-6.9v0.5h4.8M374.0,212.4h-8.7v0.6h1.7M374.0,214.5h-2.1v0.4h2.1M374.0,214.2h-5.7v0.5h3.6M374.0,213.8h-6.5v0.6h0.9M374.0,215.6h-3.8v0.4h3.8M374.0,215.2h-4.3v0.5h0.5M374.0,216.7h-1.3v0.4h1.3M374.0,216.3h-5.1v0.5h3.8M374.0,217.4h-7.1v0.4h7.1M368.9,216.6h-2.3v1.0h0.3M369.7,215.5h-4.1v1.6h1.0M367.5,214.1h-2.5v2.2h0.6M365.3,212.7h-1.5v2.5h1.1M364.7,209.7h-1.3v4.3h0.4M374.0,218.8h-2.7v0.4h2.7M374.0,219.5h-4.0v0.4h4.0M371.3,219.0h-3.9v0.7h2.6M374.0,218.5h-8.5v0.9h2.0M374.0,218.1h-10.9v0.8h2.3M363.4,211.8h-0.5v6.7h0.2M363.0,199.5h-5.1v15.7h5.0M358.3,189.1h-1.4v18.3h0.9M362.0,175.4h-5.9v22.8h0.9M359.9,167.7h-5.9v19.1h2.0M355.6,137.6h-2.6v39.6h1.0M353.5,61.7h-2.2v95.8h1.7M357.6,35.7h-9.0v73.8h2.7" fill="none" stroke="#000" stroke-width="1.0"/>
<path d="M351.4,184.0V220.3M351.4,184.0H356.0M351.4,220.3H360.0M351.4,204.0H358.0M351.4,212.0H359.5M355.5,176.0V192.0M355.5,192.0H361.0" fill="none" stroke="#000" stroke-width="0.8"/>
<path d="M60.8,289.2 L55.5,289.2 L55.0,300.0 L54.5,310.0 L55.5,320.0 L54.0,330.0 L55.5,338.0 L57.5,341.0 L56.0,350.0 L55.0,360.0 L54.0,370.0 L55.5,380.0 L54.5,390.0 L55.0,400.0 L54.0,410.0 L55.0,420.0 L54.5,430.0 L54.0,440.0 L55.5,450.0 L54.5,460.0 L55.0,470.0 L54.5,479.6 L60.8,479.6Z" fill="#000"/>
<path d="M60.8,289.7h-4.4v0.5h4.4M60.8,289.2h-8.0v0.7h3.6M60.8,291.6h-2.4v0.5h2.4M60.8,291.2h-5.7v0.7h3.2M60.8,290.7h-5.9v0.9h0.3M60.8,292.6h-0.2v0.5h0.2M60.8,293.6h-2.1v0.5h2.1M60.6,292.9h-4.0v1.0h2.1M60.8,295.1h-0.2v0.5h0.2M60.8,294.6h-2.0v0.7h1.7M60.8,296.5h-0.6v0.5h0.6M60.8,296.1h-2.1v0.7h1.5M58.8,295.0h-5.5v1.5h5.3M60.8,298.5h-0.4v0.5h0.4M60.8,298.0h-1.0v0.7h0.6M60.8,299.5h-4.3v0.5h4.3M59.8,298.4h-4.1v1.3h0.9M60.8,297.5h-8.4v1.5h3.2M53.4,295.7h-1.6v2.6h0.6M60.8,301.4h-1.8v0.5h1.8M60.8,300.9h-3.7v0.7h1.9M60.8,300.5h-9.3v0.9h5.6M51.8,297.0h-1.1v3.9h0.8M60.8,302.4h-2.9v0.5h2.9M60.8,304.9h-0.1v0.5h0.1M60.8,304.4h-1.2v0.7h1.1M60.8,303.9h-2.3v0.9h1.1M60.8,303.4h-5.8v0.9h3.6M57.9,302.7h-5.4v1.2h2.4M60.8,306.3h-2.5v0.5h2.5M60.8,307.8h-1.9v0.5h1.9M60.8,307.3h-3.5v0.7h1.6M58.3,306.6h-3.7v1.1h2.7M60.8,305.8h-10.0v1.3h3.8M52.5,303.3h-2.0v3.2h0.2M50.7,298.9h-1.3v5.9h1.2M56.6,293.4h-8.3v8.5h1.1M54.9,291.1h-7.6v6.5h1.1M52.8,289.6h-7.4v4.8h1.9M60.8,310.2h-0.3v0.5h0.3M60.8,309.8h-4.5v0.7h4.2M60.8,309.3h-6.5v0.9h1.9M60.8,312.2h-0.2v0.5h0.2M60.8,311.7h-0.6v0.7h0.4M60.8,311.2h-3.6v0.9h3.0M60.8,313.7h-3.9v0.5h3.9M60.8,313.2h-4.7v0.7h0.7M57.2,311.7h-3.7v1.9h2.6M60.8,314.7h-2.7v0.5h2.7M60.8,315.6h-8.2v0.5h8.2M58.1,314.9h-6.8v1.0h1.3M53.5,312.6h-3.5v2.8h1.4M54.3,309.7h-5.8v4.3h1.5M60.8,308.8h-15.8v3.1h3.5M45.3,292.0h-2.1v18.3h1.8M60.8,317.1h-4.8v0.5h4.8M60.8,318.6h-2.2v0.5h2.2M60.8,318.1h-5.0v0.7h2.8M56.0,317.3h-2.1v1.1h1.8M60.8,320.5h0.0v0.5h0.0M60.8,322.0h-0.4v0.5h0.4M60.8,321.5h-2.5v0.7h2.0M60.8,320.8h-3.1v1.1h0.6M60.8,320.0h-5.2v1.3h2.1M60.8,319.5h-6.9v1.1h1.7M60.8,324.0h-0.9v0.5h0.9M60.8,323.5h-2.8v0.7h1.8M60.8,325.9h-0.6v0.5h0.6M60.8,325.4h-1.2v0.7h0.6M60.8,324.9h-4.1v0.9h2.9M58.0,323.8h-1.9v1.5h0.6M60.8,323.0h-7.5v1.6h2.8M53.9,320.1h-1.1v3.7h0.5M54.0,317.9h-2.8v4.1h1.6M60.8,316.6h-11.2v3.3h1.6M60.8,327.9h-1.7v0.5h1.7M60.8,327.4h-7.2v0.7h5.5M60.8,326.9h-11.9v0.9h4.7M49.6,318.3h-2.9v9.1h2.1M60.8,330.3h-2.5v0.5h2.5M60.8,329.8h-6.3v0.7h3.8M60.8,329.3h-9.1v0.9h2.9M60.8,331.8h-2.6v0.5h2.6M60.8,331.3h-5.1v0.7h2.5M60.8,332.8h-0.8v0.5h0.8M60.8,333.7h-3.0v0.5h3.0M60.8,334.7h-2.1v0.5h2.1M60.8,335.7h-0.1v0.5h0.1M60.8,336.7h-0.1v0.5h0.1M60.7,335.9h-1.4v1.0h1.4M60.8,337.7h-1.6v0.5h1.6M59.3,336.4h-0.8v1.5h0.7M60.8,338.6h-2.6v0.5h2.6M58.5,337.2h-1.8v1.7h1.5M58.7,335.0h-2.3v3.1h0.3M57.8,334.0h-3.1v2.5h1.8M60.0,333.0h-5.9v2.2h0.5M55.7,331.7h-2.7v2.5h1.1M60.8,340.1h-4.6v0.5h4.6M60.8,339.6h-9.9v0.7h5.3M53.0,332.9h-2.5v7.1h0.4M60.8,341.1h-3.3v0.5h3.3M60.8,342.1h-4.8v0.5h4.8M57.5,341.3h-7.3v1.0h5.8M50.5,336.4h-1.5v5.4h1.2M51.7,329.8h-5.6v9.4h3.0M60.8,328.8h-16.7v5.6h1.9M46.8,322.8h-4.3v8.9h1.7M43.2,301.1h-3.2v26.1h2.4M60.8,343.0h-11.1v0.5h11.1M60.8,344.5h-2.9v0.5h2.9M60.8,345.5h-4.2v0.5h4.2M60.8,347.9h-0.4v0.5h0.4M60.8,347.4h-1.6v0.7h1.2M60.8,347.0h-2.7v0.9h1.2M60.8,346.5h-5.5v0.9h2.7M56.6,345.7h-2.6v1.2h1.3M60.8,349.4h-1.4v0.5h1.4M60.8,348.9h-3.8v0.7h2.4M60.8,350.9h-0.3v0.5h0.3M60.8,350.4h-1.5v0.7h1.2M60.8,352.3h-1.3v0.5h1.3M60.8,351.9h-2.6v0.7h1.3M59.3,350.7h-2.7v1.5h1.6M57.0,349.3h-1.4v2.2h0.9M60.8,354.3h-0.7v0.5h0.7M60.8,353.8h-4.7v0.7h4.0M60.8,353.3h-5.9v0.9h1.1M55.6,350.4h-2.6v3.4h1.8M54.0,346.3h-3.0v5.7h2.1M57.9,344.8h-7.5v4.4h0.6M60.8,344.0h-13.0v3.0h2.6M49.7,343.3h-4.1v2.2h2.3M60.8,355.8h-1.9v0.5h1.9M60.8,356.7h-3.8v0.5h3.8M58.9,356.0h-3.6v1.0h1.7M60.8,359.7h-2.7v0.5h2.7M60.8,359.2h-4.0v0.7h1.3M60.8,358.7h-5.2v0.9h1.2M60.8,358.2h-8.8v0.9h3.6M60.8,357.7h-10.5v0.9h1.7M60.8,361.2h-0.9v0.5h0.9M60.8,360.7h-6.1v0.7h5.2M60.8,362.1h-1.4v0.5h1.4M60.8,363.6h-0.7v0.5h0.7M60.8,363.1h-1.4v0.7h0.7M59.4,362.4h-2.5v1.1h2.5M60.8,365.6h-0.5v0.5h0.5M60.8,365.1h-2.5v0.7h2.0M60.8,364.6h-5.1v0.9h2.6M56.9,362.9h-2.6v2.1h1.4M54.7,361.0h-2.0v2.9h1.6M60.8,366.5h-4.4v0.5h4.4M60.8,369.0h-2.2v0.5h2.2M60.8,368.5h-4.1v0.7h1.9M60.8,368.0h-4.6v0.9h0.5M60.8,367.5h-6.6v0.9h2.0M56.4,366.8h-4.1v1.2h1.9M52.7,362.5h-2.6v4.9h2.2M50.3,358.2h-0.5v6.7h0.3M55.2,356.5h-8.3v5.1h2.8M60.8,355.3h-16.2v3.8h2.3M60.8,370.5h-6.0v0.5h6.0M60.8,372.4h-0.3v0.5h0.3M60.8,371.9h-2.4v0.7h2.1M60.8,374.4h-1.0v0.5h1.0M60.8,373.9h-3.7v0.7h2.7M60.8,373.4h-4.2v0.9h0.6M58.4,372.3h-4.7v1.5h2.8M60.8,376.3h-1.5v0.5h1.5M60.8,375.8h-2.8v0.7h1.3M60.8,375.3h-6.9v0.9h4.1M60.8,378.3h-0.8v0.5h0.8M60.8,377.8h-2.1v0.7h1.3M60.8,379.3h-4.5v0.5h4.5M58.7,378.2h-2.9v1.3h0.5M60.8,377.3h-7.2v1.5h2.2M53.9,375.8h-2.0v2.3h1.7M53.8,373.1h-2.5v3.9h0.7M60.8,371.4h-10.4v3.6h0.9M54.8,370.7h-4.7v2.5h0.3M60.8,370.0h-16.9v2.0h6.1M60.8,380.2h-14.4v0.5h14.4M60.8,381.7h-0.7v0.5h0.7M60.8,381.2h-2.0v0.7h1.4M60.8,383.2h-1.1v0.5h1.1M60.8,382.7h-2.8v0.7h1.7M58.8,381.6h-1.2v1.5h0.5M60.8,384.6h-3.9v0.5h3.9M60.8,384.2h-6.4v0.7h2.5M57.5,382.3h-4.3v2.2h1.2M60.8,386.1h-0.5v0.5h0.5M60.8,385.6h-2.2v0.7h1.7M60.8,388.6h-0.8v0.5h0.8M60.8,388.1h-1.3v0.7h0.4M60.8,387.6h-3.3v0.9h2.1M60.8,387.1h-4.7v0.9h1.4M58.6,386.0h-3.5v1.6h1.0M60.8,389.5h-0.5v0.5h0.5M60.8,390.5h-1.8v0.5h1.8M60.3,389.8h-3.5v1.0h2.2M60.8,391.5h-1.4v0.5h1.4M60.8,392.5h-1.7v0.5h1.7M59.4,391.7h-3.6v1.0h3.3M56.8,390.3h-2.6v2.0h1.7M55.1,386.8h-2.0v4.5h1.0M53.2,383.4h-1.5v5.6h1.5M60.8,394.4h-2.2v0.5h2.2M60.8,395.9h-1.7v0.5h1.7M60.8,395.4h-3.1v0.7h1.4M58.6,394.7h-2.7v1.1h1.7M60.8,393.9h-8.1v1.3h3.3M60.8,393.5h-10.2v1.1h2.0M51.6,386.2h-1.7v7.8h0.7M60.8,397.4h-1.7v0.5h1.7M60.8,396.9h-8.9v0.7h7.2M60.8,398.8h-3.6v0.5h3.6M60.8,399.8h-4.6v0.5h4.6M57.2,399.1h-2.4v1.0h1.4M60.8,400.8h-8.0v0.5h8.0M54.8,399.6h-4.7v1.5h2.7M60.8,398.3h-11.6v2.0h0.9M51.9,397.2h-5.6v2.1h3.0M49.9,390.1h-5.1v8.2h1.4M46.4,380.5h-2.8v13.7h1.2M43.9,371.0h-0.5v16.4h0.2M44.6,357.2h-1.6v22.0h0.4M60.8,403.2h-1.5v0.5h1.5M60.8,402.8h-4.0v0.7h2.4M60.8,404.2h-2.0v0.5h2.0M60.8,405.2h-3.5v0.5h3.5M58.8,404.5h-5.9v1.0h4.4M56.8,403.1h-4.7v1.8h0.8M60.8,402.3h-9.7v1.8h1.0M60.8,407.2h-3.5v0.5h3.5M60.8,406.7h-4.9v0.7h1.4M60.8,406.2h-8.3v0.9h3.4M60.8,408.1h-1.8v0.5h1.8M60.8,409.1h-4.1v0.5h4.1M60.8,410.6h-2.4v0.5h2.4M60.8,410.1h-3.9v0.7h1.5M60.8,412.1h-1.3v0.5h1.3M60.8,411.6h-4.0v0.7h2.7M56.9,410.5h-1.4v1.5h1.2M56.7,409.4h-3.0v1.8h1.8M59.0,408.4h-6.8v1.9h1.5M52.5,406.6h-1.6v2.7h1.4M51.1,403.2h-1.3v4.8h1.0M60.8,401.8h-15.6v3.8h4.7M60.8,413.5h-6.5v0.5h6.5M60.8,415.5h-3.4v0.5h3.4M60.8,415.0h-5.0v0.7h1.6M60.8,414.5h-9.2v0.9h4.3M54.3,413.8h-3.7v1.2h1.0M60.8,416.9h-3.0v0.5h3.0M60.8,417.9h-3.8v0.5h3.8M60.8,419.4h-1.0v0.5h1.0M60.8,420.4h-1.9v0.5h1.9M59.8,419.6h-2.4v1.0h1.5M60.8,418.9h-5.1v1.2h1.7M57.0,418.2h-3.8v1.3h2.4M57.8,417.2h-5.6v1.7h1.0M60.8,422.3h-3.5v0.5h3.5M60.8,421.8h-3.8v0.7h0.4M60.8,425.3h-0.0v0.5h0.0M60.8,424.8h-0.5v0.7h0.5M60.8,424.3h-1.8v0.9h1.2M60.8,423.8h-4.3v0.9h2.6M60.8,423.3h-5.6v0.9h1.3M57.0,422.2h-3.2v1.6h1.5M60.8,421.4h-9.5v1.6h2.5M52.2,418.0h-1.8v4.2h0.8M60.8,416.5h-12.1v3.6h1.8M50.6,414.3h-3.1v3.9h1.2M60.8,413.0h-16.5v3.3h3.2M45.2,403.7h-4.3v11.0h3.4M43.1,368.2h-4.6v41.0h2.4M45.5,344.4h-7.8v44.3h0.8M60.8,426.2h-5.1v0.5h5.1M60.8,427.2h-5.7v0.5h5.7M55.7,426.5h-4.3v1.0h3.6M60.8,428.2h-3.2v0.5h3.2M60.8,429.2h-4.8v0.5h4.8M60.8,431.1h-0.4v0.5h0.4M60.8,430.7h-1.6v0.7h1.2M60.8,430.2h-3.2v0.9h1.6M60.8,432.6h-3.2v0.5h3.2M60.8,432.1h-3.7v0.7h0.4M57.6,430.6h-2.6v1.9h2.1M56.0,429.4h-2.5v2.1h1.5M60.8,434.6h-0.0v0.5h0.0M60.8,434.1h-3.6v0.7h3.6M60.8,435.5h-2.9v0.5h2.9M60.8,436.5h-3.4v0.5h3.4M57.9,435.8h-2.4v1.0h1.9M57.2,434.4h-5.8v1.8h4.1M60.8,433.6h-9.8v1.8h0.4M53.5,430.5h-3.3v4.0h0.8M60.8,437.5h-7.8v0.5h7.8M60.8,439.5h-0.9v0.5h0.9M60.8,439.0h-3.1v0.7h2.2M60.8,440.9h-1.2v0.5h1.2M60.8,440.4h-2.6v0.7h1.4M60.8,441.9h-3.3v0.5h3.3M58.2,440.8h-1.8v1.3h1.1M57.7,439.3h-2.5v2.1h1.1M60.8,438.5h-8.9v1.9h3.4M53.0,437.8h-3.4v1.7h2.3M50.2,432.5h-2.0v6.1h1.4M57.6,428.5h-10.5v7.1h1.1M51.4,427.0h-4.9v5.0h0.5M60.8,443.4h-2.3v0.5h2.3M60.8,445.3h-1.1v0.5h1.1M60.8,446.3h-2.7v0.5h2.7M59.7,445.6h-3.2v1.0h1.6M60.8,444.8h-7.5v1.2h3.2M60.8,448.3h-0.3v0.5h0.3M60.8,447.8h-2.0v0.7h1.7M60.8,447.3h-4.6v0.9h2.7M60.8,450.7h-0.2v0.5h0.2M60.8,451.7h-0.7v0.5h0.7M60.6,451.0h-1.7v1.0h1.1M60.8,450.2h-3.6v1.2h1.8M60.8,449.7h-4.3v1.1h0.7M60.8,449.3h-5.4v1.0h1.1M56.2,447.7h-3.7v2.0h3.0M53.3,445.5h-1.8v3.3h0.9M60.8,444.4h-10.1v2.7h0.7M58.5,443.6h-8.7v2.1h0.9M60.8,452.7h-7.2v0.5h7.2M60.8,455.1h-4.5v0.5h4.5M60.8,454.6h-6.1v0.7h1.6M60.8,454.1h-8.7v0.9h2.7M60.8,453.7h-9.6v0.9h0.9M53.6,452.9h-3.9v1.2h1.5M49.8,444.7h-1.8v8.8h1.7M60.8,442.9h-15.1v6.2h2.3M46.6,429.5h-4.9v16.5h4.0M60.8,456.6h-1.0v0.5h1.0M60.8,458.1h-1.2v0.5h1.2M60.8,457.6h-5.3v0.7h4.0M60.8,459.5h-0.1v0.5h0.1M60.8,459.0h-2.9v0.7h2.7M60.8,460.5h-4.5v0.5h4.5M57.9,459.4h-3.5v1.3h1.8M60.8,461.5h-7.0v0.5h7.0M54.4,460.1h-1.9v1.7h1.3M60.8,462.5h-3.4v0.5h3.4M60.8,463.4h-4.8v0.5h4.8M57.4,462.7h-2.9v1.0h1.5M60.8,464.9h-1.1v0.5h1.1M60.8,465.9h-1.6v0.5h1.6M59.7,465.2h-1.9v1.0h1.4M60.8,464.4h-3.2v1.2h0.2M60.8,467.9h-0.9v0.5h0.9M60.8,467.4h-2.4v0.7h1.5M60.8,468.8h-3.0v0.5h3.0M58.4,467.7h-2.6v1.3h2.0M60.8,466.9h-6.7v1.5h1.7M57.6,465.0h-5.9v2.6h2.3M54.5,463.2h-3.6v3.1h0.8M52.6,460.9h-2.6v3.9h0.9M55.5,457.9h-6.0v4.9h0.4M59.8,456.8h-13.9v3.6h3.6M60.8,456.1h-16.3v2.5h1.4M60.8,471.8h-2.3v0.5h2.3M60.8,473.7h-0.6v0.5h0.6M60.8,473.2h-3.1v0.7h2.5M60.8,472.7h-3.7v0.9h0.6M58.5,472.0h-3.2v1.2h1.7M60.8,471.3h-7.4v1.3h2.0M60.8,470.8h-8.5v1.1h1.1M60.8,475.2h-0.8v0.5h0.8M60.8,476.2h-1.3v0.5h1.3M60.0,475.4h-3.0v1.0h2.5M60.8,474.7h-7.9v1.2h4.1M60.8,477.6h-1.1v0.5h1.1M60.8,477.2h-2.8v0.7h1.7M60.8,479.1h-4.9v0.5h4.9M60.8,478.6h-8.7v0.7h3.8M58.0,477.5h-6.2v1.5h0.3M52.9,475.3h-1.9v2.9h0.7M52.3,471.4h-2.0v5.4h0.7M60.8,470.3h-13.2v3.8h2.7M60.8,469.8h-17.0v2.4h3.9M44.5,457.4h-5.2v13.6h4.5M41.7,437.7h-4.8v26.4h2.4M37.7,366.5h-1.6v84.4h0.8M40.1,314.2h-4.8v94.6h0.8" fill="none" stroke="#000" stroke-width="0.85"/>
<path d="M372.6,289.2 L368.0,289.2 L367.5,310.0 L367.0,337.0 L366.5,360.0 L366.0,380.0 L365.5,400.0 L365.0,420.0 L364.5,440.0 L363.5,460.0 L363.0,479.8 L372.6,479.8Z" fill="#111"/>
<path d="M372.6,289.2h-1.7v0.5h1.7M372.6,290.2h-2.1v0.5h2.1M370.9,289.5h-0.4v1.0h0.0M372.6,291.3h-2.0v0.5h2.0M370.6,291.6h-0.0v0.8h2.0M370.6,292.0h-0.3v0.9h2.3M370.5,290.0h-0.3v2.4h0.0M372.6,293.4h-3.0v0.5h3.0M372.6,294.4h-1.8v0.5h1.8M372.6,295.5h-2.6v0.5h2.6M370.8,294.7h-1.5v1.0h0.6M369.6,293.7h-0.3v1.6h0.0M370.2,291.2h-1.7v3.2h0.8M372.6,296.5h-1.6v0.5h1.6M371.0,296.8h-0.0v0.8h1.7M372.6,298.1h-3.0v0.5h3.0M370.9,297.2h-1.4v1.2h0.0M372.6,299.7h-0.8v0.5h0.8M372.6,299.2h-1.1v0.8h0.3M372.6,301.8h-2.3v0.5h2.3M372.6,301.2h-2.8v0.8h0.5M372.6,300.7h-2.8v0.9h0.0M371.5,299.5h-1.8v1.6h0.0M369.6,297.8h-0.0v2.6h0.2M368.6,292.8h-0.1v6.3h1.1M372.6,303.3h-3.0v0.5h3.0M372.6,302.8h-3.0v0.8h0.0M372.6,304.4h-2.9v0.5h2.9M372.6,306.0h-0.9v0.5h0.9M372.6,305.4h-3.2v0.8h2.3M369.7,304.7h-0.3v1.2h0.0M369.6,303.2h-0.3v2.0h0.2M368.5,295.9h-0.1v8.3h0.9M372.6,307.0h-1.4v0.5h1.4M372.6,308.6h-2.0v0.5h2.0M372.6,308.1h-2.1v0.8h0.1M372.6,310.2h-1.4v0.5h1.4M372.6,309.6h-2.9v0.8h1.5M370.5,308.5h-0.8v1.6h0.0M371.2,307.3h-1.5v2.0h0.0M368.4,300.1h-0.2v8.2h1.5M372.6,312.8h-1.0v0.5h1.0M372.6,312.3h-1.2v0.8h0.2M372.6,313.8h-3.3v0.5h3.3M369.3,314.1h-0.0v0.8h3.3M371.4,312.6h-2.1v1.8h0.0M372.6,311.7h-3.3v1.8h0.0M372.6,316.4h-1.3v0.5h1.3M372.6,315.9h-2.7v0.8h1.4M372.6,315.4h-2.7v0.9h0.0M369.3,312.6h-0.0v3.2h0.6M372.6,311.2h-3.4v3.0h0.0M368.2,304.2h-0.2v8.6h1.2M372.6,318.0h-2.0v0.5h2.0M372.6,319.1h-0.7v0.5h0.7M370.6,318.3h-0.0v1.0h1.3M370.5,318.8h-0.5v1.3h2.6M372.6,317.5h-2.6v2.0h0.0M368.0,308.4h-0.2v10.0h2.2M372.6,321.2h-1.9v0.5h1.9M372.6,322.2h-1.4v0.5h1.4M371.2,322.5h-0.9v0.8h2.4M370.7,321.4h-0.4v1.4h0.0M372.6,320.6h-2.4v1.5h0.0M367.9,313.5h-0.2v7.9h2.6M372.6,324.3h-3.3v0.5h3.3M369.3,324.6h-0.0v0.8h3.4M369.2,325.0h-0.1v0.9h3.4M372.6,323.8h-3.4v1.6h0.0M372.6,326.9h-2.2v0.5h2.2M372.6,326.4h-2.3v0.8h0.0M372.6,328.5h-3.0v0.5h3.0M372.6,328.0h-3.0v0.8h0.0M370.3,326.8h-0.7v1.6h0.0M369.2,324.6h-0.0v3.0h0.5M367.7,317.4h-0.2v8.7h1.7M372.6,330.1h-1.7v0.5h1.7M372.6,331.1h-1.9v0.5h1.9M372.6,332.2h-2.8v0.5h2.8M370.7,331.4h-1.3v1.0h0.4M369.4,331.9h-0.0v1.3h3.2M372.6,333.7h-3.3v0.5h3.3M372.6,334.8h-2.1v0.5h2.1M369.3,334.0h-0.0v1.0h1.3M369.4,332.6h-0.1v2.0h0.0M370.9,330.3h-1.6v3.2h0.0M372.6,329.5h-3.3v2.4h0.0M367.4,321.8h-0.2v9.0h2.0M372.6,335.8h-3.2v0.5h3.2M372.6,336.9h-2.5v0.5h2.5M369.4,336.1h-0.0v1.0h0.6M372.6,337.9h-2.3v0.5h2.3M370.3,338.2h-0.0v0.8h2.3M369.4,336.6h-0.0v2.0h0.9M372.6,340.0h-1.3v0.5h1.3M372.6,341.1h-2.0v0.5h2.0M370.6,341.3h-0.2v0.8h2.2M371.3,340.3h-0.9v1.4h0.0M372.6,339.5h-2.3v1.5h0.0M369.4,337.6h-0.0v2.7h0.9M367.2,326.2h-0.2v12.7h2.4M372.6,342.6h-0.9v0.5h0.9M372.6,344.2h-2.6v0.5h2.6M372.6,343.7h-3.3v0.8h0.7M371.7,342.9h-2.4v1.2h0.0M367.0,332.6h-0.2v10.9h2.5M372.6,345.3h-1.3v0.5h1.3M372.6,346.3h-1.4v0.5h1.4M371.2,346.6h-0.9v0.8h2.3M372.6,347.9h-2.4v0.5h2.4M370.2,348.1h-0.4v0.8h2.8M370.3,347.0h-0.5v1.6h0.0M371.3,345.5h-1.7v2.2h0.3M372.6,349.4h-1.5v0.5h1.5M369.5,346.6h-0.0v3.1h1.6M366.8,338.0h-0.2v10.1h3.0M372.6,350.5h-3.4v0.5h3.4M372.6,351.5h-1.1v0.5h1.1M369.2,350.8h-0.0v1.0h2.4M372.6,353.1h-2.4v0.5h2.4M370.2,353.4h-0.2v0.8h2.6M372.6,352.6h-2.6v1.2h0.0M369.2,351.3h-0.0v1.9h0.8M366.5,343.1h-0.2v9.1h2.9M372.6,354.7h-1.3v0.5h1.3M372.6,355.7h-1.8v0.5h1.8M371.3,354.9h-0.5v1.0h0.0M372.6,356.8h-1.9v0.5h1.9M370.7,357.0h-1.3v0.8h3.3M370.8,355.5h-1.5v2.0h0.0M372.6,358.4h-0.8v0.5h0.8M369.3,356.5h-0.0v2.2h2.5M372.6,359.4h-1.3v0.5h1.3M369.3,357.5h-0.0v2.1h2.0M369.3,358.6h-0.0v1.9h3.3M366.3,347.7h-0.3v11.9h3.3M372.6,361.0h-2.8v0.5h2.8M372.6,362.5h-2.0v0.5h2.0M372.6,362.0h-2.9v0.8h1.0M369.8,361.2h-0.1v1.2h0.0M372.6,364.1h-2.9v0.5h2.9M372.6,363.6h-3.5v0.8h0.6M372.6,365.2h-1.2v0.5h1.2M371.4,365.4h-0.0v0.8h1.2M369.1,364.0h-0.0v1.8h2.3M369.1,364.9h-0.0v1.8h3.5M369.6,361.8h-0.5v4.0h0.0M366.0,353.6h-0.3v10.2h3.3M372.6,367.3h-1.4v0.5h1.4M372.6,369.4h-2.6v0.5h2.6M372.6,370.4h-0.9v0.5h0.9M370.0,369.6h-0.0v1.0h1.7M372.6,368.8h-2.6v1.3h0.0M372.6,368.3h-2.6v1.2h0.0M371.2,367.5h-1.6v1.4h0.3M365.8,358.7h-0.3v9.5h4.1M372.6,371.5h-0.8v0.5h0.8M371.8,371.7h-0.9v0.8h1.6M371.0,372.1h-1.9v0.9h3.5M369.1,372.6h-0.0v1.0h3.5M365.5,363.5h-0.3v9.6h3.8M372.6,376.2h-1.7v0.5h1.7M372.6,375.6h-1.7v0.8h0.0M372.6,375.1h-2.6v0.9h0.9M372.6,377.7h-0.8v0.5h0.8M372.6,377.2h-2.2v0.8h1.4M370.0,375.6h-0.0v2.0h0.4M372.6,374.6h-2.6v2.0h0.0M372.6,374.1h-2.6v1.5h0.0M365.2,368.3h-0.3v6.6h5.0M372.6,378.8h-3.1v0.5h3.1M372.6,379.8h-0.9v0.5h0.9M369.5,379.0h-0.0v1.0h2.2M372.6,380.9h-0.9v0.5h0.9M371.7,381.1h-2.2v0.8h3.0M369.5,379.6h-0.1v2.0h0.2M365.0,371.5h-0.3v9.0h4.7M372.6,382.5h-1.5v0.5h1.5M372.6,383.5h-2.8v0.5h2.8M371.1,382.7h-1.3v1.0h0.0M364.7,376.1h-0.3v7.2h5.4M372.6,384.5h-1.8v0.5h1.8M372.6,385.6h-2.1v0.5h2.1M370.5,385.9h-0.5v0.8h2.5M370.1,386.3h-0.5v0.9h3.0M370.8,384.8h-1.4v1.9h0.2M369.4,385.8h-0.0v1.9h3.2M364.4,379.6h-0.3v7.1h5.3M372.6,388.7h-1.6v0.5h1.6M371.0,389.0h-0.6v0.8h2.2M372.6,388.2h-2.2v1.2h0.0M370.4,388.8h-0.0v1.5h2.2M372.6,390.8h-2.1v0.5h2.1M370.5,391.1h-0.8v0.8h2.9M372.6,392.4h-2.9v0.5h2.9M369.7,391.5h-0.0v1.2h0.0M370.4,389.6h-0.7v2.5h0.0M364.1,383.2h-0.3v7.6h5.8M372.6,395.0h-2.7v0.5h2.7M372.6,394.5h-2.7v0.8h0.0M372.6,394.0h-2.7v0.9h0.0M372.6,393.5h-3.5v1.0h0.8M369.1,393.9h-0.0v2.1h3.5M363.8,387.0h-0.3v8.0h5.6M372.6,397.1h-2.9v0.5h2.9M372.6,396.6h-2.9v0.8h0.0M369.7,397.0h-0.0v1.2h2.9M372.6,398.7h-2.0v0.5h2.0M370.6,399.0h-0.0v0.8h2.0M372.6,401.3h-2.2v0.5h2.2M372.6,400.8h-2.2v0.8h0.0M372.6,400.3h-2.4v0.9h0.1M370.6,399.4h-0.3v1.4h0.0M369.7,397.6h-0.0v2.5h0.6M363.5,391.0h-0.3v7.8h6.4M372.6,402.4h-2.9v0.5h2.9M372.6,403.4h-1.6v0.5h1.6M371.0,403.7h-0.5v0.8h2.2M372.6,405.5h-2.4v0.5h2.4M372.6,405.0h-2.4v0.8h0.0M370.4,404.1h-0.2v1.3h0.0M372.6,407.1h-2.1v0.5h2.1M372.6,406.6h-2.1v0.8h0.0M370.2,404.7h-0.0v2.2h0.3M369.7,402.6h-0.2v3.2h0.7M369.5,404.2h-0.0v3.9h3.1M369.5,406.2h-0.0v2.5h3.1M363.2,394.9h-0.3v12.5h6.6M372.6,409.2h-2.3v0.5h2.3M372.6,410.2h-2.1v0.5h2.1M370.3,409.4h-0.0v1.0h0.1M372.6,411.3h-1.3v0.5h1.3M372.6,412.3h-2.2v0.5h2.2M371.3,411.5h-1.9v1.0h1.1M370.3,410.0h-1.0v2.1h0.0M362.9,401.2h-0.3v9.8h6.7M372.6,413.9h-2.5v0.5h2.5M372.6,413.4h-2.7v0.8h0.3M372.6,414.9h-1.5v0.5h1.5M371.1,415.2h-0.4v0.8h1.9M372.6,417.0h-1.4v0.5h1.4M372.6,416.5h-3.4v0.8h2.0M370.7,415.6h-1.6v1.3h0.0M369.9,413.8h-0.7v2.5h0.0M362.6,406.1h-0.3v8.9h6.8M372.6,418.6h-3.1v0.5h3.1M372.6,418.1h-3.1v0.8h0.0M372.6,419.7h-3.1v0.5h3.1M369.5,418.5h-0.0v1.4h0.0M369.5,419.2h-0.3v1.5h3.4M372.6,421.2h-2.6v0.5h2.6M372.6,422.3h-2.3v0.5h2.3M372.6,423.3h-0.9v0.5h0.9M370.3,422.5h-0.0v1.0h1.4M370.3,423.1h-0.0v1.3h2.4M370.0,421.5h-0.0v2.2h0.3M369.2,419.9h-0.0v2.7h0.8M362.3,410.5h-0.3v10.7h7.2M372.6,425.9h-3.5v0.5h3.5M372.6,425.4h-3.5v0.8h0.0M369.1,425.8h-0.0v1.2h3.5M372.6,427.5h-2.1v0.5h2.1M372.6,429.1h-2.4v0.5h2.4M372.6,428.6h-3.3v0.8h0.9M370.5,427.8h-1.2v1.2h0.0M369.1,426.4h-0.0v2.0h0.2M372.6,424.9h-3.5v2.5h0.0M372.6,430.1h-2.5v0.5h2.5M369.1,426.1h-0.0v4.3h1.0M362.0,415.9h-0.3v12.4h7.4M372.6,431.7h-0.9v0.5h0.9M371.7,432.0h-0.0v0.8h0.9M372.6,433.3h-3.0v0.5h3.0M371.7,432.4h-2.1v1.2h0.0M372.6,431.2h-3.0v1.8h0.0M361.7,422.1h-0.3v10.0h8.2M372.6,434.3h-2.2v0.5h2.2M370.4,434.6h-0.0v0.8h2.2M372.6,436.4h-2.2v0.5h2.2M372.6,435.9h-3.0v0.8h0.8M370.4,435.0h-0.8v1.3h0.0M369.6,435.6h-0.0v1.8h3.0M372.6,438.0h-2.1v0.5h2.1M369.6,436.5h-0.0v1.7h0.9M361.3,427.1h-0.3v10.3h8.6M372.6,439.6h-3.1v0.5h3.1M372.6,440.6h-1.1v0.5h1.1M371.5,440.9h-0.2v0.8h1.3M372.6,442.2h-2.5v0.5h2.5M371.3,441.3h-1.2v1.2h0.0M369.5,439.8h-0.0v2.0h0.7M372.6,439.0h-3.2v1.8h0.1M372.6,443.2h-3.1v0.5h3.1M372.6,444.3h-2.8v0.5h2.8M369.5,443.5h-0.0v1.0h0.3M369.4,439.9h-0.0v4.1h0.2M361.0,432.2h-0.3v9.7h8.7M372.6,445.3h-1.2v0.5h1.2M371.4,445.6h-1.8v0.8h3.0M372.6,446.9h-2.9v0.5h2.9M369.7,447.2h-0.0v0.8h2.9M369.6,446.0h-0.0v1.6h0.1M360.7,437.1h-0.3v9.7h9.3M372.6,448.5h-1.1v0.5h1.1M372.6,449.5h-1.9v0.5h1.9M371.5,448.7h-2.2v1.0h1.4M360.4,441.9h-0.3v7.3h9.3M372.6,451.6h-3.5v0.5h3.5M372.6,451.1h-3.5v0.8h0.0M372.6,450.6h-3.5v0.9h0.0M369.1,451.0h-0.0v1.6h3.5M369.1,451.8h-0.0v1.3h3.5M360.0,445.6h-0.3v6.9h9.4M372.6,453.7h-0.8v0.5h0.8M372.6,456.3h-1.6v0.5h1.6M372.6,455.8h-1.6v0.8h0.0M371.0,456.2h-0.4v1.2h2.0M372.6,455.3h-2.1v1.5h0.0M372.6,457.9h-2.2v0.5h2.2M370.4,458.2h-0.0v0.8h2.2M370.5,456.0h-0.1v2.5h0.0M372.6,454.8h-2.5v2.5h0.3M371.8,454.0h-1.8v2.1h0.0M359.7,449.1h-0.3v5.9h10.7M372.6,460.0h-0.8v0.5h0.8M372.6,459.5h-1.1v0.8h0.3M372.6,461.0h-2.7v0.5h2.7M372.6,462.1h-2.8v0.5h2.8M372.6,463.1h-1.9v0.5h1.9M369.8,462.3h-0.0v1.0h0.9M372.6,464.2h-0.9v0.5h0.9M369.8,462.9h-0.2v1.6h2.1M372.6,465.2h-1.7v0.5h1.7M369.6,463.7h-0.2v1.8h1.5M369.9,461.3h-0.5v3.3h0.0M371.5,459.9h-2.1v3.1h0.0M359.3,452.0h-0.3v9.4h10.4M372.6,466.3h-1.2v0.5h1.2M372.6,467.3h-3.1v0.5h3.1M369.5,467.6h-0.0v0.8h3.1M372.6,468.9h-0.9v0.5h0.9M369.5,468.0h-0.0v1.2h2.2M372.6,469.9h-3.3v0.5h3.3M369.5,468.6h-0.3v1.6h0.0M369.2,469.4h-0.0v1.6h3.4M371.4,466.5h-2.2v3.7h0.0M369.2,468.4h-0.0v3.2h3.4M359.0,456.7h-3.4v13.2h13.6M372.6,473.1h-3.2v0.5h3.2M372.6,472.6h-3.2v0.8h0.0M372.6,474.1h-2.6v0.5h2.6M369.4,473.0h-0.0v1.4h0.6M372.6,472.0h-3.2v1.6h0.0M355.6,463.3h-2.0v9.5h15.8M372.6,475.7h-2.5v0.5h2.5M372.6,475.2h-2.5v0.8h0.0M372.6,476.8h-1.1v0.5h1.1M371.5,477.0h-2.2v0.8h3.3M370.1,475.6h-0.8v1.8h0.0M353.6,468.1h-3.0v8.4h18.7M372.6,478.3h-3.5v0.5h3.5M372.6,479.4h-1.5v0.5h1.5M369.1,478.6h-0.0v1.0h2.0M350.6,472.3h-4.6v6.8h23.1" fill="none" stroke="#000" stroke-width="0.7"/>
<text x="411.82" y="222.60" font-size="6.9" font-weight="400" fill="#404040" text-anchor="start" transform="rotate(90 411.82 222.60)" stroke="#404040" stroke-width="0.3">U_2_OS</text>
<text x="429.87" y="222.60" font-size="6.9" font-weight="400" fill="#404040" text-anchor="start" transform="rotate(90 429.87 222.60)" stroke="#404040" stroke-width="0.3">SJSA_1</text>
<text x="447.91" y="222.60" font-size="6.9" font-weight="400" fill="#404040" text-anchor="start" transform="rotate(90 447.91 222.60)" stroke="#404040" stroke-width="0.3">MG_63</text>
<text x="465.96" y="222.60" font-size="6.9" font-weight="400" fill="#404040" text-anchor="start" transform="rotate(90 465.96 222.60)" stroke="#404040" stroke-width="0.3">G_292</text>
<text x="484.00" y="222.60" font-size="6.9" font-weight="400" fill="#404040" text-anchor="start" transform="rotate(90 484.00 222.60)" stroke="#404040" stroke-width="0.3">HOS</text>
<text x="502.05" y="222.60" font-size="6.9" font-weight="400" fill="#404040" text-anchor="start" transform="rotate(90 502.05 222.60)" stroke="#404040" stroke-width="0.3">CAL_72</text>
<text x="520.10" y="222.60" font-size="6.9" font-weight="400" fill="#404040" text-anchor="start" transform="rotate(90 520.10 222.60)" stroke="#404040" stroke-width="0.3">HUO_3N1</text>
<text x="538.14" y="222.60" font-size="6.9" font-weight="400" fill="#404040" text-anchor="start" transform="rotate(90 538.14 222.60)" stroke="#404040" stroke-width="0.3">NY</text>
<text x="556.19" y="222.60" font-size="6.9" font-weight="400" fill="#404040" text-anchor="start" transform="rotate(90 556.19 222.60)" stroke="#404040" stroke-width="0.3">SAOS_2</text>
<text x="574.23" y="222.60" font-size="6.9" font-weight="400" fill="#404040" text-anchor="start" transform="rotate(90 574.23 222.60)" stroke="#404040" stroke-width="0.3">HUO9</text>
<text x="592.28" y="222.60" font-size="6.9" font-weight="400" fill="#404040" text-anchor="start" transform="rotate(90 592.28 222.60)" stroke="#404040" stroke-width="0.3">NOS_1</text>
<text x="96.40" y="482.40" font-size="8.0" font-weight="400" fill="#404040" text-anchor="start" transform="rotate(90 96.40 482.40)" stroke="#404040" stroke-width="0.25">U_2_OS</text>
<text x="114.80" y="482.40" font-size="8.0" font-weight="400" fill="#404040" text-anchor="start" transform="rotate(90 114.80 482.40)" stroke="#404040" stroke-width="0.25">CAL_72</text>
<text x="133.20" y="482.40" font-size="8.0" font-weight="400" fill="#404040" text-anchor="start" transform="rotate(90 133.20 482.40)" stroke="#404040" stroke-width="0.25">HUO_3N1</text>
<text x="151.60" y="482.40" font-size="8.0" font-weight="400" fill="#404040" text-anchor="start" transform="rotate(90 151.60 482.40)" stroke="#404040" stroke-width="0.25">NY</text>
<text x="170.00" y="482.40" font-size="8.0" font-weight="400" fill="#404040" text-anchor="start" transform="rotate(90 170.00 482.40)" stroke="#404040" stroke-width="0.25">G_292</text>
<text x="188.40" y="482.40" font-size="8.0" font-weight="400" fill="#404040" text-anchor="start" transform="rotate(90 188.40 482.40)" stroke="#404040" stroke-width="0.25">SAOS_2</text>
<text x="206.80" y="482.40" font-size="8.0" font-weight="400" fill="#404040" text-anchor="start" transform="rotate(90 206.80 482.40)" stroke="#404040" stroke-width="0.25">HUO9</text>
<text x="225.20" y="482.40" font-size="8.0" font-weight="400" fill="#404040" text-anchor="start" transform="rotate(90 225.20 482.40)" stroke="#404040" stroke-width="0.25">NOS_1</text>
<text x="243.60" y="482.40" font-size="8.0" font-weight="400" fill="#404040" text-anchor="start" transform="rotate(90 243.60 482.40)" stroke="#404040" stroke-width="0.25">MG_63</text>
<text x="262.00" y="482.40" font-size="8.0" font-weight="400" fill="#404040" text-anchor="start" transform="rotate(90 262.00 482.40)" stroke="#404040" stroke-width="0.25">SJSA_1</text>
<text x="280.40" y="482.40" font-size="8.0" font-weight="400" fill="#404040" text-anchor="start" transform="rotate(90 280.40 482.40)" stroke="#404040" stroke-width="0.25">HOS</text>
<text x="410.41" y="484.00" font-size="8.0" font-weight="400" fill="#404040" text-anchor="start" transform="rotate(90 410.41 484.00)" stroke="#404040" stroke-width="0.25">U_2_OS</text>
<text x="428.83" y="484.00" font-size="8.0" font-weight="400" fill="#404040" text-anchor="start" transform="rotate(90 428.83 484.00)" stroke="#404040" stroke-width="0.25">SJSA_1</text>
<text x="447.25" y="484.00" font-size="8.0" font-weight="400" fill="#404040" text-anchor="start" transform="rotate(90 447.25 484.00)" stroke="#404040" stroke-width="0.25">HOS</text>
<text x="465.66" y="484.00" font-size="8.0" font-weight="400" fill="#404040" text-anchor="start" transform="rotate(90 465.66 484.00)" stroke="#404040" stroke-width="0.25">G_292</text>
<text x="484.08" y="484.00" font-size="8.0" font-weight="400" fill="#404040" text-anchor="start" transform="rotate(90 484.08 484.00)" stroke="#404040" stroke-width="0.25">MG_63</text>
<text x="502.50" y="484.00" font-size="8.0" font-weight="400" fill="#404040" text-anchor="start" transform="rotate(90 502.50 484.00)" stroke="#404040" stroke-width="0.25">HUO_3N1</text>
<text x="520.92" y="484.00" font-size="8.0" font-weight="400" fill="#404040" text-anchor="start" transform="rotate(90 520.92 484.00)" stroke="#404040" stroke-width="0.25">SAOS_2</text>
<text x="539.34" y="484.00" font-size="8.0" font-weight="400" fill="#404040" text-anchor="start" transform="rotate(90 539.34 484.00)" stroke="#404040" stroke-width="0.25">HUO9</text>
<text x="557.75" y="484.00" font-size="8.0" font-weight="400" fill="#404040" text-anchor="start" transform="rotate(90 557.75 484.00)" stroke="#404040" stroke-width="0.25">NOS_1</text>
<text x="576.17" y="484.00" font-size="8.0" font-weight="400" fill="#404040" text-anchor="start" transform="rotate(90 576.17 484.00)" stroke="#404040" stroke-width="0.25">CAL_72</text>
<text x="594.59" y="484.00" font-size="8.0" font-weight="400" fill="#404040" text-anchor="start" transform="rotate(90 594.59 484.00)" stroke="#404040" stroke-width="0.25">NY</text>
<text x="374.90" y="222.90" font-size="9" font-weight="700" fill="#000" text-anchor="start" transform="rotate(90 374.90 222.90)">Concordance</text>
<text x="384.60" y="222.90" font-size="9" font-weight="700" fill="#000" text-anchor="start" transform="rotate(90 384.60 222.90)">Enhancer</text>
<text x="394.60" y="223.90" font-size="9" font-weight="700" fill="#000" text-anchor="start" transform="rotate(90 394.60 223.90)">Region</text>
<text x="61.50" y="484.60" font-size="9" font-weight="700" fill="#000" text-anchor="start" transform="rotate(90 61.50 484.60)">Concord.</text>
<text x="71.60" y="484.00" font-size="9" font-weight="700" fill="#000" text-anchor="start" transform="rotate(90 71.60 484.00)">Enhancer</text>
<text x="81.80" y="484.60" font-size="9" font-weight="700" fill="#000" text-anchor="start" transform="rotate(90 81.80 484.60)">Region</text>
<text x="373.40" y="484.30" font-size="9" font-weight="700" fill="#000" text-anchor="start" transform="rotate(90 373.40 484.30)">Concord.</text>
<text x="383.00" y="484.30" font-size="9" font-weight="700" fill="#000" text-anchor="start" transform="rotate(90 383.00 484.30)">Enhancer</text>
<text x="393.80" y="484.30" font-size="9" font-weight="700" fill="#000" text-anchor="start" transform="rotate(90 393.80 484.30)">Region</text>
<defs><linearGradient id="cb" x1="0" y1="0" x2="0" y2="1"><stop offset="0.0" stop-color="#67001F"/><stop offset="0.1" stop-color="#B2182B"/><stop offset="0.2" stop-color="#D6604D"/><stop offset="0.3" stop-color="#F4A582"/><stop offset="0.4" stop-color="#FDDBC7"/><stop offset="0.5" stop-color="#F7F7F7"/><stop offset="0.6" stop-color="#D1E5F0"/><stop offset="0.7" stop-color="#92C5DE"/><stop offset="0.8" stop-color="#4393C3"/><stop offset="0.9" stop-color="#2166AC"/><stop offset="1.0" stop-color="#053061"/></linearGradient></defs>
<rect x="636.30" y="22.50" width="8.70" height="137.80" fill="url(#cb)"/>
<text x="648.60" y="27.60" font-size="8.6" font-weight="400" fill="#333333" text-anchor="start" stroke="#333" stroke-width="0.2">2</text>
<text x="648.60" y="62.10" font-size="8.6" font-weight="400" fill="#333333" text-anchor="start" stroke="#333" stroke-width="0.2">1</text>
<text x="648.60" y="96.40" font-size="8.6" font-weight="400" fill="#333333" text-anchor="start" stroke="#333" stroke-width="0.2">0</text>
<text x="647.60" y="131.80" font-size="8.6" font-weight="400" fill="#333333" text-anchor="start" stroke="#333" stroke-width="0.2">-1</text>
<text x="647.60" y="166.30" font-size="8.6" font-weight="400" fill="#333333" text-anchor="start" stroke="#333" stroke-width="0.2">-2</text>
<text x="628.30" y="88.20" font-size="8.8" font-weight="700" fill="#000" text-anchor="middle" transform="rotate(-90 628.30 88.20)">Z-scored M values</text>
<text x="619.00" y="193.80" font-size="9" font-weight="700" fill="#000" text-anchor="start">TARGET-GDSC</text>
<text x="619.00" y="204.40" font-size="9" font-weight="700" fill="#000" text-anchor="start">Concordance</text>
<rect x="619.00" y="212.20" width="14.80" height="14.40" fill="#FFA500"/>
<text x="638.00" y="222.90" font-size="8.7" font-weight="400" fill="#333333" text-anchor="start" stroke="#333" stroke-width="0.2">concordant</text>
<text x="619.00" y="245.70" font-size="9" font-weight="700" fill="#000" text-anchor="start">Enhancer</text>
<rect x="619.00" y="249.80" width="14.80" height="14.30" fill="#BEBEBE"/>
<text x="638.00" y="260.40" font-size="8.7" font-weight="400" fill="#333333" text-anchor="start" stroke="#333" stroke-width="0.2">Enhancer</text>
<text x="619.00" y="283.80" font-size="9" font-weight="700" fill="#000" text-anchor="start">Region</text>
<rect x="619.00" y="287.00" width="14.80" height="14.95" fill="#F58FD2"/>
<text x="637.80" y="298.60" font-size="8.7" font-weight="400" fill="#333333" text-anchor="start" stroke="#333" stroke-width="0.2">Island</text>
<rect x="619.00" y="301.95" width="14.80" height="14.95" fill="#F5CDE4"/>
<text x="637.80" y="313.55" font-size="8.7" font-weight="400" fill="#333333" text-anchor="start" stroke="#333" stroke-width="0.2">Shore</text>
<rect x="619.00" y="316.90" width="14.80" height="14.95" fill="#BDE6DF"/>
<text x="637.80" y="328.50" font-size="8.7" font-weight="400" fill="#333333" text-anchor="start" stroke="#333" stroke-width="0.2">Shelf</text>
<rect x="619.00" y="331.85" width="14.80" height="14.95" fill="#1FCBB5"/>
<text x="637.80" y="343.45" font-size="8.7" font-weight="400" fill="#333333" text-anchor="start" stroke="#333" stroke-width="0.2">Open_Sea</text>
</svg>
</body></html>
